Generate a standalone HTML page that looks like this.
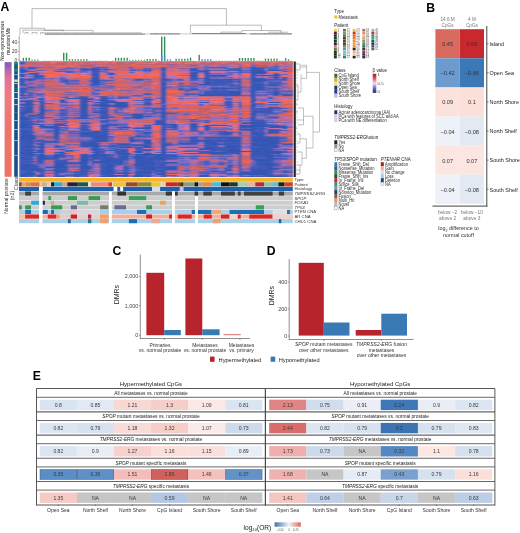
<!DOCTYPE html>
<html><head><meta charset="utf-8"><style>
html,body{margin:0;padding:0;background:#fff;}
svg{display:block;filter:blur(0.3px);}
text{font-family:"Liberation Sans",sans-serif;}
</style></head><body>
<svg width="520" height="533" viewBox="0 0 520 533">
<rect x="0" y="0" width="520" height="533" fill="#ffffff"/>
<text x="0.60" y="11.00" font-size="12.2" text-anchor="start" fill="#000" font-weight="bold" font-style="normal" >A</text>
<text x="426.30" y="11.60" font-size="12.2" text-anchor="start" fill="#000" font-weight="bold" font-style="normal" >B</text>
<text x="112.60" y="254.80" font-size="12.2" text-anchor="start" fill="#000" font-weight="bold" font-style="normal" >C</text>
<text x="266.80" y="254.50" font-size="12.2" text-anchor="start" fill="#000" font-weight="bold" font-style="normal" >D</text>
<text x="32.80" y="379.80" font-size="12.2" text-anchor="start" fill="#000" font-weight="bold" font-style="normal" >E</text>
<path d="M32,8.6 H226.4 M32,8.6 V28.2 M226.4,8.6 V25.2 M20,28.2 H44.6 M20,28.2 V35 M44.6,28.2 V30.4 M190.4,25.2 H261.4 M190.4,25.2 V33.4 M261.4,25.2 V30.5 M242,30.5 H281 M242,30.5 V32.2 M281,30.5 V33 M23,30.1 H63.5 M23,30.1 V33 M63.5,30.1 V31.2 M44.6,30.4 H93 M93,30.4 V32.8 M42,32.8 H141.7 M221,32.1 H242 M221,32.1 V33.5 M268,32.2 H288 M25,32.5 H28 M25,32.5 V34.3 M28,32.5 V34.3 M32,32.6 H37 M32,32.6 V34.3 M37,32.6 V34.3 M40.5,32.7 H43 M40.5,32.7 V34.3" stroke="#666" stroke-width="0.45" fill="none"/>
<path d="M44.6,34.1 H145 M150,33.9 H180 M191.8,33.7 H246 M250,33.9 H292" stroke="#3a3a3a" stroke-width="0.75" fill="none"/>
<path d="M145,33.9 H150 M180,33.9 H191.8 M246,33.9 H250" stroke="#999" stroke-width="0.5" fill="none"/>
<path d="M48,32.9 V34.2" stroke="#777" stroke-width="0.35" fill="none"/>
<path d="M52,32.9 V34.2" stroke="#777" stroke-width="0.35" fill="none"/>
<path d="M58,32.9 V34.2" stroke="#777" stroke-width="0.35" fill="none"/>
<path d="M66,32.9 V34.2" stroke="#777" stroke-width="0.35" fill="none"/>
<path d="M75,32.9 V34.2" stroke="#777" stroke-width="0.35" fill="none"/>
<path d="M90,32.9 V34.2" stroke="#777" stroke-width="0.35" fill="none"/>
<path d="M104,32.9 V34.2" stroke="#777" stroke-width="0.35" fill="none"/>
<path d="M120,32.9 V34.2" stroke="#777" stroke-width="0.35" fill="none"/>
<path d="M136,32.9 V34.2" stroke="#777" stroke-width="0.35" fill="none"/>
<path d="M156,32.9 V34.2" stroke="#777" stroke-width="0.35" fill="none"/>
<path d="M170,32.9 V34.2" stroke="#777" stroke-width="0.35" fill="none"/>
<path d="M200,32.9 V34.2" stroke="#777" stroke-width="0.35" fill="none"/>
<path d="M210,32.9 V34.2" stroke="#777" stroke-width="0.35" fill="none"/>
<path d="M230,32.9 V34.2" stroke="#777" stroke-width="0.35" fill="none"/>
<path d="M255,32.9 V34.2" stroke="#777" stroke-width="0.35" fill="none"/>
<path d="M265,32.9 V34.2" stroke="#777" stroke-width="0.35" fill="none"/>
<path d="M275,32.9 V34.2" stroke="#777" stroke-width="0.35" fill="none"/>
<path d="M283,32.9 V34.2" stroke="#777" stroke-width="0.35" fill="none"/>
<path d="M289,32.9 V34.2" stroke="#777" stroke-width="0.35" fill="none"/>
<line x1="19.20" y1="35.50" x2="19.20" y2="61.00" stroke="#555" stroke-width="0.5"/>
<line x1="18.00" y1="42.40" x2="19.20" y2="42.40" stroke="#555" stroke-width="0.5"/>
<text x="17.50" y="44.20" font-size="5.2" text-anchor="end" fill="#444" font-weight="normal" font-style="normal" >40</text>
<line x1="18.00" y1="51.30" x2="19.20" y2="51.30" stroke="#555" stroke-width="0.5"/>
<text x="17.50" y="53.10" font-size="5.2" text-anchor="end" fill="#444" font-weight="normal" font-style="normal" >20</text>
<line x1="18.00" y1="60.20" x2="19.20" y2="60.20" stroke="#555" stroke-width="0.5"/>
<text x="17.50" y="62.00" font-size="5.2" text-anchor="end" fill="#444" font-weight="normal" font-style="normal" >0</text>
<text transform="translate(4.4,41) rotate(-90)" font-size="5.3" text-anchor="middle" fill="#1a1a1a" textLength="40" lengthAdjust="spacingAndGlyphs">Non-synonymous</text>
<text transform="translate(9.9,41.3) rotate(-90)" font-size="5.3" text-anchor="middle" fill="#1a1a1a" textLength="27" lengthAdjust="spacingAndGlyphs">mutation/Mb</text>
<rect x="19.80" y="60.00" width="1.40" height="0.80" fill="#c9c9c9" />
<rect x="22.68" y="57.80" width="1.40" height="3.00" fill="#2f8f55" />
<rect x="25.57" y="57.80" width="1.40" height="3.00" fill="#2f8f55" />
<rect x="28.45" y="57.80" width="1.40" height="3.00" fill="#2f8f55" />
<rect x="31.33" y="59.60" width="1.40" height="1.20" fill="#3b8f6a" />
<rect x="34.21" y="59.60" width="1.40" height="1.20" fill="#3b8f6a" />
<rect x="37.09" y="59.60" width="1.40" height="1.20" fill="#3b8f6a" />
<rect x="42.86" y="60.00" width="1.40" height="0.80" fill="#d8c8c8" />
<rect x="45.74" y="60.00" width="1.40" height="0.80" fill="#d8c8c8" />
<rect x="48.62" y="60.00" width="1.40" height="0.80" fill="#d8c8c8" />
<rect x="51.50" y="60.00" width="1.40" height="0.80" fill="#d8c8c8" />
<rect x="54.38" y="60.00" width="1.40" height="0.80" fill="#d8c8c8" />
<rect x="57.27" y="60.00" width="1.40" height="0.80" fill="#d8c8c8" />
<rect x="60.15" y="60.00" width="1.40" height="0.80" fill="#d8c8c8" />
<rect x="63.03" y="52.80" width="1.40" height="8.00" fill="#2f8f55" />
<rect x="65.91" y="52.80" width="1.40" height="8.00" fill="#2f8f55" />
<rect x="68.80" y="59.20" width="1.40" height="1.60" fill="#2f8f55" />
<rect x="71.68" y="59.20" width="1.40" height="1.60" fill="#2f8f55" />
<rect x="74.56" y="59.20" width="1.40" height="1.60" fill="#2f8f55" />
<rect x="77.44" y="59.20" width="1.40" height="1.60" fill="#2f8f55" />
<rect x="80.32" y="59.20" width="1.40" height="1.60" fill="#2f8f55" />
<rect x="83.20" y="59.20" width="1.40" height="1.60" fill="#2f8f55" />
<rect x="86.09" y="59.20" width="1.40" height="1.60" fill="#2f8f55" />
<rect x="88.97" y="60.00" width="1.40" height="0.80" fill="#d8c8c8" />
<rect x="91.85" y="60.00" width="1.40" height="0.80" fill="#d8c8c8" />
<rect x="94.73" y="60.00" width="1.40" height="0.80" fill="#d8c8c8" />
<rect x="97.62" y="60.00" width="1.40" height="0.80" fill="#d8c8c8" />
<rect x="100.50" y="60.00" width="1.40" height="0.80" fill="#d8c8c8" />
<rect x="103.38" y="60.00" width="1.40" height="0.80" fill="#d8c8c8" />
<rect x="106.26" y="60.00" width="1.40" height="0.80" fill="#d8c8c8" />
<rect x="112.03" y="60.00" width="1.40" height="0.80" fill="#c9c9c9" />
<rect x="114.91" y="57.80" width="1.40" height="3.00" fill="#2f8f55" />
<rect x="117.79" y="57.80" width="1.40" height="3.00" fill="#2f8f55" />
<rect x="120.67" y="57.80" width="1.40" height="3.00" fill="#2f8f55" />
<rect x="123.55" y="57.80" width="1.40" height="3.00" fill="#2f8f55" />
<rect x="126.44" y="57.80" width="1.40" height="3.00" fill="#2f8f55" />
<rect x="129.32" y="59.80" width="1.40" height="1.00" fill="#3b8f6a" />
<rect x="132.20" y="59.80" width="1.40" height="1.00" fill="#3b8f6a" />
<rect x="135.08" y="59.80" width="1.40" height="1.00" fill="#3b8f6a" />
<rect x="137.96" y="59.80" width="1.40" height="1.00" fill="#3b8f6a" />
<rect x="140.84" y="59.80" width="1.40" height="1.00" fill="#3b8f6a" />
<rect x="143.73" y="59.80" width="1.40" height="1.00" fill="#3b8f6a" />
<rect x="146.61" y="59.00" width="1.40" height="1.80" fill="#2f8f55" />
<rect x="149.49" y="59.00" width="1.40" height="1.80" fill="#2f8f55" />
<rect x="152.37" y="59.00" width="1.40" height="1.80" fill="#2f8f55" />
<rect x="155.26" y="59.00" width="1.40" height="1.80" fill="#2f8f55" />
<rect x="158.14" y="59.90" width="1.40" height="0.90" fill="#e0c0a0" />
<rect x="161.02" y="36.60" width="1.40" height="24.20" fill="#2f8f55" />
<rect x="163.90" y="36.60" width="1.40" height="24.20" fill="#2f8f55" />
<rect x="166.78" y="59.30" width="1.40" height="1.50" fill="#3a8ad0" />
<rect x="169.67" y="59.30" width="1.40" height="1.50" fill="#3a8ad0" />
<rect x="175.43" y="58.80" width="1.40" height="2.00" fill="#2f8f55" />
<rect x="178.31" y="58.80" width="1.40" height="2.00" fill="#2f8f55" />
<rect x="181.19" y="58.80" width="1.40" height="2.00" fill="#2f8f55" />
<rect x="184.08" y="58.80" width="1.40" height="2.00" fill="#2f8f55" />
<rect x="186.96" y="58.80" width="1.40" height="2.00" fill="#2f8f55" />
<rect x="189.84" y="57.60" width="1.40" height="3.20" fill="#2f8f55" />
<rect x="192.72" y="60.00" width="1.40" height="0.80" fill="#c9c9c9" />
<rect x="198.49" y="54.80" width="1.40" height="6.00" fill="#2f8f55" />
<rect x="201.37" y="59.20" width="1.40" height="1.60" fill="#3a7fb0" />
<rect x="204.25" y="59.20" width="1.40" height="1.60" fill="#3a7fb0" />
<rect x="207.13" y="59.20" width="1.40" height="1.60" fill="#3a7fb0" />
<rect x="210.01" y="59.20" width="1.40" height="1.60" fill="#3a7fb0" />
<rect x="212.90" y="60.00" width="1.40" height="0.80" fill="#d0c8d0" />
<rect x="215.78" y="60.00" width="1.40" height="0.80" fill="#d0c8d0" />
<rect x="218.66" y="60.00" width="1.40" height="0.80" fill="#d0c8d0" />
<rect x="221.54" y="60.00" width="1.40" height="0.80" fill="#d0c8d0" />
<rect x="224.42" y="60.00" width="1.40" height="0.80" fill="#d0c8d0" />
<rect x="227.31" y="60.00" width="1.40" height="0.80" fill="#d0c8d0" />
<rect x="230.19" y="60.00" width="1.40" height="0.80" fill="#d0c8d0" />
<rect x="233.07" y="60.00" width="1.40" height="0.80" fill="#d0c8d0" />
<rect x="235.95" y="60.00" width="1.40" height="0.80" fill="#d0c8d0" />
<rect x="238.83" y="58.00" width="1.40" height="2.80" fill="#2f8f55" />
<rect x="241.72" y="58.00" width="1.40" height="2.80" fill="#2f8f55" />
<rect x="244.60" y="58.00" width="1.40" height="2.80" fill="#2f8f55" />
<rect x="247.48" y="58.00" width="1.40" height="2.80" fill="#2f8f55" />
<rect x="250.36" y="58.00" width="1.40" height="2.80" fill="#2f8f55" />
<rect x="253.24" y="58.00" width="1.40" height="2.80" fill="#2f8f55" />
<rect x="256.12" y="60.00" width="1.40" height="0.80" fill="#d0c8d0" />
<rect x="259.01" y="60.00" width="1.40" height="0.80" fill="#d0c8d0" />
<rect x="261.89" y="60.00" width="1.40" height="0.80" fill="#d0c8d0" />
<rect x="264.77" y="58.60" width="1.40" height="2.20" fill="#2f8f55" />
<rect x="267.65" y="58.60" width="1.40" height="2.20" fill="#2f8f55" />
<rect x="270.54" y="58.60" width="1.40" height="2.20" fill="#2f8f55" />
<rect x="273.42" y="58.60" width="1.40" height="2.20" fill="#2f8f55" />
<rect x="276.30" y="58.60" width="1.40" height="2.20" fill="#2f8f55" />
<rect x="279.18" y="60.00" width="1.40" height="0.80" fill="#d0c8d0" />
<rect x="282.06" y="60.00" width="1.40" height="0.80" fill="#d0c8d0" />
<rect x="284.95" y="58.20" width="1.40" height="2.60" fill="#2f8f55" />
<rect x="287.83" y="59.30" width="1.40" height="1.50" fill="#2f8f55" />
<rect x="290.71" y="60.00" width="1.40" height="0.80" fill="#c9c9c9" />
<rect x="161.02" y="55.70" width="1.40" height="5.10" fill="#3f8fd0" />
<rect x="163.90" y="55.70" width="1.40" height="5.10" fill="#3f8fd0" />
<defs><linearGradient id="gl" x1="0" y1="0" x2="0" y2="1"><stop offset="0" stop-color="#7a5cc0"/><stop offset="0.06" stop-color="#ad66b2"/><stop offset="0.13" stop-color="#de7098"/><stop offset="0.3" stop-color="#f07a84"/><stop offset="0.55" stop-color="#f0746e"/><stop offset="1" stop-color="#f07262"/></linearGradient><linearGradient id="gb" x1="0" y1="0" x2="1" y2="0"><stop offset="0" stop-color="#3a66b8"/><stop offset="0.5" stop-color="#ffffff"/><stop offset="1" stop-color="#dd7060"/></linearGradient><linearGradient id="gbeta" x1="0" y1="0" x2="0" y2="1"><stop offset="0" stop-color="#a81818"/><stop offset="0.22" stop-color="#e84444"/><stop offset="0.5" stop-color="#f2dde8"/><stop offset="0.75" stop-color="#6a72c8"/><stop offset="1" stop-color="#1a2470"/></linearGradient><filter id="blur" x="0" y="0" width="1" height="1"><feGaussianBlur stdDeviation="0.8 0.45"/></filter></defs>
<rect x="4.60" y="62.20" width="7.00" height="114.60" fill="url(#gl)" />
<rect x="14.20" y="62.20" width="3.60" height="114.60" fill="#1b4f86" />
<rect x="14.20" y="62.20" width="3.60" height="2.30" fill="#2a8a6a" />
<rect x="14.20" y="66.00" width="3.60" height="1.50" fill="#1a6a60" />
<rect x="14.20" y="69.00" width="3.60" height="2.50" fill="#2a9070" />
<rect x="14.20" y="74.00" width="3.60" height="1.00" fill="#78b8c8" />
<rect x="14.20" y="79.50" width="3.60" height="2.30" fill="#e8e0a0" />
<rect x="14.20" y="83.00" width="3.60" height="1.00" fill="#8ad0d8" />
<rect x="14.20" y="88.00" width="3.60" height="1.50" fill="#2a7a6a" />
<rect x="14.20" y="92.00" width="3.60" height="1.00" fill="#a0d8e8" />
<rect x="14.20" y="98.00" width="3.60" height="1.00" fill="#c0e0f0" />
<rect x="14.20" y="104.00" width="3.60" height="1.00" fill="#a0d0e8" />
<rect x="14.20" y="112.00" width="3.60" height="1.00" fill="#3a8a7a" />
<rect x="14.20" y="120.00" width="3.60" height="1.00" fill="#90c8e0" />
<rect x="14.20" y="129.00" width="3.60" height="1.00" fill="#a0d0e8" />
<rect x="14.20" y="140.00" width="3.60" height="1.00" fill="#80c0d8" />
<rect x="14.20" y="155.00" width="3.60" height="1.00" fill="#70b0d0" />
<g filter="url(#blur)">
<rect x="19.00" y="61.50" width="274.60" height="115.50" fill="#3157b4" />
<path fill="#3b59b8" d="M19.0 62.46h2.94v1.01h-2.94zM258.9 65.35h2.94v1.01h-2.94zM19.0 67.28h2.94v1.01h-2.94zM250.2 67.28h2.94v1.01h-2.94zM33.5 68.24h2.94v1.01h-2.94zM79.7 68.24h2.94v1.01h-2.94zM97.0 68.24h2.94v1.01h-2.94zM149.1 68.24h2.94v1.01h-2.94zM230.0 68.24h8.72v1.01h-8.72zM253.1 68.24h8.72v1.01h-8.72zM19.0 69.20h2.94v1.01h-2.94zM59.5 69.20h2.94v1.01h-2.94zM149.1 69.20h2.94v1.01h-2.94zM195.3 69.20h2.94v1.01h-2.94zM250.2 69.20h11.61v1.01h-11.61zM24.8 70.16h2.94v1.01h-2.94zM209.8 70.16h8.72v1.01h-8.72zM221.3 70.16h2.94v1.01h-2.94zM253.1 70.16h5.83v1.01h-5.83zM261.8 70.16h2.94v1.01h-2.94zM238.7 71.12h2.94v1.01h-2.94zM250.2 71.12h5.83v1.01h-5.83zM19.0 72.09h5.83v1.01h-5.83zM91.3 72.09h2.94v1.01h-2.94zM160.6 72.09h2.94v1.01h-2.94zM204.0 72.09h5.83v1.01h-5.83zM238.7 72.09h2.94v1.01h-2.94zM36.3 73.05h2.94v1.01h-2.94zM91.3 73.05h8.72v1.01h-8.72zM94.2 74.01h5.83v1.01h-5.83zM192.4 74.01h5.83v1.01h-5.83zM204.0 74.01h5.83v1.01h-5.83zM250.2 74.01h5.83v1.01h-5.83zM36.3 74.97h2.94v1.01h-2.94zM163.5 74.97h2.94v1.01h-2.94zM206.9 74.97h2.94v1.01h-2.94zM267.6 74.97h2.94v1.01h-2.94zM19.0 75.94h2.94v1.01h-2.94zM94.2 75.94h5.83v1.01h-5.83zM160.6 75.94h2.94v1.01h-2.94zM212.7 75.94h2.94v1.01h-2.94zM221.3 75.94h2.94v1.01h-2.94zM273.4 75.94h2.94v1.01h-2.94zM33.5 76.90h5.83v1.01h-5.83zM91.3 76.90h8.72v1.01h-8.72zM111.5 76.90h2.94v1.01h-2.94zM189.5 76.90h8.72v1.01h-8.72zM206.9 76.90h2.94v1.01h-2.94zM253.1 76.90h2.94v1.01h-2.94zM36.3 77.86h5.83v1.01h-5.83zM97.0 77.86h2.94v1.01h-2.94zM253.1 77.86h2.94v1.01h-2.94zM273.4 77.86h5.83v1.01h-5.83zM91.3 78.83h8.72v1.01h-8.72zM137.5 78.83h5.83v1.01h-5.83zM166.4 78.83h2.94v1.01h-2.94zM206.9 78.83h5.83v1.01h-5.83zM221.3 78.83h2.94v1.01h-2.94zM256.0 78.83h2.94v1.01h-2.94zM270.5 78.83h2.94v1.01h-2.94zM282.0 78.83h2.94v1.01h-2.94zM19.0 79.79h2.94v1.01h-2.94zM27.7 79.79h2.94v1.01h-2.94zM137.5 79.79h5.83v1.01h-5.83zM160.6 79.79h2.94v1.01h-2.94zM180.9 79.79h2.94v1.01h-2.94zM195.3 79.79h2.94v1.01h-2.94zM204.0 79.79h2.94v1.01h-2.94zM212.7 79.79h8.72v1.01h-8.72zM230.0 79.79h2.94v1.01h-2.94zM261.8 79.79h2.94v1.01h-2.94zM19.0 80.75h5.83v1.01h-5.83zM204.0 80.75h2.94v1.01h-2.94zM218.4 80.75h2.94v1.01h-2.94zM253.1 80.75h8.72v1.01h-8.72zM19.0 81.71h2.94v1.01h-2.94zM91.3 81.71h2.94v1.01h-2.94zM227.1 81.71h5.83v1.01h-5.83zM253.1 81.71h2.94v1.01h-2.94zM270.5 81.71h2.94v1.01h-2.94zM279.1 81.71h2.94v1.01h-2.94zM19.0 82.67h2.94v1.01h-2.94zM65.2 82.67h2.94v1.01h-2.94zM91.3 82.67h2.94v1.01h-2.94zM36.3 83.64h2.94v1.01h-2.94zM42.1 83.64h2.94v1.01h-2.94zM68.1 83.64h2.94v1.01h-2.94zM73.9 83.64h5.83v1.01h-5.83zM99.9 83.64h5.83v1.01h-5.83zM160.6 83.64h2.94v1.01h-2.94zM169.3 83.64h2.94v1.01h-2.94zM209.8 83.64h2.94v1.01h-2.94zM215.6 83.64h5.83v1.01h-5.83zM230.0 83.64h2.94v1.01h-2.94zM238.7 83.64h2.94v1.01h-2.94zM250.2 83.64h2.94v1.01h-2.94zM264.7 83.64h2.94v1.01h-2.94zM276.3 83.64h2.94v1.01h-2.94zM24.8 84.60h2.94v1.01h-2.94zM94.2 84.60h5.83v1.01h-5.83zM212.7 84.60h2.94v1.01h-2.94zM218.4 84.60h5.83v1.01h-5.83zM253.1 84.60h5.83v1.01h-5.83zM163.5 85.56h2.94v1.01h-2.94zM183.8 85.56h2.94v1.01h-2.94zM230.0 85.56h2.94v1.01h-2.94zM253.1 85.56h8.72v1.01h-8.72zM27.7 86.53h5.83v1.01h-5.83zM97.0 86.53h2.94v1.01h-2.94zM160.6 86.53h2.94v1.01h-2.94zM253.1 86.53h2.94v1.01h-2.94zM33.5 87.49h2.94v1.01h-2.94zM42.1 87.49h2.94v1.01h-2.94zM227.1 87.49h2.94v1.01h-2.94zM253.1 87.49h2.94v1.01h-2.94zM258.9 87.49h5.83v1.01h-5.83zM19.0 88.45h2.94v1.01h-2.94zM192.4 88.45h2.94v1.01h-2.94zM250.2 88.45h14.50v1.01h-14.50zM267.6 88.45h2.94v1.01h-2.94zM273.4 88.45h5.83v1.01h-5.83zM27.7 89.41h2.94v1.01h-2.94zM178.0 89.41h5.83v1.01h-5.83zM189.5 89.41h2.94v1.01h-2.94zM195.3 89.41h2.94v1.01h-2.94zM19.0 90.38h5.83v1.01h-5.83zM117.3 90.38h5.83v1.01h-5.83zM125.9 90.38h2.94v1.01h-2.94zM206.9 90.38h8.72v1.01h-8.72zM253.1 90.38h2.94v1.01h-2.94zM276.3 90.38h2.94v1.01h-2.94zM19.0 91.34h2.94v1.01h-2.94zM209.8 91.34h2.94v1.01h-2.94zM215.6 91.34h5.83v1.01h-5.83zM232.9 91.34h2.94v1.01h-2.94zM273.4 91.34h2.94v1.01h-2.94zM282.0 91.34h2.94v1.01h-2.94zM290.7 91.34h2.94v1.01h-2.94zM19.0 92.30h5.83v1.01h-5.83zM206.9 92.30h2.94v1.01h-2.94zM215.6 92.30h8.72v1.01h-8.72zM276.3 92.30h2.94v1.01h-2.94zM30.6 93.26h2.94v1.01h-2.94zM146.2 93.26h5.83v1.01h-5.83zM186.7 93.26h2.94v1.01h-2.94zM204.0 93.26h2.94v1.01h-2.94zM215.6 93.26h2.94v1.01h-2.94zM221.3 93.26h2.94v1.01h-2.94zM227.1 93.26h2.94v1.01h-2.94zM19.0 94.22h2.94v1.01h-2.94zM39.2 94.22h5.83v1.01h-5.83zM163.5 94.22h2.94v1.01h-2.94zM212.7 94.22h2.94v1.01h-2.94zM224.2 94.22h2.94v1.01h-2.94zM258.9 94.22h2.94v1.01h-2.94zM264.7 94.22h2.94v1.01h-2.94zM287.8 94.22h2.94v1.01h-2.94zM27.7 95.19h2.94v1.01h-2.94zM131.7 95.19h2.94v1.01h-2.94zM140.4 95.19h2.94v1.01h-2.94zM209.8 95.19h5.83v1.01h-5.83zM218.4 95.19h5.83v1.01h-5.83zM227.1 95.19h2.94v1.01h-2.94zM238.7 95.19h2.94v1.01h-2.94zM85.5 96.15h2.94v1.01h-2.94zM102.8 96.15h2.94v1.01h-2.94zM160.6 96.15h2.94v1.01h-2.94zM253.1 96.15h2.94v1.01h-2.94zM19.0 97.11h2.94v1.01h-2.94zM30.6 97.11h2.94v1.01h-2.94zM59.5 97.11h2.94v1.01h-2.94zM65.2 97.11h2.94v1.01h-2.94zM99.9 97.11h2.94v1.01h-2.94zM105.7 97.11h2.94v1.01h-2.94zM117.3 97.11h5.83v1.01h-5.83zM253.1 97.11h2.94v1.01h-2.94zM24.8 98.08h2.94v1.01h-2.94zM42.1 98.08h2.94v1.01h-2.94zM253.1 98.08h2.94v1.01h-2.94zM267.6 98.08h5.83v1.01h-5.83zM27.7 100.00h5.83v1.01h-5.83zM79.7 100.00h2.94v1.01h-2.94zM250.2 100.00h2.94v1.01h-2.94zM30.6 100.96h2.94v1.01h-2.94zM39.2 100.96h2.94v1.01h-2.94zM91.3 100.96h2.94v1.01h-2.94zM24.8 101.93h5.83v1.01h-5.83zM79.7 101.93h2.94v1.01h-2.94zM111.5 101.93h2.94v1.01h-2.94zM125.9 101.93h2.94v1.01h-2.94zM160.6 101.93h5.83v1.01h-5.83zM206.9 101.93h2.94v1.01h-2.94zM250.2 101.93h2.94v1.01h-2.94zM24.8 102.89h2.94v1.01h-2.94zM39.2 102.89h2.94v1.01h-2.94zM45.0 102.89h5.83v1.01h-5.83zM82.6 102.89h5.83v1.01h-5.83zM114.4 102.89h2.94v1.01h-2.94zM123.1 102.89h2.94v1.01h-2.94zM143.3 102.89h2.94v1.01h-2.94zM149.1 102.89h2.94v1.01h-2.94zM253.1 102.89h2.94v1.01h-2.94zM42.1 103.85h2.94v1.01h-2.94zM105.7 103.85h2.94v1.01h-2.94zM114.4 103.85h2.94v1.01h-2.94zM21.9 104.81h2.94v1.01h-2.94zM30.6 104.81h2.94v1.01h-2.94zM42.1 104.81h2.94v1.01h-2.94zM160.6 104.81h5.83v1.01h-5.83zM250.2 104.81h2.94v1.01h-2.94zM24.8 105.78h2.94v1.01h-2.94zM39.2 105.78h5.83v1.01h-5.83zM111.5 105.78h2.94v1.01h-2.94zM163.5 105.78h2.94v1.01h-2.94zM253.1 105.78h2.94v1.01h-2.94zM30.6 106.74h2.94v1.01h-2.94zM65.2 106.74h2.94v1.01h-2.94zM82.6 106.74h2.94v1.01h-2.94zM114.4 106.74h8.72v1.01h-8.72zM125.9 106.74h2.94v1.01h-2.94zM250.2 106.74h2.94v1.01h-2.94zM267.6 106.74h11.61v1.01h-11.61zM24.8 107.70h2.94v1.01h-2.94zM82.6 107.70h2.94v1.01h-2.94zM146.2 107.70h2.94v1.01h-2.94zM157.7 107.70h5.83v1.01h-5.83zM273.4 107.70h2.94v1.01h-2.94zM21.9 108.66h2.94v1.01h-2.94zM79.7 108.66h5.83v1.01h-5.83zM105.7 108.66h2.94v1.01h-2.94zM160.6 108.66h2.94v1.01h-2.94zM250.2 108.66h2.94v1.01h-2.94zM267.6 108.66h5.83v1.01h-5.83zM45.0 109.62h8.72v1.01h-8.72zM152.0 109.62h2.94v1.01h-2.94zM39.2 110.59h2.94v1.01h-2.94zM71.0 110.59h8.72v1.01h-8.72zM82.6 110.59h2.94v1.01h-2.94zM99.9 110.59h2.94v1.01h-2.94zM250.2 110.59h2.94v1.01h-2.94zM258.9 110.59h2.94v1.01h-2.94zM264.7 110.59h2.94v1.01h-2.94zM85.5 111.55h2.94v1.01h-2.94zM97.0 111.55h2.94v1.01h-2.94zM105.7 111.55h2.94v1.01h-2.94zM154.9 111.55h2.94v1.01h-2.94zM160.6 111.55h5.83v1.01h-5.83zM270.5 111.55h2.94v1.01h-2.94zM30.6 112.51h2.94v1.01h-2.94zM59.5 112.51h5.83v1.01h-5.83zM79.7 112.51h5.83v1.01h-5.83zM97.0 112.51h2.94v1.01h-2.94zM253.1 112.51h2.94v1.01h-2.94zM19.0 113.47h2.94v1.01h-2.94zM24.8 113.47h2.94v1.01h-2.94zM39.2 113.47h2.94v1.01h-2.94zM62.4 113.47h2.94v1.01h-2.94zM85.5 113.47h2.94v1.01h-2.94zM19.0 114.44h5.83v1.01h-5.83zM33.5 114.44h2.94v1.01h-2.94zM91.3 114.44h2.94v1.01h-2.94zM102.8 114.44h5.83v1.01h-5.83zM131.7 114.44h2.94v1.01h-2.94zM163.5 114.44h2.94v1.01h-2.94zM250.2 114.44h2.94v1.01h-2.94zM256.0 114.44h2.94v1.01h-2.94zM21.9 115.40h2.94v1.01h-2.94zM27.7 115.40h2.94v1.01h-2.94zM62.4 115.40h2.94v1.01h-2.94zM82.6 115.40h2.94v1.01h-2.94zM99.9 115.40h2.94v1.01h-2.94zM105.7 115.40h2.94v1.01h-2.94zM131.7 115.40h2.94v1.01h-2.94zM253.1 115.40h2.94v1.01h-2.94zM42.1 116.36h2.94v1.01h-2.94zM99.9 116.36h2.94v1.01h-2.94zM108.6 116.36h2.94v1.01h-2.94zM131.7 116.36h2.94v1.01h-2.94zM163.5 116.36h2.94v1.01h-2.94zM264.7 116.36h2.94v1.01h-2.94zM36.3 117.33h8.72v1.01h-8.72zM76.8 117.33h2.94v1.01h-2.94zM82.6 117.33h5.83v1.01h-5.83zM94.2 117.33h5.83v1.01h-5.83zM160.6 117.33h5.83v1.01h-5.83zM238.7 117.33h2.94v1.01h-2.94zM253.1 117.33h2.94v1.01h-2.94zM267.6 117.33h5.83v1.01h-5.83zM39.2 118.29h5.83v1.01h-5.83zM140.4 118.29h2.94v1.01h-2.94zM160.6 119.25h2.94v1.01h-2.94zM250.2 119.25h2.94v1.01h-2.94zM19.0 120.21h5.83v1.01h-5.83zM108.6 120.21h2.94v1.01h-2.94zM250.2 120.21h5.83v1.01h-5.83zM19.0 121.18h8.72v1.01h-8.72zM36.3 121.18h2.94v1.01h-2.94zM62.4 121.18h2.94v1.01h-2.94zM105.7 121.18h2.94v1.01h-2.94zM189.5 121.18h2.94v1.01h-2.94zM195.3 121.18h2.94v1.01h-2.94zM256.0 121.18h2.94v1.01h-2.94zM261.8 121.18h2.94v1.01h-2.94zM19.0 122.14h5.83v1.01h-5.83zM79.7 122.14h8.72v1.01h-8.72zM99.9 122.14h5.83v1.01h-5.83zM154.9 122.14h11.61v1.01h-11.61zM241.6 122.14h2.94v1.01h-2.94zM247.4 122.14h2.94v1.01h-2.94zM19.0 123.10h8.72v1.01h-8.72zM154.9 123.10h2.94v1.01h-2.94zM189.5 123.10h8.72v1.01h-8.72zM27.7 124.06h2.94v1.01h-2.94zM53.7 124.06h2.94v1.01h-2.94zM62.4 124.06h2.94v1.01h-2.94zM105.7 124.06h2.94v1.01h-2.94zM250.2 124.06h11.61v1.01h-11.61zM65.2 125.03h2.94v1.01h-2.94zM85.5 125.03h2.94v1.01h-2.94zM102.8 125.03h2.94v1.01h-2.94zM143.3 125.03h5.83v1.01h-5.83zM160.6 125.03h5.83v1.01h-5.83zM204.0 125.03h2.94v1.01h-2.94zM267.6 125.03h2.94v1.01h-2.94zM276.3 125.03h2.94v1.01h-2.94zM27.7 125.99h2.94v1.01h-2.94zM56.6 125.99h2.94v1.01h-2.94zM172.2 125.99h2.94v1.01h-2.94zM24.8 126.95h2.94v1.01h-2.94zM39.2 126.95h5.83v1.01h-5.83zM79.7 126.95h2.94v1.01h-2.94zM85.5 126.95h2.94v1.01h-2.94zM99.9 126.95h8.72v1.01h-8.72zM146.2 126.95h2.94v1.01h-2.94zM160.6 126.95h11.61v1.01h-11.61zM195.3 126.95h2.94v1.01h-2.94zM204.0 126.95h2.94v1.01h-2.94zM238.7 126.95h2.94v1.01h-2.94zM244.5 126.95h2.94v1.01h-2.94zM253.1 126.95h2.94v1.01h-2.94zM258.9 126.95h5.83v1.01h-5.83zM27.7 127.91h2.94v1.01h-2.94zM53.7 127.91h5.83v1.01h-5.83zM79.7 127.91h2.94v1.01h-2.94zM85.5 127.91h2.94v1.01h-2.94zM102.8 127.91h2.94v1.01h-2.94zM160.6 127.91h5.83v1.01h-5.83zM189.5 127.91h2.94v1.01h-2.94zM195.3 127.91h2.94v1.01h-2.94zM206.9 127.91h2.94v1.01h-2.94zM250.2 127.91h2.94v1.01h-2.94zM256.0 127.91h5.83v1.01h-5.83zM53.7 128.88h2.94v1.01h-2.94zM79.7 128.88h5.83v1.01h-5.83zM160.6 128.88h2.94v1.01h-2.94zM218.4 128.88h2.94v1.01h-2.94zM230.0 128.88h2.94v1.01h-2.94zM261.8 128.88h2.94v1.01h-2.94zM19.0 129.84h2.94v1.01h-2.94zM24.8 129.84h2.94v1.01h-2.94zM53.7 129.84h2.94v1.01h-2.94zM65.2 129.84h2.94v1.01h-2.94zM88.4 129.84h2.94v1.01h-2.94zM105.7 129.84h2.94v1.01h-2.94zM204.0 129.84h5.83v1.01h-5.83zM244.5 129.84h2.94v1.01h-2.94zM258.9 129.84h2.94v1.01h-2.94zM267.6 129.84h2.94v1.01h-2.94zM279.1 129.84h2.94v1.01h-2.94zM71.0 130.80h2.94v1.01h-2.94zM76.8 130.80h2.94v1.01h-2.94zM94.2 130.80h2.94v1.01h-2.94zM102.8 130.80h2.94v1.01h-2.94zM134.6 130.80h8.72v1.01h-8.72zM215.6 130.80h2.94v1.01h-2.94zM270.5 130.80h2.94v1.01h-2.94zM24.8 131.76h2.94v1.01h-2.94zM85.5 131.76h8.72v1.01h-8.72zM201.1 131.76h2.94v1.01h-2.94zM253.1 131.76h5.83v1.01h-5.83zM261.8 131.76h2.94v1.01h-2.94zM21.9 132.73h5.83v1.01h-5.83zM68.1 132.73h2.94v1.01h-2.94zM94.2 132.73h5.83v1.01h-5.83zM102.8 132.73h2.94v1.01h-2.94zM258.9 132.73h2.94v1.01h-2.94zM270.5 132.73h2.94v1.01h-2.94zM19.0 133.69h5.83v1.01h-5.83zM30.6 133.69h2.94v1.01h-2.94zM94.2 133.69h2.94v1.01h-2.94zM99.9 133.69h2.94v1.01h-2.94zM160.6 133.69h5.83v1.01h-5.83zM227.1 133.69h2.94v1.01h-2.94zM253.1 133.69h2.94v1.01h-2.94zM21.9 134.65h5.83v1.01h-5.83zM56.6 134.65h2.94v1.01h-2.94zM79.7 134.65h5.83v1.01h-5.83zM88.4 134.65h2.94v1.01h-2.94zM94.2 134.65h2.94v1.01h-2.94zM227.1 134.65h5.83v1.01h-5.83zM258.9 134.65h2.94v1.01h-2.94zM137.5 135.61h2.94v1.01h-2.94zM19.0 136.57h2.94v1.01h-2.94zM24.8 136.57h2.94v1.01h-2.94zM53.7 136.57h5.83v1.01h-5.83zM91.3 136.57h2.94v1.01h-2.94zM108.6 136.57h5.83v1.01h-5.83zM163.5 136.57h2.94v1.01h-2.94zM192.4 136.57h2.94v1.01h-2.94zM204.0 136.57h2.94v1.01h-2.94zM227.1 136.57h2.94v1.01h-2.94zM232.9 136.57h2.94v1.01h-2.94zM238.7 136.57h2.94v1.01h-2.94zM250.2 136.57h2.94v1.01h-2.94zM258.9 136.57h2.94v1.01h-2.94zM273.4 136.57h2.94v1.01h-2.94zM24.8 137.54h2.94v1.01h-2.94zM30.6 137.54h2.94v1.01h-2.94zM128.8 137.54h2.94v1.01h-2.94zM178.0 137.54h2.94v1.01h-2.94zM204.0 137.54h2.94v1.01h-2.94zM209.8 137.54h8.72v1.01h-8.72zM221.3 137.54h2.94v1.01h-2.94zM267.6 137.54h2.94v1.01h-2.94zM21.9 138.50h2.94v1.01h-2.94zM94.2 138.50h14.50v1.01h-14.50zM227.1 138.50h5.83v1.01h-5.83zM235.8 138.50h5.83v1.01h-5.83zM21.9 139.46h5.83v1.01h-5.83zM30.6 139.46h2.94v1.01h-2.94zM94.2 139.46h8.72v1.01h-8.72zM160.6 139.46h2.94v1.01h-2.94zM189.5 139.46h8.72v1.01h-8.72zM209.8 139.46h8.72v1.01h-8.72zM221.3 139.46h8.72v1.01h-8.72zM235.8 139.46h5.83v1.01h-5.83zM250.2 139.46h2.94v1.01h-2.94zM267.6 139.46h11.61v1.01h-11.61zM21.9 140.43h2.94v1.01h-2.94zM27.7 140.43h2.94v1.01h-2.94zM36.3 140.43h5.83v1.01h-5.83zM128.8 140.43h2.94v1.01h-2.94zM134.6 140.43h2.94v1.01h-2.94zM209.8 140.43h5.83v1.01h-5.83zM224.2 140.43h2.94v1.01h-2.94zM253.1 140.43h5.83v1.01h-5.83zM264.7 140.43h2.94v1.01h-2.94zM270.5 140.43h2.94v1.01h-2.94zM19.0 141.39h5.83v1.01h-5.83zM97.0 141.39h2.94v1.01h-2.94zM131.7 141.39h2.94v1.01h-2.94zM146.2 141.39h2.94v1.01h-2.94zM189.5 141.39h2.94v1.01h-2.94zM232.9 141.39h2.94v1.01h-2.94zM253.1 141.39h2.94v1.01h-2.94zM27.7 142.35h5.83v1.01h-5.83zM39.2 142.35h2.94v1.01h-2.94zM94.2 142.35h2.94v1.01h-2.94zM169.3 142.35h2.94v1.01h-2.94zM186.7 142.35h2.94v1.01h-2.94zM195.3 142.35h2.94v1.01h-2.94zM212.7 142.35h5.83v1.01h-5.83zM227.1 142.35h11.61v1.01h-11.61zM253.1 142.35h2.94v1.01h-2.94zM21.9 143.31h8.72v1.01h-8.72zM39.2 143.31h2.94v1.01h-2.94zM97.0 143.31h2.94v1.01h-2.94zM117.3 143.31h11.61v1.01h-11.61zM160.6 143.31h2.94v1.01h-2.94zM195.3 143.31h2.94v1.01h-2.94zM215.6 143.31h5.83v1.01h-5.83zM227.1 143.31h5.83v1.01h-5.83zM235.8 143.31h5.83v1.01h-5.83zM258.9 143.31h5.83v1.01h-5.83zM279.1 143.31h2.94v1.01h-2.94zM290.7 143.31h2.94v1.01h-2.94zM19.0 144.28h2.94v1.01h-2.94zM24.8 144.28h2.94v1.01h-2.94zM82.6 144.28h2.94v1.01h-2.94zM88.4 144.28h2.94v1.01h-2.94zM250.2 144.28h2.94v1.01h-2.94zM267.6 144.28h5.83v1.01h-5.83zM290.7 144.28h2.94v1.01h-2.94zM24.8 145.24h8.72v1.01h-8.72zM82.6 145.24h2.94v1.01h-2.94zM88.4 145.24h2.94v1.01h-2.94zM108.6 145.24h8.72v1.01h-8.72zM146.2 145.24h2.94v1.01h-2.94zM163.5 145.24h2.94v1.01h-2.94zM204.0 145.24h2.94v1.01h-2.94zM215.6 145.24h2.94v1.01h-2.94zM224.2 145.24h2.94v1.01h-2.94zM250.2 145.24h2.94v1.01h-2.94zM267.6 145.24h5.83v1.01h-5.83zM276.3 145.24h2.94v1.01h-2.94zM33.5 146.20h5.83v1.01h-5.83zM79.7 146.20h8.72v1.01h-8.72zM125.9 146.20h2.94v1.01h-2.94zM146.2 146.20h5.83v1.01h-5.83zM209.8 146.20h2.94v1.01h-2.94zM264.7 146.20h5.83v1.01h-5.83zM19.0 147.16h5.83v1.01h-5.83zM160.6 147.16h5.83v1.01h-5.83zM204.0 147.16h2.94v1.01h-2.94zM218.4 147.16h2.94v1.01h-2.94zM235.8 147.16h2.94v1.01h-2.94zM261.8 147.16h14.50v1.01h-14.50zM24.8 148.12h2.94v1.01h-2.94zM30.6 148.12h2.94v1.01h-2.94zM94.2 148.12h2.94v1.01h-2.94zM134.6 148.12h2.94v1.01h-2.94zM140.4 148.12h2.94v1.01h-2.94zM163.5 148.12h2.94v1.01h-2.94zM204.0 148.12h2.94v1.01h-2.94zM212.7 148.12h8.72v1.01h-8.72zM224.2 148.12h2.94v1.01h-2.94zM232.9 148.12h5.83v1.01h-5.83zM253.1 148.12h5.83v1.01h-5.83zM264.7 148.12h5.83v1.01h-5.83zM30.6 149.09h5.83v1.01h-5.83zM39.2 149.09h2.94v1.01h-2.94zM114.4 149.09h2.94v1.01h-2.94zM160.6 149.09h5.83v1.01h-5.83zM209.8 149.09h11.61v1.01h-11.61zM253.1 149.09h2.94v1.01h-2.94zM261.8 149.09h5.83v1.01h-5.83zM270.5 149.09h5.83v1.01h-5.83zM91.3 150.05h8.72v1.01h-8.72zM137.5 150.05h2.94v1.01h-2.94zM209.8 150.05h2.94v1.01h-2.94zM215.6 150.05h2.94v1.01h-2.94zM224.2 150.05h2.94v1.01h-2.94zM258.9 150.05h14.50v1.01h-14.50zM19.0 151.01h2.94v1.01h-2.94zM24.8 151.01h8.72v1.01h-8.72zM36.3 151.01h5.83v1.01h-5.83zM65.2 151.01h2.94v1.01h-2.94zM99.9 151.01h2.94v1.01h-2.94zM160.6 151.01h5.83v1.01h-5.83zM204.0 151.01h2.94v1.01h-2.94zM247.4 151.01h2.94v1.01h-2.94zM284.9 151.01h2.94v1.01h-2.94zM24.8 151.98h2.94v1.01h-2.94zM36.3 151.98h2.94v1.01h-2.94zM53.7 151.98h5.83v1.01h-5.83zM91.3 151.98h2.94v1.01h-2.94zM102.8 151.98h2.94v1.01h-2.94zM114.4 151.98h2.94v1.01h-2.94zM125.9 151.98h2.94v1.01h-2.94zM201.1 151.98h2.94v1.01h-2.94zM206.9 151.98h2.94v1.01h-2.94zM227.1 151.98h2.94v1.01h-2.94zM235.8 151.98h5.83v1.01h-5.83zM250.2 151.98h5.83v1.01h-5.83zM258.9 151.98h5.83v1.01h-5.83zM282.0 151.98h2.94v1.01h-2.94zM21.9 152.94h11.61v1.01h-11.61zM62.4 152.94h2.94v1.01h-2.94zM146.2 152.94h5.83v1.01h-5.83zM160.6 152.94h2.94v1.01h-2.94zM183.8 152.94h2.94v1.01h-2.94zM198.2 152.94h2.94v1.01h-2.94zM212.7 152.94h14.50v1.01h-14.50zM235.8 152.94h5.83v1.01h-5.83zM21.9 153.90h2.94v1.01h-2.94zM62.4 153.90h2.94v1.01h-2.94zM85.5 153.90h2.94v1.01h-2.94zM97.0 153.90h2.94v1.01h-2.94zM105.7 153.90h2.94v1.01h-2.94zM134.6 153.90h2.94v1.01h-2.94zM230.0 153.90h2.94v1.01h-2.94zM253.1 153.90h2.94v1.01h-2.94zM264.7 153.90h5.83v1.01h-5.83zM19.0 154.86h2.94v1.01h-2.94zM24.8 154.86h5.83v1.01h-5.83zM125.9 154.86h2.94v1.01h-2.94zM134.6 154.86h2.94v1.01h-2.94zM140.4 154.86h2.94v1.01h-2.94zM154.9 154.86h2.94v1.01h-2.94zM160.6 154.86h2.94v1.01h-2.94zM175.1 154.86h2.94v1.01h-2.94zM256.0 154.86h2.94v1.01h-2.94zM27.7 155.82h2.94v1.01h-2.94zM79.7 155.82h2.94v1.01h-2.94zM85.5 155.82h2.94v1.01h-2.94zM97.0 155.82h5.83v1.01h-5.83zM134.6 155.82h2.94v1.01h-2.94zM163.5 155.82h2.94v1.01h-2.94zM169.3 155.82h2.94v1.01h-2.94zM175.1 155.82h2.94v1.01h-2.94zM183.8 155.82h2.94v1.01h-2.94zM256.0 155.82h2.94v1.01h-2.94zM264.7 155.82h2.94v1.01h-2.94zM91.3 156.79h2.94v1.01h-2.94zM105.7 156.79h5.83v1.01h-5.83zM123.1 156.79h2.94v1.01h-2.94zM149.1 156.79h2.94v1.01h-2.94zM253.1 156.79h14.50v1.01h-14.50zM19.0 157.75h8.72v1.01h-8.72zM36.3 157.75h2.94v1.01h-2.94zM53.7 157.75h5.83v1.01h-5.83zM79.7 157.75h5.83v1.01h-5.83zM91.3 157.75h2.94v1.01h-2.94zM102.8 157.75h2.94v1.01h-2.94zM111.5 157.75h2.94v1.01h-2.94zM120.2 157.75h2.94v1.01h-2.94zM152.0 157.75h2.94v1.01h-2.94zM169.3 157.75h2.94v1.01h-2.94zM180.9 157.75h2.94v1.01h-2.94zM279.1 157.75h2.94v1.01h-2.94zM47.9 158.71h5.83v1.01h-5.83zM65.2 158.71h5.83v1.01h-5.83zM88.4 158.71h2.94v1.01h-2.94zM97.0 158.71h8.72v1.01h-8.72zM114.4 158.71h8.72v1.01h-8.72zM140.4 158.71h2.94v1.01h-2.94zM238.7 158.71h2.94v1.01h-2.94zM279.1 158.71h2.94v1.01h-2.94zM36.3 159.68h5.83v1.01h-5.83zM59.5 159.68h2.94v1.01h-2.94zM65.2 159.68h2.94v1.01h-2.94zM91.3 159.68h2.94v1.01h-2.94zM99.9 159.68h5.83v1.01h-5.83zM137.5 159.68h2.94v1.01h-2.94zM143.3 159.68h2.94v1.01h-2.94zM149.1 159.68h2.94v1.01h-2.94zM157.7 159.68h2.94v1.01h-2.94zM163.5 159.68h2.94v1.01h-2.94zM267.6 159.68h2.94v1.01h-2.94zM19.0 160.64h2.94v1.01h-2.94zM27.7 160.64h2.94v1.01h-2.94zM36.3 160.64h2.94v1.01h-2.94zM82.6 160.64h2.94v1.01h-2.94zM91.3 160.64h2.94v1.01h-2.94zM97.0 160.64h2.94v1.01h-2.94zM105.7 160.64h8.72v1.01h-8.72zM125.9 160.64h2.94v1.01h-2.94zM238.7 160.64h2.94v1.01h-2.94zM256.0 160.64h2.94v1.01h-2.94zM261.8 160.64h5.83v1.01h-5.83zM273.4 160.64h2.94v1.01h-2.94zM21.9 161.60h5.83v1.01h-5.83zM39.2 161.60h2.94v1.01h-2.94zM53.7 161.60h2.94v1.01h-2.94zM62.4 161.60h2.94v1.01h-2.94zM76.8 161.60h2.94v1.01h-2.94zM82.6 161.60h2.94v1.01h-2.94zM94.2 161.60h2.94v1.01h-2.94zM120.2 161.60h2.94v1.01h-2.94zM137.5 161.60h2.94v1.01h-2.94zM143.3 161.60h5.83v1.01h-5.83zM152.0 161.60h2.94v1.01h-2.94zM256.0 161.60h5.83v1.01h-5.83zM19.0 162.56h2.94v1.01h-2.94zM85.5 162.56h2.94v1.01h-2.94zM108.6 162.56h2.94v1.01h-2.94zM117.3 162.56h2.94v1.01h-2.94zM140.4 162.56h5.83v1.01h-5.83zM152.0 162.56h2.94v1.01h-2.94zM169.3 162.56h5.83v1.01h-5.83zM256.0 162.56h2.94v1.01h-2.94zM264.7 162.56h2.94v1.01h-2.94zM19.0 163.53h2.94v1.01h-2.94zM27.7 163.53h2.94v1.01h-2.94zM53.7 163.53h2.94v1.01h-2.94zM123.1 163.53h5.83v1.01h-5.83zM149.1 163.53h2.94v1.01h-2.94zM160.6 163.53h5.83v1.01h-5.83zM218.4 163.53h5.83v1.01h-5.83zM267.6 163.53h5.83v1.01h-5.83zM82.6 164.49h2.94v1.01h-2.94zM146.2 164.49h2.94v1.01h-2.94zM157.7 164.49h2.94v1.01h-2.94zM163.5 164.49h2.94v1.01h-2.94zM204.0 164.49h5.83v1.01h-5.83zM256.0 164.49h2.94v1.01h-2.94zM21.9 165.45h2.94v1.01h-2.94zM27.7 165.45h8.72v1.01h-8.72zM65.2 165.45h2.94v1.01h-2.94zM82.6 165.45h2.94v1.01h-2.94zM99.9 165.45h2.94v1.01h-2.94zM105.7 165.45h2.94v1.01h-2.94zM111.5 165.45h2.94v1.01h-2.94zM123.1 165.45h5.83v1.01h-5.83zM137.5 165.45h2.94v1.01h-2.94zM143.3 165.45h11.61v1.01h-11.61zM230.0 165.45h2.94v1.01h-2.94zM250.2 165.45h5.83v1.01h-5.83zM264.7 165.45h2.94v1.01h-2.94zM273.4 165.45h5.83v1.01h-5.83zM24.8 166.41h2.94v1.01h-2.94zM30.6 166.41h2.94v1.01h-2.94zM45.0 166.41h2.94v1.01h-2.94zM68.1 166.41h2.94v1.01h-2.94zM88.4 166.41h2.94v1.01h-2.94zM102.8 166.41h2.94v1.01h-2.94zM108.6 166.41h2.94v1.01h-2.94zM149.1 166.41h8.72v1.01h-8.72zM160.6 166.41h2.94v1.01h-2.94zM166.4 166.41h2.94v1.01h-2.94zM172.2 166.41h5.83v1.01h-5.83zM264.7 166.41h2.94v1.01h-2.94zM282.0 166.41h2.94v1.01h-2.94zM287.8 166.41h5.83v1.01h-5.83zM30.6 167.38h2.94v1.01h-2.94zM36.3 167.38h2.94v1.01h-2.94zM123.1 167.38h5.83v1.01h-5.83zM157.7 167.38h2.94v1.01h-2.94zM163.5 167.38h2.94v1.01h-2.94zM250.2 167.38h2.94v1.01h-2.94zM258.9 167.38h5.83v1.01h-5.83zM273.4 167.38h5.83v1.01h-5.83zM53.7 168.34h5.83v1.01h-5.83zM82.6 168.34h2.94v1.01h-2.94zM88.4 168.34h2.94v1.01h-2.94zM99.9 168.34h5.83v1.01h-5.83zM125.9 168.34h2.94v1.01h-2.94zM140.4 168.34h2.94v1.01h-2.94zM154.9 168.34h2.94v1.01h-2.94zM160.6 168.34h5.83v1.01h-5.83zM183.8 168.34h2.94v1.01h-2.94zM238.7 168.34h2.94v1.01h-2.94zM258.9 168.34h2.94v1.01h-2.94zM284.9 168.34h5.83v1.01h-5.83zM19.0 169.30h5.83v1.01h-5.83zM39.2 169.30h2.94v1.01h-2.94zM82.6 169.30h5.83v1.01h-5.83zM99.9 169.30h5.83v1.01h-5.83zM146.2 169.30h5.83v1.01h-5.83zM204.0 169.30h2.94v1.01h-2.94zM227.1 169.30h5.83v1.01h-5.83zM238.7 169.30h2.94v1.01h-2.94zM24.8 170.26h8.72v1.01h-8.72zM39.2 170.26h2.94v1.01h-2.94zM47.9 170.26h2.94v1.01h-2.94zM79.7 170.26h2.94v1.01h-2.94zM85.5 170.26h2.94v1.01h-2.94zM102.8 170.26h2.94v1.01h-2.94zM120.2 170.26h2.94v1.01h-2.94zM140.4 170.26h2.94v1.01h-2.94zM146.2 170.26h8.72v1.01h-8.72zM230.0 170.26h2.94v1.01h-2.94zM250.2 170.26h2.94v1.01h-2.94zM256.0 170.26h5.83v1.01h-5.83zM264.7 170.26h2.94v1.01h-2.94zM27.7 171.23h2.94v1.01h-2.94zM42.1 171.23h2.94v1.01h-2.94zM62.4 171.23h2.94v1.01h-2.94zM73.9 171.23h2.94v1.01h-2.94zM102.8 171.23h5.83v1.01h-5.83zM111.5 171.23h2.94v1.01h-2.94zM134.6 171.23h5.83v1.01h-5.83zM143.3 171.23h8.72v1.01h-8.72zM154.9 171.23h2.94v1.01h-2.94zM163.5 171.23h2.94v1.01h-2.94zM264.7 171.23h8.72v1.01h-8.72zM284.9 171.23h2.94v1.01h-2.94zM19.0 172.19h2.94v1.01h-2.94zM30.6 172.19h2.94v1.01h-2.94zM62.4 172.19h2.94v1.01h-2.94zM76.8 172.19h2.94v1.01h-2.94zM108.6 172.19h2.94v1.01h-2.94zM117.3 172.19h2.94v1.01h-2.94zM160.6 172.19h5.83v1.01h-5.83zM241.6 172.19h5.83v1.01h-5.83zM250.2 172.19h2.94v1.01h-2.94zM282.0 172.19h2.94v1.01h-2.94zM24.8 173.15h2.94v1.01h-2.94zM33.5 173.15h2.94v1.01h-2.94zM134.6 173.15h8.72v1.01h-8.72zM154.9 173.15h2.94v1.01h-2.94zM163.5 173.15h2.94v1.01h-2.94zM201.1 173.15h2.94v1.01h-2.94zM206.9 173.15h2.94v1.01h-2.94zM224.2 173.15h2.94v1.01h-2.94zM39.2 174.11h2.94v1.01h-2.94zM82.6 174.11h5.83v1.01h-5.83zM105.7 174.11h2.94v1.01h-2.94zM111.5 174.11h2.94v1.01h-2.94zM134.6 174.11h2.94v1.01h-2.94zM241.6 174.11h2.94v1.01h-2.94zM270.5 174.11h2.94v1.01h-2.94zM24.8 175.07h2.94v1.01h-2.94zM30.6 175.07h2.94v1.01h-2.94zM53.7 175.07h2.94v1.01h-2.94zM73.9 175.07h5.83v1.01h-5.83zM114.4 175.07h2.94v1.01h-2.94zM143.3 175.07h2.94v1.01h-2.94zM198.2 175.07h2.94v1.01h-2.94zM250.2 175.07h2.94v1.01h-2.94zM267.6 175.07h5.83v1.01h-5.83zM279.1 175.07h2.94v1.01h-2.94zM19.0 176.04h2.94v1.01h-2.94zM24.8 176.04h2.94v1.01h-2.94zM59.5 176.04h5.83v1.01h-5.83zM73.9 176.04h5.83v1.01h-5.83zM99.9 176.04h2.94v1.01h-2.94zM123.1 176.04h5.83v1.01h-5.83zM146.2 176.04h5.83v1.01h-5.83zM163.5 176.04h2.94v1.01h-2.94zM221.3 176.04h2.94v1.01h-2.94zM258.9 176.04h2.94v1.01h-2.94zM282.0 176.04h5.83v1.01h-5.83z"/>
<path fill="#455cbc" d="M21.9 63.42h2.94v1.01h-2.94zM166.4 64.39h2.94v1.01h-2.94zM250.2 64.39h2.94v1.01h-2.94zM88.4 65.35h2.94v1.01h-2.94zM256.0 65.35h2.94v1.01h-2.94zM261.8 65.35h2.94v1.01h-2.94zM36.3 67.28h2.94v1.01h-2.94zM204.0 67.28h5.83v1.01h-5.83zM65.2 68.24h2.94v1.01h-2.94zM94.2 68.24h2.94v1.01h-2.94zM146.2 68.24h2.94v1.01h-2.94zM227.1 68.24h2.94v1.01h-2.94zM261.8 68.24h2.94v1.01h-2.94zM24.8 69.20h2.94v1.01h-2.94zM232.9 69.20h2.94v1.01h-2.94zM261.8 69.20h2.94v1.01h-2.94zM273.4 69.20h2.94v1.01h-2.94zM282.0 69.20h5.83v1.01h-5.83zM85.5 70.16h2.94v1.01h-2.94zM94.2 70.16h5.83v1.01h-5.83zM146.2 70.16h2.94v1.01h-2.94zM160.6 70.16h5.83v1.01h-5.83zM227.1 70.16h2.94v1.01h-2.94zM232.9 70.16h5.83v1.01h-5.83zM241.6 70.16h2.94v1.01h-2.94zM247.4 70.16h2.94v1.01h-2.94zM99.9 71.12h5.83v1.01h-5.83zM264.7 71.12h2.94v1.01h-2.94zM68.1 72.09h2.94v1.01h-2.94zM94.2 72.09h5.83v1.01h-5.83zM128.8 72.09h2.94v1.01h-2.94zM232.9 72.09h2.94v1.01h-2.94zM36.3 74.01h2.94v1.01h-2.94zM189.5 74.01h2.94v1.01h-2.94zM42.1 74.97h2.94v1.01h-2.94zM160.6 74.97h2.94v1.01h-2.94zM270.5 74.97h2.94v1.01h-2.94zM279.1 74.97h2.94v1.01h-2.94zM204.0 75.94h8.72v1.01h-8.72zM215.6 75.94h2.94v1.01h-2.94zM224.2 75.94h2.94v1.01h-2.94zM253.1 75.94h2.94v1.01h-2.94zM276.3 75.94h2.94v1.01h-2.94zM160.6 76.90h2.94v1.01h-2.94zM267.6 76.90h5.83v1.01h-5.83zM279.1 76.90h2.94v1.01h-2.94zM19.0 77.86h2.94v1.01h-2.94zM42.1 77.86h2.94v1.01h-2.94zM163.5 77.86h2.94v1.01h-2.94zM198.2 77.86h2.94v1.01h-2.94zM256.0 77.86h8.72v1.01h-8.72zM33.5 78.83h2.94v1.01h-2.94zM134.6 78.83h2.94v1.01h-2.94zM169.3 78.83h2.94v1.01h-2.94zM189.5 78.83h8.72v1.01h-8.72zM212.7 78.83h2.94v1.01h-2.94zM218.4 78.83h2.94v1.01h-2.94zM264.7 78.83h2.94v1.01h-2.94zM276.3 78.83h5.83v1.01h-5.83zM73.9 79.79h2.94v1.01h-2.94zM105.7 79.79h5.83v1.01h-5.83zM166.4 79.79h5.83v1.01h-5.83zM178.0 79.79h2.94v1.01h-2.94zM189.5 79.79h2.94v1.01h-2.94zM209.8 79.79h2.94v1.01h-2.94zM224.2 79.79h5.83v1.01h-5.83zM238.7 79.79h2.94v1.01h-2.94zM267.6 79.79h8.72v1.01h-8.72zM282.0 79.79h2.94v1.01h-2.94zM59.5 80.75h2.94v1.01h-2.94zM88.4 80.75h2.94v1.01h-2.94zM206.9 80.75h2.94v1.01h-2.94zM212.7 80.75h5.83v1.01h-5.83zM221.3 80.75h5.83v1.01h-5.83zM65.2 81.71h2.94v1.01h-2.94zM102.8 81.71h2.94v1.01h-2.94zM250.2 81.71h2.94v1.01h-2.94zM256.0 81.71h5.83v1.01h-5.83zM178.0 82.67h2.94v1.01h-2.94zM195.3 82.67h2.94v1.01h-2.94zM215.6 82.67h2.94v1.01h-2.94zM221.3 82.67h2.94v1.01h-2.94zM238.7 82.67h2.94v1.01h-2.94zM30.6 83.64h2.94v1.01h-2.94zM166.4 83.64h2.94v1.01h-2.94zM180.9 83.64h2.94v1.01h-2.94zM195.3 83.64h5.83v1.01h-5.83zM209.8 84.60h2.94v1.01h-2.94zM215.6 84.60h2.94v1.01h-2.94zM224.2 84.60h2.94v1.01h-2.94zM238.7 84.60h2.94v1.01h-2.94zM261.8 84.60h2.94v1.01h-2.94zM267.6 84.60h11.61v1.01h-11.61zM235.8 85.56h2.94v1.01h-2.94zM261.8 85.56h2.94v1.01h-2.94zM169.3 86.53h2.94v1.01h-2.94zM36.3 87.49h2.94v1.01h-2.94zM230.0 87.49h2.94v1.01h-2.94zM267.6 87.49h2.94v1.01h-2.94zM273.4 87.49h5.83v1.01h-5.83zM21.9 88.45h5.83v1.01h-5.83zM189.5 88.45h2.94v1.01h-2.94zM195.3 88.45h2.94v1.01h-2.94zM19.0 89.41h2.94v1.01h-2.94zM24.8 89.41h2.94v1.01h-2.94zM97.0 89.41h2.94v1.01h-2.94zM123.1 90.38h2.94v1.01h-2.94zM160.6 90.38h5.83v1.01h-5.83zM183.8 90.38h5.83v1.01h-5.83zM198.2 90.38h2.94v1.01h-2.94zM284.9 90.38h2.94v1.01h-2.94zM290.7 90.38h2.94v1.01h-2.94zM24.8 91.34h2.94v1.01h-2.94zM204.0 91.34h5.83v1.01h-5.83zM221.3 91.34h2.94v1.01h-2.94zM247.4 91.34h2.94v1.01h-2.94zM284.9 91.34h5.83v1.01h-5.83zM24.8 92.30h2.94v1.01h-2.94zM91.3 92.30h2.94v1.01h-2.94zM209.8 92.30h5.83v1.01h-5.83zM94.2 93.26h5.83v1.01h-5.83zM183.8 93.26h2.94v1.01h-2.94zM206.9 93.26h5.83v1.01h-5.83zM36.3 94.22h2.94v1.01h-2.94zM149.1 94.22h2.94v1.01h-2.94zM160.6 94.22h2.94v1.01h-2.94zM189.5 94.22h8.72v1.01h-8.72zM256.0 94.22h2.94v1.01h-2.94zM261.8 94.22h2.94v1.01h-2.94zM276.3 94.22h2.94v1.01h-2.94zM30.6 95.19h2.94v1.01h-2.94zM137.5 95.19h2.94v1.01h-2.94zM224.2 95.19h2.94v1.01h-2.94zM235.8 95.19h2.94v1.01h-2.94zM241.6 95.19h5.83v1.01h-5.83zM253.1 95.19h2.94v1.01h-2.94zM273.4 95.19h2.94v1.01h-2.94zM65.2 96.15h2.94v1.01h-2.94zM105.7 96.15h2.94v1.01h-2.94zM163.5 96.15h2.94v1.01h-2.94zM21.9 97.11h8.72v1.01h-8.72zM62.4 97.11h2.94v1.01h-2.94zM123.1 97.11h5.83v1.01h-5.83zM149.1 97.11h2.94v1.01h-2.94zM270.5 97.11h2.94v1.01h-2.94zM19.0 98.08h5.83v1.01h-5.83zM39.2 98.08h2.94v1.01h-2.94zM71.0 98.08h2.94v1.01h-2.94zM99.9 98.08h2.94v1.01h-2.94zM105.7 98.08h2.94v1.01h-2.94zM111.5 98.08h2.94v1.01h-2.94zM250.2 98.08h2.94v1.01h-2.94zM105.7 99.04h2.94v1.01h-2.94zM250.2 99.04h2.94v1.01h-2.94zM82.6 100.00h2.94v1.01h-2.94zM134.6 100.00h2.94v1.01h-2.94zM146.2 100.00h2.94v1.01h-2.94zM163.5 100.00h2.94v1.01h-2.94zM42.1 100.96h2.94v1.01h-2.94zM88.4 100.96h2.94v1.01h-2.94zM99.9 100.96h5.83v1.01h-5.83zM114.4 100.96h2.94v1.01h-2.94zM224.2 100.96h2.94v1.01h-2.94zM30.6 101.93h2.94v1.01h-2.94zM59.5 101.93h8.72v1.01h-8.72zM108.6 101.93h2.94v1.01h-2.94zM146.2 101.93h2.94v1.01h-2.94zM204.0 101.93h2.94v1.01h-2.94zM224.2 101.93h2.94v1.01h-2.94zM279.1 101.93h2.94v1.01h-2.94zM42.1 102.89h2.94v1.01h-2.94zM50.8 102.89h2.94v1.01h-2.94zM105.7 102.89h2.94v1.01h-2.94zM154.9 102.89h5.83v1.01h-5.83zM227.1 102.89h5.83v1.01h-5.83zM33.5 103.85h2.94v1.01h-2.94zM39.2 103.85h2.94v1.01h-2.94zM270.5 103.85h8.72v1.01h-8.72zM19.0 104.81h2.94v1.01h-2.94zM218.4 104.81h5.83v1.01h-5.83zM227.1 104.81h5.83v1.01h-5.83zM238.7 104.81h2.94v1.01h-2.94zM160.6 105.78h2.94v1.01h-2.94zM160.6 106.74h2.94v1.01h-2.94zM230.0 106.74h2.94v1.01h-2.94zM238.7 106.74h2.94v1.01h-2.94zM253.1 106.74h2.94v1.01h-2.94zM143.3 107.70h2.94v1.01h-2.94zM149.1 107.70h2.94v1.01h-2.94zM175.1 107.70h2.94v1.01h-2.94zM258.9 107.70h5.83v1.01h-5.83zM71.0 108.66h5.83v1.01h-5.83zM91.3 108.66h2.94v1.01h-2.94zM99.9 108.66h2.94v1.01h-2.94zM120.2 108.66h2.94v1.01h-2.94zM154.9 108.66h5.83v1.01h-5.83zM227.1 108.66h2.94v1.01h-2.94zM250.2 109.62h2.94v1.01h-2.94zM258.9 109.62h2.94v1.01h-2.94zM264.7 109.62h2.94v1.01h-2.94zM273.4 109.62h8.72v1.01h-8.72zM59.5 110.59h5.83v1.01h-5.83zM68.1 110.59h2.94v1.01h-2.94zM79.7 110.59h2.94v1.01h-2.94zM85.5 110.59h2.94v1.01h-2.94zM267.6 110.59h5.83v1.01h-5.83zM91.3 111.55h2.94v1.01h-2.94zM114.4 111.55h2.94v1.01h-2.94zM157.7 111.55h2.94v1.01h-2.94zM250.2 111.55h2.94v1.01h-2.94zM267.6 111.55h2.94v1.01h-2.94zM27.7 112.51h2.94v1.01h-2.94zM250.2 112.51h2.94v1.01h-2.94zM256.0 112.51h2.94v1.01h-2.94zM261.8 112.51h5.83v1.01h-5.83zM59.5 113.47h2.94v1.01h-2.94zM73.9 113.47h2.94v1.01h-2.94zM99.9 113.47h8.72v1.01h-8.72zM186.7 113.47h2.94v1.01h-2.94zM238.7 113.47h2.94v1.01h-2.94zM30.6 114.44h2.94v1.01h-2.94zM62.4 114.44h2.94v1.01h-2.94zM258.9 114.44h5.83v1.01h-5.83zM30.6 115.40h5.83v1.01h-5.83zM39.2 115.40h2.94v1.01h-2.94zM102.8 115.40h2.94v1.01h-2.94zM149.1 115.40h2.94v1.01h-2.94zM250.2 115.40h2.94v1.01h-2.94zM24.8 116.36h2.94v1.01h-2.94zM102.8 116.36h2.94v1.01h-2.94zM152.0 116.36h2.94v1.01h-2.94zM172.2 116.36h2.94v1.01h-2.94zM250.2 116.36h2.94v1.01h-2.94zM73.9 117.33h2.94v1.01h-2.94zM79.7 117.33h2.94v1.01h-2.94zM134.6 118.29h5.83v1.01h-5.83zM163.5 118.29h2.94v1.01h-2.94zM238.7 118.29h2.94v1.01h-2.94zM27.7 119.25h2.94v1.01h-2.94zM105.7 119.25h2.94v1.01h-2.94zM253.1 119.25h2.94v1.01h-2.94zM24.8 120.21h2.94v1.01h-2.94zM114.4 120.21h2.94v1.01h-2.94zM53.7 121.18h2.94v1.01h-2.94zM59.5 121.18h2.94v1.01h-2.94zM65.2 121.18h2.94v1.01h-2.94zM99.9 121.18h5.83v1.01h-5.83zM206.9 121.18h2.94v1.01h-2.94zM250.2 121.18h5.83v1.01h-5.83zM258.9 121.18h2.94v1.01h-2.94zM24.8 122.14h5.83v1.01h-5.83zM206.9 122.14h2.94v1.01h-2.94zM276.3 122.14h2.94v1.01h-2.94zM65.2 123.10h2.94v1.01h-2.94zM264.7 123.10h2.94v1.01h-2.94zM39.2 124.06h2.94v1.01h-2.94zM114.4 124.06h8.72v1.01h-8.72zM238.7 124.06h2.94v1.01h-2.94zM270.5 124.06h2.94v1.01h-2.94zM27.7 125.03h2.94v1.01h-2.94zM99.9 125.03h2.94v1.01h-2.94zM195.3 125.03h2.94v1.01h-2.94zM270.5 125.03h5.83v1.01h-5.83zM30.6 125.99h2.94v1.01h-2.94zM53.7 125.99h2.94v1.01h-2.94zM79.7 125.99h2.94v1.01h-2.94zM85.5 125.99h2.94v1.01h-2.94zM163.5 125.99h2.94v1.01h-2.94zM169.3 125.99h2.94v1.01h-2.94zM279.1 125.99h2.94v1.01h-2.94zM59.5 126.95h2.94v1.01h-2.94zM65.2 126.95h2.94v1.01h-2.94zM128.8 126.95h2.94v1.01h-2.94zM247.4 126.95h2.94v1.01h-2.94zM19.0 127.91h5.83v1.01h-5.83zM30.6 127.91h2.94v1.01h-2.94zM82.6 127.91h2.94v1.01h-2.94zM105.7 127.91h2.94v1.01h-2.94zM120.2 127.91h2.94v1.01h-2.94zM172.2 127.91h5.83v1.01h-5.83zM192.4 127.91h2.94v1.01h-2.94zM21.9 128.88h2.94v1.01h-2.94zM30.6 128.88h2.94v1.01h-2.94zM108.6 128.88h2.94v1.01h-2.94zM189.5 128.88h5.83v1.01h-5.83zM212.7 128.88h5.83v1.01h-5.83zM221.3 128.88h5.83v1.01h-5.83zM256.0 128.88h5.83v1.01h-5.83zM267.6 128.88h5.83v1.01h-5.83zM99.9 129.84h5.83v1.01h-5.83zM149.1 129.84h2.94v1.01h-2.94zM238.7 129.84h2.94v1.01h-2.94zM256.0 129.84h2.94v1.01h-2.94zM27.7 130.80h5.83v1.01h-5.83zM68.1 130.80h2.94v1.01h-2.94zM163.5 130.80h2.94v1.01h-2.94zM253.1 130.80h2.94v1.01h-2.94zM258.9 130.80h5.83v1.01h-5.83zM79.7 131.76h5.83v1.01h-5.83zM105.7 131.76h2.94v1.01h-2.94zM258.9 131.76h2.94v1.01h-2.94zM19.0 132.73h2.94v1.01h-2.94zM27.7 132.73h5.83v1.01h-5.83zM99.9 132.73h2.94v1.01h-2.94zM160.6 132.73h2.94v1.01h-2.94zM250.2 132.73h2.94v1.01h-2.94zM273.4 132.73h5.83v1.01h-5.83zM27.7 133.69h2.94v1.01h-2.94zM97.0 133.69h2.94v1.01h-2.94zM102.8 133.69h2.94v1.01h-2.94zM143.3 133.69h2.94v1.01h-2.94zM221.3 133.69h2.94v1.01h-2.94zM19.0 134.65h2.94v1.01h-2.94zM85.5 134.65h2.94v1.01h-2.94zM91.3 134.65h2.94v1.01h-2.94zM160.6 134.65h2.94v1.01h-2.94zM212.7 134.65h5.83v1.01h-5.83zM261.8 134.65h2.94v1.01h-2.94zM140.4 135.61h2.94v1.01h-2.94zM264.7 135.61h2.94v1.01h-2.94zM88.4 136.57h2.94v1.01h-2.94zM160.6 136.57h2.94v1.01h-2.94zM189.5 136.57h2.94v1.01h-2.94zM206.9 136.57h2.94v1.01h-2.94zM235.8 136.57h2.94v1.01h-2.94zM253.1 136.57h5.83v1.01h-5.83zM264.7 136.57h2.94v1.01h-2.94zM284.9 136.57h2.94v1.01h-2.94zM53.7 137.54h5.83v1.01h-5.83zM105.7 137.54h2.94v1.01h-2.94zM186.7 137.54h2.94v1.01h-2.94zM224.2 137.54h2.94v1.01h-2.94zM91.3 138.50h2.94v1.01h-2.94zM131.7 138.50h2.94v1.01h-2.94zM192.4 138.50h2.94v1.01h-2.94zM218.4 138.50h2.94v1.01h-2.94zM232.9 138.50h2.94v1.01h-2.94zM282.0 138.50h2.94v1.01h-2.94zM91.3 139.46h2.94v1.01h-2.94zM134.6 139.46h5.83v1.01h-5.83zM19.0 140.43h2.94v1.01h-2.94zM24.8 140.43h2.94v1.01h-2.94zM42.1 140.43h5.83v1.01h-5.83zM50.8 140.43h8.72v1.01h-8.72zM82.6 140.43h8.72v1.01h-8.72zM105.7 140.43h2.94v1.01h-2.94zM178.0 140.43h11.61v1.01h-11.61zM215.6 140.43h2.94v1.01h-2.94zM221.3 140.43h2.94v1.01h-2.94zM258.9 140.43h2.94v1.01h-2.94zM33.5 141.39h2.94v1.01h-2.94zM42.1 141.39h2.94v1.01h-2.94zM56.6 141.39h2.94v1.01h-2.94zM79.7 141.39h2.94v1.01h-2.94zM85.5 141.39h2.94v1.01h-2.94zM94.2 141.39h2.94v1.01h-2.94zM102.8 141.39h2.94v1.01h-2.94zM160.6 141.39h5.83v1.01h-5.83zM206.9 141.39h2.94v1.01h-2.94zM230.0 141.39h2.94v1.01h-2.94zM235.8 141.39h5.83v1.01h-5.83zM250.2 141.39h2.94v1.01h-2.94zM19.0 142.35h8.72v1.01h-8.72zM42.1 142.35h2.94v1.01h-2.94zM47.9 142.35h2.94v1.01h-2.94zM166.4 142.35h2.94v1.01h-2.94zM178.0 142.35h8.72v1.01h-8.72zM189.5 142.35h5.83v1.01h-5.83zM209.8 142.35h2.94v1.01h-2.94zM224.2 142.35h2.94v1.01h-2.94zM258.9 142.35h2.94v1.01h-2.94zM264.7 142.35h2.94v1.01h-2.94zM33.5 143.31h5.83v1.01h-5.83zM108.6 143.31h8.72v1.01h-8.72zM128.8 143.31h2.94v1.01h-2.94zM163.5 143.31h2.94v1.01h-2.94zM221.3 143.31h2.94v1.01h-2.94zM232.9 143.31h2.94v1.01h-2.94zM256.0 143.31h2.94v1.01h-2.94zM282.0 143.31h2.94v1.01h-2.94zM21.9 144.28h2.94v1.01h-2.94zM27.7 144.28h5.83v1.01h-5.83zM97.0 144.28h2.94v1.01h-2.94zM143.3 144.28h8.72v1.01h-8.72zM172.2 144.28h5.83v1.01h-5.83zM180.9 144.28h2.94v1.01h-2.94zM204.0 144.28h5.83v1.01h-5.83zM227.1 144.28h14.50v1.01h-14.50zM273.4 144.28h5.83v1.01h-5.83zM19.0 145.24h2.94v1.01h-2.94zM42.1 145.24h2.94v1.01h-2.94zM56.6 145.24h2.94v1.01h-2.94zM120.2 145.24h5.83v1.01h-5.83zM149.1 145.24h2.94v1.01h-2.94zM212.7 145.24h2.94v1.01h-2.94zM88.4 146.20h2.94v1.01h-2.94zM105.7 146.20h2.94v1.01h-2.94zM120.2 146.20h5.83v1.01h-5.83zM128.8 146.20h2.94v1.01h-2.94zM206.9 146.20h2.94v1.01h-2.94zM212.7 146.20h5.83v1.01h-5.83zM224.2 146.20h2.94v1.01h-2.94zM256.0 146.20h8.72v1.01h-8.72zM24.8 147.16h2.94v1.01h-2.94zM30.6 147.16h2.94v1.01h-2.94zM53.7 147.16h5.83v1.01h-5.83zM91.3 147.16h8.72v1.01h-8.72zM253.1 147.16h5.83v1.01h-5.83zM27.7 148.12h2.94v1.01h-2.94zM39.2 148.12h2.94v1.01h-2.94zM65.2 148.12h2.94v1.01h-2.94zM221.3 148.12h2.94v1.01h-2.94zM227.1 148.12h2.94v1.01h-2.94zM238.7 148.12h2.94v1.01h-2.94zM270.5 148.12h2.94v1.01h-2.94zM21.9 149.09h5.83v1.01h-5.83zM42.1 149.09h2.94v1.01h-2.94zM102.8 149.09h2.94v1.01h-2.94zM137.5 149.09h2.94v1.01h-2.94zM166.4 149.09h2.94v1.01h-2.94zM175.1 149.09h2.94v1.01h-2.94zM224.2 149.09h2.94v1.01h-2.94zM287.8 149.09h2.94v1.01h-2.94zM105.7 150.05h2.94v1.01h-2.94zM218.4 150.05h2.94v1.01h-2.94zM21.9 151.01h2.94v1.01h-2.94zM114.4 151.01h2.94v1.01h-2.94zM183.8 151.01h5.83v1.01h-5.83zM201.1 151.01h2.94v1.01h-2.94zM206.9 151.01h8.72v1.01h-8.72zM224.2 151.01h2.94v1.01h-2.94zM282.0 151.01h2.94v1.01h-2.94zM99.9 151.98h2.94v1.01h-2.94zM117.3 151.98h2.94v1.01h-2.94zM123.1 151.98h2.94v1.01h-2.94zM172.2 151.98h5.83v1.01h-5.83zM198.2 151.98h2.94v1.01h-2.94zM204.0 151.98h2.94v1.01h-2.94zM284.9 151.98h2.94v1.01h-2.94zM59.5 152.94h2.94v1.01h-2.94zM114.4 152.94h2.94v1.01h-2.94zM128.8 152.94h2.94v1.01h-2.94zM189.5 152.94h8.72v1.01h-8.72zM204.0 152.94h5.83v1.01h-5.83zM227.1 152.94h8.72v1.01h-8.72zM33.5 153.90h2.94v1.01h-2.94zM59.5 153.90h2.94v1.01h-2.94zM79.7 153.90h5.83v1.01h-5.83zM111.5 153.90h2.94v1.01h-2.94zM128.8 153.90h2.94v1.01h-2.94zM169.3 153.90h2.94v1.01h-2.94zM270.5 153.90h2.94v1.01h-2.94zM21.9 154.86h2.94v1.01h-2.94zM33.5 154.86h2.94v1.01h-2.94zM68.1 154.86h5.83v1.01h-5.83zM108.6 154.86h2.94v1.01h-2.94zM123.1 154.86h2.94v1.01h-2.94zM137.5 154.86h2.94v1.01h-2.94zM238.7 154.86h2.94v1.01h-2.94zM19.0 155.82h2.94v1.01h-2.94zM30.6 155.82h2.94v1.01h-2.94zM105.7 155.82h2.94v1.01h-2.94zM143.3 155.82h2.94v1.01h-2.94zM160.6 155.82h2.94v1.01h-2.94zM166.4 155.82h2.94v1.01h-2.94zM186.7 155.82h2.94v1.01h-2.94zM258.9 155.82h2.94v1.01h-2.94zM279.1 155.82h2.94v1.01h-2.94zM27.7 156.79h2.94v1.01h-2.94zM59.5 156.79h5.83v1.01h-5.83zM79.7 156.79h2.94v1.01h-2.94zM88.4 156.79h2.94v1.01h-2.94zM99.9 156.79h2.94v1.01h-2.94zM111.5 156.79h2.94v1.01h-2.94zM120.2 156.79h2.94v1.01h-2.94zM169.3 156.79h2.94v1.01h-2.94zM175.1 156.79h2.94v1.01h-2.94zM27.7 157.75h2.94v1.01h-2.94zM50.8 157.75h2.94v1.01h-2.94zM97.0 157.75h5.83v1.01h-5.83zM108.6 157.75h2.94v1.01h-2.94zM117.3 157.75h2.94v1.01h-2.94zM143.3 157.75h5.83v1.01h-5.83zM163.5 157.75h2.94v1.01h-2.94zM172.2 157.75h5.83v1.01h-5.83zM189.5 157.75h8.72v1.01h-8.72zM221.3 157.75h2.94v1.01h-2.94zM238.7 157.75h2.94v1.01h-2.94zM250.2 157.75h2.94v1.01h-2.94zM276.3 157.75h2.94v1.01h-2.94zM282.0 157.75h2.94v1.01h-2.94zM36.3 158.71h2.94v1.01h-2.94zM53.7 158.71h5.83v1.01h-5.83zM94.2 158.71h2.94v1.01h-2.94zM125.9 158.71h2.94v1.01h-2.94zM166.4 158.71h2.94v1.01h-2.94zM172.2 158.71h2.94v1.01h-2.94zM273.4 158.71h5.83v1.01h-5.83zM284.9 158.71h2.94v1.01h-2.94zM19.0 159.68h8.72v1.01h-8.72zM42.1 159.68h2.94v1.01h-2.94zM53.7 159.68h5.83v1.01h-5.83zM62.4 159.68h2.94v1.01h-2.94zM117.3 159.68h2.94v1.01h-2.94zM146.2 159.68h2.94v1.01h-2.94zM152.0 159.68h5.83v1.01h-5.83zM160.6 159.68h2.94v1.01h-2.94zM227.1 159.68h5.83v1.01h-5.83zM21.9 160.64h5.83v1.01h-5.83zM42.1 160.64h2.94v1.01h-2.94zM65.2 160.64h2.94v1.01h-2.94zM114.4 160.64h2.94v1.01h-2.94zM198.2 160.64h2.94v1.01h-2.94zM19.0 161.60h2.94v1.01h-2.94zM36.3 161.60h2.94v1.01h-2.94zM42.1 161.60h2.94v1.01h-2.94zM68.1 161.60h5.83v1.01h-5.83zM117.3 161.60h2.94v1.01h-2.94zM154.9 161.60h8.72v1.01h-8.72zM227.1 161.60h5.83v1.01h-5.83zM264.7 161.60h8.72v1.01h-8.72zM21.9 162.56h5.83v1.01h-5.83zM39.2 162.56h2.94v1.01h-2.94zM91.3 162.56h2.94v1.01h-2.94zM134.6 162.56h5.83v1.01h-5.83zM154.9 162.56h2.94v1.01h-2.94zM160.6 162.56h5.83v1.01h-5.83zM258.9 162.56h5.83v1.01h-5.83zM21.9 163.53h5.83v1.01h-5.83zM33.5 163.53h2.94v1.01h-2.94zM99.9 163.53h14.50v1.01h-14.50zM154.9 163.53h5.83v1.01h-5.83zM238.7 163.53h2.94v1.01h-2.94zM250.2 163.53h2.94v1.01h-2.94zM273.4 163.53h2.94v1.01h-2.94zM30.6 164.49h5.83v1.01h-5.83zM79.7 164.49h2.94v1.01h-2.94zM85.5 164.49h2.94v1.01h-2.94zM102.8 164.49h2.94v1.01h-2.94zM183.8 164.49h5.83v1.01h-5.83zM258.9 164.49h2.94v1.01h-2.94zM276.3 164.49h2.94v1.01h-2.94zM19.0 165.45h2.94v1.01h-2.94zM88.4 165.45h2.94v1.01h-2.94zM102.8 165.45h2.94v1.01h-2.94zM160.6 165.45h2.94v1.01h-2.94zM175.1 165.45h2.94v1.01h-2.94zM227.1 165.45h2.94v1.01h-2.94zM261.8 165.45h2.94v1.01h-2.94zM36.3 166.41h2.94v1.01h-2.94zM140.4 166.41h2.94v1.01h-2.94zM163.5 166.41h2.94v1.01h-2.94zM250.2 166.41h2.94v1.01h-2.94zM256.0 166.41h5.83v1.01h-5.83zM270.5 166.41h2.94v1.01h-2.94zM284.9 166.41h2.94v1.01h-2.94zM27.7 167.38h2.94v1.01h-2.94zM33.5 167.38h2.94v1.01h-2.94zM99.9 167.38h5.83v1.01h-5.83zM154.9 167.38h2.94v1.01h-2.94zM209.8 167.38h8.72v1.01h-8.72zM227.1 167.38h2.94v1.01h-2.94zM253.1 167.38h5.83v1.01h-5.83zM264.7 167.38h2.94v1.01h-2.94zM59.5 168.34h5.83v1.01h-5.83zM108.6 168.34h2.94v1.01h-2.94zM134.6 168.34h5.83v1.01h-5.83zM157.7 168.34h2.94v1.01h-2.94zM186.7 168.34h2.94v1.01h-2.94zM209.8 168.34h2.94v1.01h-2.94zM215.6 168.34h2.94v1.01h-2.94zM230.0 168.34h2.94v1.01h-2.94zM253.1 168.34h5.83v1.01h-5.83zM261.8 168.34h5.83v1.01h-5.83zM279.1 168.34h2.94v1.01h-2.94zM24.8 169.30h2.94v1.01h-2.94zM42.1 169.30h2.94v1.01h-2.94zM123.1 169.30h2.94v1.01h-2.94zM154.9 169.30h2.94v1.01h-2.94zM163.5 169.30h2.94v1.01h-2.94zM206.9 169.30h2.94v1.01h-2.94zM273.4 169.30h2.94v1.01h-2.94zM19.0 170.26h5.83v1.01h-5.83zM82.6 170.26h2.94v1.01h-2.94zM134.6 170.26h5.83v1.01h-5.83zM143.3 170.26h2.94v1.01h-2.94zM209.8 170.26h2.94v1.01h-2.94zM215.6 170.26h2.94v1.01h-2.94zM267.6 170.26h5.83v1.01h-5.83zM284.9 170.26h2.94v1.01h-2.94zM30.6 171.23h2.94v1.01h-2.94zM36.3 171.23h2.94v1.01h-2.94zM65.2 171.23h5.83v1.01h-5.83zM88.4 171.23h2.94v1.01h-2.94zM140.4 171.23h2.94v1.01h-2.94zM157.7 171.23h2.94v1.01h-2.94zM238.7 171.23h2.94v1.01h-2.94zM273.4 171.23h2.94v1.01h-2.94zM279.1 171.23h5.83v1.01h-5.83zM24.8 172.19h2.94v1.01h-2.94zM39.2 172.19h2.94v1.01h-2.94zM59.5 172.19h2.94v1.01h-2.94zM79.7 172.19h8.72v1.01h-8.72zM152.0 172.19h2.94v1.01h-2.94zM206.9 172.19h2.94v1.01h-2.94zM247.4 172.19h2.94v1.01h-2.94zM267.6 172.19h5.83v1.01h-5.83zM19.0 173.15h5.83v1.01h-5.83zM45.0 173.15h2.94v1.01h-2.94zM53.7 173.15h5.83v1.01h-5.83zM91.3 173.15h2.94v1.01h-2.94zM99.9 173.15h5.83v1.01h-5.83zM143.3 173.15h2.94v1.01h-2.94zM157.7 173.15h2.94v1.01h-2.94zM198.2 173.15h2.94v1.01h-2.94zM218.4 173.15h2.94v1.01h-2.94zM227.1 173.15h5.83v1.01h-5.83zM270.5 173.15h2.94v1.01h-2.94zM53.7 174.11h2.94v1.01h-2.94zM108.6 174.11h2.94v1.01h-2.94zM123.1 174.11h5.83v1.01h-5.83zM140.4 174.11h2.94v1.01h-2.94zM146.2 174.11h2.94v1.01h-2.94zM154.9 174.11h2.94v1.01h-2.94zM244.5 174.11h2.94v1.01h-2.94zM279.1 174.11h5.83v1.01h-5.83zM27.7 175.07h2.94v1.01h-2.94zM56.6 175.07h2.94v1.01h-2.94zM62.4 175.07h5.83v1.01h-5.83zM71.0 175.07h2.94v1.01h-2.94zM79.7 175.07h8.72v1.01h-8.72zM146.2 175.07h5.83v1.01h-5.83zM160.6 175.07h8.72v1.01h-8.72zM264.7 175.07h2.94v1.01h-2.94zM276.3 175.07h2.94v1.01h-2.94zM284.9 175.07h2.94v1.01h-2.94zM21.9 176.04h2.94v1.01h-2.94zM85.5 176.04h2.94v1.01h-2.94zM114.4 176.04h2.94v1.01h-2.94zM143.3 176.04h2.94v1.01h-2.94zM160.6 176.04h2.94v1.01h-2.94zM238.7 176.04h11.61v1.01h-11.61zM253.1 176.04h5.83v1.01h-5.83zM261.8 176.04h5.83v1.01h-5.83z"/>
<path fill="#515fc0" d="M19.0 61.50h5.83v1.01h-5.83zM19.0 63.42h2.94v1.01h-2.94zM169.3 64.39h2.94v1.01h-2.94zM79.7 65.35h8.72v1.01h-8.72zM189.5 65.35h5.83v1.01h-5.83zM250.2 66.31h2.94v1.01h-2.94zM33.5 67.28h2.94v1.01h-2.94zM91.3 67.28h2.94v1.01h-2.94zM105.7 67.28h2.94v1.01h-2.94zM238.7 67.28h2.94v1.01h-2.94zM19.0 68.24h2.94v1.01h-2.94zM68.1 68.24h5.83v1.01h-5.83zM128.8 68.24h2.94v1.01h-2.94zM224.2 68.24h2.94v1.01h-2.94zM270.5 68.24h2.94v1.01h-2.94zM276.3 68.24h2.94v1.01h-2.94zM108.6 69.20h5.83v1.01h-5.83zM143.3 69.20h2.94v1.01h-2.94zM204.0 69.20h2.94v1.01h-2.94zM227.1 69.20h2.94v1.01h-2.94zM235.8 69.20h2.94v1.01h-2.94zM267.6 69.20h5.83v1.01h-5.83zM276.3 69.20h2.94v1.01h-2.94zM39.2 70.16h5.83v1.01h-5.83zM82.6 70.16h2.94v1.01h-2.94zM198.2 70.16h5.83v1.01h-5.83zM230.0 70.16h2.94v1.01h-2.94zM244.5 70.16h2.94v1.01h-2.94zM79.7 71.12h2.94v1.01h-2.94zM143.3 71.12h2.94v1.01h-2.94zM160.6 71.12h5.83v1.01h-5.83zM189.5 71.12h2.94v1.01h-2.94zM195.3 71.12h2.94v1.01h-2.94zM36.3 72.09h2.94v1.01h-2.94zM65.2 72.09h2.94v1.01h-2.94zM71.0 72.09h2.94v1.01h-2.94zM131.7 72.09h2.94v1.01h-2.94zM227.1 72.09h5.83v1.01h-5.83zM235.8 72.09h2.94v1.01h-2.94zM241.6 72.09h8.72v1.01h-8.72zM160.6 73.05h5.83v1.01h-5.83zM230.0 73.05h2.94v1.01h-2.94zM264.7 73.05h2.94v1.01h-2.94zM276.3 73.05h2.94v1.01h-2.94zM30.6 74.01h2.94v1.01h-2.94zM238.7 74.01h2.94v1.01h-2.94zM284.9 74.01h2.94v1.01h-2.94zM39.2 74.97h2.94v1.01h-2.94zM91.3 75.94h2.94v1.01h-2.94zM163.5 75.94h2.94v1.01h-2.94zM218.4 75.94h2.94v1.01h-2.94zM39.2 76.90h2.94v1.01h-2.94zM108.6 76.90h2.94v1.01h-2.94zM227.1 76.90h5.83v1.01h-5.83zM238.7 76.90h2.94v1.01h-2.94zM282.0 76.90h5.83v1.01h-5.83zM59.5 77.86h2.94v1.01h-2.94zM160.6 77.86h2.94v1.01h-2.94zM201.1 77.86h2.94v1.01h-2.94zM59.5 78.83h5.83v1.01h-5.83zM146.2 78.83h2.94v1.01h-2.94zM178.0 78.83h5.83v1.01h-5.83zM267.6 78.83h2.94v1.01h-2.94zM273.4 78.83h2.94v1.01h-2.94zM284.9 78.83h2.94v1.01h-2.94zM62.4 79.79h2.94v1.01h-2.94zM76.8 79.79h2.94v1.01h-2.94zM111.5 79.79h2.94v1.01h-2.94zM192.4 79.79h2.94v1.01h-2.94zM276.3 79.79h5.83v1.01h-5.83zM284.9 79.79h2.94v1.01h-2.94zM39.2 80.75h5.83v1.01h-5.83zM68.1 80.75h5.83v1.01h-5.83zM76.8 80.75h2.94v1.01h-2.94zM105.7 80.75h2.94v1.01h-2.94zM149.1 80.75h2.94v1.01h-2.94zM160.6 80.75h5.83v1.01h-5.83zM209.8 80.75h2.94v1.01h-2.94zM261.8 81.71h2.94v1.01h-2.94zM21.9 82.67h2.94v1.01h-2.94zM27.7 82.67h5.83v1.01h-5.83zM68.1 82.67h2.94v1.01h-2.94zM108.6 82.67h2.94v1.01h-2.94zM180.9 82.67h2.94v1.01h-2.94zM189.5 82.67h5.83v1.01h-5.83zM209.8 82.67h5.83v1.01h-5.83zM218.4 82.67h2.94v1.01h-2.94zM224.2 82.67h8.72v1.01h-8.72zM253.1 82.67h11.61v1.01h-11.61zM267.6 82.67h5.83v1.01h-5.83zM276.3 82.67h5.83v1.01h-5.83zM27.7 83.64h2.94v1.01h-2.94zM71.0 83.64h2.94v1.01h-2.94zM178.0 83.64h2.94v1.01h-2.94zM189.5 83.64h2.94v1.01h-2.94zM282.0 83.64h5.83v1.01h-5.83zM230.0 84.60h5.83v1.01h-5.83zM19.0 85.56h2.94v1.01h-2.94zM24.8 85.56h2.94v1.01h-2.94zM111.5 85.56h2.94v1.01h-2.94zM279.1 85.56h2.94v1.01h-2.94zM99.9 86.53h2.94v1.01h-2.94zM134.6 86.53h8.72v1.01h-8.72zM163.5 86.53h2.94v1.01h-2.94zM244.5 86.53h2.94v1.01h-2.94zM264.7 86.53h2.94v1.01h-2.94zM282.0 86.53h2.94v1.01h-2.94zM39.2 87.49h2.94v1.01h-2.94zM91.3 87.49h2.94v1.01h-2.94zM108.6 87.49h5.83v1.01h-5.83zM195.3 87.49h2.94v1.01h-2.94zM232.9 87.49h5.83v1.01h-5.83zM270.5 87.49h2.94v1.01h-2.94zM91.3 88.45h2.94v1.01h-2.94zM21.9 89.41h2.94v1.01h-2.94zM94.2 89.41h2.94v1.01h-2.94zM186.7 89.41h2.94v1.01h-2.94zM212.7 89.41h5.83v1.01h-5.83zM221.3 89.41h5.83v1.01h-5.83zM238.7 89.41h2.94v1.01h-2.94zM201.1 90.38h2.94v1.01h-2.94zM267.6 90.38h2.94v1.01h-2.94zM279.1 90.38h5.83v1.01h-5.83zM287.8 90.38h2.94v1.01h-2.94zM253.1 91.34h2.94v1.01h-2.94zM267.6 91.34h2.94v1.01h-2.94zM27.7 92.30h5.83v1.01h-5.83zM65.2 92.30h2.94v1.01h-2.94zM198.2 92.30h2.94v1.01h-2.94zM224.2 92.30h2.94v1.01h-2.94zM256.0 92.30h5.83v1.01h-5.83zM264.7 92.30h8.72v1.01h-8.72zM21.9 93.26h2.94v1.01h-2.94zM189.5 93.26h2.94v1.01h-2.94zM253.1 93.26h2.94v1.01h-2.94zM267.6 93.26h2.94v1.01h-2.94zM279.1 93.26h2.94v1.01h-2.94zM290.7 93.26h2.94v1.01h-2.94zM21.9 94.22h2.94v1.01h-2.94zM91.3 94.22h2.94v1.01h-2.94zM143.3 94.22h5.83v1.01h-5.83zM270.5 94.22h2.94v1.01h-2.94zM247.4 95.19h2.94v1.01h-2.94zM264.7 95.19h2.94v1.01h-2.94zM276.3 95.19h2.94v1.01h-2.94zM82.6 96.15h2.94v1.01h-2.94zM97.0 96.15h2.94v1.01h-2.94zM117.3 96.15h11.61v1.01h-11.61zM146.2 97.11h2.94v1.01h-2.94zM267.6 97.11h2.94v1.01h-2.94zM91.3 98.08h2.94v1.01h-2.94zM108.6 98.08h2.94v1.01h-2.94zM117.3 98.08h5.83v1.01h-5.83zM125.9 98.08h2.94v1.01h-2.94zM143.3 98.08h2.94v1.01h-2.94zM154.9 98.08h2.94v1.01h-2.94zM178.0 98.08h5.83v1.01h-5.83zM227.1 98.08h5.83v1.01h-5.83zM36.3 99.04h2.94v1.01h-2.94zM224.2 99.04h8.72v1.01h-8.72zM19.0 100.00h2.94v1.01h-2.94zM24.8 100.00h2.94v1.01h-2.94zM39.2 100.00h2.94v1.01h-2.94zM97.0 100.00h2.94v1.01h-2.94zM108.6 100.00h5.83v1.01h-5.83zM137.5 100.00h8.72v1.01h-8.72zM149.1 100.00h2.94v1.01h-2.94zM33.5 100.96h2.94v1.01h-2.94zM143.3 100.96h8.72v1.01h-8.72zM227.1 100.96h2.94v1.01h-2.94zM143.3 101.93h2.94v1.01h-2.94zM149.1 101.93h2.94v1.01h-2.94zM238.7 102.89h2.94v1.01h-2.94zM250.2 102.89h2.94v1.01h-2.94zM258.9 102.89h2.94v1.01h-2.94zM94.2 103.85h5.83v1.01h-5.83zM134.6 103.85h8.72v1.01h-8.72zM201.1 103.85h2.94v1.01h-2.94zM224.2 103.85h2.94v1.01h-2.94zM250.2 103.85h2.94v1.01h-2.94zM256.0 103.85h8.72v1.01h-8.72zM267.6 103.85h2.94v1.01h-2.94zM68.1 104.81h5.83v1.01h-5.83zM143.3 104.81h8.72v1.01h-8.72zM198.2 104.81h5.83v1.01h-5.83zM209.8 104.81h2.94v1.01h-2.94zM27.7 105.78h2.94v1.01h-2.94zM62.4 105.78h2.94v1.01h-2.94zM97.0 105.78h2.94v1.01h-2.94zM68.1 106.74h5.83v1.01h-5.83zM99.9 106.74h5.83v1.01h-5.83zM163.5 106.74h2.94v1.01h-2.94zM224.2 106.74h5.83v1.01h-5.83zM19.0 107.70h2.94v1.01h-2.94zM105.7 107.70h2.94v1.01h-2.94zM120.2 107.70h2.94v1.01h-2.94zM154.9 107.70h2.94v1.01h-2.94zM172.2 107.70h2.94v1.01h-2.94zM253.1 107.70h5.83v1.01h-5.83zM264.7 107.70h2.94v1.01h-2.94zM19.0 108.66h2.94v1.01h-2.94zM62.4 108.66h2.94v1.01h-2.94zM68.1 108.66h2.94v1.01h-2.94zM76.8 108.66h2.94v1.01h-2.94zM102.8 108.66h2.94v1.01h-2.94zM117.3 108.66h2.94v1.01h-2.94zM152.0 108.66h2.94v1.01h-2.94zM198.2 108.66h2.94v1.01h-2.94zM204.0 108.66h5.83v1.01h-5.83zM230.0 108.66h2.94v1.01h-2.94zM238.7 108.66h2.94v1.01h-2.94zM120.2 109.62h2.94v1.01h-2.94zM154.9 109.62h2.94v1.01h-2.94zM253.1 109.62h5.83v1.01h-5.83zM261.8 109.62h2.94v1.01h-2.94zM21.9 110.59h2.94v1.01h-2.94zM102.8 110.59h2.94v1.01h-2.94zM160.6 110.59h5.83v1.01h-5.83zM152.0 111.55h2.94v1.01h-2.94zM284.9 111.55h2.94v1.01h-2.94zM65.2 112.51h2.94v1.01h-2.94zM114.4 112.51h2.94v1.01h-2.94zM125.9 112.51h2.94v1.01h-2.94zM152.0 112.51h5.83v1.01h-5.83zM258.9 112.51h2.94v1.01h-2.94zM36.3 113.47h2.94v1.01h-2.94zM76.8 113.47h5.83v1.01h-5.83zM166.4 113.47h5.83v1.01h-5.83zM175.1 113.47h2.94v1.01h-2.94zM264.7 113.47h5.83v1.01h-5.83zM117.3 114.44h2.94v1.01h-2.94zM160.6 114.44h2.94v1.01h-2.94zM183.8 114.44h2.94v1.01h-2.94zM19.0 115.40h2.94v1.01h-2.94zM36.3 115.40h2.94v1.01h-2.94zM42.1 115.40h2.94v1.01h-2.94zM56.6 115.40h2.94v1.01h-2.94zM68.1 115.40h5.83v1.01h-5.83zM143.3 115.40h5.83v1.01h-5.83zM157.7 116.36h2.94v1.01h-2.94zM166.4 116.36h5.83v1.01h-5.83zM175.1 116.36h2.94v1.01h-2.94zM224.2 116.36h2.94v1.01h-2.94zM59.5 117.33h2.94v1.01h-2.94zM68.1 117.33h5.83v1.01h-5.83zM108.6 117.33h5.83v1.01h-5.83zM206.9 117.33h2.94v1.01h-2.94zM73.9 118.29h5.83v1.01h-5.83zM105.7 118.29h2.94v1.01h-2.94zM123.1 118.29h2.94v1.01h-2.94zM160.6 118.29h2.94v1.01h-2.94zM264.7 118.29h2.94v1.01h-2.94zM30.6 119.25h2.94v1.01h-2.94zM163.5 119.25h2.94v1.01h-2.94zM258.9 119.25h5.83v1.01h-5.83zM27.7 120.21h5.83v1.01h-5.83zM36.3 120.21h2.94v1.01h-2.94zM111.5 120.21h2.94v1.01h-2.94zM198.2 120.21h5.83v1.01h-5.83zM238.7 120.21h2.94v1.01h-2.94zM264.7 120.21h2.94v1.01h-2.94zM39.2 121.18h5.83v1.01h-5.83zM30.6 122.14h2.94v1.01h-2.94zM36.3 122.14h2.94v1.01h-2.94zM204.0 122.14h2.94v1.01h-2.94zM273.4 122.14h2.94v1.01h-2.94zM108.6 123.10h5.83v1.01h-5.83zM123.1 123.10h2.94v1.01h-2.94zM33.5 124.06h2.94v1.01h-2.94zM42.1 124.06h2.94v1.01h-2.94zM47.9 124.06h2.94v1.01h-2.94zM99.9 124.06h5.83v1.01h-5.83zM108.6 124.06h5.83v1.01h-5.83zM123.1 124.06h5.83v1.01h-5.83zM152.0 124.06h2.94v1.01h-2.94zM264.7 124.06h5.83v1.01h-5.83zM30.6 125.03h2.94v1.01h-2.94zM166.4 125.03h5.83v1.01h-5.83zM279.1 125.03h2.94v1.01h-2.94zM82.6 125.99h2.94v1.01h-2.94zM123.1 125.99h5.83v1.01h-5.83zM146.2 125.99h5.83v1.01h-5.83zM160.6 125.99h2.94v1.01h-2.94zM227.1 125.99h2.94v1.01h-2.94zM267.6 125.99h2.94v1.01h-2.94zM62.4 126.95h2.94v1.01h-2.94zM256.0 126.95h2.94v1.01h-2.94zM24.8 127.91h2.94v1.01h-2.94zM50.8 127.91h2.94v1.01h-2.94zM125.9 127.91h2.94v1.01h-2.94zM131.7 127.91h2.94v1.01h-2.94zM244.5 127.91h2.94v1.01h-2.94zM264.7 127.91h2.94v1.01h-2.94zM282.0 127.91h5.83v1.01h-5.83zM19.0 128.88h2.94v1.01h-2.94zM24.8 128.88h5.83v1.01h-5.83zM59.5 128.88h2.94v1.01h-2.94zM88.4 128.88h2.94v1.01h-2.94zM111.5 128.88h5.83v1.01h-5.83zM195.3 128.88h2.94v1.01h-2.94zM209.8 128.88h2.94v1.01h-2.94zM227.1 128.88h2.94v1.01h-2.94zM273.4 128.88h8.72v1.01h-8.72zM45.0 129.84h8.72v1.01h-8.72zM62.4 129.84h2.94v1.01h-2.94zM143.3 129.84h5.83v1.01h-5.83zM253.1 129.84h2.94v1.01h-2.94zM261.8 129.84h2.94v1.01h-2.94zM47.9 130.80h2.94v1.01h-2.94zM73.9 130.80h2.94v1.01h-2.94zM82.6 130.80h2.94v1.01h-2.94zM88.4 130.80h5.83v1.01h-5.83zM99.9 130.80h2.94v1.01h-2.94zM160.6 130.80h2.94v1.01h-2.94zM178.0 130.80h2.94v1.01h-2.94zM189.5 130.80h8.72v1.01h-8.72zM212.7 130.80h2.94v1.01h-2.94zM256.0 130.80h2.94v1.01h-2.94zM19.0 131.76h2.94v1.01h-2.94zM33.5 131.76h2.94v1.01h-2.94zM206.9 131.76h2.94v1.01h-2.94zM218.4 131.76h5.83v1.01h-5.83zM137.5 132.73h2.94v1.01h-2.94zM163.5 132.73h2.94v1.01h-2.94zM201.1 132.73h2.94v1.01h-2.94zM209.8 132.73h8.72v1.01h-8.72zM264.7 132.73h2.94v1.01h-2.94zM218.4 133.69h2.94v1.01h-2.94zM230.0 133.69h2.94v1.01h-2.94zM33.5 134.65h2.94v1.01h-2.94zM39.2 134.65h5.83v1.01h-5.83zM123.1 134.65h8.72v1.01h-8.72zM137.5 134.65h2.94v1.01h-2.94zM146.2 134.65h2.94v1.01h-2.94zM241.6 134.65h2.94v1.01h-2.94zM253.1 134.65h2.94v1.01h-2.94zM33.5 135.61h2.94v1.01h-2.94zM146.2 135.61h2.94v1.01h-2.94zM250.2 135.61h2.94v1.01h-2.94zM68.1 136.57h2.94v1.01h-2.94zM79.7 136.57h8.72v1.01h-8.72zM261.8 136.57h2.94v1.01h-2.94zM279.1 136.57h2.94v1.01h-2.94zM91.3 137.54h2.94v1.01h-2.94zM131.7 137.54h2.94v1.01h-2.94zM183.8 137.54h2.94v1.01h-2.94zM279.1 137.54h5.83v1.01h-5.83zM137.5 138.50h2.94v1.01h-2.94zM189.5 138.50h2.94v1.01h-2.94zM195.3 138.50h2.94v1.01h-2.94zM206.9 138.50h5.83v1.01h-5.83zM215.6 138.50h2.94v1.01h-2.94zM224.2 138.50h2.94v1.01h-2.94zM284.9 138.50h2.94v1.01h-2.94zM56.6 139.46h2.94v1.01h-2.94zM68.1 139.46h5.83v1.01h-5.83zM76.8 139.46h2.94v1.01h-2.94zM33.5 140.43h2.94v1.01h-2.94zM47.9 140.43h2.94v1.01h-2.94zM79.7 140.43h2.94v1.01h-2.94zM65.2 141.39h2.94v1.01h-2.94zM82.6 141.39h2.94v1.01h-2.94zM88.4 141.39h2.94v1.01h-2.94zM105.7 141.39h2.94v1.01h-2.94zM227.1 141.39h2.94v1.01h-2.94zM45.0 142.35h2.94v1.01h-2.94zM50.8 142.35h2.94v1.01h-2.94zM62.4 142.35h2.94v1.01h-2.94zM97.0 142.35h2.94v1.01h-2.94zM250.2 142.35h2.94v1.01h-2.94zM166.4 143.31h5.83v1.01h-5.83zM284.9 143.31h5.83v1.01h-5.83zM36.3 144.28h2.94v1.01h-2.94zM68.1 144.28h2.94v1.01h-2.94zM73.9 144.28h2.94v1.01h-2.94zM183.8 144.28h11.61v1.01h-11.61zM21.9 145.24h2.94v1.01h-2.94zM39.2 145.24h2.94v1.01h-2.94zM102.8 145.24h2.94v1.01h-2.94zM117.3 145.24h2.94v1.01h-2.94zM125.9 145.24h2.94v1.01h-2.94zM166.4 145.24h2.94v1.01h-2.94zM209.8 145.24h2.94v1.01h-2.94zM253.1 146.20h2.94v1.01h-2.94zM36.3 147.16h2.94v1.01h-2.94zM97.0 148.12h5.83v1.01h-5.83zM19.0 149.09h2.94v1.01h-2.94zM53.7 149.09h5.83v1.01h-5.83zM134.6 149.09h2.94v1.01h-2.94zM140.4 149.09h2.94v1.01h-2.94zM152.0 149.09h2.94v1.01h-2.94zM172.2 149.09h2.94v1.01h-2.94zM276.3 149.09h2.94v1.01h-2.94zM99.9 150.05h2.94v1.01h-2.94zM117.3 150.05h2.94v1.01h-2.94zM134.6 150.05h2.94v1.01h-2.94zM140.4 150.05h2.94v1.01h-2.94zM189.5 150.05h2.94v1.01h-2.94zM71.0 151.01h2.94v1.01h-2.94zM189.5 151.01h8.72v1.01h-8.72zM218.4 151.01h5.83v1.01h-5.83zM154.9 151.98h2.94v1.01h-2.94zM166.4 151.98h5.83v1.01h-5.83zM39.2 152.94h2.94v1.01h-2.94zM65.2 152.94h2.94v1.01h-2.94zM99.9 152.94h5.83v1.01h-5.83zM186.7 152.94h2.94v1.01h-2.94zM201.1 152.94h2.94v1.01h-2.94zM166.4 153.90h2.94v1.01h-2.94zM175.1 153.90h2.94v1.01h-2.94zM235.8 153.90h2.94v1.01h-2.94zM276.3 153.90h2.94v1.01h-2.94zM65.2 154.86h2.94v1.01h-2.94zM117.3 154.86h5.83v1.01h-5.83zM21.9 155.82h5.83v1.01h-5.83zM88.4 155.82h2.94v1.01h-2.94zM108.6 155.82h2.94v1.01h-2.94zM128.8 155.82h5.83v1.01h-5.83zM146.2 155.82h2.94v1.01h-2.94zM152.0 155.82h2.94v1.01h-2.94zM209.8 155.82h5.83v1.01h-5.83zM227.1 155.82h5.83v1.01h-5.83zM253.1 155.82h2.94v1.01h-2.94zM261.8 155.82h2.94v1.01h-2.94zM273.4 155.82h5.83v1.01h-5.83zM287.8 155.82h2.94v1.01h-2.94zM30.6 156.79h2.94v1.01h-2.94zM45.0 156.79h2.94v1.01h-2.94zM50.8 156.79h2.94v1.01h-2.94zM117.3 156.79h2.94v1.01h-2.94zM131.7 156.79h2.94v1.01h-2.94zM166.4 156.79h2.94v1.01h-2.94zM172.2 156.79h2.94v1.01h-2.94zM238.7 156.79h2.94v1.01h-2.94zM114.4 157.75h2.94v1.01h-2.94zM218.4 157.75h2.94v1.01h-2.94zM253.1 157.75h5.83v1.01h-5.83zM261.8 157.75h5.83v1.01h-5.83zM284.9 157.75h2.94v1.01h-2.94zM169.3 158.71h2.94v1.01h-2.94zM175.1 158.71h2.94v1.01h-2.94zM282.0 158.71h2.94v1.01h-2.94zM27.7 159.68h5.83v1.01h-5.83zM88.4 159.68h2.94v1.01h-2.94zM125.9 159.68h2.94v1.01h-2.94zM33.5 160.64h2.94v1.01h-2.94zM154.9 160.64h8.72v1.01h-8.72zM218.4 160.64h2.94v1.01h-2.94zM33.5 161.60h2.94v1.01h-2.94zM59.5 161.60h2.94v1.01h-2.94zM73.9 161.60h2.94v1.01h-2.94zM91.3 161.60h2.94v1.01h-2.94zM204.0 161.60h2.94v1.01h-2.94zM27.7 162.56h2.94v1.01h-2.94zM36.3 162.56h2.94v1.01h-2.94zM68.1 162.56h11.61v1.01h-11.61zM125.9 162.56h2.94v1.01h-2.94zM157.7 162.56h2.94v1.01h-2.94zM212.7 162.56h2.94v1.01h-2.94zM227.1 162.56h5.83v1.01h-5.83zM279.1 162.56h2.94v1.01h-2.94zM36.3 163.53h5.83v1.01h-5.83zM91.3 163.53h2.94v1.01h-2.94zM114.4 163.53h2.94v1.01h-2.94zM117.3 164.49h5.83v1.01h-5.83zM131.7 164.49h2.94v1.01h-2.94zM154.9 164.49h2.94v1.01h-2.94zM178.0 164.49h5.83v1.01h-5.83zM198.2 164.49h5.83v1.01h-5.83zM221.3 164.49h2.94v1.01h-2.94zM235.8 164.49h2.94v1.01h-2.94zM154.9 165.45h5.83v1.01h-5.83zM163.5 165.45h2.94v1.01h-2.94zM169.3 165.45h5.83v1.01h-5.83zM256.0 165.45h2.94v1.01h-2.94zM279.1 165.45h2.94v1.01h-2.94zM125.9 166.41h2.94v1.01h-2.94zM134.6 166.41h5.83v1.01h-5.83zM253.1 166.41h2.94v1.01h-2.94zM261.8 166.41h2.94v1.01h-2.94zM39.2 167.38h2.94v1.01h-2.94zM91.3 167.38h2.94v1.01h-2.94zM128.8 168.34h2.94v1.01h-2.94zM212.7 168.34h2.94v1.01h-2.94zM227.1 168.34h2.94v1.01h-2.94zM247.4 168.34h2.94v1.01h-2.94zM88.4 169.30h2.94v1.01h-2.94zM125.9 169.30h2.94v1.01h-2.94zM137.5 169.30h5.83v1.01h-5.83zM157.7 169.30h5.83v1.01h-5.83zM224.2 169.30h2.94v1.01h-2.94zM276.3 169.30h2.94v1.01h-2.94zM65.2 170.26h2.94v1.01h-2.94zM212.7 170.26h2.94v1.01h-2.94zM282.0 170.26h2.94v1.01h-2.94zM290.7 170.26h2.94v1.01h-2.94zM19.0 171.23h8.72v1.01h-8.72zM71.0 171.23h2.94v1.01h-2.94zM114.4 171.23h2.94v1.01h-2.94zM123.1 171.23h5.83v1.01h-5.83zM201.1 171.23h5.83v1.01h-5.83zM276.3 171.23h2.94v1.01h-2.94zM21.9 172.19h2.94v1.01h-2.94zM33.5 172.19h2.94v1.01h-2.94zM42.1 172.19h2.94v1.01h-2.94zM154.9 172.19h2.94v1.01h-2.94zM201.1 172.19h5.83v1.01h-5.83zM224.2 172.19h2.94v1.01h-2.94zM287.8 172.19h5.83v1.01h-5.83zM39.2 173.15h5.83v1.01h-5.83zM47.9 173.15h5.83v1.01h-5.83zM73.9 173.15h2.94v1.01h-2.94zM88.4 173.15h2.94v1.01h-2.94zM204.0 173.15h2.94v1.01h-2.94zM221.3 173.15h2.94v1.01h-2.94zM267.6 173.15h2.94v1.01h-2.94zM143.3 174.11h2.94v1.01h-2.94zM149.1 174.11h2.94v1.01h-2.94zM206.9 174.11h2.94v1.01h-2.94zM232.9 174.11h5.83v1.01h-5.83zM273.4 174.11h2.94v1.01h-2.94zM284.9 174.11h2.94v1.01h-2.94zM59.5 175.07h2.94v1.01h-2.94zM68.1 175.07h2.94v1.01h-2.94zM99.9 175.07h5.83v1.01h-5.83zM169.3 175.07h8.72v1.01h-8.72zM238.7 175.07h2.94v1.01h-2.94zM256.0 175.07h2.94v1.01h-2.94zM261.8 175.07h2.94v1.01h-2.94zM273.4 175.07h2.94v1.01h-2.94zM282.0 175.07h2.94v1.01h-2.94zM27.7 176.04h2.94v1.01h-2.94zM79.7 176.04h5.83v1.01h-5.83zM120.2 176.04h2.94v1.01h-2.94zM218.4 176.04h2.94v1.01h-2.94z"/>
<path fill="#6867c3" d="M172.2 64.39h2.94v1.01h-2.94zM238.7 64.39h2.94v1.01h-2.94zM276.3 64.39h2.94v1.01h-2.94zM195.3 65.35h2.94v1.01h-2.94zM204.0 65.35h2.94v1.01h-2.94zM221.3 65.35h2.94v1.01h-2.94zM238.7 66.31h2.94v1.01h-2.94zM253.1 66.31h2.94v1.01h-2.94zM267.6 67.28h8.72v1.01h-8.72zM21.9 68.24h2.94v1.01h-2.94zM73.9 68.24h2.94v1.01h-2.94zM88.4 68.24h2.94v1.01h-2.94zM105.7 68.24h2.94v1.01h-2.94zM154.9 68.24h2.94v1.01h-2.94zM180.9 68.24h5.83v1.01h-5.83zM267.6 68.24h2.94v1.01h-2.94zM273.4 68.24h2.94v1.01h-2.94zM56.6 69.20h2.94v1.01h-2.94zM134.6 69.20h2.94v1.01h-2.94zM146.2 69.20h2.94v1.01h-2.94zM206.9 69.20h2.94v1.01h-2.94zM230.0 69.20h2.94v1.01h-2.94zM79.7 70.16h2.94v1.01h-2.94zM105.7 70.16h2.94v1.01h-2.94zM134.6 70.16h8.72v1.01h-8.72zM264.7 70.16h2.94v1.01h-2.94zM73.9 71.12h5.83v1.01h-5.83zM82.6 71.12h5.83v1.01h-5.83zM149.1 71.12h2.94v1.01h-2.94zM192.4 71.12h2.94v1.01h-2.94zM244.5 71.12h2.94v1.01h-2.94zM79.7 72.09h2.94v1.01h-2.94zM85.5 72.09h2.94v1.01h-2.94zM198.2 72.09h2.94v1.01h-2.94zM209.8 73.05h2.94v1.01h-2.94zM215.6 73.05h5.83v1.01h-5.83zM224.2 73.05h5.83v1.01h-5.83zM238.7 73.05h2.94v1.01h-2.94zM273.4 73.05h2.94v1.01h-2.94zM24.8 74.01h5.83v1.01h-5.83zM105.7 74.01h2.94v1.01h-2.94zM212.7 74.01h2.94v1.01h-2.94zM218.4 74.01h2.94v1.01h-2.94zM227.1 74.01h5.83v1.01h-5.83zM282.0 74.01h2.94v1.01h-2.94zM180.9 74.97h2.94v1.01h-2.94zM186.7 74.97h2.94v1.01h-2.94zM27.7 75.94h5.83v1.01h-5.83zM42.1 76.90h2.94v1.01h-2.94zM62.4 76.90h2.94v1.01h-2.94zM209.8 76.90h17.39v1.01h-17.39zM21.9 77.86h2.94v1.01h-2.94zM27.7 77.86h5.83v1.01h-5.83zM50.8 77.86h2.94v1.01h-2.94zM62.4 77.86h2.94v1.01h-2.94zM39.2 78.83h5.83v1.01h-5.83zM65.2 78.83h2.94v1.01h-2.94zM149.1 78.83h2.94v1.01h-2.94zM175.1 78.83h2.94v1.01h-2.94zM24.8 79.79h2.94v1.01h-2.94zM33.5 79.79h2.94v1.01h-2.94zM59.5 79.79h2.94v1.01h-2.94zM68.1 79.79h5.83v1.01h-5.83zM88.4 79.79h2.94v1.01h-2.94zM175.1 79.79h2.94v1.01h-2.94zM235.8 79.79h2.94v1.01h-2.94zM27.7 80.75h2.94v1.01h-2.94zM73.9 80.75h2.94v1.01h-2.94zM146.2 80.75h2.94v1.01h-2.94zM169.3 80.75h2.94v1.01h-2.94zM264.7 80.75h5.83v1.01h-5.83zM279.1 80.75h2.94v1.01h-2.94zM59.5 81.71h5.83v1.01h-5.83zM99.9 81.71h2.94v1.01h-2.94zM232.9 81.71h5.83v1.01h-5.83zM71.0 82.67h8.72v1.01h-8.72zM105.7 82.67h2.94v1.01h-2.94zM111.5 82.67h2.94v1.01h-2.94zM273.4 82.67h2.94v1.01h-2.94zM284.9 82.67h2.94v1.01h-2.94zM192.4 83.64h2.94v1.01h-2.94zM232.9 83.64h5.83v1.01h-5.83zM227.1 84.60h2.94v1.01h-2.94zM235.8 84.60h2.94v1.01h-2.94zM264.7 84.60h2.94v1.01h-2.94zM21.9 85.56h2.94v1.01h-2.94zM105.7 85.56h5.83v1.01h-5.83zM209.8 85.56h8.72v1.01h-8.72zM33.5 86.53h2.94v1.01h-2.94zM102.8 86.53h2.94v1.01h-2.94zM166.4 86.53h2.94v1.01h-2.94zM209.8 86.53h8.72v1.01h-8.72zM221.3 86.53h2.94v1.01h-2.94zM230.0 86.53h2.94v1.01h-2.94zM235.8 86.53h2.94v1.01h-2.94zM241.6 86.53h2.94v1.01h-2.94zM247.4 86.53h2.94v1.01h-2.94zM105.7 87.49h2.94v1.01h-2.94zM178.0 87.49h5.83v1.01h-5.83zM189.5 87.49h5.83v1.01h-5.83zM183.8 88.45h5.83v1.01h-5.83zM264.7 88.45h2.94v1.01h-2.94zM279.1 88.45h2.94v1.01h-2.94zM33.5 89.41h2.94v1.01h-2.94zM183.8 89.41h2.94v1.01h-2.94zM273.4 89.41h5.83v1.01h-5.83zM24.8 90.38h2.94v1.01h-2.94zM149.1 90.38h2.94v1.01h-2.94zM256.0 90.38h2.94v1.01h-2.94zM270.5 90.38h2.94v1.01h-2.94zM183.8 91.34h5.83v1.01h-5.83zM244.5 91.34h2.94v1.01h-2.94zM270.5 91.34h2.94v1.01h-2.94zM279.1 91.34h2.94v1.01h-2.94zM68.1 92.30h5.83v1.01h-5.83zM201.1 92.30h2.94v1.01h-2.94zM261.8 92.30h2.94v1.01h-2.94zM279.1 92.30h2.94v1.01h-2.94zM19.0 93.26h2.94v1.01h-2.94zM33.5 93.26h8.72v1.01h-8.72zM192.4 93.26h5.83v1.01h-5.83zM270.5 93.26h2.94v1.01h-2.94zM282.0 93.26h5.83v1.01h-5.83zM27.7 94.22h5.83v1.01h-5.83zM65.2 94.22h5.83v1.01h-5.83zM94.2 94.22h5.83v1.01h-5.83zM279.1 94.22h2.94v1.01h-2.94zM256.0 95.19h5.83v1.01h-5.83zM21.9 96.15h2.94v1.01h-2.94zM27.7 96.15h2.94v1.01h-2.94zM94.2 96.15h2.94v1.01h-2.94zM111.5 96.15h2.94v1.01h-2.94zM180.9 96.15h2.94v1.01h-2.94zM224.2 96.15h2.94v1.01h-2.94zM33.5 97.11h2.94v1.01h-2.94zM73.9 97.11h5.83v1.01h-5.83zM111.5 97.11h2.94v1.01h-2.94zM143.3 97.11h2.94v1.01h-2.94zM36.3 98.08h2.94v1.01h-2.94zM88.4 98.08h2.94v1.01h-2.94zM123.1 98.08h2.94v1.01h-2.94zM146.2 98.08h5.83v1.01h-5.83zM157.7 98.08h2.94v1.01h-2.94zM62.4 99.04h2.94v1.01h-2.94zM97.0 99.04h2.94v1.01h-2.94zM256.0 99.04h2.94v1.01h-2.94zM261.8 99.04h2.94v1.01h-2.94zM21.9 100.00h2.94v1.01h-2.94zM42.1 100.00h2.94v1.01h-2.94zM206.9 100.00h2.94v1.01h-2.94zM227.1 100.00h5.83v1.01h-5.83zM261.8 100.00h5.83v1.01h-5.83zM36.3 100.96h2.94v1.01h-2.94zM65.2 100.96h2.94v1.01h-2.94zM230.0 100.96h2.94v1.01h-2.94zM71.0 101.93h2.94v1.01h-2.94zM253.1 101.93h2.94v1.01h-2.94zM19.0 102.89h2.94v1.01h-2.94zM94.2 102.89h2.94v1.01h-2.94zM256.0 102.89h2.94v1.01h-2.94zM261.8 102.89h2.94v1.01h-2.94zM160.6 103.85h2.94v1.01h-2.94zM198.2 103.85h2.94v1.01h-2.94zM59.5 104.81h5.83v1.01h-5.83zM212.7 104.81h2.94v1.01h-2.94zM258.9 104.81h2.94v1.01h-2.94zM59.5 105.78h2.94v1.01h-2.94zM91.3 105.78h2.94v1.01h-2.94zM258.9 105.78h5.83v1.01h-5.83zM143.3 106.74h8.72v1.01h-8.72zM21.9 107.70h2.94v1.01h-2.94zM91.3 107.70h2.94v1.01h-2.94zM117.3 107.70h2.94v1.01h-2.94zM59.5 108.66h2.94v1.01h-2.94zM114.4 108.66h2.94v1.01h-2.94zM201.1 108.66h2.94v1.01h-2.94zM276.3 108.66h5.83v1.01h-5.83zM65.2 109.62h2.94v1.01h-2.94zM137.5 109.62h5.83v1.01h-5.83zM146.2 109.62h2.94v1.01h-2.94zM157.7 109.62h2.94v1.01h-2.94zM19.0 110.59h2.94v1.01h-2.94zM45.0 110.59h2.94v1.01h-2.94zM94.2 110.59h2.94v1.01h-2.94zM59.5 111.55h5.83v1.01h-5.83zM282.0 111.55h2.94v1.01h-2.94zM91.3 112.51h2.94v1.01h-2.94zM123.1 112.51h2.94v1.01h-2.94zM157.7 112.51h2.94v1.01h-2.94zM56.6 113.47h2.94v1.01h-2.94zM154.9 113.47h5.83v1.01h-5.83zM172.2 113.47h2.94v1.01h-2.94zM183.8 113.47h2.94v1.01h-2.94zM270.5 113.47h5.83v1.01h-5.83zM59.5 114.44h2.94v1.01h-2.94zM94.2 114.44h2.94v1.01h-2.94zM120.2 114.44h2.94v1.01h-2.94zM186.7 114.44h2.94v1.01h-2.94zM204.0 114.44h5.83v1.01h-5.83zM270.5 114.44h2.94v1.01h-2.94zM53.7 115.40h2.94v1.01h-2.94zM59.5 116.36h2.94v1.01h-2.94zM88.4 116.36h2.94v1.01h-2.94zM114.4 116.36h2.94v1.01h-2.94zM154.9 116.36h2.94v1.01h-2.94zM256.0 116.36h8.72v1.01h-8.72zM27.7 117.33h2.94v1.01h-2.94zM62.4 117.33h2.94v1.01h-2.94zM204.0 117.33h2.94v1.01h-2.94zM59.5 118.29h5.83v1.01h-5.83zM125.9 118.29h5.83v1.01h-5.83zM166.4 118.29h2.94v1.01h-2.94zM175.1 118.29h2.94v1.01h-2.94zM224.2 118.29h2.94v1.01h-2.94zM36.3 119.25h2.94v1.01h-2.94zM183.8 119.25h5.83v1.01h-5.83zM256.0 119.25h2.94v1.01h-2.94zM39.2 120.21h5.83v1.01h-5.83zM85.5 120.21h2.94v1.01h-2.94zM189.5 120.21h2.94v1.01h-2.94zM244.5 120.21h5.83v1.01h-5.83zM114.4 121.18h2.94v1.01h-2.94zM204.0 121.18h2.94v1.01h-2.94zM65.2 122.14h2.94v1.01h-2.94zM88.4 122.14h2.94v1.01h-2.94zM105.7 122.14h2.94v1.01h-2.94zM284.9 122.14h2.94v1.01h-2.94zM114.4 123.10h8.72v1.01h-8.72zM238.7 123.10h2.94v1.01h-2.94zM45.0 124.06h2.94v1.01h-2.94zM50.8 124.06h2.94v1.01h-2.94zM79.7 124.06h8.72v1.01h-8.72zM273.4 124.06h2.94v1.01h-2.94zM117.3 125.03h8.72v1.01h-8.72zM282.0 125.03h2.94v1.01h-2.94zM65.2 125.99h2.94v1.01h-2.94zM88.4 125.99h2.94v1.01h-2.94zM120.2 125.99h2.94v1.01h-2.94zM143.3 125.99h2.94v1.01h-2.94zM166.4 125.99h2.94v1.01h-2.94zM198.2 125.99h5.83v1.01h-5.83zM230.0 125.99h2.94v1.01h-2.94zM88.4 126.95h2.94v1.01h-2.94zM114.4 126.95h2.94v1.01h-2.94zM134.6 126.95h8.72v1.01h-8.72zM209.8 126.95h2.94v1.01h-2.94zM224.2 126.95h2.94v1.01h-2.94zM290.7 126.95h2.94v1.01h-2.94zM39.2 127.91h11.61v1.01h-11.61zM59.5 127.91h2.94v1.01h-2.94zM76.8 127.91h2.94v1.01h-2.94zM117.3 127.91h2.94v1.01h-2.94zM215.6 127.91h2.94v1.01h-2.94zM221.3 127.91h11.61v1.01h-11.61zM241.6 127.91h2.94v1.01h-2.94zM247.4 127.91h2.94v1.01h-2.94zM62.4 128.88h5.83v1.01h-5.83zM146.2 128.88h2.94v1.01h-2.94zM59.5 129.84h2.94v1.01h-2.94zM134.6 129.84h2.94v1.01h-2.94zM178.0 129.84h5.83v1.01h-5.83zM45.0 130.80h2.94v1.01h-2.94zM50.8 130.80h2.94v1.01h-2.94zM79.7 130.80h2.94v1.01h-2.94zM85.5 130.80h2.94v1.01h-2.94zM108.6 130.80h5.83v1.01h-5.83zM180.9 130.80h2.94v1.01h-2.94zM198.2 130.80h2.94v1.01h-2.94zM209.8 130.80h2.94v1.01h-2.94zM68.1 131.76h5.83v1.01h-5.83zM232.9 131.76h5.83v1.01h-5.83zM50.8 132.73h2.94v1.01h-2.94zM59.5 132.73h2.94v1.01h-2.94zM140.4 132.73h2.94v1.01h-2.94zM146.2 133.69h5.83v1.01h-5.83zM198.2 133.69h5.83v1.01h-5.83zM36.3 134.65h2.94v1.01h-2.94zM117.3 134.65h2.94v1.01h-2.94zM134.6 134.65h2.94v1.01h-2.94zM140.4 134.65h5.83v1.01h-5.83zM149.1 134.65h2.94v1.01h-2.94zM209.8 134.65h2.94v1.01h-2.94zM244.5 134.65h5.83v1.01h-5.83zM108.6 135.61h5.83v1.01h-5.83zM143.3 135.61h2.94v1.01h-2.94zM149.1 135.61h2.94v1.01h-2.94zM160.6 135.61h5.83v1.01h-5.83zM224.2 135.61h2.94v1.01h-2.94zM71.0 136.57h8.72v1.01h-8.72zM282.0 136.57h2.94v1.01h-2.94zM45.0 137.54h2.94v1.01h-2.94zM172.2 137.54h2.94v1.01h-2.94zM180.9 137.54h2.94v1.01h-2.94zM198.2 137.54h5.83v1.01h-5.83zM79.7 138.50h2.94v1.01h-2.94zM111.5 138.50h2.94v1.01h-2.94zM204.0 138.50h2.94v1.01h-2.94zM212.7 138.50h2.94v1.01h-2.94zM221.3 138.50h2.94v1.01h-2.94zM53.7 139.46h2.94v1.01h-2.94zM73.9 139.46h2.94v1.01h-2.94zM88.4 139.46h2.94v1.01h-2.94zM108.6 139.46h5.83v1.01h-5.83zM140.4 139.46h2.94v1.01h-2.94zM108.6 140.43h5.83v1.01h-5.83zM279.1 140.43h2.94v1.01h-2.94zM36.3 141.39h5.83v1.01h-5.83zM178.0 141.39h2.94v1.01h-2.94zM198.2 141.39h5.83v1.01h-5.83zM282.0 141.39h5.83v1.01h-5.83zM59.5 142.35h2.94v1.01h-2.94zM157.7 142.35h2.94v1.01h-2.94zM99.9 143.31h2.94v1.01h-2.94zM111.5 144.28h2.94v1.01h-2.94zM178.0 144.28h2.94v1.01h-2.94zM195.3 144.28h2.94v1.01h-2.94zM53.7 145.24h2.94v1.01h-2.94zM99.9 145.24h2.94v1.01h-2.94zM128.8 145.24h2.94v1.01h-2.94zM169.3 145.24h2.94v1.01h-2.94zM99.9 146.20h2.94v1.01h-2.94zM117.3 146.20h2.94v1.01h-2.94zM279.1 146.20h2.94v1.01h-2.94zM33.5 147.16h2.94v1.01h-2.94zM59.5 148.12h2.94v1.01h-2.94zM71.0 148.12h2.94v1.01h-2.94zM102.8 148.12h5.83v1.01h-5.83zM120.2 148.12h2.94v1.01h-2.94zM125.9 148.12h2.94v1.01h-2.94zM282.0 148.12h5.83v1.01h-5.83zM169.3 149.09h2.94v1.01h-2.94zM279.1 149.09h2.94v1.01h-2.94zM33.5 150.05h2.94v1.01h-2.94zM76.8 150.05h2.94v1.01h-2.94zM102.8 150.05h2.94v1.01h-2.94zM183.8 150.05h5.83v1.01h-5.83zM192.4 150.05h5.83v1.01h-5.83zM273.4 150.05h8.72v1.01h-8.72zM68.1 151.01h2.94v1.01h-2.94zM131.7 151.01h2.94v1.01h-2.94zM180.9 151.01h2.94v1.01h-2.94zM215.6 151.01h2.94v1.01h-2.94zM157.7 151.98h2.94v1.01h-2.94zM287.8 151.98h2.94v1.01h-2.94zM42.1 152.94h2.94v1.01h-2.94zM131.7 153.90h2.94v1.01h-2.94zM172.2 153.90h2.94v1.01h-2.94zM279.1 153.90h5.83v1.01h-5.83zM36.3 154.86h2.94v1.01h-2.94zM45.0 154.86h5.83v1.01h-5.83zM114.4 154.86h2.94v1.01h-2.94zM282.0 154.86h2.94v1.01h-2.94zM65.2 155.82h2.94v1.01h-2.94zM71.0 155.82h2.94v1.01h-2.94zM111.5 155.82h2.94v1.01h-2.94zM149.1 155.82h2.94v1.01h-2.94zM198.2 155.82h2.94v1.01h-2.94zM215.6 155.82h2.94v1.01h-2.94zM290.7 155.82h2.94v1.01h-2.94zM47.9 156.79h2.94v1.01h-2.94zM71.0 156.79h2.94v1.01h-2.94zM276.3 156.79h5.83v1.01h-5.83zM178.0 157.75h2.94v1.01h-2.94zM258.9 157.75h2.94v1.01h-2.94zM128.8 158.71h2.94v1.01h-2.94zM218.4 158.71h2.94v1.01h-2.94zM123.1 159.68h2.94v1.01h-2.94zM180.9 159.68h2.94v1.01h-2.94zM163.5 160.64h2.94v1.01h-2.94zM180.9 160.64h2.94v1.01h-2.94zM221.3 160.64h2.94v1.01h-2.94zM250.2 160.64h5.83v1.01h-5.83zM279.1 160.64h2.94v1.01h-2.94zM123.1 161.60h2.94v1.01h-2.94zM206.9 161.60h2.94v1.01h-2.94zM30.6 162.56h2.94v1.01h-2.94zM42.1 162.56h2.94v1.01h-2.94zM209.8 162.56h2.94v1.01h-2.94zM215.6 162.56h2.94v1.01h-2.94zM224.2 162.56h2.94v1.01h-2.94zM253.1 162.56h2.94v1.01h-2.94zM42.1 163.53h2.94v1.01h-2.94zM169.3 163.53h2.94v1.01h-2.94zM180.9 163.53h2.94v1.01h-2.94zM186.7 163.53h2.94v1.01h-2.94zM204.0 163.53h8.72v1.01h-8.72zM276.3 163.53h2.94v1.01h-2.94zM65.2 164.49h2.94v1.01h-2.94zM218.4 164.49h2.94v1.01h-2.94zM232.9 164.49h2.94v1.01h-2.94zM279.1 164.49h2.94v1.01h-2.94zM42.1 165.45h2.94v1.01h-2.94zM91.3 165.45h2.94v1.01h-2.94zM114.4 165.45h2.94v1.01h-2.94zM128.8 165.45h2.94v1.01h-2.94zM166.4 165.45h2.94v1.01h-2.94zM91.3 166.41h2.94v1.01h-2.94zM97.0 166.41h2.94v1.01h-2.94zM186.7 166.41h2.94v1.01h-2.94zM232.9 166.41h2.94v1.01h-2.94zM128.8 167.38h2.94v1.01h-2.94zM198.2 167.38h5.83v1.01h-5.83zM230.0 167.38h2.94v1.01h-2.94zM284.9 167.38h2.94v1.01h-2.94zM91.3 168.34h2.94v1.01h-2.94zM241.6 168.34h5.83v1.01h-5.83zM76.8 169.30h2.94v1.01h-2.94zM134.6 169.30h2.94v1.01h-2.94zM241.6 169.30h8.72v1.01h-8.72zM114.4 170.26h5.83v1.01h-5.83zM287.8 170.26h2.94v1.01h-2.94zM198.2 171.23h2.94v1.01h-2.94zM206.9 171.23h2.94v1.01h-2.94zM287.8 171.23h2.94v1.01h-2.94zM65.2 172.19h8.72v1.01h-8.72zM114.4 172.19h2.94v1.01h-2.94zM128.8 172.19h2.94v1.01h-2.94zM157.7 172.19h2.94v1.01h-2.94zM198.2 172.19h2.94v1.01h-2.94zM218.4 172.19h5.83v1.01h-5.83zM76.8 173.15h2.94v1.01h-2.94zM209.8 173.15h8.72v1.01h-8.72zM235.8 173.15h2.94v1.01h-2.94zM204.0 174.11h2.94v1.01h-2.94zM276.3 174.11h2.94v1.01h-2.94zM33.5 175.07h2.94v1.01h-2.94zM131.7 175.07h2.94v1.01h-2.94zM152.0 175.07h2.94v1.01h-2.94zM241.6 175.07h2.94v1.01h-2.94zM253.1 175.07h2.94v1.01h-2.94zM258.9 175.07h2.94v1.01h-2.94zM290.7 175.07h2.94v1.01h-2.94zM117.3 176.04h2.94v1.01h-2.94zM183.8 176.04h5.83v1.01h-5.83zM224.2 176.04h2.94v1.01h-2.94zM287.8 176.04h5.83v1.01h-5.83z"/>
<path fill="#7f6ec5" d="M175.1 64.39h2.94v1.01h-2.94zM192.4 64.39h5.83v1.01h-5.83zM273.4 64.39h2.94v1.01h-2.94zM186.7 65.35h2.94v1.01h-2.94zM206.9 65.35h2.94v1.01h-2.94zM218.4 65.35h2.94v1.01h-2.94zM224.2 65.35h2.94v1.01h-2.94zM238.7 65.35h2.94v1.01h-2.94zM284.9 65.35h2.94v1.01h-2.94zM33.5 66.31h2.94v1.01h-2.94zM206.9 66.31h2.94v1.01h-2.94zM39.2 67.28h5.83v1.01h-5.83zM65.2 67.28h5.83v1.01h-5.83zM131.7 67.28h2.94v1.01h-2.94zM195.3 67.28h2.94v1.01h-2.94zM201.1 67.28h2.94v1.01h-2.94zM244.5 67.28h5.83v1.01h-5.83zM276.3 67.28h2.94v1.01h-2.94zM102.8 68.24h2.94v1.01h-2.94zM157.7 68.24h2.94v1.01h-2.94zM178.0 68.24h2.94v1.01h-2.94zM204.0 68.24h2.94v1.01h-2.94zM244.5 68.24h5.83v1.01h-5.83zM53.7 69.20h2.94v1.01h-2.94zM137.5 69.20h5.83v1.01h-5.83zM65.2 70.16h2.94v1.01h-2.94zM88.4 70.16h2.94v1.01h-2.94zM105.7 71.12h2.94v1.01h-2.94zM146.2 71.12h2.94v1.01h-2.94zM241.6 71.12h2.94v1.01h-2.94zM247.4 71.12h2.94v1.01h-2.94zM287.8 71.12h5.83v1.01h-5.83zM24.8 72.09h2.94v1.01h-2.94zM73.9 72.09h2.94v1.01h-2.94zM108.6 72.09h2.94v1.01h-2.94zM201.1 72.09h2.94v1.01h-2.94zM19.0 73.05h2.94v1.01h-2.94zM39.2 73.05h5.83v1.01h-5.83zM105.7 73.05h2.94v1.01h-2.94zM212.7 73.05h2.94v1.01h-2.94zM114.4 74.01h2.94v1.01h-2.94zM209.8 74.01h2.94v1.01h-2.94zM215.6 74.01h2.94v1.01h-2.94zM221.3 74.01h5.83v1.01h-5.83zM256.0 74.01h2.94v1.01h-2.94zM261.8 74.01h2.94v1.01h-2.94zM279.1 74.01h2.94v1.01h-2.94zM24.8 74.97h2.94v1.01h-2.94zM178.0 74.97h2.94v1.01h-2.94zM183.8 74.97h2.94v1.01h-2.94zM227.1 74.97h5.83v1.01h-5.83zM261.8 75.94h2.94v1.01h-2.94zM267.6 75.94h5.83v1.01h-5.83zM59.5 76.90h2.94v1.01h-2.94zM261.8 76.90h2.94v1.01h-2.94zM45.0 77.86h5.83v1.01h-5.83zM111.5 77.86h2.94v1.01h-2.94zM123.1 77.86h2.94v1.01h-2.94zM209.8 77.86h2.94v1.01h-2.94zM215.6 77.86h2.94v1.01h-2.94zM230.0 77.86h2.94v1.01h-2.94zM244.5 77.86h5.83v1.01h-5.83zM264.7 77.86h2.94v1.01h-2.94zM36.3 78.83h2.94v1.01h-2.94zM131.7 78.83h2.94v1.01h-2.94zM143.3 78.83h2.94v1.01h-2.94zM172.2 78.83h2.94v1.01h-2.94zM201.1 78.83h2.94v1.01h-2.94zM131.7 79.79h2.94v1.01h-2.94zM172.2 79.79h2.94v1.01h-2.94zM198.2 79.79h5.83v1.01h-5.83zM232.9 79.79h2.94v1.01h-2.94zM30.6 80.75h2.94v1.01h-2.94zM36.3 80.75h2.94v1.01h-2.94zM99.9 80.75h5.83v1.01h-5.83zM108.6 80.75h5.83v1.01h-5.83zM143.3 80.75h2.94v1.01h-2.94zM166.4 80.75h2.94v1.01h-2.94zM270.5 80.75h5.83v1.01h-5.83zM24.8 81.71h2.94v1.01h-2.94zM71.0 81.71h2.94v1.01h-2.94zM76.8 81.71h2.94v1.01h-2.94zM201.1 81.71h2.94v1.01h-2.94zM33.5 82.67h2.94v1.01h-2.94zM99.9 82.67h5.83v1.01h-5.83zM143.3 82.67h8.72v1.01h-8.72zM282.0 82.67h2.94v1.01h-2.94zM134.6 83.64h2.94v1.01h-2.94zM143.3 83.64h2.94v1.01h-2.94zM149.1 83.64h2.94v1.01h-2.94zM175.1 83.64h2.94v1.01h-2.94zM99.9 84.60h5.83v1.01h-5.83zM30.6 85.56h2.94v1.01h-2.94zM97.0 85.56h2.94v1.01h-2.94zM218.4 85.56h5.83v1.01h-5.83zM105.7 86.53h2.94v1.01h-2.94zM175.1 86.53h2.94v1.01h-2.94zM180.9 86.53h2.94v1.01h-2.94zM189.5 86.53h5.83v1.01h-5.83zM201.1 86.53h5.83v1.01h-5.83zM218.4 86.53h2.94v1.01h-2.94zM224.2 86.53h2.94v1.01h-2.94zM232.9 86.53h2.94v1.01h-2.94zM284.9 86.53h2.94v1.01h-2.94zM166.4 87.49h2.94v1.01h-2.94zM264.7 87.49h2.94v1.01h-2.94zM99.9 89.41h2.94v1.01h-2.94zM209.8 89.41h2.94v1.01h-2.94zM218.4 89.41h2.94v1.01h-2.94zM241.6 89.41h8.72v1.01h-8.72zM270.5 89.41h2.94v1.01h-2.94zM143.3 90.38h5.83v1.01h-5.83zM261.8 90.38h5.83v1.01h-5.83zM128.8 91.34h2.94v1.01h-2.94zM198.2 91.34h2.94v1.01h-2.94zM241.6 91.34h2.94v1.01h-2.94zM264.7 91.34h2.94v1.01h-2.94zM73.9 92.30h2.94v1.01h-2.94zM94.2 92.30h2.94v1.01h-2.94zM42.1 93.26h2.94v1.01h-2.94zM91.3 93.26h2.94v1.01h-2.94zM128.8 93.26h2.94v1.01h-2.94zM198.2 93.26h2.94v1.01h-2.94zM287.8 93.26h2.94v1.01h-2.94zM71.0 94.22h5.83v1.01h-5.83zM267.6 94.22h2.94v1.01h-2.94zM36.3 95.19h5.83v1.01h-5.83zM183.8 95.19h5.83v1.01h-5.83zM261.8 95.19h2.94v1.01h-2.94zM30.6 96.15h2.94v1.01h-2.94zM39.2 96.15h5.83v1.01h-5.83zM76.8 96.15h2.94v1.01h-2.94zM128.8 96.15h2.94v1.01h-2.94zM137.5 96.15h2.94v1.01h-2.94zM178.0 96.15h2.94v1.01h-2.94zM91.3 97.11h2.94v1.01h-2.94zM108.6 97.11h2.94v1.01h-2.94zM128.8 97.11h2.94v1.01h-2.94zM154.9 97.11h5.83v1.01h-5.83zM114.4 98.08h2.94v1.01h-2.94zM189.5 98.08h2.94v1.01h-2.94zM195.3 98.08h2.94v1.01h-2.94zM59.5 99.04h2.94v1.01h-2.94zM65.2 99.04h2.94v1.01h-2.94zM94.2 99.04h2.94v1.01h-2.94zM258.9 99.04h2.94v1.01h-2.94zM264.7 99.04h2.94v1.01h-2.94zM33.5 100.00h2.94v1.01h-2.94zM94.2 100.00h2.94v1.01h-2.94zM198.2 100.00h8.72v1.01h-8.72zM258.9 100.00h2.94v1.01h-2.94zM270.5 100.00h2.94v1.01h-2.94zM261.8 100.96h2.94v1.01h-2.94zM19.0 101.93h2.94v1.01h-2.94zM68.1 101.93h2.94v1.01h-2.94zM137.5 101.93h2.94v1.01h-2.94zM232.9 101.93h5.83v1.01h-5.83zM21.9 102.89h2.94v1.01h-2.94zM65.2 102.89h2.94v1.01h-2.94zM97.0 102.89h2.94v1.01h-2.94zM108.6 102.89h5.83v1.01h-5.83zM59.5 103.85h2.94v1.01h-2.94zM91.3 103.85h2.94v1.01h-2.94zM108.6 103.85h2.94v1.01h-2.94zM163.5 103.85h2.94v1.01h-2.94zM215.6 104.81h2.94v1.01h-2.94zM256.0 104.81h2.94v1.01h-2.94zM270.5 104.81h8.72v1.01h-8.72zM94.2 105.78h2.94v1.01h-2.94zM256.0 105.78h2.94v1.01h-2.94zM137.5 107.70h2.94v1.01h-2.94zM224.2 107.70h2.94v1.01h-2.94zM290.7 107.70h2.94v1.01h-2.94zM143.3 108.66h2.94v1.01h-2.94zM149.1 108.66h2.94v1.01h-2.94zM224.2 108.66h2.94v1.01h-2.94zM273.4 108.66h2.94v1.01h-2.94zM53.7 109.62h5.83v1.01h-5.83zM117.3 109.62h2.94v1.01h-2.94zM134.6 109.62h2.94v1.01h-2.94zM143.3 109.62h2.94v1.01h-2.94zM284.9 109.62h2.94v1.01h-2.94zM47.9 110.59h5.83v1.01h-5.83zM97.0 110.59h2.94v1.01h-2.94zM287.8 110.59h2.94v1.01h-2.94zM65.2 111.55h2.94v1.01h-2.94zM227.1 111.55h5.83v1.01h-5.83zM76.8 112.51h2.94v1.01h-2.94zM143.3 112.51h2.94v1.01h-2.94zM209.8 112.51h2.94v1.01h-2.94zM215.6 112.51h8.72v1.01h-8.72zM125.9 113.47h2.94v1.01h-2.94zM261.8 113.47h2.94v1.01h-2.94zM276.3 113.47h2.94v1.01h-2.94zM65.2 114.44h2.94v1.01h-2.94zM97.0 114.44h2.94v1.01h-2.94zM108.6 114.44h2.94v1.01h-2.94zM273.4 114.44h2.94v1.01h-2.94zM24.8 115.40h2.94v1.01h-2.94zM123.1 115.40h2.94v1.01h-2.94zM152.0 115.40h8.72v1.01h-8.72zM264.7 115.40h2.94v1.01h-2.94zM36.3 116.36h2.94v1.01h-2.94zM62.4 116.36h5.83v1.01h-5.83zM30.6 117.33h5.83v1.01h-5.83zM198.2 117.33h2.94v1.01h-2.94zM36.3 118.29h2.94v1.01h-2.94zM71.0 118.29h2.94v1.01h-2.94zM169.3 118.29h5.83v1.01h-5.83zM212.7 118.29h2.94v1.01h-2.94zM247.4 118.29h2.94v1.01h-2.94zM256.0 118.29h2.94v1.01h-2.94zM267.6 118.29h11.61v1.01h-11.61zM154.9 119.25h2.94v1.01h-2.94zM169.3 119.25h2.94v1.01h-2.94zM79.7 120.21h5.83v1.01h-5.83zM192.4 120.21h2.94v1.01h-2.94zM224.2 120.21h2.94v1.01h-2.94zM241.6 120.21h2.94v1.01h-2.94zM267.6 120.21h5.83v1.01h-5.83zM108.6 121.18h2.94v1.01h-2.94zM198.2 121.18h2.94v1.01h-2.94zM264.7 121.18h2.94v1.01h-2.94zM42.1 122.14h2.94v1.01h-2.94zM108.6 122.14h2.94v1.01h-2.94zM282.0 122.14h2.94v1.01h-2.94zM36.3 123.10h2.94v1.01h-2.94zM91.3 123.10h2.94v1.01h-2.94zM99.9 123.10h2.94v1.01h-2.94zM125.9 123.10h2.94v1.01h-2.94zM152.0 123.10h2.94v1.01h-2.94zM172.2 123.10h2.94v1.01h-2.94zM224.2 123.10h2.94v1.01h-2.94zM183.8 124.06h5.83v1.01h-5.83zM244.5 124.06h2.94v1.01h-2.94zM276.3 124.06h2.94v1.01h-2.94zM282.0 124.06h2.94v1.01h-2.94zM50.8 125.03h2.94v1.01h-2.94zM88.4 125.03h2.94v1.01h-2.94zM125.9 125.03h2.94v1.01h-2.94zM227.1 125.03h5.83v1.01h-5.83zM108.6 125.99h2.94v1.01h-2.94zM114.4 125.99h5.83v1.01h-5.83zM287.8 125.99h2.94v1.01h-2.94zM108.6 126.95h5.83v1.01h-5.83zM212.7 126.95h11.61v1.01h-11.61zM287.8 126.95h2.94v1.01h-2.94zM62.4 127.91h2.94v1.01h-2.94zM68.1 127.91h2.94v1.01h-2.94zM73.9 127.91h2.94v1.01h-2.94zM123.1 127.91h2.94v1.01h-2.94zM169.3 127.91h2.94v1.01h-2.94zM209.8 127.91h5.83v1.01h-5.83zM143.3 128.88h2.94v1.01h-2.94zM149.1 128.88h2.94v1.01h-2.94zM264.7 128.88h2.94v1.01h-2.94zM114.4 129.84h2.94v1.01h-2.94zM137.5 129.84h2.94v1.01h-2.94zM123.1 130.80h2.94v1.01h-2.94zM201.1 130.80h2.94v1.01h-2.94zM230.0 130.80h2.94v1.01h-2.94zM279.1 130.80h2.94v1.01h-2.94zM47.9 131.76h2.94v1.01h-2.94zM59.5 131.76h5.83v1.01h-5.83zM76.8 131.76h2.94v1.01h-2.94zM134.6 131.76h8.72v1.01h-8.72zM209.8 131.76h2.94v1.01h-2.94zM279.1 131.76h2.94v1.01h-2.94zM45.0 132.73h2.94v1.01h-2.94zM62.4 132.73h5.83v1.01h-5.83zM108.6 132.73h2.94v1.01h-2.94zM134.6 132.73h2.94v1.01h-2.94zM198.2 132.73h2.94v1.01h-2.94zM134.6 133.69h8.72v1.01h-8.72zM178.0 133.69h5.83v1.01h-5.83zM47.9 134.65h5.83v1.01h-5.83zM65.2 134.65h2.94v1.01h-2.94zM120.2 134.65h2.94v1.01h-2.94zM183.8 136.57h2.94v1.01h-2.94zM198.2 136.57h5.83v1.01h-5.83zM47.9 137.54h5.83v1.01h-5.83zM108.6 137.54h2.94v1.01h-2.94zM166.4 137.54h5.83v1.01h-5.83zM284.9 137.54h2.94v1.01h-2.94zM82.6 138.50h8.72v1.01h-8.72zM108.6 138.50h2.94v1.01h-2.94zM134.6 138.50h2.94v1.01h-2.94zM140.4 138.50h2.94v1.01h-2.94zM79.7 139.46h2.94v1.01h-2.94zM85.5 139.46h2.94v1.01h-2.94zM279.1 139.46h2.94v1.01h-2.94zM284.9 139.46h2.94v1.01h-2.94zM111.5 141.39h2.94v1.01h-2.94zM134.6 141.39h8.72v1.01h-8.72zM180.9 141.39h8.72v1.01h-8.72zM117.3 142.35h2.94v1.01h-2.94zM123.1 142.35h2.94v1.01h-2.94zM175.1 142.35h2.94v1.01h-2.94zM221.3 142.35h2.94v1.01h-2.94zM279.1 142.35h2.94v1.01h-2.94zM102.8 143.31h2.94v1.01h-2.94zM241.6 143.31h2.94v1.01h-2.94zM247.4 143.31h2.94v1.01h-2.94zM53.7 144.28h2.94v1.01h-2.94zM71.0 144.28h2.94v1.01h-2.94zM76.8 144.28h2.94v1.01h-2.94zM108.6 144.28h2.94v1.01h-2.94zM114.4 144.28h2.94v1.01h-2.94zM33.5 145.24h2.94v1.01h-2.94zM105.7 145.24h2.94v1.01h-2.94zM198.2 145.24h5.83v1.01h-5.83zM282.0 145.24h5.83v1.01h-5.83zM290.7 145.24h2.94v1.01h-2.94zM65.2 146.20h2.94v1.01h-2.94zM102.8 146.20h2.94v1.01h-2.94zM134.6 146.20h2.94v1.01h-2.94zM140.4 146.20h2.94v1.01h-2.94zM195.3 146.20h2.94v1.01h-2.94zM241.6 146.20h8.72v1.01h-8.72zM287.8 146.20h2.94v1.01h-2.94zM85.5 147.16h2.94v1.01h-2.94zM111.5 147.16h2.94v1.01h-2.94zM247.4 147.16h2.94v1.01h-2.94zM33.5 148.12h2.94v1.01h-2.94zM62.4 148.12h2.94v1.01h-2.94zM68.1 148.12h2.94v1.01h-2.94zM88.4 148.12h2.94v1.01h-2.94zM117.3 148.12h2.94v1.01h-2.94zM123.1 148.12h2.94v1.01h-2.94zM273.4 148.12h8.72v1.01h-8.72zM88.4 149.09h2.94v1.01h-2.94zM108.6 149.09h5.83v1.01h-5.83zM59.5 150.05h5.83v1.01h-5.83zM73.9 150.05h2.94v1.01h-2.94zM198.2 150.05h5.83v1.01h-5.83zM206.9 150.05h2.94v1.01h-2.94zM284.9 150.05h2.94v1.01h-2.94zM62.4 151.01h2.94v1.01h-2.94zM146.2 151.01h2.94v1.01h-2.94zM169.3 151.01h2.94v1.01h-2.94zM290.7 151.01h2.94v1.01h-2.94zM108.6 151.98h5.83v1.01h-5.83zM146.2 151.98h5.83v1.01h-5.83zM33.5 152.94h2.94v1.01h-2.94zM53.7 152.94h5.83v1.01h-5.83zM68.1 152.94h2.94v1.01h-2.94zM137.5 152.94h2.94v1.01h-2.94zM178.0 152.94h2.94v1.01h-2.94zM114.4 153.90h2.94v1.01h-2.94zM178.0 153.90h5.83v1.01h-5.83zM189.5 153.90h5.83v1.01h-5.83zM273.4 153.90h2.94v1.01h-2.94zM284.9 153.90h2.94v1.01h-2.94zM50.8 154.86h2.94v1.01h-2.94zM284.9 154.86h5.83v1.01h-5.83zM33.5 155.82h2.94v1.01h-2.94zM68.1 155.82h2.94v1.01h-2.94zM201.1 155.82h2.94v1.01h-2.94zM206.9 155.82h2.94v1.01h-2.94zM65.2 156.79h2.94v1.01h-2.94zM114.4 156.79h2.94v1.01h-2.94zM178.0 156.79h2.94v1.01h-2.94zM189.5 156.79h5.83v1.01h-5.83zM273.4 156.79h2.94v1.01h-2.94zM284.9 156.79h2.94v1.01h-2.94zM62.4 157.75h2.94v1.01h-2.94zM88.4 157.75h2.94v1.01h-2.94zM128.8 157.75h2.94v1.01h-2.94zM186.7 157.75h2.94v1.01h-2.94zM209.8 157.75h8.72v1.01h-8.72zM287.8 157.75h2.94v1.01h-2.94zM33.5 158.71h2.94v1.01h-2.94zM62.4 158.71h2.94v1.01h-2.94zM180.9 158.71h2.94v1.01h-2.94zM192.4 158.71h5.83v1.01h-5.83zM221.3 158.71h2.94v1.01h-2.94zM183.8 159.68h5.83v1.01h-5.83zM206.9 159.68h2.94v1.01h-2.94zM273.4 159.68h5.83v1.01h-5.83zM47.9 160.64h2.94v1.01h-2.94zM178.0 160.64h2.94v1.01h-2.94zM186.7 160.64h2.94v1.01h-2.94zM230.0 160.64h2.94v1.01h-2.94zM88.4 161.60h2.94v1.01h-2.94zM235.8 161.60h2.94v1.01h-2.94zM250.2 161.60h5.83v1.01h-5.83zM123.1 162.56h2.94v1.01h-2.94zM178.0 162.56h11.61v1.01h-11.61zM166.4 163.53h2.94v1.01h-2.94zM172.2 163.53h8.72v1.01h-8.72zM183.8 163.53h2.94v1.01h-2.94zM215.6 163.53h2.94v1.01h-2.94zM224.2 163.53h2.94v1.01h-2.94zM36.3 164.49h2.94v1.01h-2.94zM91.3 164.49h2.94v1.01h-2.94zM253.1 164.49h2.94v1.01h-2.94zM39.2 165.45h2.94v1.01h-2.94zM131.7 165.45h2.94v1.01h-2.94zM204.0 165.45h2.94v1.01h-2.94zM94.2 166.41h2.94v1.01h-2.94zM114.4 166.41h2.94v1.01h-2.94zM128.8 166.41h2.94v1.01h-2.94zM183.8 166.41h2.94v1.01h-2.94zM235.8 166.41h2.94v1.01h-2.94zM42.1 167.38h2.94v1.01h-2.94zM218.4 167.38h5.83v1.01h-5.83zM279.1 167.38h5.83v1.01h-5.83zM287.8 167.38h5.83v1.01h-5.83zM221.3 168.34h2.94v1.01h-2.94zM68.1 169.30h2.94v1.01h-2.94zM73.9 169.30h2.94v1.01h-2.94zM114.4 169.30h2.94v1.01h-2.94zM212.7 169.30h2.94v1.01h-2.94zM279.1 169.30h2.94v1.01h-2.94zM88.4 170.26h2.94v1.01h-2.94zM180.9 170.26h2.94v1.01h-2.94zM206.9 170.26h2.94v1.01h-2.94zM218.4 170.26h2.94v1.01h-2.94zM152.0 171.23h2.94v1.01h-2.94zM186.7 171.23h2.94v1.01h-2.94zM290.7 171.23h2.94v1.01h-2.94zM94.2 172.19h5.83v1.01h-5.83zM131.7 172.19h2.94v1.01h-2.94zM212.7 172.19h2.94v1.01h-2.94zM230.0 172.19h2.94v1.01h-2.94zM186.7 173.15h2.94v1.01h-2.94zM232.9 173.15h2.94v1.01h-2.94zM36.3 174.11h2.94v1.01h-2.94zM59.5 174.11h5.83v1.01h-5.83zM186.7 174.11h2.94v1.01h-2.94zM198.2 174.11h5.83v1.01h-5.83zM290.7 174.11h2.94v1.01h-2.94zM47.9 175.07h2.94v1.01h-2.94zM128.8 175.07h2.94v1.01h-2.94zM154.9 175.07h2.94v1.01h-2.94zM227.1 175.07h5.83v1.01h-5.83zM244.5 175.07h5.83v1.01h-5.83zM287.8 175.07h2.94v1.01h-2.94zM65.2 176.04h8.72v1.01h-8.72zM154.9 176.04h5.83v1.01h-5.83zM172.2 176.04h5.83v1.01h-5.83zM209.8 176.04h2.94v1.01h-2.94z"/>
<path fill="#9672c2" d="M189.5 64.39h2.94v1.01h-2.94zM204.0 64.39h2.94v1.01h-2.94zM227.1 64.39h2.94v1.01h-2.94zM253.1 64.39h2.94v1.01h-2.94zM183.8 65.35h2.94v1.01h-2.94zM273.4 65.35h5.83v1.01h-5.83zM282.0 65.35h2.94v1.01h-2.94zM27.7 66.31h2.94v1.01h-2.94zM169.3 66.31h2.94v1.01h-2.94zM204.0 66.31h2.94v1.01h-2.94zM221.3 66.31h5.83v1.01h-5.83zM267.6 66.31h5.83v1.01h-5.83zM282.0 66.31h2.94v1.01h-2.94zM24.8 67.28h2.94v1.01h-2.94zM47.9 67.28h5.83v1.01h-5.83zM71.0 67.28h2.94v1.01h-2.94zM189.5 67.28h5.83v1.01h-5.83zM198.2 67.28h2.94v1.01h-2.94zM241.6 67.28h2.94v1.01h-2.94zM76.8 68.24h2.94v1.01h-2.94zM99.9 68.24h2.94v1.01h-2.94zM186.7 68.24h2.94v1.01h-2.94zM206.9 68.24h2.94v1.01h-2.94zM241.6 68.24h2.94v1.01h-2.94zM27.7 69.20h2.94v1.01h-2.94zM65.2 69.20h2.94v1.01h-2.94zM71.0 69.20h2.94v1.01h-2.94zM114.4 69.20h2.94v1.01h-2.94zM279.1 69.20h2.94v1.01h-2.94zM287.8 69.20h2.94v1.01h-2.94zM68.1 70.16h5.83v1.01h-5.83zM102.8 70.16h2.94v1.01h-2.94zM282.0 70.16h2.94v1.01h-2.94zM128.8 71.12h5.83v1.01h-5.83zM224.2 71.12h5.83v1.01h-5.83zM42.1 72.09h2.94v1.01h-2.94zM76.8 72.09h2.94v1.01h-2.94zM82.6 72.09h2.94v1.01h-2.94zM99.9 72.09h5.83v1.01h-5.83zM111.5 72.09h2.94v1.01h-2.94zM143.3 72.09h2.94v1.01h-2.94zM224.2 72.09h2.94v1.01h-2.94zM21.9 73.05h2.94v1.01h-2.94zM146.2 73.05h2.94v1.01h-2.94zM183.8 73.05h2.94v1.01h-2.94zM201.1 73.05h2.94v1.01h-2.94zM221.3 73.05h2.94v1.01h-2.94zM88.4 74.01h2.94v1.01h-2.94zM258.9 74.01h2.94v1.01h-2.94zM267.6 74.01h5.83v1.01h-5.83zM59.5 74.97h8.72v1.01h-8.72zM238.7 74.97h2.94v1.01h-2.94zM111.5 75.94h2.94v1.01h-2.94zM256.0 75.94h5.83v1.01h-5.83zM279.1 75.94h2.94v1.01h-2.94zM232.9 76.90h5.83v1.01h-5.83zM256.0 76.90h5.83v1.01h-5.83zM53.7 77.86h2.94v1.01h-2.94zM108.6 77.86h2.94v1.01h-2.94zM125.9 77.86h2.94v1.01h-2.94zM212.7 77.86h2.94v1.01h-2.94zM218.4 77.86h11.61v1.01h-11.61zM238.7 77.86h5.83v1.01h-5.83zM50.8 78.83h2.94v1.01h-2.94zM247.4 78.83h2.94v1.01h-2.94zM149.1 79.79h2.94v1.01h-2.94zM24.8 80.75h2.94v1.01h-2.94zM47.9 80.75h2.94v1.01h-2.94zM189.5 80.75h5.83v1.01h-5.83zM276.3 80.75h2.94v1.01h-2.94zM68.1 81.71h2.94v1.01h-2.94zM73.9 81.71h2.94v1.01h-2.94zM128.8 81.71h2.94v1.01h-2.94zM134.6 81.71h5.83v1.01h-5.83zM169.3 81.71h2.94v1.01h-2.94zM264.7 81.71h2.94v1.01h-2.94zM42.1 82.67h2.94v1.01h-2.94zM33.5 83.64h2.94v1.01h-2.94zM79.7 83.64h8.72v1.01h-8.72zM140.4 83.64h2.94v1.01h-2.94zM146.2 83.64h2.94v1.01h-2.94zM172.2 83.64h2.94v1.01h-2.94zM65.2 84.60h2.94v1.01h-2.94zM105.7 84.60h5.83v1.01h-5.83zM279.1 84.60h5.83v1.01h-5.83zM27.7 85.56h2.94v1.01h-2.94zM47.9 85.56h2.94v1.01h-2.94zM65.2 85.56h5.83v1.01h-5.83zM88.4 85.56h2.94v1.01h-2.94zM94.2 85.56h2.94v1.01h-2.94zM198.2 85.56h11.61v1.01h-11.61zM224.2 85.56h2.94v1.01h-2.94zM264.7 85.56h2.94v1.01h-2.94zM36.3 86.53h8.72v1.01h-8.72zM91.3 86.53h2.94v1.01h-2.94zM111.5 86.53h2.94v1.01h-2.94zM131.7 86.53h2.94v1.01h-2.94zM172.2 86.53h2.94v1.01h-2.94zM178.0 86.53h2.94v1.01h-2.94zM198.2 86.53h2.94v1.01h-2.94zM206.9 86.53h2.94v1.01h-2.94zM227.1 86.53h2.94v1.01h-2.94zM169.3 87.49h2.94v1.01h-2.94zM183.8 87.49h2.94v1.01h-2.94zM201.1 87.49h8.72v1.01h-8.72zM279.1 87.49h8.72v1.01h-8.72zM65.2 88.45h2.94v1.01h-2.94zM94.2 88.45h5.83v1.01h-5.83zM143.3 88.45h5.83v1.01h-5.83zM45.0 89.41h11.61v1.01h-11.61zM91.3 89.41h2.94v1.01h-2.94zM102.8 89.41h2.94v1.01h-2.94zM198.2 89.41h5.83v1.01h-5.83zM206.9 89.41h2.94v1.01h-2.94zM230.0 89.41h2.94v1.01h-2.94zM235.8 89.41h2.94v1.01h-2.94zM267.6 89.41h2.94v1.01h-2.94zM36.3 90.38h2.94v1.01h-2.94zM99.9 90.38h2.94v1.01h-2.94zM189.5 90.38h5.83v1.01h-5.83zM247.4 90.38h2.94v1.01h-2.94zM258.9 90.38h2.94v1.01h-2.94zM27.7 91.34h5.83v1.01h-5.83zM157.7 91.34h2.94v1.01h-2.94zM201.1 91.34h2.94v1.01h-2.94zM256.0 91.34h2.94v1.01h-2.94zM261.8 91.34h2.94v1.01h-2.94zM33.5 92.30h2.94v1.01h-2.94zM76.8 92.30h2.94v1.01h-2.94zM97.0 92.30h2.94v1.01h-2.94zM284.9 92.30h2.94v1.01h-2.94zM62.4 93.26h2.94v1.01h-2.94zM152.0 93.26h2.94v1.01h-2.94zM201.1 93.26h2.94v1.01h-2.94zM76.8 94.22h2.94v1.01h-2.94zM33.5 95.19h2.94v1.01h-2.94zM42.1 95.19h2.94v1.01h-2.94zM108.6 95.19h2.94v1.01h-2.94zM73.9 96.15h2.94v1.01h-2.94zM108.6 96.15h2.94v1.01h-2.94zM140.4 96.15h2.94v1.01h-2.94zM227.1 96.15h5.83v1.01h-5.83zM258.9 96.15h2.94v1.01h-2.94zM267.6 96.15h2.94v1.01h-2.94zM39.2 97.11h5.83v1.01h-5.83zM88.4 97.11h2.94v1.01h-2.94zM224.2 97.11h2.94v1.01h-2.94zM128.8 98.08h2.94v1.01h-2.94zM183.8 98.08h5.83v1.01h-5.83zM192.4 98.08h2.94v1.01h-2.94zM258.9 98.08h2.94v1.01h-2.94zM264.7 98.08h2.94v1.01h-2.94zM273.4 98.08h2.94v1.01h-2.94zM287.8 98.08h2.94v1.01h-2.94zM27.7 99.04h5.83v1.01h-5.83zM108.6 99.04h2.94v1.01h-2.94zM238.7 99.04h2.94v1.01h-2.94zM45.0 100.00h2.94v1.01h-2.94zM50.8 100.00h5.83v1.01h-5.83zM131.7 100.00h2.94v1.01h-2.94zM238.7 100.00h2.94v1.01h-2.94zM256.0 100.00h2.94v1.01h-2.94zM267.6 100.00h2.94v1.01h-2.94zM154.9 100.96h5.83v1.01h-5.83zM238.7 100.96h2.94v1.01h-2.94zM258.9 100.96h2.94v1.01h-2.94zM134.6 101.93h2.94v1.01h-2.94zM140.4 101.93h2.94v1.01h-2.94zM59.5 102.89h2.94v1.01h-2.94zM91.3 102.89h2.94v1.01h-2.94zM218.4 102.89h5.83v1.01h-5.83zM62.4 103.85h5.83v1.01h-5.83zM131.7 103.85h2.94v1.01h-2.94zM152.0 103.85h2.94v1.01h-2.94zM264.7 103.85h2.94v1.01h-2.94zM73.9 104.81h5.83v1.01h-5.83zM88.4 104.81h2.94v1.01h-2.94zM261.8 104.81h2.94v1.01h-2.94zM267.6 104.81h2.94v1.01h-2.94zM19.0 105.78h5.83v1.01h-5.83zM198.2 106.74h2.94v1.01h-2.94zM279.1 106.74h2.94v1.01h-2.94zM65.2 107.70h2.94v1.01h-2.94zM123.1 107.70h5.83v1.01h-5.83zM140.4 107.70h2.94v1.01h-2.94zM166.4 107.70h5.83v1.01h-5.83zM227.1 107.70h5.83v1.01h-5.83zM287.8 107.70h2.94v1.01h-2.94zM125.9 108.66h2.94v1.01h-2.94zM134.6 108.66h8.72v1.01h-8.72zM146.2 108.66h2.94v1.01h-2.94zM36.3 109.62h2.94v1.01h-2.94zM108.6 109.62h5.83v1.01h-5.83zM149.1 109.62h2.94v1.01h-2.94zM227.1 109.62h2.94v1.01h-2.94zM238.7 109.62h2.94v1.01h-2.94zM282.0 109.62h2.94v1.01h-2.94zM273.4 110.59h5.83v1.01h-5.83zM290.7 110.59h2.94v1.01h-2.94zM33.5 111.55h2.94v1.01h-2.94zM45.0 111.55h2.94v1.01h-2.94zM117.3 111.55h5.83v1.01h-5.83zM143.3 111.55h5.83v1.01h-5.83zM238.7 111.55h2.94v1.01h-2.94zM273.4 111.55h2.94v1.01h-2.94zM279.1 111.55h2.94v1.01h-2.94zM68.1 112.51h2.94v1.01h-2.94zM73.9 112.51h2.94v1.01h-2.94zM146.2 112.51h2.94v1.01h-2.94zM212.7 112.51h2.94v1.01h-2.94zM238.7 112.51h2.94v1.01h-2.94zM53.7 113.47h2.94v1.01h-2.94zM68.1 113.47h5.83v1.01h-5.83zM123.1 113.47h2.94v1.01h-2.94zM178.0 113.47h5.83v1.01h-5.83zM256.0 113.47h5.83v1.01h-5.83zM56.6 114.44h2.94v1.01h-2.94zM111.5 114.44h2.94v1.01h-2.94zM149.1 114.44h2.94v1.01h-2.94zM178.0 114.44h2.94v1.01h-2.94zM198.2 114.44h5.83v1.01h-5.83zM238.7 114.44h2.94v1.01h-2.94zM267.6 114.44h2.94v1.01h-2.94zM276.3 114.44h2.94v1.01h-2.94zM108.6 115.40h5.83v1.01h-5.83zM128.8 115.40h2.94v1.01h-2.94zM91.3 116.36h2.94v1.01h-2.94zM97.0 116.36h2.94v1.01h-2.94zM125.9 116.36h5.83v1.01h-5.83zM209.8 116.36h5.83v1.01h-5.83zM218.4 116.36h2.94v1.01h-2.94zM238.7 116.36h2.94v1.01h-2.94zM279.1 116.36h2.94v1.01h-2.94zM114.4 117.33h2.94v1.01h-2.94zM120.2 117.33h2.94v1.01h-2.94zM146.2 117.33h2.94v1.01h-2.94zM183.8 117.33h2.94v1.01h-2.94zM201.1 117.33h2.94v1.01h-2.94zM224.2 117.33h5.83v1.01h-5.83zM264.7 117.33h2.94v1.01h-2.94zM53.7 118.29h2.94v1.01h-2.94zM68.1 118.29h2.94v1.01h-2.94zM97.0 118.29h2.94v1.01h-2.94zM131.7 118.29h2.94v1.01h-2.94zM209.8 118.29h2.94v1.01h-2.94zM215.6 118.29h5.83v1.01h-5.83zM241.6 118.29h2.94v1.01h-2.94zM258.9 118.29h5.83v1.01h-5.83zM65.2 119.25h2.94v1.01h-2.94zM108.6 119.25h8.72v1.01h-8.72zM125.9 119.25h2.94v1.01h-2.94zM172.2 119.25h5.83v1.01h-5.83zM180.9 119.25h2.94v1.01h-2.94zM238.7 119.25h5.83v1.01h-5.83zM267.6 119.25h2.94v1.01h-2.94zM53.7 120.21h2.94v1.01h-2.94zM62.4 120.21h2.94v1.01h-2.94zM97.0 120.21h2.94v1.01h-2.94zM125.9 120.21h2.94v1.01h-2.94zM111.5 121.18h2.94v1.01h-2.94zM227.1 121.18h5.83v1.01h-5.83zM39.2 122.14h2.94v1.01h-2.94zM172.2 122.14h2.94v1.01h-2.94zM198.2 122.14h5.83v1.01h-5.83zM73.9 123.10h2.94v1.01h-2.94zM102.8 123.10h2.94v1.01h-2.94zM166.4 123.10h5.83v1.01h-5.83zM186.7 123.10h2.94v1.01h-2.94zM206.9 123.10h2.94v1.01h-2.94zM215.6 123.10h5.83v1.01h-5.83zM65.2 124.06h2.94v1.01h-2.94zM143.3 124.06h8.72v1.01h-8.72zM180.9 124.06h2.94v1.01h-2.94zM212.7 124.06h2.94v1.01h-2.94zM224.2 124.06h2.94v1.01h-2.94zM284.9 124.06h2.94v1.01h-2.94zM47.9 125.03h2.94v1.01h-2.94zM284.9 125.03h2.94v1.01h-2.94zM36.3 125.99h2.94v1.01h-2.94zM111.5 125.99h2.94v1.01h-2.94zM180.9 125.99h2.94v1.01h-2.94zM71.0 127.91h2.94v1.01h-2.94zM88.4 127.91h2.94v1.01h-2.94zM111.5 127.91h2.94v1.01h-2.94zM166.4 127.91h2.94v1.01h-2.94zM178.0 127.91h2.94v1.01h-2.94zM218.4 127.91h2.94v1.01h-2.94zM47.9 128.88h5.83v1.01h-5.83zM140.4 129.84h2.94v1.01h-2.94zM183.8 129.84h2.94v1.01h-2.94zM59.5 130.80h5.83v1.01h-5.83zM117.3 130.80h2.94v1.01h-2.94zM125.9 130.80h5.83v1.01h-5.83zM146.2 130.80h2.94v1.01h-2.94zM238.7 130.80h2.94v1.01h-2.94zM45.0 131.76h2.94v1.01h-2.94zM50.8 131.76h2.94v1.01h-2.94zM73.9 131.76h2.94v1.01h-2.94zM204.0 131.76h2.94v1.01h-2.94zM212.7 131.76h2.94v1.01h-2.94zM47.9 132.73h2.94v1.01h-2.94zM111.5 132.73h2.94v1.01h-2.94zM178.0 132.73h5.83v1.01h-5.83zM204.0 132.73h5.83v1.01h-5.83zM62.4 133.69h2.94v1.01h-2.94zM71.0 133.69h2.94v1.01h-2.94zM76.8 133.69h2.94v1.01h-2.94zM108.6 133.69h5.83v1.01h-5.83zM192.4 133.69h2.94v1.01h-2.94zM215.6 133.69h2.94v1.01h-2.94zM264.7 133.69h2.94v1.01h-2.94zM45.0 134.65h2.94v1.01h-2.94zM180.9 134.65h2.94v1.01h-2.94zM201.1 134.65h2.94v1.01h-2.94zM276.3 134.65h2.94v1.01h-2.94zM178.0 135.61h5.83v1.01h-5.83zM195.3 135.61h5.83v1.01h-5.83zM218.4 135.61h5.83v1.01h-5.83zM227.1 135.61h5.83v1.01h-5.83zM238.7 135.61h2.94v1.01h-2.94zM267.6 135.61h2.94v1.01h-2.94zM273.4 135.61h5.83v1.01h-5.83zM178.0 136.57h5.83v1.01h-5.83zM186.7 136.57h2.94v1.01h-2.94zM111.5 137.54h2.94v1.01h-2.94zM175.1 137.54h2.94v1.01h-2.94zM241.6 137.54h2.94v1.01h-2.94zM68.1 138.50h5.83v1.01h-5.83zM76.8 138.50h2.94v1.01h-2.94zM143.3 138.50h2.94v1.01h-2.94zM33.5 139.46h2.94v1.01h-2.94zM82.6 139.46h2.94v1.01h-2.94zM178.0 139.46h5.83v1.01h-5.83zM33.5 142.35h5.83v1.01h-5.83zM120.2 142.35h2.94v1.01h-2.94zM125.9 142.35h5.83v1.01h-5.83zM154.9 142.35h2.94v1.01h-2.94zM172.2 142.35h2.94v1.01h-2.94zM198.2 142.35h5.83v1.01h-5.83zM218.4 142.35h2.94v1.01h-2.94zM45.0 143.31h2.94v1.01h-2.94zM65.2 143.31h2.94v1.01h-2.94zM105.7 143.31h2.94v1.01h-2.94zM152.0 143.31h2.94v1.01h-2.94zM175.1 143.31h2.94v1.01h-2.94zM198.2 143.31h2.94v1.01h-2.94zM244.5 143.31h2.94v1.01h-2.94zM47.9 144.28h2.94v1.01h-2.94zM47.9 145.24h2.94v1.01h-2.94zM62.4 145.24h2.94v1.01h-2.94zM175.1 145.24h2.94v1.01h-2.94zM279.1 145.24h2.94v1.01h-2.94zM287.8 145.24h2.94v1.01h-2.94zM45.0 146.20h2.94v1.01h-2.94zM137.5 146.20h2.94v1.01h-2.94zM178.0 146.20h2.94v1.01h-2.94zM186.7 146.20h8.72v1.01h-8.72zM218.4 146.20h5.83v1.01h-5.83zM282.0 146.20h5.83v1.01h-5.83zM290.7 146.20h2.94v1.01h-2.94zM59.5 147.16h5.83v1.01h-5.83zM82.6 147.16h2.94v1.01h-2.94zM108.6 147.16h2.94v1.01h-2.94zM114.4 147.16h2.94v1.01h-2.94zM152.0 147.16h2.94v1.01h-2.94zM241.6 147.16h5.83v1.01h-5.83zM36.3 148.12h2.94v1.01h-2.94zM169.3 148.12h2.94v1.01h-2.94zM175.1 148.12h2.94v1.01h-2.94zM36.3 149.09h2.94v1.01h-2.94zM152.0 150.05h8.72v1.01h-8.72zM178.0 150.05h2.94v1.01h-2.94zM204.0 150.05h2.94v1.01h-2.94zM282.0 150.05h2.94v1.01h-2.94zM33.5 151.01h2.94v1.01h-2.94zM59.5 151.01h2.94v1.01h-2.94zM91.3 151.01h2.94v1.01h-2.94zM108.6 151.01h5.83v1.01h-5.83zM149.1 151.01h2.94v1.01h-2.94zM175.1 151.01h5.83v1.01h-5.83zM287.8 151.01h2.94v1.01h-2.94zM290.7 151.98h2.94v1.01h-2.94zM134.6 152.94h2.94v1.01h-2.94zM180.9 152.94h2.94v1.01h-2.94zM47.9 153.90h2.94v1.01h-2.94zM88.4 153.90h2.94v1.01h-2.94zM195.3 153.90h2.94v1.01h-2.94zM232.9 153.90h2.94v1.01h-2.94zM128.8 154.86h2.94v1.01h-2.94zM195.3 154.86h2.94v1.01h-2.94zM227.1 154.86h2.94v1.01h-2.94zM204.0 155.82h2.94v1.01h-2.94zM232.9 155.82h5.83v1.01h-5.83zM128.8 156.79h2.94v1.01h-2.94zM180.9 156.79h2.94v1.01h-2.94zM195.3 156.79h2.94v1.01h-2.94zM282.0 156.79h2.94v1.01h-2.94zM33.5 157.75h2.94v1.01h-2.94zM59.5 157.75h2.94v1.01h-2.94zM71.0 157.75h2.94v1.01h-2.94zM183.8 157.75h2.94v1.01h-2.94zM290.7 157.75h2.94v1.01h-2.94zM59.5 158.71h2.94v1.01h-2.94zM76.8 158.71h2.94v1.01h-2.94zM178.0 158.71h2.94v1.01h-2.94zM189.5 158.71h2.94v1.01h-2.94zM209.8 158.71h2.94v1.01h-2.94zM227.1 158.71h5.83v1.01h-5.83zM290.7 158.71h2.94v1.01h-2.94zM97.0 159.68h2.94v1.01h-2.94zM178.0 159.68h2.94v1.01h-2.94zM204.0 159.68h2.94v1.01h-2.94zM232.9 159.68h5.83v1.01h-5.83zM279.1 159.68h2.94v1.01h-2.94zM45.0 160.64h2.94v1.01h-2.94zM50.8 160.64h2.94v1.01h-2.94zM88.4 160.64h2.94v1.01h-2.94zM128.8 160.64h2.94v1.01h-2.94zM183.8 160.64h2.94v1.01h-2.94zM224.2 160.64h5.83v1.01h-5.83zM125.9 161.60h2.94v1.01h-2.94zM180.9 161.60h8.72v1.01h-8.72zM218.4 161.60h5.83v1.01h-5.83zM88.4 162.56h2.94v1.01h-2.94zM88.4 163.53h2.94v1.01h-2.94zM131.7 163.53h2.94v1.01h-2.94zM189.5 163.53h5.83v1.01h-5.83zM198.2 163.53h2.94v1.01h-2.94zM212.7 163.53h2.94v1.01h-2.94zM279.1 163.53h2.94v1.01h-2.94zM189.5 164.49h8.72v1.01h-8.72zM212.7 164.49h2.94v1.01h-2.94zM250.2 164.49h2.94v1.01h-2.94zM71.0 165.45h8.72v1.01h-8.72zM290.7 165.45h2.94v1.01h-2.94zM273.4 166.41h5.83v1.01h-5.83zM120.2 167.38h2.94v1.01h-2.94zM45.0 168.34h2.94v1.01h-2.94zM68.1 168.34h11.61v1.01h-11.61zM114.4 168.34h2.94v1.01h-2.94zM120.2 168.34h2.94v1.01h-2.94zM131.7 168.34h2.94v1.01h-2.94zM218.4 168.34h2.94v1.01h-2.94zM45.0 169.30h8.72v1.01h-8.72zM71.0 169.30h2.94v1.01h-2.94zM128.8 169.30h2.94v1.01h-2.94zM186.7 169.30h2.94v1.01h-2.94zM91.3 170.26h8.72v1.01h-8.72zM166.4 170.26h2.94v1.01h-2.94zM172.2 170.26h2.94v1.01h-2.94zM178.0 170.26h2.94v1.01h-2.94zM189.5 170.26h8.72v1.01h-8.72zM204.0 170.26h2.94v1.01h-2.94zM221.3 170.26h2.94v1.01h-2.94zM94.2 171.23h5.83v1.01h-5.83zM166.4 171.23h11.61v1.01h-11.61zM183.8 171.23h2.94v1.01h-2.94zM227.1 171.23h5.83v1.01h-5.83zM209.8 172.19h2.94v1.01h-2.94zM215.6 172.19h2.94v1.01h-2.94zM227.1 172.19h2.94v1.01h-2.94zM276.3 172.19h5.83v1.01h-5.83zM59.5 173.15h5.83v1.01h-5.83zM152.0 173.15h2.94v1.01h-2.94zM183.8 173.15h2.94v1.01h-2.94zM97.0 174.11h2.94v1.01h-2.94zM152.0 174.11h2.94v1.01h-2.94zM183.8 174.11h2.94v1.01h-2.94zM218.4 174.11h2.94v1.01h-2.94zM224.2 174.11h2.94v1.01h-2.94zM287.8 174.11h2.94v1.01h-2.94zM157.7 175.07h2.94v1.01h-2.94zM221.3 175.07h5.83v1.01h-5.83zM33.5 176.04h2.94v1.01h-2.94zM45.0 176.04h2.94v1.01h-2.94zM97.0 176.04h2.94v1.01h-2.94zM128.8 176.04h2.94v1.01h-2.94zM152.0 176.04h2.94v1.01h-2.94zM212.7 176.04h5.83v1.01h-5.83zM230.0 176.04h2.94v1.01h-2.94z"/>
<path fill="#ac72ba" d="M24.8 62.46h2.94v1.01h-2.94zM186.7 64.39h2.94v1.01h-2.94zM224.2 64.39h2.94v1.01h-2.94zM230.0 64.39h2.94v1.01h-2.94zM36.3 65.35h8.72v1.01h-8.72zM94.2 65.35h2.94v1.01h-2.94zM178.0 65.35h5.83v1.01h-5.83zM198.2 65.35h2.94v1.01h-2.94zM209.8 65.35h5.83v1.01h-5.83zM290.7 65.35h2.94v1.01h-2.94zM30.6 66.31h2.94v1.01h-2.94zM218.4 66.31h2.94v1.01h-2.94zM227.1 66.31h2.94v1.01h-2.94zM279.1 66.31h2.94v1.01h-2.94zM284.9 66.31h2.94v1.01h-2.94zM290.7 66.31h2.94v1.01h-2.94zM45.0 67.28h2.94v1.01h-2.94zM62.4 67.28h2.94v1.01h-2.94zM82.6 67.28h2.94v1.01h-2.94zM279.1 67.28h5.83v1.01h-5.83zM24.8 68.24h2.94v1.01h-2.94zM59.5 68.24h2.94v1.01h-2.94zM209.8 68.24h2.94v1.01h-2.94zM215.6 68.24h2.94v1.01h-2.94zM221.3 68.24h2.94v1.01h-2.94zM264.7 68.24h2.94v1.01h-2.94zM279.1 68.24h2.94v1.01h-2.94zM30.6 69.20h2.94v1.01h-2.94zM68.1 69.20h2.94v1.01h-2.94zM198.2 69.20h5.83v1.01h-5.83zM244.5 69.20h2.94v1.01h-2.94zM264.7 69.20h2.94v1.01h-2.94zM290.7 69.20h2.94v1.01h-2.94zM27.7 70.16h5.83v1.01h-5.83zM59.5 70.16h2.94v1.01h-2.94zM99.9 70.16h2.94v1.01h-2.94zM180.9 70.16h2.94v1.01h-2.94zM186.7 70.16h2.94v1.01h-2.94zM284.9 70.16h2.94v1.01h-2.94zM235.8 71.12h2.94v1.01h-2.94zM39.2 72.09h2.94v1.01h-2.94zM146.2 72.09h5.83v1.01h-5.83zM114.4 73.05h2.94v1.01h-2.94zM143.3 73.05h2.94v1.01h-2.94zM149.1 73.05h2.94v1.01h-2.94zM180.9 73.05h2.94v1.01h-2.94zM186.7 73.05h2.94v1.01h-2.94zM198.2 73.05h2.94v1.01h-2.94zM232.9 73.05h5.83v1.01h-5.83zM85.5 74.01h2.94v1.01h-2.94zM232.9 74.01h5.83v1.01h-5.83zM102.8 74.97h2.94v1.01h-2.94zM108.6 74.97h2.94v1.01h-2.94zM175.1 74.97h2.94v1.01h-2.94zM59.5 75.94h2.94v1.01h-2.94zM65.2 75.94h2.94v1.01h-2.94zM108.6 75.94h2.94v1.01h-2.94zM172.2 75.94h2.94v1.01h-2.94zM227.1 75.94h5.83v1.01h-5.83zM238.7 75.94h2.94v1.01h-2.94zM53.7 76.90h2.94v1.01h-2.94zM56.6 77.86h2.94v1.01h-2.94zM65.2 77.86h2.94v1.01h-2.94zM128.8 77.86h2.94v1.01h-2.94zM169.3 77.86h2.94v1.01h-2.94zM287.8 77.86h5.83v1.01h-5.83zM45.0 78.83h5.83v1.01h-5.83zM68.1 78.83h2.94v1.01h-2.94zM73.9 78.83h2.94v1.01h-2.94zM157.7 78.83h2.94v1.01h-2.94zM198.2 78.83h2.94v1.01h-2.94zM244.5 78.83h2.94v1.01h-2.94zM53.7 79.79h2.94v1.01h-2.94zM143.3 79.79h2.94v1.01h-2.94zM45.0 80.75h2.94v1.01h-2.94zM53.7 80.75h2.94v1.01h-2.94zM79.7 80.75h8.72v1.01h-8.72zM134.6 80.75h5.83v1.01h-5.83zM180.9 80.75h2.94v1.01h-2.94zM195.3 80.75h2.94v1.01h-2.94zM201.1 80.75h2.94v1.01h-2.94zM42.1 81.71h2.94v1.01h-2.94zM88.4 81.71h2.94v1.01h-2.94zM166.4 81.71h2.94v1.01h-2.94zM180.9 81.71h2.94v1.01h-2.94zM189.5 81.71h11.61v1.01h-11.61zM59.5 82.67h5.83v1.01h-5.83zM183.8 82.67h2.94v1.01h-2.94zM232.9 82.67h5.83v1.01h-5.83zM59.5 83.64h5.83v1.01h-5.83zM128.8 83.64h2.94v1.01h-2.94zM56.6 84.60h8.72v1.01h-8.72zM88.4 84.60h2.94v1.01h-2.94zM111.5 84.60h2.94v1.01h-2.94zM71.0 85.56h2.94v1.01h-2.94zM146.2 85.56h2.94v1.01h-2.94zM108.6 86.53h2.94v1.01h-2.94zM195.3 86.53h2.94v1.01h-2.94zM273.4 86.53h2.94v1.01h-2.94zM287.8 86.53h5.83v1.01h-5.83zM172.2 87.49h5.83v1.01h-5.83zM186.7 87.49h2.94v1.01h-2.94zM198.2 87.49h2.94v1.01h-2.94zM241.6 87.49h8.72v1.01h-8.72zM30.6 88.45h2.94v1.01h-2.94zM149.1 88.45h2.94v1.01h-2.94zM154.9 88.45h2.94v1.01h-2.94zM198.2 88.45h5.83v1.01h-5.83zM206.9 88.45h2.94v1.01h-2.94zM36.3 89.41h2.94v1.01h-2.94zM59.5 89.41h5.83v1.01h-5.83zM105.7 89.41h8.72v1.01h-8.72zM204.0 89.41h2.94v1.01h-2.94zM227.1 89.41h2.94v1.01h-2.94zM232.9 89.41h2.94v1.01h-2.94zM39.2 90.38h2.94v1.01h-2.94zM102.8 90.38h2.94v1.01h-2.94zM108.6 90.38h2.94v1.01h-2.94zM195.3 90.38h2.94v1.01h-2.94zM241.6 90.38h2.94v1.01h-2.94zM143.3 91.34h8.72v1.01h-8.72zM154.9 91.34h2.94v1.01h-2.94zM189.5 91.34h8.72v1.01h-8.72zM258.9 91.34h2.94v1.01h-2.94zM42.1 92.30h2.94v1.01h-2.94zM131.7 92.30h2.94v1.01h-2.94zM282.0 92.30h2.94v1.01h-2.94zM287.8 92.30h5.83v1.01h-5.83zM59.5 93.26h2.94v1.01h-2.94zM120.2 93.26h8.72v1.01h-8.72zM24.8 94.22h2.94v1.01h-2.94zM131.7 94.22h2.94v1.01h-2.94zM244.5 94.22h2.94v1.01h-2.94zM91.3 95.19h2.94v1.01h-2.94zM111.5 95.19h2.94v1.01h-2.94zM270.5 95.19h2.94v1.01h-2.94zM279.1 95.19h2.94v1.01h-2.94zM19.0 96.15h2.94v1.01h-2.94zM24.8 96.15h2.94v1.01h-2.94zM33.5 96.15h2.94v1.01h-2.94zM59.5 96.15h2.94v1.01h-2.94zM134.6 96.15h2.94v1.01h-2.94zM186.7 96.15h2.94v1.01h-2.94zM192.4 96.15h5.83v1.01h-5.83zM68.1 97.11h2.94v1.01h-2.94zM97.0 97.11h2.94v1.01h-2.94zM137.5 97.11h2.94v1.01h-2.94zM227.1 97.11h5.83v1.01h-5.83zM258.9 97.11h2.94v1.01h-2.94zM27.7 98.08h5.83v1.01h-5.83zM256.0 98.08h2.94v1.01h-2.94zM261.8 98.08h2.94v1.01h-2.94zM276.3 98.08h2.94v1.01h-2.94zM282.0 98.08h2.94v1.01h-2.94zM290.7 98.08h2.94v1.01h-2.94zM19.0 99.04h2.94v1.01h-2.94zM24.8 99.04h2.94v1.01h-2.94zM33.5 99.04h2.94v1.01h-2.94zM111.5 99.04h5.83v1.01h-5.83zM36.3 100.00h2.94v1.01h-2.94zM47.9 100.00h2.94v1.01h-2.94zM65.2 100.00h2.94v1.01h-2.94zM88.4 100.00h5.83v1.01h-5.83zM114.4 100.00h2.94v1.01h-2.94zM178.0 100.00h5.83v1.01h-5.83zM224.2 100.00h2.94v1.01h-2.94zM45.0 100.96h8.72v1.01h-8.72zM76.8 100.96h2.94v1.01h-2.94zM117.3 100.96h11.61v1.01h-11.61zM198.2 100.96h11.61v1.01h-11.61zM256.0 100.96h2.94v1.01h-2.94zM267.6 100.96h2.94v1.01h-2.94zM21.9 101.93h2.94v1.01h-2.94zM91.3 101.93h2.94v1.01h-2.94zM62.4 102.89h2.94v1.01h-2.94zM68.1 102.89h2.94v1.01h-2.94zM152.0 102.89h2.94v1.01h-2.94zM198.2 102.89h2.94v1.01h-2.94zM212.7 102.89h2.94v1.01h-2.94zM264.7 102.89h2.94v1.01h-2.94zM111.5 103.85h2.94v1.01h-2.94zM183.8 103.85h2.94v1.01h-2.94zM183.8 104.81h5.83v1.01h-5.83zM264.7 104.81h2.94v1.01h-2.94zM224.2 105.78h2.94v1.01h-2.94zM232.9 105.78h5.83v1.01h-5.83zM45.0 106.74h8.72v1.01h-8.72zM91.3 106.74h2.94v1.01h-2.94zM108.6 106.74h2.94v1.01h-2.94zM134.6 106.74h8.72v1.01h-8.72zM201.1 106.74h2.94v1.01h-2.94zM261.8 106.74h2.94v1.01h-2.94zM73.9 107.70h2.94v1.01h-2.94zM134.6 107.70h2.94v1.01h-2.94zM45.0 108.66h8.72v1.01h-8.72zM123.1 108.66h2.94v1.01h-2.94zM68.1 109.62h8.72v1.01h-8.72zM88.4 109.62h2.94v1.01h-2.94zM230.0 109.62h2.94v1.01h-2.94zM91.3 110.59h2.94v1.01h-2.94zM108.6 110.59h5.83v1.01h-5.83zM198.2 110.59h5.83v1.01h-5.83zM227.1 110.59h5.83v1.01h-5.83zM47.9 111.55h2.94v1.01h-2.94zM68.1 111.55h2.94v1.01h-2.94zM73.9 111.55h2.94v1.01h-2.94zM149.1 111.55h2.94v1.01h-2.94zM178.0 111.55h11.61v1.01h-11.61zM276.3 111.55h2.94v1.01h-2.94zM71.0 112.51h2.94v1.01h-2.94zM149.1 112.51h2.94v1.01h-2.94zM227.1 112.51h5.83v1.01h-5.83zM282.0 112.51h2.94v1.01h-2.94zM47.9 113.47h2.94v1.01h-2.94zM128.8 113.47h2.94v1.01h-2.94zM230.0 113.47h2.94v1.01h-2.94zM24.8 114.44h2.94v1.01h-2.94zM53.7 114.44h2.94v1.01h-2.94zM143.3 114.44h5.83v1.01h-5.83zM180.9 114.44h2.94v1.01h-2.94zM88.4 115.40h2.94v1.01h-2.94zM94.2 115.40h2.94v1.01h-2.94zM125.9 115.40h2.94v1.01h-2.94zM256.0 115.40h5.83v1.01h-5.83zM94.2 116.36h2.94v1.01h-2.94zM123.1 116.36h2.94v1.01h-2.94zM221.3 116.36h2.94v1.01h-2.94zM56.6 117.33h2.94v1.01h-2.94zM117.3 117.33h2.94v1.01h-2.94zM143.3 117.33h2.94v1.01h-2.94zM149.1 117.33h2.94v1.01h-2.94zM172.2 117.33h2.94v1.01h-2.94zM186.7 117.33h2.94v1.01h-2.94zM247.4 117.33h2.94v1.01h-2.94zM258.9 117.33h2.94v1.01h-2.94zM56.6 118.29h2.94v1.01h-2.94zM94.2 118.29h2.94v1.01h-2.94zM149.1 118.29h2.94v1.01h-2.94zM221.3 118.29h2.94v1.01h-2.94zM227.1 118.29h5.83v1.01h-5.83zM244.5 118.29h2.94v1.01h-2.94zM282.0 118.29h2.94v1.01h-2.94zM39.2 119.25h2.94v1.01h-2.94zM117.3 119.25h8.72v1.01h-8.72zM152.0 119.25h2.94v1.01h-2.94zM166.4 119.25h2.94v1.01h-2.94zM178.0 119.25h2.94v1.01h-2.94zM247.4 119.25h2.94v1.01h-2.94zM270.5 119.25h2.94v1.01h-2.94zM56.6 120.21h5.83v1.01h-5.83zM65.2 120.21h2.94v1.01h-2.94zM120.2 120.21h2.94v1.01h-2.94zM195.3 120.21h2.94v1.01h-2.94zM209.8 120.21h2.94v1.01h-2.94zM137.5 121.18h2.94v1.01h-2.94zM152.0 121.18h2.94v1.01h-2.94zM183.8 121.18h2.94v1.01h-2.94zM201.1 121.18h2.94v1.01h-2.94zM270.5 121.18h2.94v1.01h-2.94zM111.5 122.14h8.72v1.01h-8.72zM125.9 122.14h2.94v1.01h-2.94zM166.4 122.14h5.83v1.01h-5.83zM279.1 122.14h2.94v1.01h-2.94zM287.8 122.14h5.83v1.01h-5.83zM42.1 123.10h2.94v1.01h-2.94zM146.2 123.10h2.94v1.01h-2.94zM175.1 123.10h2.94v1.01h-2.94zM183.8 123.10h2.94v1.01h-2.94zM204.0 123.10h2.94v1.01h-2.94zM221.3 123.10h2.94v1.01h-2.94zM178.0 124.06h2.94v1.01h-2.94zM209.8 124.06h2.94v1.01h-2.94zM215.6 124.06h2.94v1.01h-2.94zM221.3 124.06h2.94v1.01h-2.94zM241.6 124.06h2.94v1.01h-2.94zM247.4 124.06h2.94v1.01h-2.94zM45.0 125.03h2.94v1.01h-2.94zM68.1 125.03h2.94v1.01h-2.94zM73.9 125.03h2.94v1.01h-2.94zM137.5 125.03h5.83v1.01h-5.83zM178.0 125.03h5.83v1.01h-5.83zM134.6 125.99h5.83v1.01h-5.83zM178.0 125.99h2.94v1.01h-2.94zM183.8 125.99h2.94v1.01h-2.94zM290.7 125.99h2.94v1.01h-2.94zM68.1 126.95h5.83v1.01h-5.83zM131.7 126.95h2.94v1.01h-2.94zM178.0 126.95h5.83v1.01h-5.83zM201.1 126.95h2.94v1.01h-2.94zM264.7 126.95h2.94v1.01h-2.94zM108.6 127.91h2.94v1.01h-2.94zM114.4 127.91h2.94v1.01h-2.94zM45.0 128.88h2.94v1.01h-2.94zM128.8 128.88h2.94v1.01h-2.94zM235.8 128.88h2.94v1.01h-2.94zM39.2 129.84h2.94v1.01h-2.94zM73.9 129.84h2.94v1.01h-2.94zM111.5 129.84h2.94v1.01h-2.94zM131.7 129.84h2.94v1.01h-2.94zM172.2 129.84h5.83v1.01h-5.83zM186.7 129.84h2.94v1.01h-2.94zM264.7 129.84h2.94v1.01h-2.94zM65.2 130.80h2.94v1.01h-2.94zM120.2 130.80h2.94v1.01h-2.94zM143.3 130.80h2.94v1.01h-2.94zM149.1 130.80h2.94v1.01h-2.94zM186.7 130.80h2.94v1.01h-2.94zM204.0 130.80h2.94v1.01h-2.94zM227.1 130.80h2.94v1.01h-2.94zM244.5 130.80h5.83v1.01h-5.83zM284.9 130.80h2.94v1.01h-2.94zM290.7 130.80h2.94v1.01h-2.94zM152.0 131.76h2.94v1.01h-2.94zM215.6 131.76h2.94v1.01h-2.94zM264.7 131.76h2.94v1.01h-2.94zM189.5 132.73h8.72v1.01h-8.72zM235.8 132.73h2.94v1.01h-2.94zM279.1 132.73h2.94v1.01h-2.94zM59.5 133.69h2.94v1.01h-2.94zM68.1 133.69h2.94v1.01h-2.94zM73.9 133.69h2.94v1.01h-2.94zM189.5 133.69h2.94v1.01h-2.94zM195.3 133.69h2.94v1.01h-2.94zM206.9 133.69h5.83v1.01h-5.83zM189.5 134.65h11.61v1.01h-11.61zM264.7 134.65h2.94v1.01h-2.94zM270.5 134.65h5.83v1.01h-5.83zM68.1 135.61h5.83v1.01h-5.83zM76.8 135.61h2.94v1.01h-2.94zM192.4 135.61h2.94v1.01h-2.94zM201.1 135.61h2.94v1.01h-2.94zM270.5 135.61h2.94v1.01h-2.94zM88.4 137.54h2.94v1.01h-2.94zM143.3 137.54h8.72v1.01h-8.72zM247.4 137.54h2.94v1.01h-2.94zM36.3 138.50h2.94v1.01h-2.94zM42.1 138.50h2.94v1.01h-2.94zM47.9 138.50h2.94v1.01h-2.94zM62.4 138.50h2.94v1.01h-2.94zM73.9 138.50h2.94v1.01h-2.94zM146.2 138.50h5.83v1.01h-5.83zM247.4 138.50h2.94v1.01h-2.94zM282.0 139.46h2.94v1.01h-2.94zM287.8 140.43h5.83v1.01h-5.83zM108.6 141.39h2.94v1.01h-2.94zM131.7 142.35h11.61v1.01h-11.61zM241.6 142.35h8.72v1.01h-8.72zM47.9 143.31h2.94v1.01h-2.94zM56.6 143.31h2.94v1.01h-2.94zM131.7 143.31h8.72v1.01h-8.72zM172.2 143.31h2.94v1.01h-2.94zM201.1 143.31h2.94v1.01h-2.94zM33.5 144.28h2.94v1.01h-2.94zM45.0 144.28h2.94v1.01h-2.94zM50.8 144.28h2.94v1.01h-2.94zM56.6 144.28h2.94v1.01h-2.94zM244.5 144.28h2.94v1.01h-2.94zM45.0 145.24h2.94v1.01h-2.94zM50.8 145.24h2.94v1.01h-2.94zM59.5 145.24h2.94v1.01h-2.94zM172.2 145.24h2.94v1.01h-2.94zM221.3 145.24h2.94v1.01h-2.94zM47.9 146.20h5.83v1.01h-5.83zM131.7 146.20h2.94v1.01h-2.94zM152.0 146.20h5.83v1.01h-5.83zM180.9 146.20h5.83v1.01h-5.83zM79.7 147.16h2.94v1.01h-2.94zM88.4 147.16h2.94v1.01h-2.94zM198.2 147.16h5.83v1.01h-5.83zM56.6 148.12h2.94v1.01h-2.94zM166.4 148.12h2.94v1.01h-2.94zM172.2 148.12h2.94v1.01h-2.94zM186.7 148.12h2.94v1.01h-2.94zM241.6 148.12h8.72v1.01h-8.72zM287.8 148.12h2.94v1.01h-2.94zM65.2 149.09h2.94v1.01h-2.94zM105.7 149.09h2.94v1.01h-2.94zM154.9 149.09h2.94v1.01h-2.94zM192.4 149.09h5.83v1.01h-5.83zM88.4 150.05h2.94v1.01h-2.94zM180.9 150.05h2.94v1.01h-2.94zM105.7 151.01h2.94v1.01h-2.94zM143.3 151.01h2.94v1.01h-2.94zM166.4 151.01h2.94v1.01h-2.94zM172.2 151.01h2.94v1.01h-2.94zM88.4 151.98h2.94v1.01h-2.94zM143.3 151.98h2.94v1.01h-2.94zM71.0 152.94h2.94v1.01h-2.94zM91.3 152.94h2.94v1.01h-2.94zM108.6 152.94h5.83v1.01h-5.83zM140.4 152.94h2.94v1.01h-2.94zM152.0 152.94h2.94v1.01h-2.94zM45.0 153.90h2.94v1.01h-2.94zM50.8 153.90h2.94v1.01h-2.94zM290.7 153.90h2.94v1.01h-2.94zM131.7 154.86h2.94v1.01h-2.94zM180.9 154.86h2.94v1.01h-2.94zM230.0 154.86h2.94v1.01h-2.94zM290.7 154.86h2.94v1.01h-2.94zM68.1 156.79h2.94v1.01h-2.94zM183.8 156.79h2.94v1.01h-2.94zM224.2 156.79h8.72v1.01h-8.72zM65.2 157.75h2.94v1.01h-2.94zM73.9 158.71h2.94v1.01h-2.94zM212.7 158.71h2.94v1.01h-2.94zM287.8 158.71h2.94v1.01h-2.94zM94.2 159.68h2.94v1.01h-2.94zM131.7 159.68h2.94v1.01h-2.94zM166.4 159.68h11.61v1.01h-11.61zM209.8 160.64h5.83v1.01h-5.83zM178.0 161.60h2.94v1.01h-2.94zM198.2 161.60h2.94v1.01h-2.94zM232.9 161.60h2.94v1.01h-2.94zM273.4 161.60h2.94v1.01h-2.94zM45.0 162.56h8.72v1.01h-8.72zM232.9 162.56h5.83v1.01h-5.83zM50.8 163.53h2.94v1.01h-2.94zM195.3 163.53h2.94v1.01h-2.94zM201.1 163.53h2.94v1.01h-2.94zM227.1 163.53h2.94v1.01h-2.94zM39.2 164.49h11.61v1.01h-11.61zM94.2 164.49h5.83v1.01h-5.83zM123.1 164.49h2.94v1.01h-2.94zM166.4 164.49h2.94v1.01h-2.94zM215.6 164.49h2.94v1.01h-2.94zM224.2 164.49h2.94v1.01h-2.94zM183.8 165.45h2.94v1.01h-2.94zM206.9 165.45h2.94v1.01h-2.94zM224.2 165.45h2.94v1.01h-2.94zM284.9 165.45h5.83v1.01h-5.83zM39.2 166.41h2.94v1.01h-2.94zM117.3 166.41h2.94v1.01h-2.94zM206.9 166.41h2.94v1.01h-2.94zM114.4 167.38h5.83v1.01h-5.83zM244.5 167.38h2.94v1.01h-2.94zM47.9 168.34h5.83v1.01h-5.83zM97.0 168.34h2.94v1.01h-2.94zM117.3 168.34h2.94v1.01h-2.94zM206.9 168.34h2.94v1.01h-2.94zM91.3 169.30h5.83v1.01h-5.83zM183.8 169.30h2.94v1.01h-2.94zM209.8 169.30h2.94v1.01h-2.94zM215.6 169.30h2.94v1.01h-2.94zM131.7 170.26h2.94v1.01h-2.94zM169.3 170.26h2.94v1.01h-2.94zM175.1 170.26h2.94v1.01h-2.94zM273.4 170.26h5.83v1.01h-5.83zM33.5 171.23h2.94v1.01h-2.94zM47.9 171.23h2.94v1.01h-2.94zM117.3 171.23h2.94v1.01h-2.94zM189.5 171.23h2.94v1.01h-2.94zM273.4 172.19h2.94v1.01h-2.94zM88.4 174.11h8.72v1.01h-8.72zM117.3 174.11h5.83v1.01h-5.83zM180.9 174.11h2.94v1.01h-2.94zM221.3 174.11h2.94v1.01h-2.94zM45.0 175.07h2.94v1.01h-2.94zM218.4 175.07h2.94v1.01h-2.94zM47.9 176.04h5.83v1.01h-5.83zM94.2 176.04h2.94v1.01h-2.94zM166.4 176.04h5.83v1.01h-5.83zM178.0 176.04h2.94v1.01h-2.94zM195.3 176.04h2.94v1.01h-2.94zM227.1 176.04h2.94v1.01h-2.94z"/>
<path fill="#c371ad" d="M24.8 61.50h2.94v1.01h-2.94zM19.0 64.39h2.94v1.01h-2.94zM33.5 64.39h2.94v1.01h-2.94zM91.3 64.39h5.83v1.01h-5.83zM183.8 64.39h2.94v1.01h-2.94zM206.9 64.39h2.94v1.01h-2.94zM218.4 64.39h5.83v1.01h-5.83zM97.0 65.35h2.94v1.01h-2.94zM117.3 65.35h5.83v1.01h-5.83zM215.6 65.35h2.94v1.01h-2.94zM227.1 65.35h2.94v1.01h-2.94zM250.2 65.35h2.94v1.01h-2.94zM19.0 66.31h2.94v1.01h-2.94zM201.1 66.31h2.94v1.01h-2.94zM209.8 66.31h2.94v1.01h-2.94zM230.0 66.31h2.94v1.01h-2.94zM287.8 66.31h2.94v1.01h-2.94zM59.5 67.28h2.94v1.01h-2.94zM73.9 67.28h8.72v1.01h-8.72zM117.3 67.28h2.94v1.01h-2.94zM143.3 67.28h2.94v1.01h-2.94zM230.0 67.28h5.83v1.01h-5.83zM284.9 67.28h2.94v1.01h-2.94zM62.4 68.24h2.94v1.01h-2.94zM131.7 68.24h2.94v1.01h-2.94zM198.2 68.24h5.83v1.01h-5.83zM212.7 68.24h2.94v1.01h-2.94zM218.4 68.24h2.94v1.01h-2.94zM128.8 69.20h2.94v1.01h-2.94zM241.6 69.20h2.94v1.01h-2.94zM247.4 69.20h2.94v1.01h-2.94zM45.0 70.16h2.94v1.01h-2.94zM62.4 70.16h2.94v1.01h-2.94zM125.9 70.16h2.94v1.01h-2.94zM178.0 70.16h2.94v1.01h-2.94zM183.8 70.16h2.94v1.01h-2.94zM88.4 71.12h2.94v1.01h-2.94zM230.0 71.12h5.83v1.01h-5.83zM88.4 72.09h2.94v1.01h-2.94zM180.9 72.09h8.72v1.01h-8.72zM215.6 72.09h5.83v1.01h-5.83zM65.2 73.05h2.94v1.01h-2.94zM88.4 73.05h2.94v1.01h-2.94zM178.0 73.05h2.94v1.01h-2.94zM39.2 74.01h2.94v1.01h-2.94zM123.1 74.01h2.94v1.01h-2.94zM140.4 74.01h2.94v1.01h-2.94zM99.9 74.97h2.94v1.01h-2.94zM111.5 74.97h2.94v1.01h-2.94zM143.3 74.97h2.94v1.01h-2.94zM149.1 74.97h2.94v1.01h-2.94zM166.4 74.97h8.72v1.01h-8.72zM232.9 74.97h2.94v1.01h-2.94zM241.6 74.97h2.94v1.01h-2.94zM24.8 75.94h2.94v1.01h-2.94zM62.4 75.94h2.94v1.01h-2.94zM166.4 75.94h5.83v1.01h-5.83zM175.1 75.94h2.94v1.01h-2.94zM19.0 76.90h5.83v1.01h-5.83zM30.6 76.90h2.94v1.01h-2.94zM65.2 76.90h2.94v1.01h-2.94zM105.7 76.90h2.94v1.01h-2.94zM117.3 77.86h2.94v1.01h-2.94zM166.4 77.86h2.94v1.01h-2.94zM172.2 77.86h2.94v1.01h-2.94zM267.6 77.86h2.94v1.01h-2.94zM71.0 78.83h2.94v1.01h-2.94zM76.8 78.83h2.94v1.01h-2.94zM88.4 78.83h2.94v1.01h-2.94zM99.9 78.83h2.94v1.01h-2.94zM154.9 78.83h2.94v1.01h-2.94zM186.7 78.83h2.94v1.01h-2.94zM241.6 78.83h2.94v1.01h-2.94zM42.1 79.79h2.94v1.01h-2.94zM56.6 79.79h2.94v1.01h-2.94zM128.8 79.79h2.94v1.01h-2.94zM186.7 79.79h2.94v1.01h-2.94zM33.5 80.75h2.94v1.01h-2.94zM50.8 80.75h2.94v1.01h-2.94zM56.6 80.75h2.94v1.01h-2.94zM140.4 80.75h2.94v1.01h-2.94zM172.2 80.75h8.72v1.01h-8.72zM198.2 80.75h2.94v1.01h-2.94zM244.5 80.75h2.94v1.01h-2.94zM27.7 81.71h5.83v1.01h-5.83zM39.2 81.71h2.94v1.01h-2.94zM140.4 81.71h2.94v1.01h-2.94zM36.3 82.67h2.94v1.01h-2.94zM198.2 82.67h5.83v1.01h-5.83zM244.5 82.67h2.94v1.01h-2.94zM137.5 83.64h2.94v1.01h-2.94zM39.2 84.60h2.94v1.01h-2.94zM284.9 84.60h2.94v1.01h-2.94zM50.8 85.56h2.94v1.01h-2.94zM99.9 85.56h5.83v1.01h-5.83zM143.3 85.56h2.94v1.01h-2.94zM149.1 85.56h2.94v1.01h-2.94zM282.0 85.56h5.83v1.01h-5.83zM186.7 86.53h2.94v1.01h-2.94zM267.6 86.53h5.83v1.01h-5.83zM276.3 86.53h2.94v1.01h-2.94zM143.3 87.49h5.83v1.01h-5.83zM157.7 87.49h2.94v1.01h-2.94zM290.7 87.49h2.94v1.01h-2.94zM27.7 88.45h2.94v1.01h-2.94zM33.5 88.45h2.94v1.01h-2.94zM99.9 88.45h5.83v1.01h-5.83zM134.6 88.45h2.94v1.01h-2.94zM157.7 88.45h2.94v1.01h-2.94zM204.0 88.45h2.94v1.01h-2.94zM241.6 88.45h8.72v1.01h-8.72zM282.0 88.45h2.94v1.01h-2.94zM39.2 89.41h5.83v1.01h-5.83zM56.6 89.41h2.94v1.01h-2.94zM42.1 90.38h2.94v1.01h-2.94zM111.5 90.38h2.94v1.01h-2.94zM244.5 90.38h2.94v1.01h-2.94zM36.3 91.34h8.72v1.01h-8.72zM79.7 91.34h2.94v1.01h-2.94zM88.4 91.34h2.94v1.01h-2.94zM97.0 91.34h2.94v1.01h-2.94zM36.3 92.30h5.83v1.01h-5.83zM128.8 92.30h2.94v1.01h-2.94zM186.7 92.30h2.94v1.01h-2.94zM53.7 93.26h5.83v1.01h-5.83zM117.3 93.26h2.94v1.01h-2.94zM169.3 93.26h2.94v1.01h-2.94zM261.8 93.26h2.94v1.01h-2.94zM33.5 94.22h2.94v1.01h-2.94zM137.5 94.22h5.83v1.01h-5.83zM178.0 94.22h5.83v1.01h-5.83zM247.4 94.22h2.94v1.01h-2.94zM105.7 95.19h2.94v1.01h-2.94zM128.8 95.19h2.94v1.01h-2.94zM189.5 95.19h8.72v1.01h-8.72zM267.6 95.19h2.94v1.01h-2.94zM36.3 96.15h2.94v1.01h-2.94zM62.4 96.15h2.94v1.01h-2.94zM68.1 96.15h5.83v1.01h-5.83zM114.4 96.15h2.94v1.01h-2.94zM131.7 96.15h2.94v1.01h-2.94zM149.1 96.15h2.94v1.01h-2.94zM189.5 96.15h2.94v1.01h-2.94zM256.0 96.15h2.94v1.01h-2.94zM264.7 96.15h2.94v1.01h-2.94zM270.5 96.15h2.94v1.01h-2.94zM47.9 97.11h2.94v1.01h-2.94zM71.0 97.11h2.94v1.01h-2.94zM114.4 97.11h2.94v1.01h-2.94zM134.6 97.11h2.94v1.01h-2.94zM140.4 97.11h2.94v1.01h-2.94zM178.0 97.11h5.83v1.01h-5.83zM241.6 97.11h2.94v1.01h-2.94zM256.0 97.11h2.94v1.01h-2.94zM261.8 97.11h5.83v1.01h-5.83zM273.4 97.11h5.83v1.01h-5.83zM94.2 98.08h5.83v1.01h-5.83zM209.8 98.08h5.83v1.01h-5.83zM238.7 98.08h2.94v1.01h-2.94zM279.1 98.08h2.94v1.01h-2.94zM284.9 98.08h2.94v1.01h-2.94zM21.9 99.04h2.94v1.01h-2.94zM73.9 99.04h5.83v1.01h-5.83zM117.3 99.04h8.72v1.01h-8.72zM56.6 100.00h2.94v1.01h-2.94zM152.0 100.00h2.94v1.01h-2.94zM53.7 100.96h2.94v1.01h-2.94zM221.3 100.96h2.94v1.01h-2.94zM264.7 100.96h2.94v1.01h-2.94zM270.5 100.96h2.94v1.01h-2.94zM36.3 101.93h2.94v1.01h-2.94zM45.0 101.93h2.94v1.01h-2.94zM73.9 101.93h5.83v1.01h-5.83zM166.4 101.93h5.83v1.01h-5.83zM218.4 101.93h5.83v1.01h-5.83zM71.0 102.89h2.94v1.01h-2.94zM209.8 102.89h2.94v1.01h-2.94zM215.6 102.89h2.94v1.01h-2.94zM71.0 103.85h2.94v1.01h-2.94zM178.0 103.85h2.94v1.01h-2.94zM186.7 103.85h8.72v1.01h-8.72zM206.9 103.85h2.94v1.01h-2.94zM279.1 103.85h2.94v1.01h-2.94zM47.9 104.81h5.83v1.01h-5.83zM189.5 104.81h2.94v1.01h-2.94zM65.2 105.78h2.94v1.01h-2.94zM143.3 105.78h8.72v1.01h-8.72zM264.7 105.78h2.94v1.01h-2.94zM33.5 106.74h5.83v1.01h-5.83zM59.5 106.74h5.83v1.01h-5.83zM73.9 106.74h5.83v1.01h-5.83zM111.5 106.74h2.94v1.01h-2.94zM256.0 106.74h5.83v1.01h-5.83zM68.1 107.70h5.83v1.01h-5.83zM76.8 107.70h2.94v1.01h-2.94zM183.8 107.70h2.94v1.01h-2.94zM238.7 107.70h2.94v1.01h-2.94zM244.5 107.70h2.94v1.01h-2.94zM33.5 108.66h5.83v1.01h-5.83zM94.2 108.66h5.83v1.01h-5.83zM175.1 108.66h5.83v1.01h-5.83zM232.9 108.66h5.83v1.01h-5.83zM33.5 109.62h2.94v1.01h-2.94zM76.8 109.62h2.94v1.01h-2.94zM123.1 109.62h5.83v1.01h-5.83zM131.7 109.62h2.94v1.01h-2.94zM224.2 109.62h2.94v1.01h-2.94zM117.3 110.59h5.83v1.01h-5.83zM204.0 110.59h5.83v1.01h-5.83zM224.2 110.59h2.94v1.01h-2.94zM238.7 110.59h2.94v1.01h-2.94zM279.1 110.59h2.94v1.01h-2.94zM50.8 111.55h2.94v1.01h-2.94zM71.0 111.55h2.94v1.01h-2.94zM76.8 111.55h2.94v1.01h-2.94zM134.6 111.55h8.72v1.01h-8.72zM36.3 112.51h2.94v1.01h-2.94zM45.0 113.47h2.94v1.01h-2.94zM50.8 113.47h2.94v1.01h-2.94zM189.5 113.47h8.72v1.01h-8.72zM227.1 113.47h2.94v1.01h-2.94zM73.9 114.44h2.94v1.01h-2.94zM114.4 114.44h2.94v1.01h-2.94zM192.4 114.44h2.94v1.01h-2.94zM47.9 115.40h2.94v1.01h-2.94zM91.3 115.40h2.94v1.01h-2.94zM97.0 115.40h2.94v1.01h-2.94zM114.4 115.40h2.94v1.01h-2.94zM172.2 115.40h5.83v1.01h-5.83zM206.9 115.40h2.94v1.01h-2.94zM238.7 115.40h2.94v1.01h-2.94zM261.8 115.40h2.94v1.01h-2.94zM267.6 115.40h2.94v1.01h-2.94zM53.7 116.36h5.83v1.01h-5.83zM73.9 116.36h5.83v1.01h-5.83zM215.6 116.36h2.94v1.01h-2.94zM282.0 116.36h2.94v1.01h-2.94zM53.7 117.33h2.94v1.01h-2.94zM209.8 117.33h2.94v1.01h-2.94zM218.4 117.33h2.94v1.01h-2.94zM230.0 117.33h2.94v1.01h-2.94zM241.6 117.33h5.83v1.01h-5.83zM256.0 117.33h2.94v1.01h-2.94zM261.8 117.33h2.94v1.01h-2.94zM143.3 118.29h5.83v1.01h-5.83zM287.8 118.29h2.94v1.01h-2.94zM33.5 119.25h2.94v1.01h-2.94zM42.1 119.25h2.94v1.01h-2.94zM137.5 119.25h5.83v1.01h-5.83zM157.7 119.25h2.94v1.01h-2.94zM224.2 119.25h2.94v1.01h-2.94zM244.5 119.25h2.94v1.01h-2.94zM33.5 120.21h2.94v1.01h-2.94zM88.4 120.21h2.94v1.01h-2.94zM94.2 120.21h2.94v1.01h-2.94zM117.3 120.21h2.94v1.01h-2.94zM123.1 120.21h2.94v1.01h-2.94zM215.6 120.21h5.83v1.01h-5.83zM273.4 120.21h5.83v1.01h-5.83zM282.0 120.21h5.83v1.01h-5.83zM85.5 121.18h2.94v1.01h-2.94zM120.2 121.18h2.94v1.01h-2.94zM125.9 121.18h2.94v1.01h-2.94zM140.4 121.18h2.94v1.01h-2.94zM169.3 121.18h5.83v1.01h-5.83zM186.7 121.18h2.94v1.01h-2.94zM282.0 121.18h5.83v1.01h-5.83zM33.5 122.14h2.94v1.01h-2.94zM50.8 122.14h2.94v1.01h-2.94zM97.0 122.14h2.94v1.01h-2.94zM120.2 122.14h5.83v1.01h-5.83zM189.5 122.14h8.72v1.01h-8.72zM39.2 123.10h2.94v1.01h-2.94zM76.8 123.10h2.94v1.01h-2.94zM140.4 123.10h5.83v1.01h-5.83zM198.2 123.10h2.94v1.01h-2.94zM209.8 123.10h5.83v1.01h-5.83zM88.4 124.06h2.94v1.01h-2.94zM218.4 124.06h2.94v1.01h-2.94zM230.0 124.06h2.94v1.01h-2.94zM287.8 124.06h5.83v1.01h-5.83zM71.0 125.03h2.94v1.01h-2.94zM134.6 125.03h2.94v1.01h-2.94zM59.5 125.99h5.83v1.01h-5.83zM94.2 125.99h5.83v1.01h-5.83zM73.9 126.95h5.83v1.01h-5.83zM198.2 126.95h2.94v1.01h-2.94zM128.8 127.91h2.94v1.01h-2.94zM180.9 127.91h2.94v1.01h-2.94zM267.6 127.91h2.94v1.01h-2.94zM273.4 127.91h8.72v1.01h-8.72zM42.1 128.88h2.94v1.01h-2.94zM71.0 128.88h5.83v1.01h-5.83zM178.0 128.88h2.94v1.01h-2.94zM198.2 128.88h5.83v1.01h-5.83zM232.9 128.88h2.94v1.01h-2.94zM42.1 129.84h2.94v1.01h-2.94zM68.1 129.84h2.94v1.01h-2.94zM76.8 129.84h2.94v1.01h-2.94zM91.3 129.84h2.94v1.01h-2.94zM108.6 129.84h2.94v1.01h-2.94zM120.2 129.84h5.83v1.01h-5.83zM290.7 129.84h2.94v1.01h-2.94zM183.8 130.80h2.94v1.01h-2.94zM206.9 130.80h2.94v1.01h-2.94zM241.6 130.80h2.94v1.01h-2.94zM282.0 130.80h2.94v1.01h-2.94zM287.8 130.80h2.94v1.01h-2.94zM36.3 131.76h2.94v1.01h-2.94zM282.0 131.76h2.94v1.01h-2.94zM36.3 132.73h2.94v1.01h-2.94zM42.1 132.73h2.94v1.01h-2.94zM152.0 132.73h2.94v1.01h-2.94zM39.2 133.69h5.83v1.01h-5.83zM204.0 133.69h2.94v1.01h-2.94zM212.7 133.69h2.94v1.01h-2.94zM178.0 134.65h2.94v1.01h-2.94zM235.8 134.65h2.94v1.01h-2.94zM267.6 134.65h2.94v1.01h-2.94zM62.4 135.61h2.94v1.01h-2.94zM73.9 135.61h2.94v1.01h-2.94zM123.1 135.61h2.94v1.01h-2.94zM128.8 135.61h2.94v1.01h-2.94zM172.2 135.61h2.94v1.01h-2.94zM189.5 135.61h2.94v1.01h-2.94zM206.9 135.61h2.94v1.01h-2.94zM247.4 136.57h2.94v1.01h-2.94zM79.7 137.54h8.72v1.01h-8.72zM244.5 137.54h2.94v1.01h-2.94zM39.2 138.50h2.94v1.01h-2.94zM45.0 138.50h2.94v1.01h-2.94zM50.8 138.50h2.94v1.01h-2.94zM241.6 138.50h5.83v1.01h-5.83zM166.4 139.46h2.94v1.01h-2.94zM183.8 139.46h5.83v1.01h-5.83zM68.1 140.43h8.72v1.01h-8.72zM114.4 142.35h2.94v1.01h-2.94zM152.0 142.35h2.94v1.01h-2.94zM50.8 143.31h2.94v1.01h-2.94zM140.4 143.31h2.94v1.01h-2.94zM178.0 145.24h2.94v1.01h-2.94zM186.7 145.24h2.94v1.01h-2.94zM195.3 145.24h2.94v1.01h-2.94zM218.4 145.24h2.94v1.01h-2.94zM247.4 145.24h2.94v1.01h-2.94zM68.1 146.20h2.94v1.01h-2.94zM157.7 146.20h2.94v1.01h-2.94zM166.4 146.20h5.83v1.01h-5.83zM201.1 146.20h2.94v1.01h-2.94zM99.9 147.16h2.94v1.01h-2.94zM166.4 147.16h5.83v1.01h-5.83zM279.1 147.16h2.94v1.01h-2.94zM53.7 148.12h2.94v1.01h-2.94zM76.8 148.12h5.83v1.01h-5.83zM149.1 148.12h2.94v1.01h-2.94zM183.8 148.12h2.94v1.01h-2.94zM192.4 148.12h2.94v1.01h-2.94zM82.6 149.09h5.83v1.01h-5.83zM128.8 149.09h2.94v1.01h-2.94zM183.8 149.09h8.72v1.01h-8.72zM53.7 150.05h5.83v1.01h-5.83zM166.4 150.05h2.94v1.01h-2.94zM290.7 150.05h2.94v1.01h-2.94zM56.6 151.01h2.94v1.01h-2.94zM131.7 151.98h2.94v1.01h-2.94zM172.2 152.94h5.83v1.01h-5.83zM65.2 153.90h5.83v1.01h-5.83zM186.7 153.90h2.94v1.01h-2.94zM287.8 153.90h2.94v1.01h-2.94zM73.9 154.86h5.83v1.01h-5.83zM178.0 154.86h2.94v1.01h-2.94zM189.5 154.86h5.83v1.01h-5.83zM186.7 156.79h2.94v1.01h-2.94zM287.8 156.79h2.94v1.01h-2.94zM68.1 157.75h2.94v1.01h-2.94zM131.7 158.71h2.94v1.01h-2.94zM183.8 158.71h2.94v1.01h-2.94zM215.6 158.71h2.94v1.01h-2.94zM68.1 159.68h5.83v1.01h-5.83zM76.8 159.68h2.94v1.01h-2.94zM192.4 159.68h5.83v1.01h-5.83zM282.0 159.68h5.83v1.01h-5.83zM76.8 160.64h2.94v1.01h-2.94zM131.7 160.64h2.94v1.01h-2.94zM169.3 160.64h8.72v1.01h-8.72zM189.5 160.64h2.94v1.01h-2.94zM215.6 160.64h2.94v1.01h-2.94zM282.0 160.64h2.94v1.01h-2.94zM47.9 161.60h5.83v1.01h-5.83zM189.5 161.60h2.94v1.01h-2.94zM201.1 161.60h2.94v1.01h-2.94zM195.3 162.56h2.94v1.01h-2.94zM250.2 162.56h2.94v1.01h-2.94zM282.0 162.56h5.83v1.01h-5.83zM45.0 163.53h5.83v1.01h-5.83zM94.2 163.53h5.83v1.01h-5.83zM128.8 163.53h2.94v1.01h-2.94zM230.0 163.53h2.94v1.01h-2.94zM125.9 164.49h2.94v1.01h-2.94zM169.3 164.49h8.72v1.01h-8.72zM209.8 164.49h2.94v1.01h-2.94zM282.0 164.49h5.83v1.01h-5.83zM45.0 165.45h8.72v1.01h-8.72zM68.1 165.45h2.94v1.01h-2.94zM117.3 165.45h2.94v1.01h-2.94zM241.6 165.45h2.94v1.01h-2.94zM247.4 165.45h2.94v1.01h-2.94zM282.0 165.45h2.94v1.01h-2.94zM42.1 166.41h2.94v1.01h-2.94zM204.0 166.41h2.94v1.01h-2.94zM224.2 166.41h2.94v1.01h-2.94zM279.1 166.41h2.94v1.01h-2.94zM247.4 167.38h2.94v1.01h-2.94zM94.2 168.34h2.94v1.01h-2.94zM189.5 168.34h5.83v1.01h-5.83zM97.0 169.30h2.94v1.01h-2.94zM198.2 169.30h5.83v1.01h-5.83zM241.6 170.26h8.72v1.01h-8.72zM45.0 171.23h2.94v1.01h-2.94zM50.8 171.23h2.94v1.01h-2.94zM120.2 171.23h2.94v1.01h-2.94zM131.7 171.23h2.94v1.01h-2.94zM195.3 171.23h2.94v1.01h-2.94zM235.8 171.23h2.94v1.01h-2.94zM175.1 172.19h2.94v1.01h-2.94zM65.2 173.15h8.72v1.01h-8.72zM131.7 173.15h2.94v1.01h-2.94zM180.9 173.15h2.94v1.01h-2.94zM282.0 173.15h5.83v1.01h-5.83zM114.4 174.11h2.94v1.01h-2.94zM131.7 174.11h2.94v1.01h-2.94zM178.0 174.11h2.94v1.01h-2.94zM189.5 174.11h2.94v1.01h-2.94zM195.3 174.11h2.94v1.01h-2.94zM50.8 175.07h2.94v1.01h-2.94zM232.9 175.07h5.83v1.01h-5.83zM180.9 176.04h2.94v1.01h-2.94zM192.4 176.04h2.94v1.01h-2.94z"/>
<path fill="#da6f9a" d="M24.8 63.42h2.94v1.01h-2.94zM21.9 64.39h2.94v1.01h-2.94zM97.0 64.39h2.94v1.01h-2.94zM178.0 64.39h5.83v1.01h-5.83zM284.9 64.39h2.94v1.01h-2.94zM99.9 65.35h5.83v1.01h-5.83zM123.1 65.35h8.72v1.01h-8.72zM201.1 65.35h2.94v1.01h-2.94zM230.0 65.35h2.94v1.01h-2.94zM287.8 65.35h2.94v1.01h-2.94zM21.9 66.31h2.94v1.01h-2.94zM39.2 66.31h2.94v1.01h-2.94zM94.2 66.31h5.83v1.01h-5.83zM166.4 66.31h2.94v1.01h-2.94zM172.2 66.31h5.83v1.01h-5.83zM198.2 66.31h2.94v1.01h-2.94zM215.6 66.31h2.94v1.01h-2.94zM56.6 67.28h2.94v1.01h-2.94zM85.5 67.28h2.94v1.01h-2.94zM108.6 67.28h2.94v1.01h-2.94zM120.2 67.28h8.72v1.01h-8.72zM146.2 67.28h5.83v1.01h-5.83zM227.1 67.28h2.94v1.01h-2.94zM235.8 67.28h2.94v1.01h-2.94zM111.5 68.24h2.94v1.01h-2.94zM33.5 69.20h2.94v1.01h-2.94zM76.8 69.20h2.94v1.01h-2.94zM178.0 69.20h2.94v1.01h-2.94zM186.7 69.20h2.94v1.01h-2.94zM224.2 69.20h2.94v1.01h-2.94zM47.9 70.16h2.94v1.01h-2.94zM53.7 70.16h5.83v1.01h-5.83zM76.8 70.16h2.94v1.01h-2.94zM117.3 70.16h2.94v1.01h-2.94zM123.1 70.16h2.94v1.01h-2.94zM36.3 71.12h2.94v1.01h-2.94zM47.9 71.12h2.94v1.01h-2.94zM209.8 71.12h5.83v1.01h-5.83zM221.3 71.12h2.94v1.01h-2.94zM267.6 71.12h11.61v1.01h-11.61zM59.5 72.09h5.83v1.01h-5.83zM114.4 72.09h2.94v1.01h-2.94zM178.0 72.09h2.94v1.01h-2.94zM209.8 72.09h5.83v1.01h-5.83zM221.3 72.09h2.94v1.01h-2.94zM282.0 72.09h2.94v1.01h-2.94zM282.0 73.05h2.94v1.01h-2.94zM42.1 74.01h2.94v1.01h-2.94zM65.2 74.01h2.94v1.01h-2.94zM79.7 74.01h5.83v1.01h-5.83zM125.9 74.01h5.83v1.01h-5.83zM134.6 74.01h2.94v1.01h-2.94zM198.2 74.01h2.94v1.01h-2.94zM264.7 74.01h2.94v1.01h-2.94zM287.8 74.01h5.83v1.01h-5.83zM27.7 74.97h2.94v1.01h-2.94zM53.7 74.97h2.94v1.01h-2.94zM235.8 74.97h2.94v1.01h-2.94zM244.5 74.97h2.94v1.01h-2.94zM71.0 75.94h2.94v1.01h-2.94zM264.7 75.94h2.94v1.01h-2.94zM27.7 76.90h2.94v1.01h-2.94zM56.6 76.90h2.94v1.01h-2.94zM114.4 76.90h2.94v1.01h-2.94zM264.7 76.90h2.94v1.01h-2.94zM24.8 77.86h2.94v1.01h-2.94zM120.2 77.86h2.94v1.01h-2.94zM180.9 77.86h2.94v1.01h-2.94zM232.9 77.86h2.94v1.01h-2.94zM270.5 77.86h2.94v1.01h-2.94zM279.1 77.86h2.94v1.01h-2.94zM53.7 78.83h5.83v1.01h-5.83zM102.8 78.83h2.94v1.01h-2.94zM183.8 78.83h2.94v1.01h-2.94zM36.3 79.79h5.83v1.01h-5.83zM146.2 79.79h2.94v1.01h-2.94zM183.8 79.79h2.94v1.01h-2.94zM241.6 80.75h2.94v1.01h-2.94zM247.4 80.75h2.94v1.01h-2.94zM36.3 81.71h2.94v1.01h-2.94zM117.3 81.71h5.83v1.01h-5.83zM125.9 81.71h2.94v1.01h-2.94zM175.1 81.71h5.83v1.01h-5.83zM282.0 81.71h5.83v1.01h-5.83zM24.8 82.67h2.94v1.01h-2.94zM39.2 82.67h2.94v1.01h-2.94zM88.4 82.67h2.94v1.01h-2.94zM157.7 82.67h2.94v1.01h-2.94zM166.4 82.67h5.83v1.01h-5.83zM186.7 82.67h2.94v1.01h-2.94zM241.6 82.67h2.94v1.01h-2.94zM247.4 82.67h2.94v1.01h-2.94zM27.7 84.60h5.83v1.01h-5.83zM36.3 84.60h2.94v1.01h-2.94zM53.7 84.60h2.94v1.01h-2.94zM68.1 84.60h5.83v1.01h-5.83zM82.6 84.60h5.83v1.01h-5.83zM166.4 84.60h5.83v1.01h-5.83zM244.5 84.60h5.83v1.01h-5.83zM33.5 85.56h2.94v1.01h-2.94zM45.0 85.56h2.94v1.01h-2.94zM56.6 85.56h5.83v1.01h-5.83zM73.9 85.56h11.61v1.01h-11.61zM166.4 85.56h5.83v1.01h-5.83zM241.6 85.56h2.94v1.01h-2.94zM247.4 85.56h2.94v1.01h-2.94zM19.0 86.53h8.72v1.01h-8.72zM128.8 87.49h2.94v1.01h-2.94zM149.1 87.49h2.94v1.01h-2.94zM287.8 87.49h2.94v1.01h-2.94zM50.8 88.45h2.94v1.01h-2.94zM68.1 88.45h5.83v1.01h-5.83zM137.5 88.45h2.94v1.01h-2.94zM166.4 88.45h5.83v1.01h-5.83zM284.9 88.45h2.94v1.01h-2.94zM123.1 89.41h2.94v1.01h-2.94zM128.8 89.41h2.94v1.01h-2.94zM137.5 89.41h2.94v1.01h-2.94zM279.1 89.41h8.72v1.01h-8.72zM91.3 90.38h2.94v1.01h-2.94zM33.5 91.34h2.94v1.01h-2.94zM82.6 91.34h5.83v1.01h-5.83zM94.2 91.34h2.94v1.01h-2.94zM117.3 91.34h2.94v1.01h-2.94zM123.1 91.34h5.83v1.01h-5.83zM134.6 92.30h5.83v1.01h-5.83zM183.8 92.30h2.94v1.01h-2.94zM241.6 92.30h8.72v1.01h-8.72zM166.4 93.26h2.94v1.01h-2.94zM256.0 93.26h5.83v1.01h-5.83zM264.7 93.26h2.94v1.01h-2.94zM134.6 94.22h2.94v1.01h-2.94zM152.0 94.22h2.94v1.01h-2.94zM241.6 94.22h2.94v1.01h-2.94zM94.2 95.19h5.83v1.01h-5.83zM91.3 96.15h2.94v1.01h-2.94zM146.2 96.15h2.94v1.01h-2.94zM154.9 96.15h2.94v1.01h-2.94zM175.1 96.15h2.94v1.01h-2.94zM183.8 96.15h2.94v1.01h-2.94zM198.2 96.15h2.94v1.01h-2.94zM238.7 96.15h2.94v1.01h-2.94zM261.8 96.15h2.94v1.01h-2.94zM94.2 97.11h2.94v1.01h-2.94zM152.0 97.11h2.94v1.01h-2.94zM244.5 97.11h2.94v1.01h-2.94zM152.0 98.08h2.94v1.01h-2.94zM218.4 98.08h2.94v1.01h-2.94zM125.9 99.04h2.94v1.01h-2.94zM137.5 99.04h5.83v1.01h-5.83zM157.7 99.04h2.94v1.01h-2.94zM206.9 99.04h2.94v1.01h-2.94zM267.6 99.04h2.94v1.01h-2.94zM287.8 99.04h2.94v1.01h-2.94zM73.9 100.00h2.94v1.01h-2.94zM117.3 100.00h11.61v1.01h-11.61zM186.7 100.00h2.94v1.01h-2.94zM56.6 100.96h2.94v1.01h-2.94zM73.9 100.96h2.94v1.01h-2.94zM94.2 100.96h5.83v1.01h-5.83zM172.2 100.96h2.94v1.01h-2.94zM178.0 100.96h2.94v1.01h-2.94zM209.8 100.96h2.94v1.01h-2.94zM241.6 100.96h2.94v1.01h-2.94zM50.8 101.93h2.94v1.01h-2.94zM33.5 102.89h2.94v1.01h-2.94zM137.5 102.89h2.94v1.01h-2.94zM169.3 102.89h2.94v1.01h-2.94zM201.1 102.89h2.94v1.01h-2.94zM276.3 102.89h2.94v1.01h-2.94zM68.1 103.85h2.94v1.01h-2.94zM88.4 103.85h2.94v1.01h-2.94zM128.8 103.85h2.94v1.01h-2.94zM180.9 103.85h2.94v1.01h-2.94zM195.3 103.85h2.94v1.01h-2.94zM204.0 103.85h2.94v1.01h-2.94zM218.4 103.85h5.83v1.01h-5.83zM232.9 103.85h2.94v1.01h-2.94zM45.0 104.81h2.94v1.01h-2.94zM134.6 104.81h8.72v1.01h-8.72zM152.0 104.81h2.94v1.01h-2.94zM166.4 104.81h5.83v1.01h-5.83zM178.0 104.81h5.83v1.01h-5.83zM192.4 104.81h5.83v1.01h-5.83zM204.0 104.81h5.83v1.01h-5.83zM33.5 105.78h2.94v1.01h-2.94zM88.4 105.78h2.94v1.01h-2.94zM154.9 105.78h5.83v1.01h-5.83zM198.2 105.78h5.83v1.01h-5.83zM33.5 107.70h5.83v1.01h-5.83zM59.5 107.70h5.83v1.01h-5.83zM88.4 107.70h2.94v1.01h-2.94zM114.4 107.70h2.94v1.01h-2.94zM178.0 107.70h5.83v1.01h-5.83zM241.6 107.70h2.94v1.01h-2.94zM247.4 107.70h2.94v1.01h-2.94zM88.4 108.66h2.94v1.01h-2.94zM128.8 108.66h2.94v1.01h-2.94zM172.2 108.66h2.94v1.01h-2.94zM180.9 108.66h8.72v1.01h-8.72zM36.3 110.59h2.94v1.01h-2.94zM56.6 110.59h2.94v1.01h-2.94zM134.6 110.59h8.72v1.01h-8.72zM154.9 110.59h5.83v1.01h-5.83zM172.2 110.59h5.83v1.01h-5.83zM36.3 111.55h2.94v1.01h-2.94zM123.1 111.55h2.94v1.01h-2.94zM189.5 111.55h5.83v1.01h-5.83zM53.7 112.51h5.83v1.01h-5.83zM88.4 112.51h2.94v1.01h-2.94zM128.8 112.51h2.94v1.01h-2.94zM134.6 112.51h8.72v1.01h-8.72zM284.9 112.51h2.94v1.01h-2.94zM97.0 113.47h2.94v1.01h-2.94zM152.0 114.44h5.83v1.01h-5.83zM189.5 114.44h2.94v1.01h-2.94zM45.0 115.40h2.94v1.01h-2.94zM50.8 115.40h2.94v1.01h-2.94zM166.4 115.40h5.83v1.01h-5.83zM270.5 115.40h2.94v1.01h-2.94zM276.3 115.40h2.94v1.01h-2.94zM282.0 115.40h2.94v1.01h-2.94zM183.8 116.36h2.94v1.01h-2.94zM284.9 116.36h2.94v1.01h-2.94zM88.4 117.33h2.94v1.01h-2.94zM157.7 117.33h2.94v1.01h-2.94zM166.4 117.33h5.83v1.01h-5.83zM175.1 117.33h2.94v1.01h-2.94zM180.9 117.33h2.94v1.01h-2.94zM212.7 117.33h5.83v1.01h-5.83zM279.1 117.33h8.72v1.01h-8.72zM290.7 117.33h2.94v1.01h-2.94zM117.3 118.29h2.94v1.01h-2.94zM183.8 118.29h2.94v1.01h-2.94zM284.9 118.29h2.94v1.01h-2.94zM290.7 118.29h2.94v1.01h-2.94zM134.6 119.25h2.94v1.01h-2.94zM143.3 119.25h2.94v1.01h-2.94zM149.1 119.25h2.94v1.01h-2.94zM204.0 119.25h5.83v1.01h-5.83zM212.7 119.25h2.94v1.01h-2.94zM166.4 120.21h2.94v1.01h-2.94zM172.2 120.21h5.83v1.01h-5.83zM221.3 120.21h2.94v1.01h-2.94zM73.9 121.18h2.94v1.01h-2.94zM79.7 121.18h5.83v1.01h-5.83zM117.3 121.18h2.94v1.01h-2.94zM123.1 121.18h2.94v1.01h-2.94zM134.6 121.18h2.94v1.01h-2.94zM149.1 121.18h2.94v1.01h-2.94zM166.4 121.18h2.94v1.01h-2.94zM175.1 121.18h2.94v1.01h-2.94zM232.9 121.18h5.83v1.01h-5.83zM267.6 121.18h2.94v1.01h-2.94zM287.8 121.18h5.83v1.01h-5.83zM45.0 122.14h2.94v1.01h-2.94zM94.2 122.14h2.94v1.01h-2.94zM134.6 122.14h2.94v1.01h-2.94zM140.4 122.14h2.94v1.01h-2.94zM152.0 122.14h2.94v1.01h-2.94zM175.1 122.14h2.94v1.01h-2.94zM134.6 123.10h5.83v1.01h-5.83zM149.1 123.10h2.94v1.01h-2.94zM201.1 123.10h2.94v1.01h-2.94zM227.1 123.10h5.83v1.01h-5.83zM267.6 123.10h5.83v1.01h-5.83zM128.8 124.06h2.94v1.01h-2.94zM36.3 125.03h2.94v1.01h-2.94zM76.8 125.03h2.94v1.01h-2.94zM183.8 125.03h5.83v1.01h-5.83zM68.1 125.99h2.94v1.01h-2.94zM140.4 125.99h2.94v1.01h-2.94zM186.7 125.99h2.94v1.01h-2.94zM215.6 125.99h2.94v1.01h-2.94zM224.2 125.99h2.94v1.01h-2.94zM235.8 125.99h2.94v1.01h-2.94zM33.5 126.95h5.83v1.01h-5.83zM152.0 126.95h2.94v1.01h-2.94zM183.8 126.95h5.83v1.01h-5.83zM94.2 127.91h2.94v1.01h-2.94zM152.0 127.91h2.94v1.01h-2.94zM232.9 127.91h5.83v1.01h-5.83zM270.5 127.91h2.94v1.01h-2.94zM68.1 128.88h2.94v1.01h-2.94zM94.2 128.88h5.83v1.01h-5.83zM180.9 128.88h2.94v1.01h-2.94zM71.0 129.84h2.94v1.01h-2.94zM117.3 129.84h2.94v1.01h-2.94zM169.3 129.84h2.94v1.01h-2.94zM215.6 129.84h2.94v1.01h-2.94zM221.3 129.84h5.83v1.01h-5.83zM287.8 129.84h2.94v1.01h-2.94zM33.5 130.80h2.94v1.01h-2.94zM131.7 130.80h2.94v1.01h-2.94zM175.1 130.80h2.94v1.01h-2.94zM264.7 130.80h2.94v1.01h-2.94zM39.2 131.76h5.83v1.01h-5.83zM157.7 131.76h2.94v1.01h-2.94zM178.0 131.76h5.83v1.01h-5.83zM189.5 131.76h2.94v1.01h-2.94zM195.3 131.76h2.94v1.01h-2.94zM284.9 131.76h2.94v1.01h-2.94zM39.2 132.73h2.94v1.01h-2.94zM183.8 132.73h5.83v1.01h-5.83zM232.9 132.73h2.94v1.01h-2.94zM33.5 133.69h5.83v1.01h-5.83zM183.8 133.69h5.83v1.01h-5.83zM244.5 133.69h2.94v1.01h-2.94zM204.0 134.65h2.94v1.01h-2.94zM232.9 134.65h2.94v1.01h-2.94zM59.5 135.61h2.94v1.01h-2.94zM117.3 135.61h2.94v1.01h-2.94zM125.9 135.61h2.94v1.01h-2.94zM166.4 135.61h5.83v1.01h-5.83zM175.1 135.61h2.94v1.01h-2.94zM183.8 135.61h5.83v1.01h-5.83zM209.8 135.61h8.72v1.01h-8.72zM120.2 136.57h2.94v1.01h-2.94zM241.6 136.57h5.83v1.01h-5.83zM140.4 137.54h2.94v1.01h-2.94zM154.9 138.50h2.94v1.01h-2.94zM198.2 138.50h5.83v1.01h-5.83zM172.2 139.46h2.94v1.01h-2.94zM76.8 140.43h2.94v1.01h-2.94zM241.6 140.43h8.72v1.01h-8.72zM108.6 142.35h2.94v1.01h-2.94zM53.7 143.31h2.94v1.01h-2.94zM62.4 144.28h2.94v1.01h-2.94zM99.9 144.28h8.72v1.01h-8.72zM201.1 144.28h2.94v1.01h-2.94zM241.6 144.28h2.94v1.01h-2.94zM247.4 144.28h2.94v1.01h-2.94zM279.1 144.28h2.94v1.01h-2.94zM65.2 145.24h2.94v1.01h-2.94zM180.9 145.24h5.83v1.01h-5.83zM189.5 145.24h5.83v1.01h-5.83zM241.6 145.24h5.83v1.01h-5.83zM198.2 146.20h2.94v1.01h-2.94zM65.2 147.16h2.94v1.01h-2.94zM102.8 147.16h5.83v1.01h-5.83zM282.0 147.16h2.94v1.01h-2.94zM82.6 148.12h5.83v1.01h-5.83zM143.3 148.12h5.83v1.01h-5.83zM154.9 148.12h2.94v1.01h-2.94zM189.5 148.12h2.94v1.01h-2.94zM195.3 148.12h2.94v1.01h-2.94zM290.7 148.12h2.94v1.01h-2.94zM79.7 149.09h2.94v1.01h-2.94zM45.0 150.05h5.83v1.01h-5.83zM79.7 150.05h2.94v1.01h-2.94zM169.3 150.05h8.72v1.01h-8.72zM241.6 150.05h8.72v1.01h-8.72zM287.8 150.05h2.94v1.01h-2.94zM50.8 151.01h5.83v1.01h-5.83zM73.9 151.01h2.94v1.01h-2.94zM65.2 151.98h2.94v1.01h-2.94zM105.7 151.98h2.94v1.01h-2.94zM192.4 151.98h2.94v1.01h-2.94zM36.3 152.94h2.94v1.01h-2.94zM50.8 152.94h2.94v1.01h-2.94zM166.4 152.94h5.83v1.01h-5.83zM241.6 152.94h2.94v1.01h-2.94zM247.4 152.94h2.94v1.01h-2.94zM71.0 153.90h2.94v1.01h-2.94zM183.8 153.90h2.94v1.01h-2.94zM241.6 153.90h2.94v1.01h-2.94zM224.2 154.86h2.94v1.01h-2.94zM73.9 155.82h2.94v1.01h-2.94zM201.1 156.79h2.94v1.01h-2.94zM290.7 156.79h2.94v1.01h-2.94zM227.1 157.75h5.83v1.01h-5.83zM232.9 158.71h2.94v1.01h-2.94zM241.6 158.71h2.94v1.01h-2.94zM33.5 159.68h2.94v1.01h-2.94zM73.9 159.68h2.94v1.01h-2.94zM128.8 159.68h2.94v1.01h-2.94zM189.5 159.68h2.94v1.01h-2.94zM218.4 159.68h5.83v1.01h-5.83zM250.2 159.68h2.94v1.01h-2.94zM68.1 160.64h8.72v1.01h-8.72zM166.4 160.64h2.94v1.01h-2.94zM192.4 160.64h5.83v1.01h-5.83zM232.9 160.64h2.94v1.01h-2.94zM284.9 160.64h2.94v1.01h-2.94zM45.0 161.60h2.94v1.01h-2.94zM209.8 161.60h8.72v1.01h-8.72zM224.2 161.60h2.94v1.01h-2.94zM276.3 161.60h2.94v1.01h-2.94zM189.5 162.56h5.83v1.01h-5.83zM282.0 163.53h5.83v1.01h-5.83zM50.8 164.49h2.94v1.01h-2.94zM88.4 164.49h2.94v1.01h-2.94zM97.0 165.45h2.94v1.01h-2.94zM120.2 165.45h2.94v1.01h-2.94zM186.7 165.45h2.94v1.01h-2.94zM244.5 165.45h2.94v1.01h-2.94zM120.2 166.41h2.94v1.01h-2.94zM131.7 166.41h2.94v1.01h-2.94zM241.6 166.41h2.94v1.01h-2.94zM71.0 167.38h8.72v1.01h-8.72zM241.6 167.38h2.94v1.01h-2.94zM178.0 168.34h5.83v1.01h-5.83zM195.3 168.34h2.94v1.01h-2.94zM204.0 168.34h2.94v1.01h-2.94zM117.3 169.30h2.94v1.01h-2.94zM218.4 169.30h2.94v1.01h-2.94zM284.9 169.30h2.94v1.01h-2.94zM235.8 170.26h2.94v1.01h-2.94zM279.1 170.26h2.94v1.01h-2.94zM178.0 171.23h5.83v1.01h-5.83zM192.4 171.23h2.94v1.01h-2.94zM232.9 171.23h2.94v1.01h-2.94zM36.3 172.19h2.94v1.01h-2.94zM45.0 172.19h2.94v1.01h-2.94zM169.3 172.19h2.94v1.01h-2.94zM183.8 172.19h2.94v1.01h-2.94zM36.3 173.15h2.94v1.01h-2.94zM178.0 173.15h2.94v1.01h-2.94zM189.5 173.15h2.94v1.01h-2.94zM195.3 173.15h2.94v1.01h-2.94zM273.4 173.15h8.72v1.01h-8.72zM45.0 174.11h8.72v1.01h-8.72zM192.4 174.11h2.94v1.01h-2.94zM212.7 174.11h5.83v1.01h-5.83zM88.4 175.07h5.83v1.01h-5.83zM183.8 175.07h5.83v1.01h-5.83zM209.8 175.07h2.94v1.01h-2.94zM215.6 175.07h2.94v1.01h-2.94zM189.5 176.04h2.94v1.01h-2.94zM232.9 176.04h2.94v1.01h-2.94z"/>
<path fill="#e67085" d="M27.7 61.50h2.94v1.01h-2.94zM39.2 61.50h2.94v1.01h-2.94zM128.8 61.50h2.94v1.01h-2.94zM134.6 61.50h2.94v1.01h-2.94zM209.8 61.50h2.94v1.01h-2.94zM247.4 61.50h2.94v1.01h-2.94zM39.2 62.46h2.94v1.01h-2.94zM65.2 62.46h2.94v1.01h-2.94zM88.4 62.46h2.94v1.01h-2.94zM157.7 62.46h2.94v1.01h-2.94zM258.9 62.46h2.94v1.01h-2.94zM253.1 63.42h2.94v1.01h-2.94zM284.9 63.42h2.94v1.01h-2.94zM99.9 64.39h5.83v1.01h-5.83zM111.5 64.39h2.94v1.01h-2.94zM212.7 64.39h2.94v1.01h-2.94zM232.9 64.39h5.83v1.01h-5.83zM282.0 64.39h2.94v1.01h-2.94zM287.8 64.39h2.94v1.01h-2.94zM33.5 65.35h2.94v1.01h-2.94zM73.9 65.35h5.83v1.01h-5.83zM36.3 66.31h2.94v1.01h-2.94zM42.1 66.31h2.94v1.01h-2.94zM143.3 66.31h2.94v1.01h-2.94zM149.1 66.31h2.94v1.01h-2.94zM212.7 66.31h2.94v1.01h-2.94zM53.7 67.28h2.94v1.01h-2.94zM111.5 67.28h2.94v1.01h-2.94zM154.9 67.28h2.94v1.01h-2.94zM36.3 68.24h2.94v1.01h-2.94zM56.6 68.24h2.94v1.01h-2.94zM108.6 68.24h2.94v1.01h-2.94zM166.4 68.24h5.83v1.01h-5.83zM284.9 68.24h2.94v1.01h-2.94zM73.9 69.20h2.94v1.01h-2.94zM180.9 69.20h2.94v1.01h-2.94zM33.5 70.16h2.94v1.01h-2.94zM50.8 70.16h2.94v1.01h-2.94zM108.6 70.16h5.83v1.01h-5.83zM120.2 70.16h2.94v1.01h-2.94zM166.4 70.16h8.72v1.01h-8.72zM42.1 71.12h5.83v1.01h-5.83zM140.4 71.12h2.94v1.01h-2.94zM218.4 71.12h2.94v1.01h-2.94zM134.6 72.09h5.83v1.01h-5.83zM169.3 72.09h2.94v1.01h-2.94zM68.1 73.05h2.94v1.01h-2.94zM134.6 73.05h5.83v1.01h-5.83zM152.0 73.05h2.94v1.01h-2.94zM284.9 73.05h2.94v1.01h-2.94zM137.5 74.01h2.94v1.01h-2.94zM154.9 74.01h5.83v1.01h-5.83zM169.3 74.01h5.83v1.01h-5.83zM30.6 74.97h2.94v1.01h-2.94zM56.6 74.97h2.94v1.01h-2.94zM68.1 74.97h5.83v1.01h-5.83zM88.4 74.97h2.94v1.01h-2.94zM137.5 74.97h5.83v1.01h-5.83zM146.2 74.97h2.94v1.01h-2.94zM198.2 74.97h5.83v1.01h-5.83zM247.4 74.97h2.94v1.01h-2.94zM56.6 75.94h2.94v1.01h-2.94zM68.1 75.94h2.94v1.01h-2.94zM232.9 75.94h5.83v1.01h-5.83zM123.1 76.90h2.94v1.01h-2.94zM134.6 76.90h8.72v1.01h-8.72zM287.8 76.90h5.83v1.01h-5.83zM102.8 77.86h2.94v1.01h-2.94zM149.1 77.86h2.94v1.01h-2.94zM175.1 77.86h5.83v1.01h-5.83zM186.7 77.86h2.94v1.01h-2.94zM235.8 77.86h2.94v1.01h-2.94zM111.5 78.83h2.94v1.01h-2.94zM152.0 78.83h2.94v1.01h-2.94zM85.5 79.79h2.94v1.01h-2.94zM114.4 79.79h2.94v1.01h-2.94zM244.5 79.79h2.94v1.01h-2.94zM287.8 79.79h2.94v1.01h-2.94zM152.0 80.75h2.94v1.01h-2.94zM33.5 81.71h2.94v1.01h-2.94zM123.1 81.71h2.94v1.01h-2.94zM131.7 81.71h2.94v1.01h-2.94zM154.9 81.71h2.94v1.01h-2.94zM47.9 82.67h5.83v1.01h-5.83zM114.4 82.67h2.94v1.01h-2.94zM140.4 82.67h2.94v1.01h-2.94zM154.9 82.67h2.94v1.01h-2.94zM105.7 83.64h8.72v1.01h-8.72zM117.3 83.64h2.94v1.01h-2.94zM131.7 83.64h2.94v1.01h-2.94zM154.9 83.64h2.94v1.01h-2.94zM183.8 83.64h5.83v1.01h-5.83zM42.1 84.60h2.94v1.01h-2.94zM47.9 84.60h2.94v1.01h-2.94zM73.9 84.60h8.72v1.01h-8.72zM137.5 84.60h2.94v1.01h-2.94zM157.7 84.60h2.94v1.01h-2.94zM241.6 84.60h2.94v1.01h-2.94zM53.7 85.56h2.94v1.01h-2.94zM62.4 85.56h2.94v1.01h-2.94zM85.5 85.56h2.94v1.01h-2.94zM244.5 85.56h2.94v1.01h-2.94zM45.0 86.53h2.94v1.01h-2.94zM50.8 86.53h2.94v1.01h-2.94zM183.8 86.53h2.94v1.01h-2.94zM97.0 87.49h2.94v1.01h-2.94zM120.2 87.49h2.94v1.01h-2.94zM154.9 87.49h2.94v1.01h-2.94zM39.2 88.45h2.94v1.01h-2.94zM76.8 88.45h2.94v1.01h-2.94zM128.8 88.45h2.94v1.01h-2.94zM140.4 88.45h2.94v1.01h-2.94zM65.2 89.41h2.94v1.01h-2.94zM120.2 89.41h2.94v1.01h-2.94zM125.9 89.41h2.94v1.01h-2.94zM134.6 89.41h2.94v1.01h-2.94zM140.4 89.41h2.94v1.01h-2.94zM157.7 89.41h2.94v1.01h-2.94zM105.7 90.38h2.94v1.01h-2.94zM68.1 91.34h5.83v1.01h-5.83zM120.2 91.34h2.94v1.01h-2.94zM62.4 92.30h2.94v1.01h-2.94zM79.7 92.30h2.94v1.01h-2.94zM123.1 92.30h2.94v1.01h-2.94zM140.4 92.30h2.94v1.01h-2.94zM99.9 93.26h2.94v1.01h-2.94zM154.9 93.26h2.94v1.01h-2.94zM172.2 93.26h8.72v1.01h-8.72zM247.4 93.26h2.94v1.01h-2.94zM45.0 95.19h8.72v1.01h-8.72zM154.9 95.19h2.94v1.01h-2.94zM175.1 95.19h2.94v1.01h-2.94zM45.0 96.15h2.94v1.01h-2.94zM88.4 96.15h2.94v1.01h-2.94zM143.3 96.15h2.94v1.01h-2.94zM172.2 96.15h2.94v1.01h-2.94zM201.1 96.15h5.83v1.01h-5.83zM36.3 97.11h2.94v1.01h-2.94zM45.0 97.11h2.94v1.01h-2.94zM50.8 97.11h2.94v1.01h-2.94zM131.7 97.11h2.94v1.01h-2.94zM183.8 97.11h5.83v1.01h-5.83zM192.4 97.11h2.94v1.01h-2.94zM247.4 97.11h2.94v1.01h-2.94zM279.1 97.11h2.94v1.01h-2.94zM59.5 98.08h5.83v1.01h-5.83zM215.6 98.08h2.94v1.01h-2.94zM134.6 99.04h2.94v1.01h-2.94zM154.9 99.04h2.94v1.01h-2.94zM201.1 99.04h5.83v1.01h-5.83zM215.6 99.04h8.72v1.01h-8.72zM235.8 99.04h2.94v1.01h-2.94zM270.5 99.04h2.94v1.01h-2.94zM290.7 99.04h2.94v1.01h-2.94zM76.8 100.00h2.94v1.01h-2.94zM154.9 100.00h2.94v1.01h-2.94zM183.8 100.00h2.94v1.01h-2.94zM189.5 100.00h5.83v1.01h-5.83zM247.4 100.00h2.94v1.01h-2.94zM128.8 100.96h2.94v1.01h-2.94zM134.6 100.96h8.72v1.01h-8.72zM152.0 100.96h2.94v1.01h-2.94zM175.1 100.96h2.94v1.01h-2.94zM180.9 100.96h2.94v1.01h-2.94zM212.7 100.96h8.72v1.01h-8.72zM244.5 100.96h5.83v1.01h-5.83zM47.9 101.93h2.94v1.01h-2.94zM56.6 101.93h2.94v1.01h-2.94zM131.7 101.93h2.94v1.01h-2.94zM152.0 101.93h5.83v1.01h-5.83zM209.8 101.93h2.94v1.01h-2.94zM36.3 102.89h2.94v1.01h-2.94zM73.9 102.89h5.83v1.01h-5.83zM134.6 102.89h2.94v1.01h-2.94zM140.4 102.89h2.94v1.01h-2.94zM166.4 102.89h2.94v1.01h-2.94zM183.8 102.89h5.83v1.01h-5.83zM235.8 103.85h2.94v1.01h-2.94zM33.5 104.81h5.83v1.01h-5.83zM128.8 104.81h2.94v1.01h-2.94zM154.9 104.81h5.83v1.01h-5.83zM290.7 104.81h2.94v1.01h-2.94zM68.1 105.78h2.94v1.01h-2.94zM166.4 105.78h2.94v1.01h-2.94zM244.5 105.78h2.94v1.01h-2.94zM270.5 105.78h5.83v1.01h-5.83zM221.3 106.74h2.94v1.01h-2.94zM264.7 106.74h2.94v1.01h-2.94zM186.7 107.70h2.94v1.01h-2.94zM218.4 107.70h2.94v1.01h-2.94zM209.8 108.66h2.94v1.01h-2.94zM282.0 108.66h2.94v1.01h-2.94zM232.9 109.62h2.94v1.01h-2.94zM53.7 110.59h2.94v1.01h-2.94zM125.9 110.59h2.94v1.01h-2.94zM88.4 111.55h2.94v1.01h-2.94zM108.6 111.55h2.94v1.01h-2.94zM125.9 111.55h2.94v1.01h-2.94zM195.3 111.55h2.94v1.01h-2.94zM224.2 111.55h2.94v1.01h-2.94zM232.9 111.55h2.94v1.01h-2.94zM94.2 113.47h2.94v1.01h-2.94zM204.0 113.47h2.94v1.01h-2.94zM224.2 113.47h2.94v1.01h-2.94zM232.9 113.47h5.83v1.01h-5.83zM45.0 114.44h2.94v1.01h-2.94zM157.7 114.44h2.94v1.01h-2.94zM195.3 114.44h2.94v1.01h-2.94zM224.2 114.44h2.94v1.01h-2.94zM204.0 115.40h2.94v1.01h-2.94zM273.4 115.40h2.94v1.01h-2.94zM45.0 116.36h2.94v1.01h-2.94zM71.0 116.36h2.94v1.01h-2.94zM186.7 116.36h2.94v1.01h-2.94zM287.8 116.36h5.83v1.01h-5.83zM91.3 117.33h2.94v1.01h-2.94zM154.9 117.33h2.94v1.01h-2.94zM178.0 117.33h2.94v1.01h-2.94zM221.3 117.33h2.94v1.01h-2.94zM232.9 117.33h5.83v1.01h-5.83zM287.8 117.33h2.94v1.01h-2.94zM45.0 118.29h5.83v1.01h-5.83zM108.6 118.29h5.83v1.01h-5.83zM120.2 118.29h2.94v1.01h-2.94zM152.0 118.29h2.94v1.01h-2.94zM157.7 118.29h2.94v1.01h-2.94zM232.9 118.29h2.94v1.01h-2.94zM82.6 119.25h5.83v1.01h-5.83zM99.9 119.25h2.94v1.01h-2.94zM146.2 119.25h2.94v1.01h-2.94zM209.8 119.25h2.94v1.01h-2.94zM215.6 119.25h8.72v1.01h-8.72zM264.7 119.25h2.94v1.01h-2.94zM273.4 119.25h5.83v1.01h-5.83zM282.0 119.25h5.83v1.01h-5.83zM290.7 119.25h2.94v1.01h-2.94zM134.6 120.21h5.83v1.01h-5.83zM169.3 120.21h2.94v1.01h-2.94zM212.7 120.21h2.94v1.01h-2.94zM287.8 120.21h2.94v1.01h-2.94zM45.0 121.18h5.83v1.01h-5.83zM76.8 121.18h2.94v1.01h-2.94zM143.3 121.18h5.83v1.01h-5.83zM178.0 121.18h5.83v1.01h-5.83zM47.9 122.14h2.94v1.01h-2.94zM73.9 122.14h2.94v1.01h-2.94zM91.3 122.14h2.94v1.01h-2.94zM137.5 122.14h2.94v1.01h-2.94zM238.7 122.14h2.94v1.01h-2.94zM68.1 123.10h2.94v1.01h-2.94zM128.8 123.10h2.94v1.01h-2.94zM180.9 123.10h2.94v1.01h-2.94zM227.1 124.06h2.94v1.01h-2.94zM279.1 124.06h2.94v1.01h-2.94zM152.0 125.03h2.94v1.01h-2.94zM198.2 125.03h5.83v1.01h-5.83zM128.8 125.99h5.83v1.01h-5.83zM209.8 125.99h5.83v1.01h-5.83zM232.9 125.99h2.94v1.01h-2.94zM227.1 126.95h5.83v1.01h-5.83zM97.0 127.91h2.94v1.01h-2.94zM183.8 127.91h5.83v1.01h-5.83zM198.2 127.91h5.83v1.01h-5.83zM39.2 128.88h2.94v1.01h-2.94zM76.8 128.88h2.94v1.01h-2.94zM137.5 128.88h2.94v1.01h-2.94zM125.9 129.84h2.94v1.01h-2.94zM154.9 129.84h5.83v1.01h-5.83zM166.4 129.84h2.94v1.01h-2.94zM209.8 129.84h5.83v1.01h-5.83zM218.4 129.84h2.94v1.01h-2.94zM169.3 130.80h5.83v1.01h-5.83zM166.4 131.76h5.83v1.01h-5.83zM175.1 131.76h2.94v1.01h-2.94zM192.4 131.76h2.94v1.01h-2.94zM241.6 131.76h2.94v1.01h-2.94zM232.9 133.69h5.83v1.01h-5.83zM241.6 133.69h2.94v1.01h-2.94zM247.4 133.69h2.94v1.01h-2.94zM59.5 134.65h5.83v1.01h-5.83zM108.6 134.65h5.83v1.01h-5.83zM183.8 134.65h5.83v1.01h-5.83zM206.9 134.65h2.94v1.01h-2.94zM120.2 135.61h2.94v1.01h-2.94zM131.7 135.61h2.94v1.01h-2.94zM204.0 135.61h2.94v1.01h-2.94zM282.0 135.61h5.83v1.01h-5.83zM290.7 135.61h2.94v1.01h-2.94zM65.2 136.57h2.94v1.01h-2.94zM117.3 136.57h2.94v1.01h-2.94zM123.1 136.57h5.83v1.01h-5.83zM175.1 136.57h2.94v1.01h-2.94zM73.9 137.54h2.94v1.01h-2.94zM134.6 137.54h2.94v1.01h-2.94zM59.5 138.50h2.94v1.01h-2.94zM117.3 138.50h11.61v1.01h-11.61zM157.7 138.50h2.94v1.01h-2.94zM45.0 139.46h2.94v1.01h-2.94zM65.2 139.46h2.94v1.01h-2.94zM152.0 139.46h2.94v1.01h-2.94zM169.3 139.46h2.94v1.01h-2.94zM175.1 139.46h2.94v1.01h-2.94zM241.6 139.46h5.83v1.01h-5.83zM59.5 140.43h2.94v1.01h-2.94zM152.0 140.43h2.94v1.01h-2.94zM125.9 141.39h2.94v1.01h-2.94zM152.0 141.39h2.94v1.01h-2.94zM99.9 142.35h5.83v1.01h-5.83zM111.5 142.35h2.94v1.01h-2.94zM59.5 143.31h5.83v1.01h-5.83zM59.5 144.28h2.94v1.01h-2.94zM154.9 144.28h5.83v1.01h-5.83zM198.2 144.28h2.94v1.01h-2.94zM71.0 146.20h8.72v1.01h-8.72zM284.9 147.16h2.94v1.01h-2.94zM290.7 147.16h2.94v1.01h-2.94zM50.8 148.12h2.94v1.01h-2.94zM73.9 148.12h2.94v1.01h-2.94zM131.7 148.12h2.94v1.01h-2.94zM157.7 148.12h2.94v1.01h-2.94zM157.7 149.09h2.94v1.01h-2.94zM178.0 149.09h2.94v1.01h-2.94zM50.8 150.05h2.94v1.01h-2.94zM82.6 150.05h5.83v1.01h-5.83zM47.9 151.01h2.94v1.01h-2.94zM76.8 151.01h2.94v1.01h-2.94zM157.7 151.01h2.94v1.01h-2.94zM85.5 151.98h2.94v1.01h-2.94zM183.8 151.98h5.83v1.01h-5.83zM195.3 151.98h2.94v1.01h-2.94zM45.0 152.94h2.94v1.01h-2.94zM73.9 152.94h2.94v1.01h-2.94zM105.7 152.94h2.94v1.01h-2.94zM244.5 152.94h2.94v1.01h-2.94zM244.5 153.90h5.83v1.01h-5.83zM183.8 154.86h2.94v1.01h-2.94zM241.6 154.86h8.72v1.01h-8.72zM114.4 155.82h2.94v1.01h-2.94zM33.5 156.79h2.94v1.01h-2.94zM198.2 156.79h2.94v1.01h-2.94zM241.6 156.79h2.94v1.01h-2.94zM247.4 156.79h2.94v1.01h-2.94zM186.7 158.71h2.94v1.01h-2.94zM235.8 158.71h2.94v1.01h-2.94zM244.5 158.71h5.83v1.01h-5.83zM198.2 159.68h5.83v1.01h-5.83zM215.6 159.68h2.94v1.01h-2.94zM287.8 159.68h2.94v1.01h-2.94zM235.8 160.64h2.94v1.01h-2.94zM131.7 161.60h2.94v1.01h-2.94zM192.4 161.60h5.83v1.01h-5.83zM282.0 161.60h5.83v1.01h-5.83zM128.8 162.56h2.94v1.01h-2.94zM290.7 162.56h2.94v1.01h-2.94zM235.8 163.53h2.94v1.01h-2.94zM244.5 163.53h5.83v1.01h-5.83zM94.2 165.45h2.94v1.01h-2.94zM209.8 165.45h2.94v1.01h-2.94zM215.6 165.45h2.94v1.01h-2.94zM180.9 166.41h2.94v1.01h-2.94zM212.7 166.41h2.94v1.01h-2.94zM244.5 166.41h5.83v1.01h-5.83zM68.1 167.38h2.94v1.01h-2.94zM183.8 167.38h5.83v1.01h-5.83zM235.8 167.38h2.94v1.01h-2.94zM120.2 169.30h2.94v1.01h-2.94zM221.3 169.30h2.94v1.01h-2.94zM235.8 169.30h2.94v1.01h-2.94zM282.0 169.30h2.94v1.01h-2.94zM290.7 169.30h2.94v1.01h-2.94zM232.9 170.26h2.94v1.01h-2.94zM128.8 171.23h2.94v1.01h-2.94zM50.8 172.19h2.94v1.01h-2.94zM166.4 172.19h2.94v1.01h-2.94zM172.2 172.19h2.94v1.01h-2.94zM186.7 172.19h2.94v1.01h-2.94zM232.9 172.19h5.83v1.01h-5.83zM192.4 173.15h2.94v1.01h-2.94zM128.8 174.11h2.94v1.01h-2.94zM209.8 174.11h2.94v1.01h-2.94zM212.7 175.07h2.94v1.01h-2.94zM235.8 176.04h2.94v1.01h-2.94z"/>
<path fill="#f07171" d="M30.6 61.50h5.83v1.01h-5.83zM42.1 61.50h2.94v1.01h-2.94zM47.9 61.50h8.72v1.01h-8.72zM76.8 61.50h2.94v1.01h-2.94zM85.5 61.50h8.72v1.01h-8.72zM97.0 61.50h2.94v1.01h-2.94zM108.6 61.50h2.94v1.01h-2.94zM117.3 61.50h2.94v1.01h-2.94zM123.1 61.50h5.83v1.01h-5.83zM143.3 61.50h5.83v1.01h-5.83zM152.0 61.50h5.83v1.01h-5.83zM166.4 61.50h2.94v1.01h-2.94zM172.2 61.50h2.94v1.01h-2.94zM178.0 61.50h2.94v1.01h-2.94zM186.7 61.50h23.17v1.01h-23.17zM215.6 61.50h2.94v1.01h-2.94zM224.2 61.50h2.94v1.01h-2.94zM230.0 61.50h2.94v1.01h-2.94zM241.6 61.50h2.94v1.01h-2.94zM253.1 61.50h2.94v1.01h-2.94zM258.9 61.50h5.83v1.01h-5.83zM282.0 61.50h2.94v1.01h-2.94zM36.3 62.46h2.94v1.01h-2.94zM50.8 62.46h5.83v1.01h-5.83zM62.4 62.46h2.94v1.01h-2.94zM82.6 62.46h2.94v1.01h-2.94zM128.8 62.46h2.94v1.01h-2.94zM134.6 62.46h2.94v1.01h-2.94zM152.0 62.46h5.83v1.01h-5.83zM160.6 62.46h2.94v1.01h-2.94zM178.0 62.46h2.94v1.01h-2.94zM189.5 62.46h2.94v1.01h-2.94zM195.3 62.46h5.83v1.01h-5.83zM206.9 62.46h5.83v1.01h-5.83zM215.6 62.46h5.83v1.01h-5.83zM224.2 62.46h5.83v1.01h-5.83zM244.5 62.46h2.94v1.01h-2.94zM250.2 62.46h2.94v1.01h-2.94zM267.6 62.46h2.94v1.01h-2.94zM276.3 62.46h2.94v1.01h-2.94zM284.9 62.46h2.94v1.01h-2.94zM290.7 62.46h2.94v1.01h-2.94zM42.1 63.42h2.94v1.01h-2.94zM47.9 63.42h5.83v1.01h-5.83zM56.6 63.42h2.94v1.01h-2.94zM65.2 63.42h2.94v1.01h-2.94zM71.0 63.42h2.94v1.01h-2.94zM88.4 63.42h2.94v1.01h-2.94zM94.2 63.42h2.94v1.01h-2.94zM102.8 63.42h2.94v1.01h-2.94zM114.4 63.42h2.94v1.01h-2.94zM120.2 63.42h5.83v1.01h-5.83zM134.6 63.42h2.94v1.01h-2.94zM140.4 63.42h2.94v1.01h-2.94zM152.0 63.42h2.94v1.01h-2.94zM166.4 63.42h2.94v1.01h-2.94zM175.1 63.42h5.83v1.01h-5.83zM189.5 63.42h8.72v1.01h-8.72zM204.0 63.42h2.94v1.01h-2.94zM212.7 63.42h2.94v1.01h-2.94zM230.0 63.42h11.61v1.01h-11.61zM244.5 63.42h5.83v1.01h-5.83zM261.8 63.42h2.94v1.01h-2.94zM273.4 63.42h2.94v1.01h-2.94zM279.1 63.42h5.83v1.01h-5.83zM39.2 64.39h2.94v1.01h-2.94zM76.8 64.39h11.61v1.01h-11.61zM105.7 64.39h5.83v1.01h-5.83zM198.2 64.39h5.83v1.01h-5.83zM209.8 64.39h2.94v1.01h-2.94zM215.6 64.39h2.94v1.01h-2.94zM244.5 64.39h5.83v1.01h-5.83zM267.6 64.39h2.94v1.01h-2.94zM279.1 64.39h2.94v1.01h-2.94zM290.7 64.39h2.94v1.01h-2.94zM50.8 65.35h5.83v1.01h-5.83zM68.1 65.35h5.83v1.01h-5.83zM232.9 65.35h2.94v1.01h-2.94zM71.0 66.31h2.94v1.01h-2.94zM91.3 66.31h2.94v1.01h-2.94zM108.6 66.31h5.83v1.01h-5.83zM146.2 66.31h2.94v1.01h-2.94zM192.4 66.31h2.94v1.01h-2.94zM235.8 66.31h2.94v1.01h-2.94zM157.7 67.28h2.94v1.01h-2.94zM53.7 68.24h2.94v1.01h-2.94zM282.0 68.24h2.94v1.01h-2.94zM157.7 69.20h2.94v1.01h-2.94zM166.4 69.20h5.83v1.01h-5.83zM183.8 69.20h2.94v1.01h-2.94zM209.8 69.20h2.94v1.01h-2.94zM73.9 70.16h2.94v1.01h-2.94zM152.0 70.16h2.94v1.01h-2.94zM39.2 71.12h2.94v1.01h-2.94zM50.8 71.12h2.94v1.01h-2.94zM111.5 71.12h2.94v1.01h-2.94zM215.6 71.12h2.94v1.01h-2.94zM140.4 72.09h2.94v1.01h-2.94zM166.4 72.09h2.94v1.01h-2.94zM284.9 72.09h2.94v1.01h-2.94zM24.8 73.05h2.94v1.01h-2.94zM71.0 73.05h2.94v1.01h-2.94zM79.7 73.05h8.72v1.01h-8.72zM140.4 73.05h2.94v1.01h-2.94zM117.3 74.01h5.83v1.01h-5.83zM131.7 74.01h2.94v1.01h-2.94zM143.3 74.01h2.94v1.01h-2.94zM149.1 74.01h2.94v1.01h-2.94zM166.4 74.01h2.94v1.01h-2.94zM175.1 74.01h2.94v1.01h-2.94zM201.1 74.01h2.94v1.01h-2.94zM47.9 74.97h5.83v1.01h-5.83zM79.7 74.97h8.72v1.01h-8.72zM134.6 74.97h2.94v1.01h-2.94zM152.0 74.97h2.94v1.01h-2.94zM105.7 75.94h2.94v1.01h-2.94zM178.0 75.94h2.94v1.01h-2.94zM186.7 75.94h2.94v1.01h-2.94zM102.8 76.90h2.94v1.01h-2.94zM128.8 76.90h2.94v1.01h-2.94zM169.3 76.90h2.94v1.01h-2.94zM175.1 76.90h2.94v1.01h-2.94zM201.1 76.90h2.94v1.01h-2.94zM241.6 76.90h2.94v1.01h-2.94zM68.1 77.86h5.83v1.01h-5.83zM99.9 77.86h2.94v1.01h-2.94zM105.7 77.86h2.94v1.01h-2.94zM143.3 77.86h2.94v1.01h-2.94zM183.8 77.86h2.94v1.01h-2.94zM105.7 78.83h5.83v1.01h-5.83zM287.8 78.83h5.83v1.01h-5.83zM79.7 79.79h5.83v1.01h-5.83zM125.9 79.79h2.94v1.01h-2.94zM154.9 79.79h2.94v1.01h-2.94zM241.6 79.79h2.94v1.01h-2.94zM114.4 80.75h2.94v1.01h-2.94zM128.8 80.75h2.94v1.01h-2.94zM284.9 80.75h2.94v1.01h-2.94zM53.7 81.71h2.94v1.01h-2.94zM105.7 81.71h8.72v1.01h-8.72zM157.7 81.71h2.94v1.01h-2.94zM172.2 81.71h2.94v1.01h-2.94zM45.0 82.67h2.94v1.01h-2.94zM134.6 82.67h5.83v1.01h-5.83zM152.0 82.67h2.94v1.01h-2.94zM264.7 82.67h2.94v1.01h-2.94zM120.2 83.64h5.83v1.01h-5.83zM152.0 83.64h2.94v1.01h-2.94zM33.5 84.60h2.94v1.01h-2.94zM45.0 84.60h2.94v1.01h-2.94zM50.8 84.60h2.94v1.01h-2.94zM134.6 84.60h2.94v1.01h-2.94zM154.9 84.60h2.94v1.01h-2.94zM172.2 84.60h5.83v1.01h-5.83zM114.4 85.56h2.94v1.01h-2.94zM134.6 85.56h2.94v1.01h-2.94zM140.4 85.56h2.94v1.01h-2.94zM172.2 85.56h2.94v1.01h-2.94zM287.8 85.56h5.83v1.01h-5.83zM47.9 86.53h2.94v1.01h-2.94zM65.2 86.53h2.94v1.01h-2.94zM128.8 86.53h2.94v1.01h-2.94zM143.3 86.53h8.72v1.01h-8.72zM65.2 87.49h2.94v1.01h-2.94zM94.2 87.49h2.94v1.01h-2.94zM114.4 87.49h5.83v1.01h-5.83zM123.1 87.49h5.83v1.01h-5.83zM134.6 87.49h2.94v1.01h-2.94zM140.4 87.49h2.94v1.01h-2.94zM42.1 88.45h8.72v1.01h-8.72zM56.6 88.45h2.94v1.01h-2.94zM73.9 88.45h2.94v1.01h-2.94zM108.6 88.45h5.83v1.01h-5.83zM117.3 88.45h2.94v1.01h-2.94zM123.1 88.45h2.94v1.01h-2.94zM131.7 88.45h2.94v1.01h-2.94zM175.1 88.45h2.94v1.01h-2.94zM117.3 89.41h2.94v1.01h-2.94zM143.3 89.41h5.83v1.01h-5.83zM154.9 89.41h2.94v1.01h-2.94zM290.7 89.41h2.94v1.01h-2.94zM114.4 90.38h2.94v1.01h-2.94zM131.7 90.38h2.94v1.01h-2.94zM50.8 91.34h2.94v1.01h-2.94zM108.6 91.34h5.83v1.01h-5.83zM47.9 92.30h2.94v1.01h-2.94zM53.7 92.30h8.72v1.01h-8.72zM82.6 92.30h8.72v1.01h-8.72zM143.3 92.30h2.94v1.01h-2.94zM154.9 92.30h2.94v1.01h-2.94zM24.8 93.26h2.94v1.01h-2.94zM102.8 93.26h2.94v1.01h-2.94zM108.6 93.26h5.83v1.01h-5.83zM131.7 93.26h5.83v1.01h-5.83zM157.7 93.26h2.94v1.01h-2.94zM180.9 93.26h2.94v1.01h-2.94zM241.6 93.26h2.94v1.01h-2.94zM79.7 94.22h2.94v1.01h-2.94zM88.4 94.22h2.94v1.01h-2.94zM128.8 94.22h2.94v1.01h-2.94zM53.7 95.19h8.72v1.01h-8.72zM114.4 95.19h2.94v1.01h-2.94zM123.1 95.19h2.94v1.01h-2.94zM166.4 95.19h5.83v1.01h-5.83zM47.9 96.15h5.83v1.01h-5.83zM157.7 96.15h2.94v1.01h-2.94zM166.4 96.15h5.83v1.01h-5.83zM206.9 96.15h2.94v1.01h-2.94zM212.7 96.15h5.83v1.01h-5.83zM53.7 97.11h5.83v1.01h-5.83zM172.2 97.11h5.83v1.01h-5.83zM189.5 97.11h2.94v1.01h-2.94zM195.3 97.11h5.83v1.01h-5.83zM204.0 97.11h2.94v1.01h-2.94zM33.5 98.08h2.94v1.01h-2.94zM47.9 98.08h2.94v1.01h-2.94zM172.2 98.08h2.94v1.01h-2.94zM221.3 98.08h2.94v1.01h-2.94zM172.2 99.04h5.83v1.01h-5.83zM198.2 99.04h2.94v1.01h-2.94zM209.8 99.04h5.83v1.01h-5.83zM232.9 99.04h2.94v1.01h-2.94zM282.0 99.04h5.83v1.01h-5.83zM157.7 100.00h2.94v1.01h-2.94zM172.2 100.00h5.83v1.01h-5.83zM195.3 100.00h2.94v1.01h-2.94zM241.6 100.00h2.94v1.01h-2.94zM282.0 100.00h11.61v1.01h-11.61zM68.1 100.96h5.83v1.01h-5.83zM169.3 100.96h2.94v1.01h-2.94zM183.8 100.96h5.83v1.01h-5.83zM53.7 101.93h2.94v1.01h-2.94zM88.4 101.93h2.94v1.01h-2.94zM157.7 101.93h2.94v1.01h-2.94zM172.2 101.93h2.94v1.01h-2.94zM212.7 101.93h5.83v1.01h-5.83zM290.7 101.93h2.94v1.01h-2.94zM128.8 102.89h2.94v1.01h-2.94zM172.2 102.89h5.83v1.01h-5.83zM189.5 102.89h5.83v1.01h-5.83zM232.9 102.89h2.94v1.01h-2.94zM267.6 102.89h8.72v1.01h-8.72zM212.7 103.85h2.94v1.01h-2.94zM232.9 104.81h5.83v1.01h-5.83zM279.1 104.81h2.94v1.01h-2.94zM284.9 104.81h2.94v1.01h-2.94zM36.3 105.78h2.94v1.01h-2.94zM47.9 105.78h5.83v1.01h-5.83zM56.6 105.78h2.94v1.01h-2.94zM71.0 105.78h2.94v1.01h-2.94zM128.8 105.78h2.94v1.01h-2.94zM169.3 105.78h2.94v1.01h-2.94zM241.6 105.78h2.94v1.01h-2.94zM247.4 105.78h2.94v1.01h-2.94zM276.3 105.78h2.94v1.01h-2.94zM282.0 105.78h2.94v1.01h-2.94zM88.4 106.74h2.94v1.01h-2.94zM131.7 106.74h2.94v1.01h-2.94zM152.0 106.74h2.94v1.01h-2.94zM166.4 106.74h2.94v1.01h-2.94zM206.9 106.74h2.94v1.01h-2.94zM218.4 106.74h2.94v1.01h-2.94zM232.9 106.74h5.83v1.01h-5.83zM128.8 107.70h5.83v1.01h-5.83zM221.3 107.70h2.94v1.01h-2.94zM131.7 108.66h2.94v1.01h-2.94zM166.4 108.66h2.94v1.01h-2.94zM189.5 108.66h5.83v1.01h-5.83zM212.7 108.66h11.61v1.01h-11.61zM284.9 108.66h2.94v1.01h-2.94zM172.2 109.62h5.83v1.01h-5.83zM212.7 109.62h5.83v1.01h-5.83zM123.1 110.59h2.94v1.01h-2.94zM166.4 110.59h2.94v1.01h-2.94zM56.6 111.55h2.94v1.01h-2.94zM111.5 111.55h2.94v1.01h-2.94zM172.2 111.55h5.83v1.01h-5.83zM235.8 111.55h2.94v1.01h-2.94zM198.2 112.51h5.83v1.01h-5.83zM232.9 112.51h2.94v1.01h-2.94zM33.5 113.47h2.94v1.01h-2.94zM88.4 113.47h5.83v1.01h-5.83zM108.6 113.47h5.83v1.01h-5.83zM206.9 113.47h2.94v1.01h-2.94zM241.6 113.47h2.94v1.01h-2.94zM247.4 113.47h2.94v1.01h-2.94zM47.9 114.44h5.83v1.01h-5.83zM76.8 114.44h2.94v1.01h-2.94zM172.2 114.44h5.83v1.01h-5.83zM183.8 115.40h5.83v1.01h-5.83zM198.2 115.40h5.83v1.01h-5.83zM284.9 115.40h2.94v1.01h-2.94zM47.9 116.36h5.83v1.01h-5.83zM68.1 116.36h2.94v1.01h-2.94zM152.0 117.33h2.94v1.01h-2.94zM50.8 118.29h2.94v1.01h-2.94zM154.9 118.29h2.94v1.01h-2.94zM186.7 118.29h2.94v1.01h-2.94zM235.8 118.29h2.94v1.01h-2.94zM79.7 119.25h2.94v1.01h-2.94zM102.8 119.25h2.94v1.01h-2.94zM128.8 119.25h2.94v1.01h-2.94zM198.2 119.25h5.83v1.01h-5.83zM287.8 119.25h2.94v1.01h-2.94zM45.0 120.21h8.72v1.01h-8.72zM140.4 120.21h2.94v1.01h-2.94zM227.1 120.21h5.83v1.01h-5.83zM88.4 121.18h2.94v1.01h-2.94zM97.0 121.18h2.94v1.01h-2.94zM131.7 121.18h2.94v1.01h-2.94zM276.3 121.18h2.94v1.01h-2.94zM53.7 122.14h2.94v1.01h-2.94zM68.1 122.14h2.94v1.01h-2.94zM76.8 122.14h2.94v1.01h-2.94zM71.0 123.10h2.94v1.01h-2.94zM178.0 123.10h2.94v1.01h-2.94zM276.3 123.10h2.94v1.01h-2.94zM76.8 124.06h2.94v1.01h-2.94zM94.2 124.06h5.83v1.01h-5.83zM91.3 125.03h2.94v1.01h-2.94zM128.8 125.03h5.83v1.01h-5.83zM232.9 125.03h5.83v1.01h-5.83zM71.0 125.99h8.72v1.01h-8.72zM218.4 125.99h5.83v1.01h-5.83zM97.0 126.95h2.94v1.01h-2.94zM287.8 127.91h5.83v1.01h-5.83zM91.3 128.88h2.94v1.01h-2.94zM154.9 128.88h2.94v1.01h-2.94zM282.0 128.88h2.94v1.01h-2.94zM33.5 129.84h2.94v1.01h-2.94zM198.2 129.84h5.83v1.01h-5.83zM227.1 129.84h5.83v1.01h-5.83zM114.4 130.80h2.94v1.01h-2.94zM166.4 130.80h2.94v1.01h-2.94zM111.5 131.76h2.94v1.01h-2.94zM154.9 131.76h2.94v1.01h-2.94zM172.2 131.76h2.94v1.01h-2.94zM183.8 131.76h2.94v1.01h-2.94zM247.4 131.76h2.94v1.01h-2.94zM287.8 131.76h5.83v1.01h-5.83zM45.0 133.69h5.83v1.01h-5.83zM128.8 133.69h2.94v1.01h-2.94zM131.7 134.65h2.94v1.01h-2.94zM282.0 134.65h5.83v1.01h-5.83zM36.3 135.61h5.83v1.01h-5.83zM114.4 135.61h2.94v1.01h-2.94zM59.5 136.57h5.83v1.01h-5.83zM152.0 136.57h2.94v1.01h-2.94zM166.4 136.57h5.83v1.01h-5.83zM290.7 136.57h2.94v1.01h-2.94zM36.3 137.54h8.72v1.01h-8.72zM62.4 137.54h2.94v1.01h-2.94zM68.1 137.54h5.83v1.01h-5.83zM76.8 137.54h2.94v1.01h-2.94zM137.5 137.54h2.94v1.01h-2.94zM287.8 138.50h2.94v1.01h-2.94zM50.8 139.46h2.94v1.01h-2.94zM157.7 140.43h2.94v1.01h-2.94zM166.4 140.43h2.94v1.01h-2.94zM117.3 141.39h8.72v1.01h-8.72zM65.2 142.35h2.94v1.01h-2.94zM68.1 143.31h2.94v1.01h-2.94zM154.9 143.31h5.83v1.01h-5.83zM36.3 145.24h2.94v1.01h-2.94zM152.0 145.24h8.72v1.01h-8.72zM172.2 146.20h5.83v1.01h-5.83zM154.9 147.16h5.83v1.01h-5.83zM175.1 147.16h2.94v1.01h-2.94zM45.0 148.12h2.94v1.01h-2.94zM71.0 149.09h2.94v1.01h-2.94zM131.7 149.09h2.94v1.01h-2.94zM180.9 149.09h2.94v1.01h-2.94zM241.6 149.09h2.94v1.01h-2.94zM131.7 150.05h2.94v1.01h-2.94zM45.0 151.01h2.94v1.01h-2.94zM128.8 151.01h2.94v1.01h-2.94zM154.9 151.01h2.94v1.01h-2.94zM79.7 151.98h5.83v1.01h-5.83zM152.0 151.98h2.94v1.01h-2.94zM189.5 151.98h2.94v1.01h-2.94zM47.9 152.94h2.94v1.01h-2.94zM76.8 152.94h2.94v1.01h-2.94zM154.9 152.94h2.94v1.01h-2.94zM284.9 152.94h2.94v1.01h-2.94zM186.7 154.86h2.94v1.01h-2.94zM232.9 154.86h5.83v1.01h-5.83zM76.8 155.82h2.94v1.01h-2.94zM73.9 156.79h5.83v1.01h-5.83zM232.9 156.79h5.83v1.01h-5.83zM209.8 159.68h2.94v1.01h-2.94zM290.7 159.68h2.94v1.01h-2.94zM244.5 160.64h2.94v1.01h-2.94zM279.1 161.60h2.94v1.01h-2.94zM33.5 162.56h2.94v1.01h-2.94zM287.8 162.56h2.94v1.01h-2.94zM232.9 163.53h2.94v1.01h-2.94zM241.6 163.53h2.94v1.01h-2.94zM287.8 164.49h5.83v1.01h-5.83zM201.1 165.45h2.94v1.01h-2.94zM235.8 165.45h2.94v1.01h-2.94zM189.5 166.41h2.94v1.01h-2.94zM209.8 166.41h2.94v1.01h-2.94zM215.6 166.41h2.94v1.01h-2.94zM94.2 167.38h5.83v1.01h-5.83zM232.9 167.38h2.94v1.01h-2.94zM232.9 168.34h2.94v1.01h-2.94zM131.7 169.30h2.94v1.01h-2.94zM232.9 169.30h2.94v1.01h-2.94zM287.8 169.30h2.94v1.01h-2.94zM71.0 170.26h2.94v1.01h-2.94zM47.9 172.19h2.94v1.01h-2.94zM88.4 172.19h5.83v1.01h-5.83zM94.2 173.15h2.94v1.01h-2.94zM290.7 173.15h2.94v1.01h-2.94zM169.3 174.11h2.94v1.01h-2.94zM180.9 175.07h2.94v1.01h-2.94zM88.4 176.04h2.94v1.01h-2.94z"/>
<path fill="#f26b5f" d="M36.3 61.50h2.94v1.01h-2.94zM56.6 61.50h2.94v1.01h-2.94zM62.4 61.50h14.50v1.01h-14.50zM79.7 61.50h5.83v1.01h-5.83zM94.2 61.50h2.94v1.01h-2.94zM102.8 61.50h5.83v1.01h-5.83zM111.5 61.50h5.83v1.01h-5.83zM120.2 61.50h2.94v1.01h-2.94zM131.7 61.50h2.94v1.01h-2.94zM137.5 61.50h5.83v1.01h-5.83zM157.7 61.50h8.72v1.01h-8.72zM169.3 61.50h2.94v1.01h-2.94zM175.1 61.50h2.94v1.01h-2.94zM180.9 61.50h5.83v1.01h-5.83zM212.7 61.50h2.94v1.01h-2.94zM218.4 61.50h5.83v1.01h-5.83zM227.1 61.50h2.94v1.01h-2.94zM232.9 61.50h8.72v1.01h-8.72zM244.5 61.50h2.94v1.01h-2.94zM250.2 61.50h2.94v1.01h-2.94zM256.0 61.50h2.94v1.01h-2.94zM267.6 61.50h14.50v1.01h-14.50zM284.9 61.50h8.72v1.01h-8.72zM42.1 62.46h5.83v1.01h-5.83zM68.1 62.46h2.94v1.01h-2.94zM73.9 62.46h2.94v1.01h-2.94zM79.7 62.46h2.94v1.01h-2.94zM91.3 62.46h2.94v1.01h-2.94zM97.0 62.46h11.61v1.01h-11.61zM111.5 62.46h5.83v1.01h-5.83zM123.1 62.46h5.83v1.01h-5.83zM137.5 62.46h14.50v1.01h-14.50zM163.5 62.46h2.94v1.01h-2.94zM169.3 62.46h8.72v1.01h-8.72zM183.8 62.46h5.83v1.01h-5.83zM192.4 62.46h2.94v1.01h-2.94zM204.0 62.46h2.94v1.01h-2.94zM221.3 62.46h2.94v1.01h-2.94zM235.8 62.46h8.72v1.01h-8.72zM247.4 62.46h2.94v1.01h-2.94zM256.0 62.46h2.94v1.01h-2.94zM261.8 62.46h2.94v1.01h-2.94zM270.5 62.46h5.83v1.01h-5.83zM279.1 62.46h2.94v1.01h-2.94zM287.8 62.46h2.94v1.01h-2.94zM30.6 63.42h5.83v1.01h-5.83zM39.2 63.42h2.94v1.01h-2.94zM45.0 63.42h2.94v1.01h-2.94zM53.7 63.42h2.94v1.01h-2.94zM59.5 63.42h5.83v1.01h-5.83zM68.1 63.42h2.94v1.01h-2.94zM73.9 63.42h14.50v1.01h-14.50zM91.3 63.42h2.94v1.01h-2.94zM97.0 63.42h5.83v1.01h-5.83zM105.7 63.42h8.72v1.01h-8.72zM117.3 63.42h2.94v1.01h-2.94zM125.9 63.42h8.72v1.01h-8.72zM137.5 63.42h2.94v1.01h-2.94zM143.3 63.42h8.72v1.01h-8.72zM154.9 63.42h11.61v1.01h-11.61zM169.3 63.42h5.83v1.01h-5.83zM180.9 63.42h8.72v1.01h-8.72zM198.2 63.42h5.83v1.01h-5.83zM215.6 63.42h14.50v1.01h-14.50zM241.6 63.42h2.94v1.01h-2.94zM250.2 63.42h2.94v1.01h-2.94zM256.0 63.42h2.94v1.01h-2.94zM264.7 63.42h8.72v1.01h-8.72zM276.3 63.42h2.94v1.01h-2.94zM287.8 63.42h5.83v1.01h-5.83zM36.3 64.39h2.94v1.01h-2.94zM42.1 64.39h2.94v1.01h-2.94zM68.1 64.39h2.94v1.01h-2.94zM73.9 64.39h2.94v1.01h-2.94zM88.4 64.39h2.94v1.01h-2.94zM114.4 64.39h2.94v1.01h-2.94zM131.7 64.39h5.83v1.01h-5.83zM140.4 64.39h2.94v1.01h-2.94zM241.6 64.39h2.94v1.01h-2.94zM270.5 64.39h2.94v1.01h-2.94zM45.0 65.35h5.83v1.01h-5.83zM56.6 65.35h8.72v1.01h-8.72zM131.7 65.35h2.94v1.01h-2.94zM140.4 65.35h2.94v1.01h-2.94zM160.6 65.35h2.94v1.01h-2.94zM235.8 65.35h2.94v1.01h-2.94zM53.7 66.31h11.61v1.01h-11.61zM68.1 66.31h2.94v1.01h-2.94zM76.8 66.31h2.94v1.01h-2.94zM102.8 66.31h5.83v1.01h-5.83zM152.0 66.31h2.94v1.01h-2.94zM189.5 66.31h2.94v1.01h-2.94zM232.9 66.31h2.94v1.01h-2.94zM88.4 67.28h2.94v1.01h-2.94zM134.6 67.28h8.72v1.01h-8.72zM290.7 67.28h2.94v1.01h-2.94zM114.4 68.24h2.94v1.01h-2.94zM123.1 68.24h5.83v1.01h-5.83zM152.0 68.24h2.94v1.01h-2.94zM172.2 68.24h5.83v1.01h-5.83zM36.3 69.20h2.94v1.01h-2.94zM172.2 69.20h5.83v1.01h-5.83zM212.7 69.20h8.72v1.01h-8.72zM175.1 70.16h2.94v1.01h-2.94zM287.8 70.16h2.94v1.01h-2.94zM134.6 71.12h2.94v1.01h-2.94zM183.8 71.12h2.94v1.01h-2.94zM279.1 71.12h2.94v1.01h-2.94zM27.7 72.09h5.83v1.01h-5.83zM53.7 72.09h5.83v1.01h-5.83zM125.9 72.09h2.94v1.01h-2.94zM172.2 72.09h5.83v1.01h-5.83zM270.5 72.09h2.94v1.01h-2.94zM276.3 72.09h2.94v1.01h-2.94zM59.5 73.05h5.83v1.01h-5.83zM99.9 73.05h2.94v1.01h-2.94zM241.6 73.05h8.72v1.01h-8.72zM59.5 74.01h5.83v1.01h-5.83zM68.1 74.01h2.94v1.01h-2.94zM99.9 74.01h5.83v1.01h-5.83zM146.2 74.01h2.94v1.01h-2.94zM241.6 74.01h8.72v1.01h-8.72zM73.9 74.97h2.94v1.01h-2.94zM282.0 74.97h5.83v1.01h-5.83zM53.7 75.94h2.94v1.01h-2.94zM73.9 75.94h5.83v1.01h-5.83zM114.4 75.94h2.94v1.01h-2.94zM149.1 75.94h2.94v1.01h-2.94zM180.9 75.94h5.83v1.01h-5.83zM198.2 75.94h5.83v1.01h-5.83zM71.0 76.90h2.94v1.01h-2.94zM125.9 76.90h2.94v1.01h-2.94zM149.1 76.90h2.94v1.01h-2.94zM166.4 76.90h2.94v1.01h-2.94zM172.2 76.90h2.94v1.01h-2.94zM198.2 76.90h2.94v1.01h-2.94zM244.5 76.90h5.83v1.01h-5.83zM146.2 77.86h2.94v1.01h-2.94zM79.7 78.83h2.94v1.01h-2.94zM85.5 78.83h2.94v1.01h-2.94zM45.0 79.79h2.94v1.01h-2.94zM50.8 79.79h2.94v1.01h-2.94zM123.1 79.79h2.94v1.01h-2.94zM152.0 79.79h2.94v1.01h-2.94zM157.7 79.79h2.94v1.01h-2.94zM247.4 79.79h2.94v1.01h-2.94zM290.7 79.79h2.94v1.01h-2.94zM125.9 80.75h2.94v1.01h-2.94zM282.0 80.75h2.94v1.01h-2.94zM56.6 81.71h2.94v1.01h-2.94zM82.6 81.71h2.94v1.01h-2.94zM146.2 81.71h2.94v1.01h-2.94zM244.5 81.71h2.94v1.01h-2.94zM128.8 82.67h2.94v1.01h-2.94zM175.1 82.67h2.94v1.01h-2.94zM125.9 83.64h2.94v1.01h-2.94zM157.7 83.64h2.94v1.01h-2.94zM244.5 83.64h2.94v1.01h-2.94zM290.7 83.64h2.94v1.01h-2.94zM128.8 84.60h2.94v1.01h-2.94zM189.5 84.60h5.83v1.01h-5.83zM287.8 84.60h5.83v1.01h-5.83zM137.5 85.56h2.94v1.01h-2.94zM175.1 85.56h2.94v1.01h-2.94zM71.0 86.53h2.94v1.01h-2.94zM114.4 86.53h2.94v1.01h-2.94zM120.2 86.53h5.83v1.01h-5.83zM279.1 86.53h2.94v1.01h-2.94zM88.4 87.49h2.94v1.01h-2.94zM137.5 87.49h2.94v1.01h-2.94zM36.3 88.45h2.94v1.01h-2.94zM53.7 88.45h2.94v1.01h-2.94zM59.5 88.45h5.83v1.01h-5.83zM82.6 88.45h8.72v1.01h-8.72zM105.7 88.45h2.94v1.01h-2.94zM120.2 88.45h2.94v1.01h-2.94zM125.9 88.45h2.94v1.01h-2.94zM172.2 88.45h2.94v1.01h-2.94zM290.7 88.45h2.94v1.01h-2.94zM68.1 89.41h5.83v1.01h-5.83zM149.1 89.41h2.94v1.01h-2.94zM287.8 89.41h2.94v1.01h-2.94zM27.7 90.38h5.83v1.01h-5.83zM65.2 90.38h2.94v1.01h-2.94zM71.0 90.38h2.94v1.01h-2.94zM137.5 90.38h5.83v1.01h-5.83zM152.0 90.38h2.94v1.01h-2.94zM178.0 90.38h5.83v1.01h-5.83zM45.0 91.34h5.83v1.01h-5.83zM76.8 91.34h2.94v1.01h-2.94zM105.7 91.34h2.94v1.01h-2.94zM131.7 91.34h5.83v1.01h-5.83zM178.0 91.34h5.83v1.01h-5.83zM45.0 92.30h2.94v1.01h-2.94zM50.8 92.30h2.94v1.01h-2.94zM117.3 92.30h5.83v1.01h-5.83zM125.9 92.30h2.94v1.01h-2.94zM146.2 92.30h5.83v1.01h-5.83zM157.7 92.30h2.94v1.01h-2.94zM189.5 92.30h2.94v1.01h-2.94zM195.3 92.30h2.94v1.01h-2.94zM65.2 93.26h2.94v1.01h-2.94zM88.4 93.26h2.94v1.01h-2.94zM137.5 93.26h5.83v1.01h-5.83zM244.5 93.26h2.94v1.01h-2.94zM85.5 94.22h2.94v1.01h-2.94zM111.5 94.22h2.94v1.01h-2.94zM62.4 95.19h2.94v1.01h-2.94zM117.3 95.19h5.83v1.01h-5.83zM125.9 95.19h2.94v1.01h-2.94zM143.3 95.19h2.94v1.01h-2.94zM149.1 95.19h2.94v1.01h-2.94zM157.7 95.19h2.94v1.01h-2.94zM172.2 95.19h2.94v1.01h-2.94zM209.8 96.15h2.94v1.01h-2.94zM218.4 96.15h5.83v1.01h-5.83zM273.4 96.15h5.83v1.01h-5.83zM201.1 97.11h2.94v1.01h-2.94zM206.9 97.11h2.94v1.01h-2.94zM238.7 97.11h2.94v1.01h-2.94zM45.0 98.08h2.94v1.01h-2.94zM232.9 98.08h2.94v1.01h-2.94zM45.0 99.04h8.72v1.01h-8.72zM68.1 99.04h5.83v1.01h-5.83zM71.0 100.00h2.94v1.01h-2.94zM244.5 100.00h2.94v1.01h-2.94zM273.4 100.00h2.94v1.01h-2.94zM166.4 100.96h2.94v1.01h-2.94zM189.5 100.96h5.83v1.01h-5.83zM33.5 101.93h2.94v1.01h-2.94zM175.1 101.93h2.94v1.01h-2.94zM256.0 101.93h2.94v1.01h-2.94zM282.0 101.93h8.72v1.01h-8.72zM88.4 102.89h2.94v1.01h-2.94zM180.9 102.89h2.94v1.01h-2.94zM195.3 102.89h2.94v1.01h-2.94zM36.3 103.85h2.94v1.01h-2.94zM73.9 103.85h5.83v1.01h-5.83zM215.6 103.85h2.94v1.01h-2.94zM53.7 104.81h5.83v1.01h-5.83zM131.7 104.81h2.94v1.01h-2.94zM172.2 104.81h5.83v1.01h-5.83zM282.0 104.81h2.94v1.01h-2.94zM287.8 104.81h2.94v1.01h-2.94zM45.0 105.78h2.94v1.01h-2.94zM53.7 105.78h2.94v1.01h-2.94zM267.6 105.78h2.94v1.01h-2.94zM284.9 105.78h5.83v1.01h-5.83zM169.3 106.74h2.94v1.01h-2.94zM204.0 106.74h2.94v1.01h-2.94zM282.0 106.74h11.61v1.01h-11.61zM45.0 107.70h8.72v1.01h-8.72zM189.5 107.70h11.61v1.01h-11.61zM209.8 107.70h8.72v1.01h-8.72zM232.9 107.70h5.83v1.01h-5.83zM169.3 108.66h2.94v1.01h-2.94zM209.8 109.62h2.94v1.01h-2.94zM218.4 109.62h2.94v1.01h-2.94zM235.8 109.62h2.94v1.01h-2.94zM33.5 110.59h2.94v1.01h-2.94zM169.3 110.59h2.94v1.01h-2.94zM218.4 110.59h5.83v1.01h-5.83zM241.6 110.59h8.72v1.01h-8.72zM287.8 111.55h2.94v1.01h-2.94zM108.6 112.51h5.83v1.01h-5.83zM206.9 112.51h2.94v1.01h-2.94zM235.8 112.51h2.94v1.01h-2.94zM27.7 113.47h5.83v1.01h-5.83zM212.7 113.47h11.61v1.01h-11.61zM244.5 113.47h2.94v1.01h-2.94zM279.1 113.47h2.94v1.01h-2.94zM166.4 114.44h5.83v1.01h-5.83zM218.4 114.44h5.83v1.01h-5.83zM227.1 114.44h2.94v1.01h-2.94zM241.6 114.44h5.83v1.01h-5.83zM287.8 115.40h5.83v1.01h-5.83zM120.2 116.36h2.94v1.01h-2.94zM180.9 116.36h2.94v1.01h-2.94zM195.3 117.33h2.94v1.01h-2.94zM204.0 118.29h5.83v1.01h-5.83zM45.0 119.25h2.94v1.01h-2.94zM73.9 119.25h2.94v1.01h-2.94zM88.4 119.25h2.94v1.01h-2.94zM131.7 119.25h2.94v1.01h-2.94zM227.1 119.25h5.83v1.01h-5.83zM91.3 120.21h2.94v1.01h-2.94zM131.7 120.21h2.94v1.01h-2.94zM152.0 120.21h2.94v1.01h-2.94zM183.8 120.21h5.83v1.01h-5.83zM279.1 120.21h2.94v1.01h-2.94zM290.7 120.21h2.94v1.01h-2.94zM50.8 121.18h2.94v1.01h-2.94zM68.1 121.18h5.83v1.01h-5.83zM94.2 121.18h2.94v1.01h-2.94zM241.6 121.18h8.72v1.01h-8.72zM273.4 121.18h2.94v1.01h-2.94zM56.6 122.14h8.72v1.01h-8.72zM71.0 122.14h2.94v1.01h-2.94zM149.1 122.14h2.94v1.01h-2.94zM131.7 123.10h2.94v1.01h-2.94zM273.4 123.10h2.94v1.01h-2.94zM284.9 123.10h2.94v1.01h-2.94zM73.9 124.06h2.94v1.01h-2.94zM235.8 124.06h2.94v1.01h-2.94zM91.3 126.95h5.83v1.01h-5.83zM140.4 128.88h2.94v1.01h-2.94zM157.7 128.88h2.94v1.01h-2.94zM183.8 128.88h5.83v1.01h-5.83zM152.0 129.84h2.94v1.01h-2.94zM36.3 130.80h8.72v1.01h-8.72zM65.2 131.76h2.94v1.01h-2.94zM108.6 131.76h2.94v1.01h-2.94zM244.5 131.76h2.94v1.01h-2.94zM33.5 132.73h2.94v1.01h-2.94zM131.7 132.73h2.94v1.01h-2.94zM282.0 132.73h5.83v1.01h-5.83zM50.8 133.69h2.94v1.01h-2.94zM123.1 133.69h5.83v1.01h-5.83zM290.7 134.65h2.94v1.01h-2.94zM45.0 135.61h5.83v1.01h-5.83zM152.0 135.61h2.94v1.01h-2.94zM279.1 135.61h2.94v1.01h-2.94zM114.4 136.57h2.94v1.01h-2.94zM172.2 136.57h2.94v1.01h-2.94zM287.8 136.57h2.94v1.01h-2.94zM59.5 137.54h2.94v1.01h-2.94zM287.8 137.54h5.83v1.01h-5.83zM65.2 138.50h2.94v1.01h-2.94zM290.7 138.50h2.94v1.01h-2.94zM47.9 139.46h2.94v1.01h-2.94zM117.3 139.46h11.61v1.01h-11.61zM247.4 139.46h2.94v1.01h-2.94zM62.4 140.43h2.94v1.01h-2.94zM169.3 140.43h2.94v1.01h-2.94zM175.1 140.43h2.94v1.01h-2.94zM105.7 142.35h2.94v1.01h-2.94zM284.9 142.35h2.94v1.01h-2.94zM290.7 142.35h2.94v1.01h-2.94zM71.0 143.31h2.94v1.01h-2.94zM172.2 147.16h2.94v1.01h-2.94zM287.8 147.16h2.94v1.01h-2.94zM47.9 148.12h2.94v1.01h-2.94zM178.0 148.12h5.83v1.01h-5.83zM68.1 149.09h2.94v1.01h-2.94zM128.8 150.05h2.94v1.01h-2.94zM157.7 152.94h2.94v1.01h-2.94zM282.0 152.94h2.94v1.01h-2.94zM201.1 154.86h2.94v1.01h-2.94zM247.4 155.82h2.94v1.01h-2.94zM206.9 156.79h2.94v1.01h-2.94zM244.5 156.79h2.94v1.01h-2.94zM232.9 157.75h5.83v1.01h-5.83zM212.7 159.68h2.94v1.01h-2.94zM224.2 159.68h2.94v1.01h-2.94zM287.8 160.64h5.83v1.01h-5.83zM128.8 161.60h2.94v1.01h-2.94zM131.7 162.56h2.94v1.01h-2.94zM287.8 163.53h5.83v1.01h-5.83zM76.8 164.49h2.94v1.01h-2.94zM198.2 165.45h2.94v1.01h-2.94zM212.7 165.45h2.94v1.01h-2.94zM232.9 165.45h2.94v1.01h-2.94zM178.0 166.41h2.94v1.01h-2.94zM195.3 166.41h2.94v1.01h-2.94zM235.8 168.34h2.94v1.01h-2.94zM68.1 170.26h2.94v1.01h-2.94zM73.9 170.26h2.94v1.01h-2.94zM198.2 170.26h5.83v1.01h-5.83zM97.0 173.15h2.94v1.01h-2.94zM287.8 173.15h2.94v1.01h-2.94zM166.4 174.11h2.94v1.01h-2.94zM172.2 174.11h5.83v1.01h-5.83zM94.2 175.07h5.83v1.01h-5.83zM178.0 175.07h2.94v1.01h-2.94zM192.4 175.07h5.83v1.01h-5.83zM91.3 176.04h2.94v1.01h-2.94z"/>
<path fill="#f4644e" d="M45.0 61.50h2.94v1.01h-2.94zM59.5 61.50h2.94v1.01h-2.94zM99.9 61.50h2.94v1.01h-2.94zM149.1 61.50h2.94v1.01h-2.94zM264.7 61.50h2.94v1.01h-2.94zM27.7 62.46h8.72v1.01h-8.72zM47.9 62.46h2.94v1.01h-2.94zM56.6 62.46h5.83v1.01h-5.83zM71.0 62.46h2.94v1.01h-2.94zM76.8 62.46h2.94v1.01h-2.94zM85.5 62.46h2.94v1.01h-2.94zM94.2 62.46h2.94v1.01h-2.94zM108.6 62.46h2.94v1.01h-2.94zM117.3 62.46h5.83v1.01h-5.83zM131.7 62.46h2.94v1.01h-2.94zM166.4 62.46h2.94v1.01h-2.94zM180.9 62.46h2.94v1.01h-2.94zM201.1 62.46h2.94v1.01h-2.94zM212.7 62.46h2.94v1.01h-2.94zM230.0 62.46h5.83v1.01h-5.83zM253.1 62.46h2.94v1.01h-2.94zM264.7 62.46h2.94v1.01h-2.94zM282.0 62.46h2.94v1.01h-2.94zM27.7 63.42h2.94v1.01h-2.94zM36.3 63.42h2.94v1.01h-2.94zM206.9 63.42h5.83v1.01h-5.83zM258.9 63.42h2.94v1.01h-2.94zM24.8 64.39h8.72v1.01h-8.72zM45.0 64.39h23.17v1.01h-23.17zM71.0 64.39h2.94v1.01h-2.94zM117.3 64.39h14.50v1.01h-14.50zM137.5 64.39h2.94v1.01h-2.94zM143.3 64.39h23.17v1.01h-23.17zM256.0 64.39h11.61v1.01h-11.61zM19.0 65.35h14.50v1.01h-14.50zM65.2 65.35h2.94v1.01h-2.94zM105.7 65.35h11.61v1.01h-11.61zM134.6 65.35h5.83v1.01h-5.83zM143.3 65.35h17.39v1.01h-17.39zM163.5 65.35h14.50v1.01h-14.50zM241.6 65.35h8.72v1.01h-8.72zM267.6 65.35h5.83v1.01h-5.83zM279.1 65.35h2.94v1.01h-2.94zM24.8 66.31h2.94v1.01h-2.94zM45.0 66.31h8.72v1.01h-8.72zM65.2 66.31h2.94v1.01h-2.94zM73.9 66.31h2.94v1.01h-2.94zM79.7 66.31h11.61v1.01h-11.61zM99.9 66.31h2.94v1.01h-2.94zM114.4 66.31h28.96v1.01h-28.96zM154.9 66.31h11.61v1.01h-11.61zM178.0 66.31h11.61v1.01h-11.61zM195.3 66.31h2.94v1.01h-2.94zM241.6 66.31h8.72v1.01h-8.72zM256.0 66.31h11.61v1.01h-11.61zM114.4 67.28h2.94v1.01h-2.94zM152.0 67.28h2.94v1.01h-2.94zM166.4 67.28h23.17v1.01h-23.17zM287.8 67.28h2.94v1.01h-2.94zM39.2 68.24h14.50v1.01h-14.50zM117.3 68.24h5.83v1.01h-5.83zM134.6 68.24h8.72v1.01h-8.72zM287.8 68.24h5.83v1.01h-5.83zM39.2 69.20h14.50v1.01h-14.50zM117.3 69.20h11.61v1.01h-11.61zM152.0 69.20h5.83v1.01h-5.83zM221.3 69.20h2.94v1.01h-2.94zM114.4 70.16h2.94v1.01h-2.94zM154.9 70.16h5.83v1.01h-5.83zM290.7 70.16h2.94v1.01h-2.94zM108.6 71.12h2.94v1.01h-2.94zM114.4 71.12h14.50v1.01h-14.50zM137.5 71.12h2.94v1.01h-2.94zM152.0 71.12h8.72v1.01h-8.72zM166.4 71.12h17.39v1.01h-17.39zM186.7 71.12h2.94v1.01h-2.94zM33.5 72.09h2.94v1.01h-2.94zM45.0 72.09h8.72v1.01h-8.72zM117.3 72.09h8.72v1.01h-8.72zM152.0 72.09h8.72v1.01h-8.72zM267.6 72.09h2.94v1.01h-2.94zM273.4 72.09h2.94v1.01h-2.94zM279.1 72.09h2.94v1.01h-2.94zM287.8 72.09h5.83v1.01h-5.83zM45.0 73.05h14.50v1.01h-14.50zM73.9 73.05h5.83v1.01h-5.83zM102.8 73.05h2.94v1.01h-2.94zM117.3 73.05h17.39v1.01h-17.39zM154.9 73.05h5.83v1.01h-5.83zM166.4 73.05h11.61v1.01h-11.61zM267.6 73.05h5.83v1.01h-5.83zM279.1 73.05h2.94v1.01h-2.94zM287.8 73.05h5.83v1.01h-5.83zM45.0 74.01h14.50v1.01h-14.50zM71.0 74.01h8.72v1.01h-8.72zM152.0 74.01h2.94v1.01h-2.94zM178.0 74.01h11.61v1.01h-11.61zM45.0 74.97h2.94v1.01h-2.94zM76.8 74.97h2.94v1.01h-2.94zM105.7 74.97h2.94v1.01h-2.94zM114.4 74.97h20.28v1.01h-20.28zM154.9 74.97h5.83v1.01h-5.83zM287.8 74.97h5.83v1.01h-5.83zM45.0 75.94h8.72v1.01h-8.72zM79.7 75.94h11.61v1.01h-11.61zM99.9 75.94h5.83v1.01h-5.83zM117.3 75.94h31.85v1.01h-31.85zM152.0 75.94h8.72v1.01h-8.72zM241.6 75.94h8.72v1.01h-8.72zM282.0 75.94h11.61v1.01h-11.61zM24.8 76.90h2.94v1.01h-2.94zM45.0 76.90h8.72v1.01h-8.72zM68.1 76.90h2.94v1.01h-2.94zM73.9 76.90h17.39v1.01h-17.39zM99.9 76.90h2.94v1.01h-2.94zM117.3 76.90h5.83v1.01h-5.83zM131.7 76.90h2.94v1.01h-2.94zM143.3 76.90h5.83v1.01h-5.83zM152.0 76.90h8.72v1.01h-8.72zM178.0 76.90h11.61v1.01h-11.61zM73.9 77.86h17.39v1.01h-17.39zM114.4 77.86h2.94v1.01h-2.94zM131.7 77.86h11.61v1.01h-11.61zM152.0 77.86h8.72v1.01h-8.72zM82.6 78.83h2.94v1.01h-2.94zM114.4 78.83h17.39v1.01h-17.39zM47.9 79.79h2.94v1.01h-2.94zM117.3 79.79h5.83v1.01h-5.83zM117.3 80.75h8.72v1.01h-8.72zM131.7 80.75h2.94v1.01h-2.94zM154.9 80.75h5.83v1.01h-5.83zM183.8 80.75h5.83v1.01h-5.83zM287.8 80.75h5.83v1.01h-5.83zM45.0 81.71h8.72v1.01h-8.72zM79.7 81.71h2.94v1.01h-2.94zM85.5 81.71h2.94v1.01h-2.94zM114.4 81.71h2.94v1.01h-2.94zM143.3 81.71h2.94v1.01h-2.94zM149.1 81.71h5.83v1.01h-5.83zM183.8 81.71h5.83v1.01h-5.83zM241.6 81.71h2.94v1.01h-2.94zM247.4 81.71h2.94v1.01h-2.94zM287.8 81.71h5.83v1.01h-5.83zM53.7 82.67h5.83v1.01h-5.83zM79.7 82.67h8.72v1.01h-8.72zM117.3 82.67h11.61v1.01h-11.61zM131.7 82.67h2.94v1.01h-2.94zM172.2 82.67h2.94v1.01h-2.94zM287.8 82.67h5.83v1.01h-5.83zM45.0 83.64h14.50v1.01h-14.50zM114.4 83.64h2.94v1.01h-2.94zM241.6 83.64h2.94v1.01h-2.94zM247.4 83.64h2.94v1.01h-2.94zM287.8 83.64h2.94v1.01h-2.94zM114.4 84.60h14.50v1.01h-14.50zM131.7 84.60h2.94v1.01h-2.94zM140.4 84.60h14.50v1.01h-14.50zM178.0 84.60h11.61v1.01h-11.61zM195.3 84.60h2.94v1.01h-2.94zM117.3 85.56h17.39v1.01h-17.39zM152.0 85.56h8.72v1.01h-8.72zM53.7 86.53h11.61v1.01h-11.61zM68.1 86.53h2.94v1.01h-2.94zM73.9 86.53h17.39v1.01h-17.39zM117.3 86.53h2.94v1.01h-2.94zM125.9 86.53h2.94v1.01h-2.94zM152.0 86.53h8.72v1.01h-8.72zM45.0 87.49h20.28v1.01h-20.28zM68.1 87.49h20.28v1.01h-20.28zM99.9 87.49h5.83v1.01h-5.83zM131.7 87.49h2.94v1.01h-2.94zM152.0 87.49h2.94v1.01h-2.94zM79.7 88.45h2.94v1.01h-2.94zM114.4 88.45h2.94v1.01h-2.94zM152.0 88.45h2.94v1.01h-2.94zM287.8 88.45h2.94v1.01h-2.94zM73.9 89.41h17.39v1.01h-17.39zM114.4 89.41h2.94v1.01h-2.94zM131.7 89.41h2.94v1.01h-2.94zM152.0 89.41h2.94v1.01h-2.94zM166.4 89.41h11.61v1.01h-11.61zM33.5 90.38h2.94v1.01h-2.94zM45.0 90.38h20.28v1.01h-20.28zM68.1 90.38h2.94v1.01h-2.94zM73.9 90.38h17.39v1.01h-17.39zM134.6 90.38h2.94v1.01h-2.94zM154.9 90.38h5.83v1.01h-5.83zM166.4 90.38h11.61v1.01h-11.61zM53.7 91.34h14.50v1.01h-14.50zM73.9 91.34h2.94v1.01h-2.94zM99.9 91.34h5.83v1.01h-5.83zM114.4 91.34h2.94v1.01h-2.94zM137.5 91.34h5.83v1.01h-5.83zM152.0 91.34h2.94v1.01h-2.94zM166.4 91.34h11.61v1.01h-11.61zM99.9 92.30h17.39v1.01h-17.39zM152.0 92.30h2.94v1.01h-2.94zM166.4 92.30h17.39v1.01h-17.39zM192.4 92.30h2.94v1.01h-2.94zM45.0 93.26h8.72v1.01h-8.72zM68.1 93.26h20.28v1.01h-20.28zM105.7 93.26h2.94v1.01h-2.94zM114.4 93.26h2.94v1.01h-2.94zM45.0 94.22h20.28v1.01h-20.28zM82.6 94.22h2.94v1.01h-2.94zM99.9 94.22h11.61v1.01h-11.61zM114.4 94.22h14.50v1.01h-14.50zM154.9 94.22h5.83v1.01h-5.83zM166.4 94.22h11.61v1.01h-11.61zM65.2 95.19h26.06v1.01h-26.06zM99.9 95.19h5.83v1.01h-5.83zM146.2 95.19h2.94v1.01h-2.94zM152.0 95.19h2.94v1.01h-2.94zM178.0 95.19h5.83v1.01h-5.83zM53.7 96.15h5.83v1.01h-5.83zM152.0 96.15h2.94v1.01h-2.94zM232.9 96.15h5.83v1.01h-5.83zM241.6 96.15h8.72v1.01h-8.72zM279.1 96.15h14.50v1.01h-14.50zM166.4 97.11h5.83v1.01h-5.83zM209.8 97.11h14.50v1.01h-14.50zM232.9 97.11h5.83v1.01h-5.83zM282.0 97.11h11.61v1.01h-11.61zM50.8 98.08h8.72v1.01h-8.72zM131.7 98.08h11.61v1.01h-11.61zM166.4 98.08h5.83v1.01h-5.83zM175.1 98.08h2.94v1.01h-2.94zM198.2 98.08h11.61v1.01h-11.61zM235.8 98.08h2.94v1.01h-2.94zM241.6 98.08h8.72v1.01h-8.72zM53.7 99.04h5.83v1.01h-5.83zM128.8 99.04h5.83v1.01h-5.83zM166.4 99.04h5.83v1.01h-5.83zM178.0 99.04h20.28v1.01h-20.28zM241.6 99.04h8.72v1.01h-8.72zM273.4 99.04h8.72v1.01h-8.72zM68.1 100.00h2.94v1.01h-2.94zM128.8 100.00h2.94v1.01h-2.94zM166.4 100.00h5.83v1.01h-5.83zM209.8 100.00h14.50v1.01h-14.50zM232.9 100.00h5.83v1.01h-5.83zM276.3 100.00h5.83v1.01h-5.83zM131.7 100.96h2.94v1.01h-2.94zM195.3 100.96h2.94v1.01h-2.94zM232.9 100.96h5.83v1.01h-5.83zM273.4 100.96h20.28v1.01h-20.28zM128.8 101.93h2.94v1.01h-2.94zM178.0 101.93h20.28v1.01h-20.28zM241.6 101.93h8.72v1.01h-8.72zM258.9 101.93h8.72v1.01h-8.72zM53.7 102.89h5.83v1.01h-5.83zM131.7 102.89h2.94v1.01h-2.94zM178.0 102.89h2.94v1.01h-2.94zM204.0 102.89h5.83v1.01h-5.83zM235.8 102.89h2.94v1.01h-2.94zM241.6 102.89h8.72v1.01h-8.72zM279.1 102.89h14.50v1.01h-14.50zM45.0 103.85h14.50v1.01h-14.50zM154.9 103.85h5.83v1.01h-5.83zM166.4 103.85h11.61v1.01h-11.61zM209.8 103.85h2.94v1.01h-2.94zM241.6 103.85h8.72v1.01h-8.72zM282.0 103.85h11.61v1.01h-11.61zM241.6 104.81h8.72v1.01h-8.72zM73.9 105.78h5.83v1.01h-5.83zM131.7 105.78h11.61v1.01h-11.61zM152.0 105.78h2.94v1.01h-2.94zM172.2 105.78h26.06v1.01h-26.06zM204.0 105.78h20.28v1.01h-20.28zM279.1 105.78h2.94v1.01h-2.94zM290.7 105.78h2.94v1.01h-2.94zM53.7 106.74h5.83v1.01h-5.83zM94.2 106.74h5.83v1.01h-5.83zM128.8 106.74h2.94v1.01h-2.94zM154.9 106.74h5.83v1.01h-5.83zM172.2 106.74h26.06v1.01h-26.06zM209.8 106.74h8.72v1.01h-8.72zM241.6 106.74h8.72v1.01h-8.72zM53.7 107.70h5.83v1.01h-5.83zM108.6 107.70h5.83v1.01h-5.83zM201.1 107.70h8.72v1.01h-8.72zM53.7 108.66h5.83v1.01h-5.83zM108.6 108.66h5.83v1.01h-5.83zM195.3 108.66h2.94v1.01h-2.94zM241.6 108.66h8.72v1.01h-8.72zM287.8 108.66h5.83v1.01h-5.83zM128.8 109.62h2.94v1.01h-2.94zM166.4 109.62h5.83v1.01h-5.83zM178.0 109.62h31.85v1.01h-31.85zM221.3 109.62h2.94v1.01h-2.94zM241.6 109.62h8.72v1.01h-8.72zM287.8 109.62h5.83v1.01h-5.83zM88.4 110.59h2.94v1.01h-2.94zM128.8 110.59h5.83v1.01h-5.83zM178.0 110.59h20.28v1.01h-20.28zM209.8 110.59h8.72v1.01h-8.72zM232.9 110.59h5.83v1.01h-5.83zM53.7 111.55h2.94v1.01h-2.94zM128.8 111.55h5.83v1.01h-5.83zM166.4 111.55h5.83v1.01h-5.83zM198.2 111.55h26.06v1.01h-26.06zM241.6 111.55h8.72v1.01h-8.72zM290.7 111.55h2.94v1.01h-2.94zM33.5 112.51h2.94v1.01h-2.94zM45.0 112.51h8.72v1.01h-8.72zM131.7 112.51h2.94v1.01h-2.94zM178.0 112.51h20.28v1.01h-20.28zM204.0 112.51h2.94v1.01h-2.94zM241.6 112.51h8.72v1.01h-8.72zM287.8 112.51h5.83v1.01h-5.83zM114.4 113.47h8.72v1.01h-8.72zM198.2 113.47h5.83v1.01h-5.83zM209.8 113.47h2.94v1.01h-2.94zM282.0 113.47h11.61v1.01h-11.61zM68.1 114.44h5.83v1.01h-5.83zM209.8 114.44h8.72v1.01h-8.72zM230.0 114.44h8.72v1.01h-8.72zM247.4 114.44h2.94v1.01h-2.94zM279.1 114.44h14.50v1.01h-14.50zM117.3 115.40h5.83v1.01h-5.83zM178.0 115.40h5.83v1.01h-5.83zM189.5 115.40h8.72v1.01h-8.72zM209.8 115.40h28.96v1.01h-28.96zM241.6 115.40h8.72v1.01h-8.72zM279.1 115.40h2.94v1.01h-2.94zM117.3 116.36h2.94v1.01h-2.94zM178.0 116.36h2.94v1.01h-2.94zM189.5 116.36h20.28v1.01h-20.28zM227.1 116.36h11.61v1.01h-11.61zM241.6 116.36h8.72v1.01h-8.72zM189.5 117.33h5.83v1.01h-5.83zM114.4 118.29h2.94v1.01h-2.94zM178.0 118.29h5.83v1.01h-5.83zM189.5 118.29h14.50v1.01h-14.50zM279.1 118.29h2.94v1.01h-2.94zM47.9 119.25h5.83v1.01h-5.83zM68.1 119.25h5.83v1.01h-5.83zM76.8 119.25h2.94v1.01h-2.94zM91.3 119.25h8.72v1.01h-8.72zM232.9 119.25h5.83v1.01h-5.83zM279.1 119.25h2.94v1.01h-2.94zM68.1 120.21h11.61v1.01h-11.61zM128.8 120.21h2.94v1.01h-2.94zM143.3 120.21h8.72v1.01h-8.72zM178.0 120.21h5.83v1.01h-5.83zM232.9 120.21h5.83v1.01h-5.83zM91.3 121.18h2.94v1.01h-2.94zM128.8 121.18h2.94v1.01h-2.94zM209.8 121.18h17.39v1.01h-17.39zM279.1 121.18h2.94v1.01h-2.94zM128.8 122.14h5.83v1.01h-5.83zM143.3 122.14h5.83v1.01h-5.83zM178.0 122.14h11.61v1.01h-11.61zM209.8 122.14h28.96v1.01h-28.96zM45.0 123.10h8.72v1.01h-8.72zM94.2 123.10h5.83v1.01h-5.83zM232.9 123.10h5.83v1.01h-5.83zM279.1 123.10h5.83v1.01h-5.83zM287.8 123.10h5.83v1.01h-5.83zM68.1 124.06h5.83v1.01h-5.83zM91.3 124.06h2.94v1.01h-2.94zM131.7 124.06h11.61v1.01h-11.61zM198.2 124.06h11.61v1.01h-11.61zM232.9 124.06h2.94v1.01h-2.94zM33.5 125.03h2.94v1.01h-2.94zM94.2 125.03h5.83v1.01h-5.83zM154.9 125.03h5.83v1.01h-5.83zM287.8 125.03h5.83v1.01h-5.83zM33.5 125.99h2.94v1.01h-2.94zM91.3 125.99h2.94v1.01h-2.94zM152.0 125.99h8.72v1.01h-8.72zM154.9 126.95h5.83v1.01h-5.83zM232.9 126.95h5.83v1.01h-5.83zM33.5 127.91h5.83v1.01h-5.83zM91.3 127.91h2.94v1.01h-2.94zM154.9 127.91h5.83v1.01h-5.83zM33.5 128.88h5.83v1.01h-5.83zM131.7 128.88h5.83v1.01h-5.83zM152.0 128.88h2.94v1.01h-2.94zM284.9 128.88h8.72v1.01h-8.72zM36.3 129.84h2.94v1.01h-2.94zM94.2 129.84h5.83v1.01h-5.83zM128.8 129.84h2.94v1.01h-2.94zM232.9 129.84h5.83v1.01h-5.83zM152.0 130.80h8.72v1.01h-8.72zM232.9 130.80h5.83v1.01h-5.83zM114.4 131.76h20.28v1.01h-20.28zM186.7 131.76h2.94v1.01h-2.94zM114.4 132.73h17.39v1.01h-17.39zM154.9 132.73h5.83v1.01h-5.83zM166.4 132.73h11.61v1.01h-11.61zM241.6 132.73h8.72v1.01h-8.72zM287.8 132.73h5.83v1.01h-5.83zM65.2 133.69h2.94v1.01h-2.94zM114.4 133.69h8.72v1.01h-8.72zM131.7 133.69h2.94v1.01h-2.94zM152.0 133.69h8.72v1.01h-8.72zM166.4 133.69h11.61v1.01h-11.61zM267.6 133.69h26.06v1.01h-26.06zM114.4 134.65h2.94v1.01h-2.94zM152.0 134.65h8.72v1.01h-8.72zM166.4 134.65h11.61v1.01h-11.61zM279.1 134.65h2.94v1.01h-2.94zM287.8 134.65h2.94v1.01h-2.94zM42.1 135.61h2.94v1.01h-2.94zM50.8 135.61h2.94v1.01h-2.94zM65.2 135.61h2.94v1.01h-2.94zM154.9 135.61h5.83v1.01h-5.83zM232.9 135.61h5.83v1.01h-5.83zM241.6 135.61h8.72v1.01h-8.72zM287.8 135.61h2.94v1.01h-2.94zM154.9 136.57h5.83v1.01h-5.83zM65.2 137.54h2.94v1.01h-2.94zM114.4 137.54h14.50v1.01h-14.50zM152.0 137.54h8.72v1.01h-8.72zM114.4 138.50h2.94v1.01h-2.94zM152.0 138.50h2.94v1.01h-2.94zM166.4 138.50h23.17v1.01h-23.17zM59.5 139.46h5.83v1.01h-5.83zM114.4 139.46h2.94v1.01h-2.94zM154.9 139.46h5.83v1.01h-5.83zM287.8 139.46h5.83v1.01h-5.83zM65.2 140.43h2.94v1.01h-2.94zM114.4 140.43h14.50v1.01h-14.50zM154.9 140.43h2.94v1.01h-2.94zM172.2 140.43h2.94v1.01h-2.94zM59.5 141.39h5.83v1.01h-5.83zM114.4 141.39h2.94v1.01h-2.94zM154.9 141.39h5.83v1.01h-5.83zM166.4 141.39h11.61v1.01h-11.61zM241.6 141.39h8.72v1.01h-8.72zM287.8 141.39h5.83v1.01h-5.83zM68.1 142.35h11.61v1.01h-11.61zM282.0 142.35h2.94v1.01h-2.94zM287.8 142.35h2.94v1.01h-2.94zM73.9 143.31h5.83v1.01h-5.83zM152.0 144.28h2.94v1.01h-2.94zM68.1 145.24h11.61v1.01h-11.61zM45.0 147.16h8.72v1.01h-8.72zM68.1 147.16h11.61v1.01h-11.61zM128.8 148.12h2.94v1.01h-2.94zM152.0 148.12h2.94v1.01h-2.94zM45.0 149.09h8.72v1.01h-8.72zM73.9 149.09h5.83v1.01h-5.83zM244.5 149.09h5.83v1.01h-5.83zM79.7 151.01h11.61v1.01h-11.61zM152.0 151.01h2.94v1.01h-2.94zM45.0 151.98h8.72v1.01h-8.72zM68.1 151.98h11.61v1.01h-11.61zM128.8 151.98h2.94v1.01h-2.94zM178.0 151.98h5.83v1.01h-5.83zM241.6 151.98h8.72v1.01h-8.72zM79.7 152.94h11.61v1.01h-11.61zM131.7 152.94h2.94v1.01h-2.94zM287.8 152.94h5.83v1.01h-5.83zM73.9 153.90h5.83v1.01h-5.83zM198.2 153.90h11.61v1.01h-11.61zM198.2 154.86h2.94v1.01h-2.94zM204.0 154.86h20.28v1.01h-20.28zM241.6 155.82h5.83v1.01h-5.83zM204.0 156.79h2.94v1.01h-2.94zM209.8 156.79h14.50v1.01h-14.50zM73.9 157.75h5.83v1.01h-5.83zM198.2 157.75h11.61v1.01h-11.61zM241.6 157.75h8.72v1.01h-8.72zM198.2 158.71h11.61v1.01h-11.61zM45.0 159.68h8.72v1.01h-8.72zM241.6 159.68h8.72v1.01h-8.72zM241.6 160.64h2.94v1.01h-2.94zM247.4 160.64h2.94v1.01h-2.94zM241.6 161.60h8.72v1.01h-8.72zM287.8 161.60h5.83v1.01h-5.83zM241.6 162.56h8.72v1.01h-8.72zM68.1 164.49h8.72v1.01h-8.72zM128.8 164.49h2.94v1.01h-2.94zM241.6 164.49h8.72v1.01h-8.72zM178.0 165.45h5.83v1.01h-5.83zM189.5 165.45h8.72v1.01h-8.72zM218.4 165.45h5.83v1.01h-5.83zM192.4 166.41h2.94v1.01h-2.94zM198.2 166.41h5.83v1.01h-5.83zM218.4 166.41h5.83v1.01h-5.83zM178.0 167.38h5.83v1.01h-5.83zM189.5 167.38h8.72v1.01h-8.72zM198.2 168.34h5.83v1.01h-5.83zM178.0 169.30h5.83v1.01h-5.83zM189.5 169.30h8.72v1.01h-8.72zM76.8 170.26h2.94v1.01h-2.94zM178.0 172.19h5.83v1.01h-5.83zM189.5 172.19h8.72v1.01h-8.72zM189.5 175.07h2.94v1.01h-2.94z"/>
</g>
<rect x="294.00" y="61.50" width="1.80" height="115.50" fill="#222" />
<path d="M296,64 H300 M300,64 V70 M296,70 H300 M300,67 H306.6 M306.6,65.3 V78.3 M306.6,65.3 H301 M306.6,78.3 H301 M301,74 V82 M306.6,72.4 H319.5 M319.5,72.4 V132 M313,132 H319.5 M313,116.2 V148 M303.5,116.2 H313 M303.5,108 V124.8 M298,108 H303.5 M298,124.8 H303.5 M306.3,148 H313 M306.3,138.8 V158.3 M300,138.8 H306.3 M302,158.3 H306.3 M300,134 V143 M297,134 H300 M297,143 H300 M302,152 V165 M297,152 H302 M297,165 H302 M298,85 V100 M296,85 H298 M296,100 H298 M301,82 V92 M298,92 H301 M296,104 H298 M296,112 H298 M297,120 H303.5 M296,128 H298 M296,170 H300 M300,165 V174 M296,174 H300" stroke="#777" stroke-width="0.45" fill="none"/>
<path d="M295.8,63 h1.2" stroke="#888" stroke-width="0.35" fill="none"/>
<path d="M295.8,66 h1.2" stroke="#888" stroke-width="0.35" fill="none"/>
<path d="M295.8,69 h1.8" stroke="#888" stroke-width="0.35" fill="none"/>
<path d="M295.8,72 h2.5" stroke="#888" stroke-width="0.35" fill="none"/>
<path d="M295.8,75 h2.5" stroke="#888" stroke-width="0.35" fill="none"/>
<path d="M295.8,78 h2.5" stroke="#888" stroke-width="0.35" fill="none"/>
<path d="M295.8,81 h1.8" stroke="#888" stroke-width="0.35" fill="none"/>
<path d="M295.8,84 h1.8" stroke="#888" stroke-width="0.35" fill="none"/>
<path d="M295.8,87 h2.5" stroke="#888" stroke-width="0.35" fill="none"/>
<path d="M295.8,90 h1.2" stroke="#888" stroke-width="0.35" fill="none"/>
<path d="M295.8,93 h1.8" stroke="#888" stroke-width="0.35" fill="none"/>
<path d="M295.8,96 h2.5" stroke="#888" stroke-width="0.35" fill="none"/>
<path d="M295.8,99 h1.2" stroke="#888" stroke-width="0.35" fill="none"/>
<path d="M295.8,102 h1.2" stroke="#888" stroke-width="0.35" fill="none"/>
<path d="M295.8,105 h1.8" stroke="#888" stroke-width="0.35" fill="none"/>
<path d="M295.8,108 h1.2" stroke="#888" stroke-width="0.35" fill="none"/>
<path d="M295.8,111 h1.8" stroke="#888" stroke-width="0.35" fill="none"/>
<path d="M295.8,114 h1.8" stroke="#888" stroke-width="0.35" fill="none"/>
<path d="M295.8,117 h2.5" stroke="#888" stroke-width="0.35" fill="none"/>
<path d="M295.8,120 h1.2" stroke="#888" stroke-width="0.35" fill="none"/>
<path d="M295.8,123 h1.8" stroke="#888" stroke-width="0.35" fill="none"/>
<path d="M295.8,126 h1.2" stroke="#888" stroke-width="0.35" fill="none"/>
<path d="M295.8,129 h1.2" stroke="#888" stroke-width="0.35" fill="none"/>
<path d="M295.8,132 h2.5" stroke="#888" stroke-width="0.35" fill="none"/>
<path d="M295.8,135 h1.2" stroke="#888" stroke-width="0.35" fill="none"/>
<path d="M295.8,138 h1.2" stroke="#888" stroke-width="0.35" fill="none"/>
<path d="M295.8,141 h2.5" stroke="#888" stroke-width="0.35" fill="none"/>
<path d="M295.8,144 h1.8" stroke="#888" stroke-width="0.35" fill="none"/>
<path d="M295.8,147 h2.5" stroke="#888" stroke-width="0.35" fill="none"/>
<path d="M295.8,150 h1.8" stroke="#888" stroke-width="0.35" fill="none"/>
<path d="M295.8,153 h1.2" stroke="#888" stroke-width="0.35" fill="none"/>
<path d="M295.8,156 h1.8" stroke="#888" stroke-width="0.35" fill="none"/>
<path d="M295.8,159 h1.2" stroke="#888" stroke-width="0.35" fill="none"/>
<path d="M295.8,162 h2.5" stroke="#888" stroke-width="0.35" fill="none"/>
<path d="M295.8,165 h2.5" stroke="#888" stroke-width="0.35" fill="none"/>
<path d="M295.8,168 h1.2" stroke="#888" stroke-width="0.35" fill="none"/>
<path d="M295.8,171 h1.2" stroke="#888" stroke-width="0.35" fill="none"/>
<path d="M295.8,174 h2.5" stroke="#888" stroke-width="0.35" fill="none"/>
<rect x="19.00" y="177.70" width="273.80" height="4.10" fill="#f4b62a" />
<rect x="19.00" y="182.30" width="273.80" height="4.10" fill="#e0d0b0" />
<rect x="19.10" y="182.30" width="2.70" height="4.10" fill="#a63a2a" />
<rect x="21.80" y="182.30" width="3.90" height="4.10" fill="#d8a878" />
<rect x="25.70" y="182.30" width="4.80" height="4.10" fill="#e8883a" />
<rect x="30.50" y="182.30" width="9.10" height="4.10" fill="#e87040" />
<rect x="39.60" y="182.30" width="2.40" height="4.10" fill="#e8c8a8" />
<rect x="42.00" y="182.30" width="4.80" height="4.10" fill="#c8b090" />
<rect x="46.80" y="182.30" width="4.30" height="4.10" fill="#e0d0b0" />
<rect x="51.10" y="182.30" width="2.90" height="4.10" fill="#1a1a1a" />
<rect x="54.00" y="182.30" width="8.20" height="4.10" fill="#30a8e0" />
<rect x="62.20" y="182.30" width="5.20" height="4.10" fill="#d0a080" />
<rect x="67.40" y="182.30" width="9.60" height="4.10" fill="#222040" />
<rect x="77.00" y="182.30" width="11.00" height="4.10" fill="#1a5a48" />
<rect x="88.00" y="182.30" width="3.00" height="4.10" fill="#f0e0d0" />
<rect x="91.00" y="182.30" width="17.30" height="4.10" fill="#f08878" />
<rect x="108.30" y="182.30" width="3.80" height="4.10" fill="#e03a20" />
<rect x="112.10" y="182.30" width="0.90" height="4.10" fill="#f0e0c0" />
<rect x="113.00" y="182.30" width="13.00" height="4.10" fill="#f2c232" />
<rect x="126.00" y="182.30" width="11.00" height="4.10" fill="#9a4a2a" />
<rect x="137.00" y="182.30" width="14.50" height="4.10" fill="#8a8a30" />
<rect x="151.50" y="182.30" width="8.50" height="4.10" fill="#f0c828" />
<rect x="160.00" y="182.30" width="5.80" height="4.10" fill="#e8d0b0" />
<rect x="165.80" y="182.30" width="12.00" height="4.10" fill="#c82828" />
<rect x="177.80" y="182.30" width="2.40" height="4.10" fill="#8a4020" />
<rect x="180.20" y="182.30" width="3.40" height="4.10" fill="#5a2a10" />
<rect x="183.60" y="182.30" width="11.00" height="4.10" fill="#8a9a80" />
<rect x="194.60" y="182.30" width="3.40" height="4.10" fill="#111111" />
<rect x="198.00" y="182.30" width="4.30" height="4.10" fill="#a0a0a0" />
<rect x="202.30" y="182.30" width="9.50" height="4.10" fill="#e88838" />
<rect x="211.80" y="182.30" width="9.20" height="4.10" fill="#50b8e0" />
<rect x="221.00" y="182.30" width="8.60" height="4.10" fill="#101010" />
<rect x="229.60" y="182.30" width="8.20" height="4.10" fill="#1a3a30" />
<rect x="237.80" y="182.30" width="10.50" height="4.10" fill="#a0d0b0" />
<rect x="248.30" y="182.30" width="7.00" height="4.10" fill="#f0b098" />
<rect x="255.30" y="182.30" width="8.70" height="4.10" fill="#b82838" />
<rect x="264.00" y="182.30" width="8.10" height="4.10" fill="#90c0a8" />
<rect x="272.10" y="182.30" width="6.30" height="4.10" fill="#70b8d8" />
<rect x="278.40" y="182.30" width="5.70" height="4.10" fill="#0a2a1a" />
<rect x="284.10" y="182.30" width="8.70" height="4.10" fill="#d04028" />
<rect x="19.00" y="186.90" width="273.80" height="4.10" fill="#1f5fb0" />
<rect x="39.10" y="186.90" width="3.50" height="4.10" fill="#ffffff" />
<rect x="113.60" y="186.90" width="3.70" height="4.10" fill="#ffffff" />
<rect x="120.20" y="186.90" width="2.90" height="4.10" fill="#ffffff" />
<rect x="152.00" y="186.90" width="8.10" height="4.10" fill="#dcdce4" />
<rect x="179.70" y="186.90" width="3.90" height="4.10" fill="#c8c0e0" />
<rect x="19.00" y="191.50" width="273.80" height="4.10" fill="#a8a8a8" />
<rect x="25.20" y="191.50" width="5.80" height="4.10" fill="#404040" />
<rect x="117.30" y="191.50" width="8.70" height="4.10" fill="#333333" />
<rect x="165.80" y="191.50" width="6.20" height="4.10" fill="#3a3a3a" />
<rect x="174.90" y="191.50" width="2.90" height="4.10" fill="#3a3a3a" />
<rect x="194.60" y="191.50" width="3.40" height="4.10" fill="#3a3a3a" />
<rect x="203.30" y="191.50" width="8.50" height="4.10" fill="#404040" />
<rect x="221.00" y="191.50" width="13.90" height="4.10" fill="#404040" />
<rect x="237.80" y="191.50" width="2.90" height="4.10" fill="#404040" />
<rect x="244.00" y="191.50" width="28.60" height="4.10" fill="#404040" />
<rect x="278.80" y="191.50" width="5.30" height="4.10" fill="#404040" />
<rect x="19.00" y="196.10" width="273.80" height="4.10" fill="#cdcdcd" />
<rect x="48.30" y="196.10" width="2.80" height="4.10" fill="#3aa05a" />
<rect x="67.90" y="196.10" width="9.10" height="4.10" fill="#3a9a50" />
<rect x="88.60" y="196.10" width="11.50" height="4.10" fill="#3a9a50" />
<rect x="128.90" y="196.10" width="17.30" height="4.10" fill="#3aa05a" />
<rect x="19.00" y="200.70" width="273.80" height="4.10" fill="#cdcdcd" />
<rect x="31.20" y="200.70" width="7.90" height="4.10" fill="#30a8d8" />
<rect x="42.50" y="200.70" width="2.40" height="4.10" fill="#202840" />
<rect x="51.10" y="200.70" width="2.90" height="4.10" fill="#d8a880" />
<rect x="77.00" y="200.70" width="11.00" height="4.10" fill="#80b8a8" />
<rect x="160.00" y="200.70" width="5.80" height="4.10" fill="#e0a868" />
<rect x="19.00" y="205.30" width="273.80" height="4.10" fill="#cdcdcd" />
<rect x="19.10" y="205.30" width="2.70" height="4.10" fill="#3a9a50" />
<rect x="25.20" y="205.30" width="5.80" height="4.10" fill="#3a9a50" />
<rect x="51.10" y="205.30" width="11.10" height="4.10" fill="#3a9a50" />
<rect x="70.80" y="205.30" width="6.20" height="4.10" fill="#6a6a98" />
<rect x="100.10" y="205.30" width="8.20" height="4.10" fill="#7a7a6a" />
<rect x="114.40" y="205.30" width="11.60" height="4.10" fill="#6a6a98" />
<rect x="146.20" y="205.30" width="5.80" height="4.10" fill="#3a9a50" />
<rect x="255.80" y="205.30" width="8.20" height="4.10" fill="#3aa050" />
<rect x="19.00" y="209.90" width="273.80" height="4.10" fill="#a8d0ec" />
<rect x="25.20" y="209.90" width="5.80" height="4.10" fill="#1a68b8" />
<rect x="42.50" y="209.90" width="5.30" height="4.10" fill="#1a68b8" />
<rect x="51.10" y="209.90" width="2.90" height="4.10" fill="#1a68b8" />
<rect x="60.00" y="209.90" width="10.00" height="4.10" fill="#d0d0d8" />
<rect x="70.80" y="209.90" width="6.20" height="4.10" fill="#f8c0c0" />
<rect x="77.00" y="209.90" width="23.00" height="4.10" fill="#d4d8e0" />
<rect x="100.10" y="209.90" width="8.20" height="4.10" fill="#a0d0ee" />
<rect x="137.00" y="209.90" width="9.20" height="4.10" fill="#1a70b8" />
<rect x="191.70" y="209.90" width="19.60" height="4.10" fill="#1a70b8" />
<rect x="212.30" y="209.90" width="8.70" height="4.10" fill="#f0a878" />
<rect x="229.60" y="209.90" width="34.40" height="4.10" fill="#1a70b8" />
<rect x="272.60" y="209.90" width="14.40" height="4.10" fill="#d8e0e8" />
<rect x="287.00" y="209.90" width="3.00" height="4.10" fill="#2a78a8" />
<rect x="19.00" y="214.50" width="273.80" height="4.10" fill="#f0b0a0" />
<rect x="19.00" y="214.50" width="6.20" height="4.10" fill="#f0c0a8" />
<rect x="25.20" y="214.50" width="13.90" height="4.10" fill="#d82828" />
<rect x="47.80" y="214.50" width="8.60" height="4.10" fill="#d82828" />
<rect x="56.40" y="214.50" width="3.10" height="4.10" fill="#f0a070" />
<rect x="60.00" y="214.50" width="10.80" height="4.10" fill="#d8d0d0" />
<rect x="70.80" y="214.50" width="6.20" height="4.10" fill="#d02030" />
<rect x="77.00" y="214.50" width="11.00" height="4.10" fill="#d8d4d4" />
<rect x="88.00" y="214.50" width="3.40" height="4.10" fill="#c02040" />
<rect x="91.40" y="214.50" width="8.60" height="4.10" fill="#d8d4d4" />
<rect x="100.10" y="214.50" width="8.20" height="4.10" fill="#f0a060" />
<rect x="146.20" y="214.50" width="5.80" height="4.10" fill="#d82020" />
<rect x="169.10" y="214.50" width="2.90" height="4.10" fill="#d82828" />
<rect x="177.80" y="214.50" width="13.90" height="4.10" fill="#d82828" />
<rect x="203.75" y="214.50" width="8.05" height="4.10" fill="#d82828" />
<rect x="221.00" y="214.50" width="8.60" height="4.10" fill="#d02828" />
<rect x="229.60" y="214.50" width="8.20" height="4.10" fill="#e8d8d0" />
<rect x="237.80" y="214.50" width="2.90" height="4.10" fill="#d02828" />
<rect x="249.30" y="214.50" width="23.30" height="4.10" fill="#d82828" />
<rect x="272.60" y="214.50" width="20.20" height="4.10" fill="#e8d4d0" />
<rect x="19.00" y="219.10" width="273.80" height="4.10" fill="#a8d0e8" />
<rect x="67.90" y="219.10" width="2.90" height="4.10" fill="#2a6a90" />
<rect x="88.00" y="219.10" width="3.40" height="4.10" fill="#2a7a8a" />
<rect x="100.10" y="219.10" width="8.20" height="4.10" fill="#f0a070" />
<rect x="128.90" y="219.10" width="8.10" height="4.10" fill="#1a70b8" />
<rect x="151.50" y="219.10" width="8.50" height="4.10" fill="#f0a890" />
<rect x="212.80" y="219.10" width="7.70" height="4.10" fill="#f0a070" />
<rect x="278.80" y="219.10" width="2.50" height="4.10" fill="#1a68b0" />
<rect x="109.00" y="191.50" width="2.80" height="32.20" fill="#ffffff" />
<rect x="172.00" y="191.50" width="2.90" height="32.20" fill="#ffffff" />
<rect x="195.00" y="196.10" width="3.00" height="27.60" fill="#ffffff" />
<rect x="39.10" y="186.90" width="3.40" height="36.80" fill="#ffffff" />
<text x="294.40" y="181.20" font-size="4.3" text-anchor="start" fill="#333" font-weight="normal" font-style="normal" >Type</text>
<text x="294.40" y="185.80" font-size="4.3" text-anchor="start" fill="#333" font-weight="normal" font-style="normal" >Patient</text>
<text x="294.40" y="190.40" font-size="4.3" text-anchor="start" fill="#333" font-weight="normal" font-style="normal" >Histology</text>
<text x="294.40" y="195.00" font-size="4.3" text-anchor="start" fill="#333" font-weight="normal" font-style="normal" ><tspan font-style="italic">TMPRSS2-ERG</tspan></text>
<text x="294.40" y="199.60" font-size="4.3" text-anchor="start" fill="#333" font-weight="normal" font-style="normal" ><tspan font-style="italic">SPOP</tspan></text>
<text x="294.40" y="204.20" font-size="4.3" text-anchor="start" fill="#333" font-weight="normal" font-style="normal" ><tspan font-style="italic">FOXA1</tspan></text>
<text x="294.40" y="208.80" font-size="4.3" text-anchor="start" fill="#333" font-weight="normal" font-style="normal" ><tspan font-style="italic">TP53</tspan></text>
<text x="294.40" y="213.40" font-size="4.3" text-anchor="start" fill="#333" font-weight="normal" font-style="normal" >PTEN CNA</text>
<text x="294.40" y="218.00" font-size="4.3" text-anchor="start" fill="#333" font-weight="normal" font-style="normal" >AR CNA</text>
<text x="294.40" y="222.60" font-size="4.3" text-anchor="start" fill="#333" font-weight="normal" font-style="normal" >CHD1 CNA</text>
<text transform="translate(7.6,196) rotate(-90)" font-size="5.3" text-anchor="middle" fill="#333" textLength="35.5" lengthAdjust="spacingAndGlyphs">Normal prostate</text>
<text transform="translate(13.6,195.5) rotate(-90)" font-size="5.3" text-anchor="middle" fill="#333">(n2)</text>
<text transform="translate(17.6,183.5) rotate(-90)" font-size="5.3" text-anchor="middle" fill="#333">Class</text>
<text x="334.30" y="12.90" font-size="4.45" text-anchor="start" fill="#222" font-weight="normal" font-style="normal" >Type</text>
<rect x="334.30" y="15.50" width="3.00" height="3.00" fill="#f0c030" />
<text transform="translate(338.60,18.55) scale(0.86,1)" font-size="4.7" fill="#2a2a2a">Metastasis</text>
<text x="334.30" y="26.60" font-size="4.45" text-anchor="start" fill="#222" font-weight="normal" font-style="normal" >Patient</text>
<rect x="333.90" y="28.90" width="2.90" height="2.50" fill="#f0d040" />
<text x="337.40" y="31.20" font-size="3.1" text-anchor="start" fill="#666" font-weight="normal" font-style="normal" >1</text>
<rect x="333.90" y="31.60" width="2.90" height="2.50" fill="#6a1a1a" />
<text x="337.40" y="33.90" font-size="3.1" text-anchor="start" fill="#666" font-weight="normal" font-style="normal" >2</text>
<rect x="333.90" y="34.30" width="2.90" height="2.50" fill="#1a2a20" />
<text x="337.40" y="36.60" font-size="3.1" text-anchor="start" fill="#666" font-weight="normal" font-style="normal" >3</text>
<rect x="333.90" y="37.00" width="2.90" height="2.50" fill="#1a4030" />
<text x="337.40" y="39.30" font-size="3.1" text-anchor="start" fill="#666" font-weight="normal" font-style="normal" >4</text>
<rect x="333.90" y="39.70" width="2.90" height="2.50" fill="#0a3a2a" />
<text x="337.40" y="42.00" font-size="3.1" text-anchor="start" fill="#666" font-weight="normal" font-style="normal" >5</text>
<rect x="333.90" y="42.40" width="2.90" height="2.50" fill="#2a1a1a" />
<text x="337.40" y="44.70" font-size="3.1" text-anchor="start" fill="#666" font-weight="normal" font-style="normal" >6</text>
<rect x="333.90" y="45.10" width="2.90" height="2.50" fill="#c87080" />
<text x="337.40" y="47.40" font-size="3.1" text-anchor="start" fill="#666" font-weight="normal" font-style="normal" >7</text>
<rect x="333.90" y="47.80" width="2.90" height="2.50" fill="#7a7040" />
<text x="337.40" y="50.10" font-size="3.1" text-anchor="start" fill="#666" font-weight="normal" font-style="normal" >8</text>
<rect x="333.90" y="50.50" width="2.90" height="2.50" fill="#1a3a20" />
<text x="337.40" y="52.80" font-size="3.1" text-anchor="start" fill="#666" font-weight="normal" font-style="normal" >9</text>
<rect x="333.90" y="53.20" width="2.90" height="2.50" fill="#102010" />
<text x="337.40" y="55.50" font-size="3.1" text-anchor="start" fill="#666" font-weight="normal" font-style="normal" >10</text>
<rect x="333.90" y="55.90" width="2.90" height="2.50" fill="#1a3a2a" />
<text x="337.40" y="58.20" font-size="3.1" text-anchor="start" fill="#666" font-weight="normal" font-style="normal" >11</text>
<rect x="343.00" y="28.90" width="2.90" height="2.50" fill="#607040" />
<text x="346.50" y="31.20" font-size="3.1" text-anchor="start" fill="#666" font-weight="normal" font-style="normal" >12</text>
<rect x="343.00" y="31.60" width="2.90" height="2.50" fill="#7a9a50" />
<text x="346.50" y="33.90" font-size="3.1" text-anchor="start" fill="#666" font-weight="normal" font-style="normal" >13</text>
<rect x="343.00" y="34.30" width="2.90" height="2.50" fill="#5a7040" />
<text x="346.50" y="36.60" font-size="3.1" text-anchor="start" fill="#666" font-weight="normal" font-style="normal" >14</text>
<rect x="343.00" y="37.00" width="2.90" height="2.50" fill="#3a4a30" />
<text x="346.50" y="39.30" font-size="3.1" text-anchor="start" fill="#666" font-weight="normal" font-style="normal" >15</text>
<rect x="343.00" y="39.70" width="2.90" height="2.50" fill="#5a4a30" />
<text x="346.50" y="42.00" font-size="3.1" text-anchor="start" fill="#666" font-weight="normal" font-style="normal" >16</text>
<rect x="343.00" y="42.40" width="2.90" height="2.50" fill="#4a3a20" />
<text x="346.50" y="44.70" font-size="3.1" text-anchor="start" fill="#666" font-weight="normal" font-style="normal" >17</text>
<rect x="343.00" y="45.10" width="2.90" height="2.50" fill="#7a7a50" />
<text x="346.50" y="47.40" font-size="3.1" text-anchor="start" fill="#666" font-weight="normal" font-style="normal" >18</text>
<rect x="343.00" y="47.80" width="2.90" height="2.50" fill="#4aa0a0" />
<text x="346.50" y="50.10" font-size="3.1" text-anchor="start" fill="#666" font-weight="normal" font-style="normal" >19</text>
<rect x="343.00" y="50.50" width="2.90" height="2.50" fill="#80c0c0" />
<text x="346.50" y="52.80" font-size="3.1" text-anchor="start" fill="#666" font-weight="normal" font-style="normal" >20</text>
<rect x="343.00" y="53.20" width="2.90" height="2.50" fill="#80b0a0" />
<text x="346.50" y="55.50" font-size="3.1" text-anchor="start" fill="#666" font-weight="normal" font-style="normal" >21</text>
<rect x="343.00" y="55.90" width="2.90" height="2.50" fill="#2a8080" />
<text x="346.50" y="58.20" font-size="3.1" text-anchor="start" fill="#666" font-weight="normal" font-style="normal" >22</text>
<rect x="352.70" y="28.90" width="2.90" height="2.50" fill="#f0c040" />
<text x="356.20" y="31.20" font-size="3.1" text-anchor="start" fill="#666" font-weight="normal" font-style="normal" >23</text>
<rect x="352.70" y="31.60" width="2.90" height="2.50" fill="#d83020" />
<text x="356.20" y="33.90" font-size="3.1" text-anchor="start" fill="#666" font-weight="normal" font-style="normal" >24</text>
<rect x="352.70" y="34.30" width="2.90" height="2.50" fill="#e06020" />
<text x="356.20" y="36.60" font-size="3.1" text-anchor="start" fill="#666" font-weight="normal" font-style="normal" >25</text>
<rect x="352.70" y="37.00" width="2.90" height="2.50" fill="#e08020" />
<text x="356.20" y="39.30" font-size="3.1" text-anchor="start" fill="#666" font-weight="normal" font-style="normal" >26</text>
<rect x="352.70" y="39.70" width="2.90" height="2.50" fill="#f09030" />
<text x="356.20" y="42.00" font-size="3.1" text-anchor="start" fill="#666" font-weight="normal" font-style="normal" >27</text>
<rect x="352.70" y="42.40" width="2.90" height="2.50" fill="#f0a030" />
<text x="356.20" y="44.70" font-size="3.1" text-anchor="start" fill="#666" font-weight="normal" font-style="normal" >28</text>
<rect x="352.70" y="45.10" width="2.90" height="2.50" fill="#f09040" />
<text x="356.20" y="47.40" font-size="3.1" text-anchor="start" fill="#666" font-weight="normal" font-style="normal" >29</text>
<rect x="352.70" y="47.80" width="2.90" height="2.50" fill="#3a1a1a" />
<text x="356.20" y="50.10" font-size="3.1" text-anchor="start" fill="#666" font-weight="normal" font-style="normal" >30</text>
<rect x="352.70" y="50.50" width="2.90" height="2.50" fill="#f0b080" />
<text x="356.20" y="52.80" font-size="3.1" text-anchor="start" fill="#666" font-weight="normal" font-style="normal" >31</text>
<rect x="352.70" y="53.20" width="2.90" height="2.50" fill="#f0c0a0" />
<text x="356.20" y="55.50" font-size="3.1" text-anchor="start" fill="#666" font-weight="normal" font-style="normal" >32</text>
<rect x="352.70" y="55.90" width="2.90" height="2.50" fill="#3a1a20" />
<text x="356.20" y="58.20" font-size="3.1" text-anchor="start" fill="#666" font-weight="normal" font-style="normal" >33</text>
<rect x="362.30" y="28.90" width="2.90" height="2.50" fill="#b07050" />
<text x="365.80" y="31.20" font-size="3.1" text-anchor="start" fill="#666" font-weight="normal" font-style="normal" >34</text>
<rect x="362.30" y="31.60" width="2.90" height="2.50" fill="#e09060" />
<text x="365.80" y="33.90" font-size="3.1" text-anchor="start" fill="#666" font-weight="normal" font-style="normal" >35</text>
<rect x="362.30" y="34.30" width="2.90" height="2.50" fill="#f0b080" />
<text x="365.80" y="36.60" font-size="3.1" text-anchor="start" fill="#666" font-weight="normal" font-style="normal" >36</text>
<rect x="362.30" y="37.00" width="2.90" height="2.50" fill="#e0a070" />
<text x="365.80" y="39.30" font-size="3.1" text-anchor="start" fill="#666" font-weight="normal" font-style="normal" >37</text>
<rect x="362.30" y="39.70" width="2.90" height="2.50" fill="#70a070" />
<text x="365.80" y="42.00" font-size="3.1" text-anchor="start" fill="#666" font-weight="normal" font-style="normal" >38</text>
<rect x="362.30" y="42.40" width="2.90" height="2.50" fill="#5a8070" />
<text x="365.80" y="44.70" font-size="3.1" text-anchor="start" fill="#666" font-weight="normal" font-style="normal" >39</text>
<rect x="362.30" y="45.10" width="2.90" height="2.50" fill="#3a6a5a" />
<text x="365.80" y="47.40" font-size="3.1" text-anchor="start" fill="#666" font-weight="normal" font-style="normal" >40</text>
<rect x="362.30" y="47.80" width="2.90" height="2.50" fill="#2a3a3a" />
<text x="365.80" y="50.10" font-size="3.1" text-anchor="start" fill="#666" font-weight="normal" font-style="normal" >41</text>
<rect x="362.30" y="50.50" width="2.90" height="2.50" fill="#8a3a5a" />
<text x="365.80" y="52.80" font-size="3.1" text-anchor="start" fill="#666" font-weight="normal" font-style="normal" >42</text>
<rect x="362.30" y="53.20" width="2.90" height="2.50" fill="#5a1a3a" />
<text x="365.80" y="55.50" font-size="3.1" text-anchor="start" fill="#666" font-weight="normal" font-style="normal" >43</text>
<rect x="362.30" y="55.90" width="2.90" height="2.50" fill="#3a2a3a" />
<text x="365.80" y="58.20" font-size="3.1" text-anchor="start" fill="#666" font-weight="normal" font-style="normal" >44</text>
<rect x="371.40" y="28.90" width="2.90" height="2.50" fill="#b0b0b0" />
<text x="374.90" y="31.20" font-size="3.1" text-anchor="start" fill="#666" font-weight="normal" font-style="normal" >45</text>
<rect x="371.40" y="31.60" width="2.90" height="2.50" fill="#c83030" />
<text x="374.90" y="33.90" font-size="3.1" text-anchor="start" fill="#666" font-weight="normal" font-style="normal" >46</text>
<rect x="371.40" y="34.30" width="2.90" height="2.50" fill="#3a8a6a" />
<text x="374.90" y="36.60" font-size="3.1" text-anchor="start" fill="#666" font-weight="normal" font-style="normal" >47</text>
<rect x="371.40" y="37.00" width="2.90" height="2.50" fill="#3aa090" />
<text x="374.90" y="39.30" font-size="3.1" text-anchor="start" fill="#666" font-weight="normal" font-style="normal" >48</text>
<rect x="371.40" y="39.70" width="2.90" height="2.50" fill="#1a5a6a" />
<text x="374.90" y="42.00" font-size="3.1" text-anchor="start" fill="#666" font-weight="normal" font-style="normal" >49</text>
<rect x="371.40" y="42.40" width="2.90" height="2.50" fill="#1a3a5a" />
<text x="374.90" y="44.70" font-size="3.1" text-anchor="start" fill="#666" font-weight="normal" font-style="normal" >50</text>
<rect x="371.40" y="45.10" width="2.90" height="2.50" fill="#5a4a7a" />
<text x="374.90" y="47.40" font-size="3.1" text-anchor="start" fill="#666" font-weight="normal" font-style="normal" >51</text>
<rect x="371.40" y="47.80" width="2.90" height="2.50" fill="#6a5a7a" />
<text x="374.90" y="50.10" font-size="3.1" text-anchor="start" fill="#666" font-weight="normal" font-style="normal" >52</text>
<text x="334.30" y="72.10" font-size="4.45" text-anchor="start" fill="#222" font-weight="normal" font-style="normal" >Class</text>
<rect x="334.30" y="73.81" width="3.00" height="3.98" fill="#2e6b35" />
<text transform="translate(338.60,77.35) scale(0.86,1)" font-size="4.7" fill="#2a2a2a">CpG Island</text>
<rect x="334.30" y="77.79" width="3.00" height="3.98" fill="#c8b040" />
<text transform="translate(338.60,81.33) scale(0.86,1)" font-size="4.7" fill="#2a2a2a">North Shelf</text>
<rect x="334.30" y="81.77" width="3.00" height="3.98" fill="#f0e070" />
<text transform="translate(338.60,85.31) scale(0.86,1)" font-size="4.7" fill="#2a2a2a">North Shore</text>
<rect x="334.30" y="85.75" width="3.00" height="3.98" fill="#1b3a6b" />
<text transform="translate(338.60,89.29) scale(0.86,1)" font-size="4.7" fill="#2a2a2a">Open Sea</text>
<rect x="334.30" y="89.73" width="3.00" height="3.98" fill="#253a90" />
<text transform="translate(338.60,93.27) scale(0.86,1)" font-size="4.7" fill="#2a2a2a">South Shelf</text>
<rect x="334.30" y="93.71" width="3.00" height="3.98" fill="#c4b4e0" />
<text transform="translate(338.60,97.25) scale(0.86,1)" font-size="4.7" fill="#2a2a2a">South Shore</text>
<text x="372.60" y="72.30" font-size="4.45" text-anchor="start" fill="#222" font-weight="normal" font-style="normal" >&#946; value</text>
<rect x="372.70" y="73.80" width="3.60" height="19.00" fill="url(#gbeta)" />
<text x="377.60" y="76.30" font-size="4.25" text-anchor="start" fill="#444" font-weight="normal" font-style="normal" >1</text>
<text x="377.60" y="84.80" font-size="4.25" text-anchor="start" fill="#444" font-weight="normal" font-style="normal" >0.5</text>
<text x="377.60" y="93.30" font-size="4.25" text-anchor="start" fill="#444" font-weight="normal" font-style="normal" >0</text>
<text x="334.30" y="107.60" font-size="4.45" text-anchor="start" fill="#222" font-weight="normal" font-style="normal" >Histology</text>
<rect x="334.30" y="110.31" width="3.00" height="3.98" fill="#1a3a6a" />
<text transform="translate(338.60,113.85) scale(0.86,1)" font-size="4.7" fill="#2a2a2a">Acinar adenocarcinoma (AA)</text>
<rect x="334.30" y="114.26" width="3.00" height="3.98" fill="#c8cce4" />
<text transform="translate(338.60,117.80) scale(0.86,1)" font-size="4.7" fill="#2a2a2a">PCa with features of SCC and AA</text>
<rect x="334.30" y="118.21" width="3.00" height="3.98" fill="#e4c4d8" />
<text transform="translate(338.60,121.75) scale(0.86,1)" font-size="4.7" fill="#2a2a2a">PCa with NE differentiation</text>
<text x="334.3" y="138.6" font-size="4.45" fill="#222"><tspan font-style="italic">TMPRSS2-ERG</tspan>fusion</text>
<rect x="334.30" y="140.31" width="3.00" height="3.98" fill="#222222" />
<text transform="translate(338.60,143.85) scale(0.86,1)" font-size="4.7" fill="#2a2a2a">Yes</text>
<rect x="334.30" y="144.21" width="3.00" height="3.98" fill="#909090" />
<text transform="translate(338.60,147.75) scale(0.86,1)" font-size="4.7" fill="#2a2a2a">No</text>
<rect x="334.50" y="148.90" width="2.60" height="2.80" fill="#ffffff" stroke="#777" stroke-width="0.4"/>
<text transform="translate(338.60,151.85) scale(0.86,1)" font-size="4.7" fill="#2a2a2a">NA</text>
<text x="334.3" y="160.9" font-size="4.45" fill="#222"><tspan font-style="italic">TP53</tspan>/<tspan font-style="italic">SPOP</tspan> mutation</text>
<rect x="334.30" y="162.21" width="3.00" height="3.98" fill="#3a7ab8" />
<text transform="translate(338.60,165.75) scale(0.86,1)" font-size="4.7" fill="#2a2a2a">Frame_Shift_Del</text>
<rect x="334.30" y="166.19" width="3.00" height="3.98" fill="#2f5f8f" />
<text transform="translate(338.60,169.73) scale(0.86,1)" font-size="4.7" fill="#2a2a2a">Nonsense_Mutation</text>
<rect x="334.30" y="170.17" width="3.00" height="3.98" fill="#3a8a5a" />
<text transform="translate(338.60,173.71) scale(0.86,1)" font-size="4.7" fill="#2a2a2a">Missense_Mutation</text>
<rect x="334.30" y="174.15" width="3.00" height="3.98" fill="#1a5a3a" />
<text transform="translate(338.60,177.69) scale(0.86,1)" font-size="4.7" fill="#2a2a2a">Frame_Shift_Ins</text>
<rect x="334.30" y="178.13" width="3.00" height="3.98" fill="#d0203a" />
<text transform="translate(338.60,181.67) scale(0.86,1)" font-size="4.7" fill="#2a2a2a">In_Frame_Ins</text>
<rect x="334.30" y="182.11" width="3.00" height="3.98" fill="#3a9a5a" />
<text transform="translate(338.60,185.65) scale(0.86,1)" font-size="4.7" fill="#2a2a2a">Splice_Site</text>
<rect x="334.30" y="186.09" width="3.00" height="3.98" fill="#6a9a9a" />
<text transform="translate(338.60,189.63) scale(0.86,1)" font-size="4.7" fill="#2a2a2a">In_Frame_Del</text>
<rect x="334.30" y="190.07" width="3.00" height="3.98" fill="#1a4a6a" />
<text transform="translate(338.60,193.61) scale(0.86,1)" font-size="4.7" fill="#2a2a2a">Nonstop_Mutation</text>
<rect x="334.30" y="194.05" width="3.00" height="3.98" fill="#8a5a50" />
<text transform="translate(338.60,197.59) scale(0.86,1)" font-size="4.7" fill="#2a2a2a">Fusion</text>
<rect x="334.30" y="198.03" width="3.00" height="3.98" fill="#e8906a" />
<text transform="translate(338.60,201.57) scale(0.86,1)" font-size="4.7" fill="#2a2a2a">Multi_Hit</text>
<rect x="334.30" y="202.01" width="3.00" height="3.98" fill="#b8b8b8" />
<text transform="translate(338.60,205.55) scale(0.86,1)" font-size="4.7" fill="#2a2a2a">Novel</text>
<rect x="334.50" y="206.58" width="2.60" height="2.80" fill="#ffffff" stroke="#777" stroke-width="0.4"/>
<text transform="translate(338.60,209.53) scale(0.86,1)" font-size="4.7" fill="#2a2a2a">NA</text>
<text x="380.8" y="160.9" font-size="4.45" fill="#222"><tspan font-style="italic">PTEN</tspan>/<tspan font-style="italic">AR</tspan> CNA</text>
<rect x="380.80" y="162.21" width="3.00" height="3.98" fill="#a82020" />
<text transform="translate(385.10,165.75) scale(0.86,1)" font-size="4.7" fill="#2a2a2a">Amplification</text>
<rect x="380.80" y="166.19" width="3.00" height="3.98" fill="#eca898" />
<text transform="translate(385.10,169.73) scale(0.86,1)" font-size="4.7" fill="#2a2a2a">Gain</text>
<rect x="380.80" y="170.17" width="3.00" height="3.98" fill="#dcdcdc" />
<text transform="translate(385.10,173.71) scale(0.86,1)" font-size="4.7" fill="#2a2a2a">No change</text>
<rect x="380.80" y="174.15" width="3.00" height="3.98" fill="#a8cce8" />
<text transform="translate(385.10,177.69) scale(0.86,1)" font-size="4.7" fill="#2a2a2a">Loss</text>
<rect x="380.80" y="178.13" width="3.00" height="3.98" fill="#1a4a8a" />
<text transform="translate(385.10,181.67) scale(0.86,1)" font-size="4.7" fill="#2a2a2a">Deletion</text>
<rect x="381.00" y="182.70" width="2.60" height="2.80" fill="#ffffff" stroke="#777" stroke-width="0.4"/>
<text transform="translate(385.10,185.65) scale(0.86,1)" font-size="4.7" fill="#2a2a2a">NA</text>
<rect x="435.40" y="29.20" width="24.40" height="29.15" fill="#d96a60" />
<rect x="459.80" y="29.20" width="24.20" height="29.15" fill="#c8282e" />
<text x="447.60" y="46.25" font-size="5.6" text-anchor="middle" fill="#333" font-weight="normal" font-style="normal" >0.45</text>
<text x="471.90" y="46.25" font-size="5.6" text-anchor="middle" fill="#333" font-weight="normal" font-style="normal" >0.66</text>
<line x1="486.80" y1="43.75" x2="488.60" y2="43.75" stroke="#333" stroke-width="0.6"/>
<text x="489.60" y="46.05" font-size="5.45" text-anchor="start" fill="#222" font-weight="normal" font-style="normal" >Island</text>
<rect x="435.40" y="58.30" width="24.40" height="29.15" fill="#6c9bd0" />
<rect x="459.80" y="58.30" width="24.20" height="29.15" fill="#3b78b8" />
<text x="447.60" y="75.35" font-size="5.6" text-anchor="middle" fill="#333" font-weight="normal" font-style="normal" >&#8722;0.42</text>
<text x="471.90" y="75.35" font-size="5.6" text-anchor="middle" fill="#333" font-weight="normal" font-style="normal" >&#8722;0.66</text>
<line x1="486.80" y1="72.85" x2="488.60" y2="72.85" stroke="#333" stroke-width="0.6"/>
<text x="489.60" y="75.15" font-size="5.45" text-anchor="start" fill="#222" font-weight="normal" font-style="normal" >Open Sea</text>
<rect x="435.40" y="87.40" width="24.40" height="29.15" fill="#fbe2dd" />
<rect x="459.80" y="87.40" width="24.20" height="29.15" fill="#fbe0da" />
<text x="447.60" y="104.45" font-size="5.6" text-anchor="middle" fill="#333" font-weight="normal" font-style="normal" >0.09</text>
<text x="471.90" y="104.45" font-size="5.6" text-anchor="middle" fill="#333" font-weight="normal" font-style="normal" >0.1</text>
<line x1="486.80" y1="101.95" x2="488.60" y2="101.95" stroke="#333" stroke-width="0.6"/>
<text x="489.60" y="104.25" font-size="5.45" text-anchor="start" fill="#222" font-weight="normal" font-style="normal" >North Shore</text>
<rect x="435.40" y="116.50" width="24.40" height="29.15" fill="#eef2f8" />
<rect x="459.80" y="116.50" width="24.20" height="29.15" fill="#e2e9f3" />
<text x="447.60" y="133.55" font-size="5.6" text-anchor="middle" fill="#333" font-weight="normal" font-style="normal" >&#8722;0.04</text>
<text x="471.90" y="133.55" font-size="5.6" text-anchor="middle" fill="#333" font-weight="normal" font-style="normal" >&#8722;0.08</text>
<line x1="486.80" y1="131.05" x2="488.60" y2="131.05" stroke="#333" stroke-width="0.6"/>
<text x="489.60" y="133.35" font-size="5.45" text-anchor="start" fill="#222" font-weight="normal" font-style="normal" >North Shelf</text>
<rect x="435.40" y="145.60" width="24.40" height="29.15" fill="#fbe6e2" />
<rect x="459.80" y="145.60" width="24.20" height="29.15" fill="#fbe6e2" />
<text x="447.60" y="162.65" font-size="5.6" text-anchor="middle" fill="#333" font-weight="normal" font-style="normal" >0.07</text>
<text x="471.90" y="162.65" font-size="5.6" text-anchor="middle" fill="#333" font-weight="normal" font-style="normal" >0.07</text>
<line x1="486.80" y1="160.15" x2="488.60" y2="160.15" stroke="#333" stroke-width="0.6"/>
<text x="489.60" y="162.45" font-size="5.45" text-anchor="start" fill="#222" font-weight="normal" font-style="normal" >South Shore</text>
<rect x="435.40" y="174.70" width="24.40" height="29.15" fill="#eef2f8" />
<rect x="459.80" y="174.70" width="24.20" height="29.15" fill="#e2e9f3" />
<text x="447.60" y="191.75" font-size="5.6" text-anchor="middle" fill="#333" font-weight="normal" font-style="normal" >&#8722;0.04</text>
<text x="471.90" y="191.75" font-size="5.6" text-anchor="middle" fill="#333" font-weight="normal" font-style="normal" >&#8722;0.08</text>
<line x1="486.80" y1="189.25" x2="488.60" y2="189.25" stroke="#333" stroke-width="0.6"/>
<text x="489.60" y="191.55" font-size="5.45" text-anchor="start" fill="#222" font-weight="normal" font-style="normal" >South Shelf</text>
<line x1="486.80" y1="26.00" x2="486.80" y2="206.60" stroke="#444" stroke-width="1.0"/>
<line x1="432.50" y1="206.10" x2="487.30" y2="206.10" stroke="#444" stroke-width="1.0"/>
<text x="447.60" y="21.30" font-size="4.7" text-anchor="middle" fill="#777" font-weight="normal" font-style="normal" >14.6 M</text>
<text x="447.60" y="27.30" font-size="4.7" text-anchor="middle" fill="#777" font-weight="normal" font-style="normal" >CpGs</text>
<text x="471.90" y="21.30" font-size="4.7" text-anchor="middle" fill="#777" font-weight="normal" font-style="normal" >4 M</text>
<text x="471.90" y="27.30" font-size="4.7" text-anchor="middle" fill="#777" font-weight="normal" font-style="normal" >CpGs</text>
<text x="447.60" y="213.80" font-size="4.8" text-anchor="middle" fill="#777" font-weight="normal" font-style="normal" >below &#8722;2</text>
<text x="447.60" y="219.50" font-size="4.8" text-anchor="middle" fill="#777" font-weight="normal" font-style="normal" >above 2</text>
<text x="471.90" y="213.80" font-size="4.8" text-anchor="middle" fill="#777" font-weight="normal" font-style="normal" >below &#8722;10</text>
<text x="471.90" y="219.50" font-size="4.8" text-anchor="middle" fill="#777" font-weight="normal" font-style="normal" >above 3</text>
<text x="458.50" y="230.30" font-size="5.4" text-anchor="middle" fill="#333" font-weight="normal" font-style="normal" >log<tspan font-size="3.6" dy="1.2">2</tspan><tspan dy="-1.2"> difference to</tspan></text>
<text x="458.50" y="237.00" font-size="5.35" text-anchor="middle" fill="#333" font-weight="normal" font-style="normal" >normal cutoff</text>
<line x1="140.30" y1="254.60" x2="140.30" y2="338.80" stroke="#444" stroke-width="0.6"/>
<line x1="140.00" y1="338.50" x2="250.00" y2="338.50" stroke="#444" stroke-width="0.6"/>
<line x1="138.80" y1="276.50" x2="140.30" y2="276.50" stroke="#444" stroke-width="0.5"/>
<text x="138.20" y="278.40" font-size="5.4" text-anchor="end" fill="#444" font-weight="normal" font-style="normal" >2,000</text>
<line x1="138.80" y1="305.80" x2="140.30" y2="305.80" stroke="#444" stroke-width="0.5"/>
<text x="138.20" y="307.70" font-size="5.4" text-anchor="end" fill="#444" font-weight="normal" font-style="normal" >1,000</text>
<line x1="138.80" y1="335.20" x2="140.30" y2="335.20" stroke="#444" stroke-width="0.5"/>
<text x="138.20" y="337.10" font-size="5.4" text-anchor="end" fill="#444" font-weight="normal" font-style="normal" >0</text>
<line x1="164.20" y1="338.50" x2="164.20" y2="340.00" stroke="#444" stroke-width="0.5"/>
<line x1="202.30" y1="338.50" x2="202.30" y2="340.00" stroke="#444" stroke-width="0.5"/>
<line x1="240.00" y1="338.50" x2="240.00" y2="340.00" stroke="#444" stroke-width="0.5"/>
<rect x="146.40" y="272.80" width="17.80" height="62.40" fill="#b8242c" />
<rect x="164.20" y="330.00" width="16.60" height="5.20" fill="#3a7ab4" />
<rect x="185.40" y="258.50" width="16.90" height="76.70" fill="#b8242c" />
<rect x="202.30" y="329.30" width="17.30" height="5.90" fill="#3a7ab4" />
<rect x="223.50" y="334.20" width="17.30" height="1.00" fill="#d87070" />
<text transform="translate(119.4,294.6) rotate(-90)" font-size="7" text-anchor="middle" fill="#222">DMRs</text>
<text x="160.00" y="346.80" font-size="5.0" text-anchor="middle" fill="#333" font-weight="normal" font-style="normal" >Primaries</text>
<text x="160.00" y="352.40" font-size="5.0" text-anchor="middle" fill="#333" font-weight="normal" font-style="normal" >vs. normal prostate</text>
<text x="205.00" y="346.80" font-size="5.0" text-anchor="middle" fill="#333" font-weight="normal" font-style="normal" >Metastases</text>
<text x="205.00" y="352.40" font-size="5.0" text-anchor="middle" fill="#333" font-weight="normal" font-style="normal" >vs. normal prostate</text>
<text x="241.50" y="346.80" font-size="5.0" text-anchor="middle" fill="#333" font-weight="normal" font-style="normal" >Metastases</text>
<text x="241.50" y="352.40" font-size="5.0" text-anchor="middle" fill="#333" font-weight="normal" font-style="normal" >vs. primary</text>
<rect x="210.00" y="356.60" width="4.60" height="5.20" fill="#b8242c" />
<text x="218.60" y="362.10" font-size="5.65" text-anchor="start" fill="#222" font-weight="normal" font-style="normal" >Hypermethylated</text>
<rect x="270.60" y="356.60" width="4.60" height="5.20" fill="#3a7ab4" />
<text x="278.80" y="362.10" font-size="5.65" text-anchor="start" fill="#222" font-weight="normal" font-style="normal" >Hypomethylated</text>
<line x1="289.20" y1="259.20" x2="289.20" y2="339.80" stroke="#444" stroke-width="0.6"/>
<line x1="289.00" y1="339.50" x2="413.50" y2="339.50" stroke="#444" stroke-width="0.6"/>
<line x1="287.70" y1="282.00" x2="289.20" y2="282.00" stroke="#444" stroke-width="0.5"/>
<text x="287.20" y="283.90" font-size="5.4" text-anchor="end" fill="#444" font-weight="normal" font-style="normal" >400</text>
<line x1="287.70" y1="309.00" x2="289.20" y2="309.00" stroke="#444" stroke-width="0.5"/>
<text x="287.20" y="310.90" font-size="5.4" text-anchor="end" fill="#444" font-weight="normal" font-style="normal" >200</text>
<line x1="287.70" y1="336.00" x2="289.20" y2="336.00" stroke="#444" stroke-width="0.5"/>
<text x="287.20" y="337.90" font-size="5.4" text-anchor="end" fill="#444" font-weight="normal" font-style="normal" >0</text>
<line x1="323.80" y1="339.50" x2="323.80" y2="341.00" stroke="#444" stroke-width="0.5"/>
<line x1="381.30" y1="339.50" x2="381.30" y2="341.00" stroke="#444" stroke-width="0.5"/>
<rect x="298.70" y="262.80" width="25.10" height="72.80" fill="#b8242c" />
<rect x="323.80" y="322.50" width="25.70" height="13.10" fill="#3a7ab4" />
<rect x="355.70" y="330.00" width="25.60" height="5.60" fill="#b8242c" />
<rect x="381.30" y="313.70" width="25.70" height="21.90" fill="#3a7ab4" />
<text transform="translate(273.6,295.6) rotate(-90)" font-size="7" text-anchor="middle" fill="#222">DMRs</text>
<text x="323.8" y="346.0" font-size="5.0" text-anchor="middle" fill="#333"><tspan font-style="italic">SPOP</tspan> mutant metastases</text>
<text x="323.80" y="351.60" font-size="5.0" text-anchor="middle" fill="#333" font-weight="normal" font-style="normal" >over other metastases</text>
<text x="381.5" y="346.0" font-size="5.0" text-anchor="middle" fill="#333"><tspan font-style="italic">TMPRSS2-ERG</tspan> fusion</text>
<text x="381.50" y="351.60" font-size="5.0" text-anchor="middle" fill="#333" font-weight="normal" font-style="normal" >metastases</text>
<text x="381.50" y="357.40" font-size="5.0" text-anchor="middle" fill="#333" font-weight="normal" font-style="normal" >over other metastases</text>
<text x="150.95" y="385.60" font-size="6.0" text-anchor="middle" fill="#222" font-weight="normal" font-style="normal" >Hypermethylated CpGs</text>
<rect x="39.80" y="399.70" width="37.13" height="10.40" fill="#d9e4f0" />
<rect x="76.88" y="399.70" width="37.13" height="10.40" fill="#e1e9f4" />
<rect x="113.96" y="399.70" width="37.13" height="10.40" fill="#f8d8d3" />
<rect x="151.04" y="399.70" width="37.13" height="10.40" fill="#f6cec9" />
<rect x="188.12" y="399.70" width="37.13" height="10.40" fill="#fce9e5" />
<rect x="225.20" y="399.70" width="37.13" height="10.40" fill="#dbe5f1" />
<text x="58.34" y="406.70" font-size="5.1" text-anchor="middle" fill="#3a3a3a" font-weight="normal" font-style="normal" >0.8</text>
<text x="95.42" y="406.70" font-size="5.1" text-anchor="middle" fill="#3a3a3a" font-weight="normal" font-style="normal" >0.85</text>
<text x="132.50" y="406.70" font-size="5.1" text-anchor="middle" fill="#3a3a3a" font-weight="normal" font-style="normal" >1.21</text>
<text x="169.58" y="406.70" font-size="5.1" text-anchor="middle" fill="#3a3a3a" font-weight="normal" font-style="normal" >1.3</text>
<text x="206.66" y="406.70" font-size="5.1" text-anchor="middle" fill="#3a3a3a" font-weight="normal" font-style="normal" >1.09</text>
<text x="243.74" y="406.70" font-size="5.1" text-anchor="middle" fill="#3a3a3a" font-weight="normal" font-style="normal" >0.81</text>
<text x="150.95" y="395.00" font-size="4.8" text-anchor="middle" fill="#222" font-weight="normal" font-style="normal" >All metastases vs. normal prostate</text>
<line x1="36.50" y1="397.30" x2="265.40" y2="397.30" stroke="#444" stroke-width="0.8"/>
<rect x="39.80" y="422.90" width="37.13" height="10.40" fill="#dce6f2" />
<rect x="76.88" y="422.90" width="37.13" height="10.40" fill="#d7e2f0" />
<rect x="113.96" y="422.90" width="37.13" height="10.40" fill="#f9dcd7" />
<rect x="151.04" y="422.90" width="37.13" height="10.40" fill="#f6cdc7" />
<rect x="188.12" y="422.90" width="37.13" height="10.40" fill="#faebe8" />
<rect x="225.20" y="422.90" width="37.13" height="10.40" fill="#cddaec" />
<text x="58.34" y="429.90" font-size="5.1" text-anchor="middle" fill="#3a3a3a" font-weight="normal" font-style="normal" >0.82</text>
<text x="95.42" y="429.90" font-size="5.1" text-anchor="middle" fill="#3a3a3a" font-weight="normal" font-style="normal" >0.79</text>
<text x="132.50" y="429.90" font-size="5.1" text-anchor="middle" fill="#3a3a3a" font-weight="normal" font-style="normal" >1.18</text>
<text x="169.58" y="429.90" font-size="5.1" text-anchor="middle" fill="#3a3a3a" font-weight="normal" font-style="normal" >1.32</text>
<text x="206.66" y="429.90" font-size="5.1" text-anchor="middle" fill="#3a3a3a" font-weight="normal" font-style="normal" >1.07</text>
<text x="243.74" y="429.90" font-size="5.1" text-anchor="middle" fill="#3a3a3a" font-weight="normal" font-style="normal" >0.73</text>
<text x="150.95" y="418.20" font-size="4.8" text-anchor="middle" fill="#222" font-weight="normal" font-style="normal" ><tspan font-style="italic">SPOP</tspan> mutant metastases vs. normal prostate</text>
<line x1="36.50" y1="420.50" x2="265.40" y2="420.50" stroke="#444" stroke-width="0.8"/>
<line x1="36.50" y1="411.90" x2="265.40" y2="411.90" stroke="#666" stroke-width="1.1"/>
<rect x="39.80" y="446.10" width="37.13" height="10.40" fill="#dce6f2" />
<rect x="76.88" y="446.10" width="37.13" height="10.40" fill="#e9eef6" />
<rect x="113.96" y="446.10" width="37.13" height="10.40" fill="#f7d1cb" />
<rect x="151.04" y="446.10" width="37.13" height="10.40" fill="#fadfda" />
<rect x="188.12" y="446.10" width="37.13" height="10.40" fill="#fae0dc" />
<rect x="225.20" y="446.10" width="37.13" height="10.40" fill="#e8eef6" />
<text x="58.34" y="453.10" font-size="5.1" text-anchor="middle" fill="#3a3a3a" font-weight="normal" font-style="normal" >0.82</text>
<text x="95.42" y="453.10" font-size="5.1" text-anchor="middle" fill="#3a3a3a" font-weight="normal" font-style="normal" >0.9</text>
<text x="132.50" y="453.10" font-size="5.1" text-anchor="middle" fill="#3a3a3a" font-weight="normal" font-style="normal" >1.27</text>
<text x="169.58" y="453.10" font-size="5.1" text-anchor="middle" fill="#3a3a3a" font-weight="normal" font-style="normal" >1.16</text>
<text x="206.66" y="453.10" font-size="5.1" text-anchor="middle" fill="#3a3a3a" font-weight="normal" font-style="normal" >1.15</text>
<text x="243.74" y="453.10" font-size="5.1" text-anchor="middle" fill="#3a3a3a" font-weight="normal" font-style="normal" >0.89</text>
<text x="150.95" y="441.40" font-size="4.8" text-anchor="middle" fill="#222" font-weight="normal" font-style="normal" ><tspan font-style="italic">TMPRSS2-ERG</tspan> metastases vs. normal prostate</text>
<line x1="36.50" y1="443.70" x2="265.40" y2="443.70" stroke="#444" stroke-width="0.8"/>
<line x1="36.50" y1="435.10" x2="265.40" y2="435.10" stroke="#666" stroke-width="1.1"/>
<rect x="39.80" y="469.30" width="37.13" height="10.40" fill="#5b8dc6" />
<rect x="76.88" y="469.30" width="37.13" height="10.40" fill="#5f90c8" />
<rect x="113.96" y="469.30" width="37.13" height="10.40" fill="#f3bdb9" />
<rect x="151.04" y="469.30" width="37.13" height="10.40" fill="#d1615d" />
<rect x="188.12" y="469.30" width="37.13" height="10.40" fill="#f4c1bc" />
<rect x="225.20" y="469.30" width="37.13" height="10.40" fill="#6392c9" />
<rect x="40.05" y="469.55" width="36.58" height="9.90" fill="none" stroke="#333" stroke-opacity="0.45" stroke-width="0.5"/>
<text x="58.34" y="476.30" font-size="5.1" text-anchor="middle" fill="#3a3a3a" font-weight="normal" font-style="normal" >0.35</text>
<rect x="77.13" y="469.55" width="36.58" height="9.90" fill="none" stroke="#333" stroke-opacity="0.45" stroke-width="0.5"/>
<text x="95.42" y="476.30" font-size="5.1" text-anchor="middle" fill="#3a3a3a" font-weight="normal" font-style="normal" >0.36</text>
<text x="132.50" y="476.30" font-size="5.1" text-anchor="middle" fill="#3a3a3a" font-weight="normal" font-style="normal" >1.51</text>
<rect x="151.29" y="469.55" width="36.58" height="9.90" fill="none" stroke="#333" stroke-opacity="0.45" stroke-width="0.5"/>
<text x="169.58" y="476.30" font-size="5.1" text-anchor="middle" fill="#3a3a3a" font-weight="normal" font-style="normal" >2.86</text>
<text x="206.66" y="476.30" font-size="5.1" text-anchor="middle" fill="#3a3a3a" font-weight="normal" font-style="normal" >1.46</text>
<rect x="225.45" y="469.55" width="36.58" height="9.90" fill="none" stroke="#333" stroke-opacity="0.45" stroke-width="0.5"/>
<text x="243.74" y="476.30" font-size="5.1" text-anchor="middle" fill="#3a3a3a" font-weight="normal" font-style="normal" >0.37</text>
<text x="150.95" y="464.60" font-size="4.8" text-anchor="middle" fill="#222" font-weight="normal" font-style="normal" ><tspan font-style="italic">SPOP</tspan> mutant specific metastasis</text>
<line x1="36.50" y1="466.90" x2="265.40" y2="466.90" stroke="#444" stroke-width="0.8"/>
<line x1="36.50" y1="458.30" x2="265.40" y2="458.30" stroke="#666" stroke-width="1.1"/>
<rect x="39.80" y="492.50" width="37.13" height="10.40" fill="#f5cac4" />
<rect x="76.88" y="492.50" width="37.13" height="10.40" fill="#c6c6c6" />
<rect x="113.96" y="492.50" width="37.13" height="10.40" fill="#c6c6c6" />
<rect x="151.04" y="492.50" width="37.13" height="10.40" fill="#b4c8e4" />
<rect x="188.12" y="492.50" width="37.13" height="10.40" fill="#c6c6c6" />
<rect x="225.20" y="492.50" width="37.13" height="10.40" fill="#c6c6c6" />
<text x="58.34" y="499.50" font-size="5.1" text-anchor="middle" fill="#3a3a3a" font-weight="normal" font-style="normal" >1.35</text>
<text x="95.42" y="499.50" font-size="5.1" text-anchor="middle" fill="#3a3a3a" font-weight="normal" font-style="normal" >NA</text>
<text x="132.50" y="499.50" font-size="5.1" text-anchor="middle" fill="#3a3a3a" font-weight="normal" font-style="normal" >NA</text>
<text x="169.58" y="499.50" font-size="5.1" text-anchor="middle" fill="#3a3a3a" font-weight="normal" font-style="normal" >0.59</text>
<text x="206.66" y="499.50" font-size="5.1" text-anchor="middle" fill="#3a3a3a" font-weight="normal" font-style="normal" >NA</text>
<text x="243.74" y="499.50" font-size="5.1" text-anchor="middle" fill="#3a3a3a" font-weight="normal" font-style="normal" >NA</text>
<text x="150.95" y="487.80" font-size="4.8" text-anchor="middle" fill="#222" font-weight="normal" font-style="normal" ><tspan font-style="italic">TMPRSS2-ERG</tspan> specific metastasis</text>
<line x1="36.50" y1="490.10" x2="265.40" y2="490.10" stroke="#444" stroke-width="0.8"/>
<line x1="36.50" y1="481.50" x2="265.40" y2="481.50" stroke="#666" stroke-width="1.1"/>
<line x1="36.50" y1="388.50" x2="265.40" y2="388.50" stroke="#444" stroke-width="0.9"/>
<line x1="36.50" y1="505.00" x2="265.40" y2="505.00" stroke="#555" stroke-width="1.0"/>
<line x1="36.50" y1="388.50" x2="36.50" y2="505.50" stroke="#444" stroke-width="0.9"/>
<line x1="265.40" y1="388.50" x2="265.40" y2="505.50" stroke="#444" stroke-width="0.9"/>
<line x1="58.34" y1="504.50" x2="58.34" y2="506.00" stroke="#444" stroke-width="0.5"/>
<text x="58.34" y="512.40" font-size="5.0" text-anchor="middle" fill="#333" font-weight="normal" font-style="normal" >Open Sea</text>
<line x1="95.42" y1="504.50" x2="95.42" y2="506.00" stroke="#444" stroke-width="0.5"/>
<text x="95.42" y="512.40" font-size="5.0" text-anchor="middle" fill="#333" font-weight="normal" font-style="normal" >North Shelf</text>
<line x1="132.50" y1="504.50" x2="132.50" y2="506.00" stroke="#444" stroke-width="0.5"/>
<text x="132.50" y="512.40" font-size="5.0" text-anchor="middle" fill="#333" font-weight="normal" font-style="normal" >North Shore</text>
<line x1="169.58" y1="504.50" x2="169.58" y2="506.00" stroke="#444" stroke-width="0.5"/>
<text x="169.58" y="512.40" font-size="5.0" text-anchor="middle" fill="#333" font-weight="normal" font-style="normal" >CpG Island</text>
<line x1="206.66" y1="504.50" x2="206.66" y2="506.00" stroke="#444" stroke-width="0.5"/>
<text x="206.66" y="512.40" font-size="5.0" text-anchor="middle" fill="#333" font-weight="normal" font-style="normal" >South Shore</text>
<line x1="243.74" y1="504.50" x2="243.74" y2="506.00" stroke="#444" stroke-width="0.5"/>
<text x="243.74" y="512.40" font-size="5.0" text-anchor="middle" fill="#333" font-weight="normal" font-style="normal" >South Shelf</text>
<text x="380.15" y="385.60" font-size="6.0" text-anchor="middle" fill="#222" font-weight="normal" font-style="normal" >Hypomethylated CpGs</text>
<rect x="269.20" y="399.70" width="37.23" height="10.40" fill="#e08583" />
<rect x="306.38" y="399.70" width="37.23" height="10.40" fill="#d1dded" />
<rect x="343.56" y="399.70" width="37.23" height="10.40" fill="#ebeff5" />
<rect x="380.74" y="399.70" width="37.23" height="10.40" fill="#3f78b8" />
<rect x="417.92" y="399.70" width="37.23" height="10.40" fill="#e9eef6" />
<rect x="455.10" y="399.70" width="37.23" height="10.40" fill="#dce6f2" />
<text x="287.79" y="406.70" font-size="5.1" text-anchor="middle" fill="#3a3a3a" font-weight="normal" font-style="normal" >2.13</text>
<text x="324.97" y="406.70" font-size="5.1" text-anchor="middle" fill="#3a3a3a" font-weight="normal" font-style="normal" >0.75</text>
<text x="362.15" y="406.70" font-size="5.1" text-anchor="middle" fill="#3a3a3a" font-weight="normal" font-style="normal" >0.91</text>
<text x="399.33" y="406.70" font-size="5.1" text-anchor="middle" fill="#3a3a3a" font-weight="normal" font-style="normal" >0.24</text>
<text x="436.51" y="406.70" font-size="5.1" text-anchor="middle" fill="#3a3a3a" font-weight="normal" font-style="normal" >0.9</text>
<text x="473.69" y="406.70" font-size="5.1" text-anchor="middle" fill="#3a3a3a" font-weight="normal" font-style="normal" >0.82</text>
<text x="380.15" y="395.00" font-size="4.8" text-anchor="middle" fill="#222" font-weight="normal" font-style="normal" >All metastases vs. normal prostate</text>
<line x1="265.40" y1="397.30" x2="494.90" y2="397.30" stroke="#444" stroke-width="0.8"/>
<rect x="269.20" y="422.90" width="37.23" height="10.40" fill="#d86d6b" />
<rect x="306.38" y="422.90" width="37.23" height="10.40" fill="#dce6f2" />
<rect x="343.56" y="422.90" width="37.23" height="10.40" fill="#d7e2f0" />
<rect x="380.74" y="422.90" width="37.23" height="10.40" fill="#3c73b3" />
<rect x="417.92" y="422.90" width="37.23" height="10.40" fill="#d7e2f0" />
<rect x="455.10" y="422.90" width="37.23" height="10.40" fill="#dee7f2" />
<text x="287.79" y="429.90" font-size="5.1" text-anchor="middle" fill="#3a3a3a" font-weight="normal" font-style="normal" >2.44</text>
<text x="324.97" y="429.90" font-size="5.1" text-anchor="middle" fill="#3a3a3a" font-weight="normal" font-style="normal" >0.82</text>
<text x="362.15" y="429.90" font-size="5.1" text-anchor="middle" fill="#3a3a3a" font-weight="normal" font-style="normal" >0.79</text>
<text x="399.33" y="429.90" font-size="5.1" text-anchor="middle" fill="#3a3a3a" font-weight="normal" font-style="normal" >0.2</text>
<text x="436.51" y="429.90" font-size="5.1" text-anchor="middle" fill="#3a3a3a" font-weight="normal" font-style="normal" >0.79</text>
<text x="473.69" y="429.90" font-size="5.1" text-anchor="middle" fill="#3a3a3a" font-weight="normal" font-style="normal" >0.83</text>
<text x="380.15" y="418.20" font-size="4.8" text-anchor="middle" fill="#222" font-weight="normal" font-style="normal" ><tspan font-style="italic">SPOP</tspan> mutant metastases vs. normal prostate</text>
<line x1="265.40" y1="420.50" x2="494.90" y2="420.50" stroke="#444" stroke-width="0.8"/>
<line x1="265.40" y1="411.90" x2="494.90" y2="411.90" stroke="#666" stroke-width="1.1"/>
<rect x="269.20" y="446.10" width="37.23" height="10.40" fill="#efafac" />
<rect x="306.38" y="446.10" width="37.23" height="10.40" fill="#cddaec" />
<rect x="343.56" y="446.10" width="37.23" height="10.40" fill="#c6c6c6" />
<rect x="380.74" y="446.10" width="37.23" height="10.40" fill="#5488c3" />
<rect x="417.92" y="446.10" width="37.23" height="10.40" fill="#fce7e3" />
<rect x="455.10" y="446.10" width="37.23" height="10.40" fill="#d6e1ef" />
<text x="287.79" y="453.10" font-size="5.1" text-anchor="middle" fill="#3a3a3a" font-weight="normal" font-style="normal" >1.73</text>
<text x="324.97" y="453.10" font-size="5.1" text-anchor="middle" fill="#3a3a3a" font-weight="normal" font-style="normal" >0.73</text>
<text x="362.15" y="453.10" font-size="5.1" text-anchor="middle" fill="#3a3a3a" font-weight="normal" font-style="normal" >NA</text>
<text x="399.33" y="453.10" font-size="5.1" text-anchor="middle" fill="#3a3a3a" font-weight="normal" font-style="normal" >0.32</text>
<text x="436.51" y="453.10" font-size="5.1" text-anchor="middle" fill="#3a3a3a" font-weight="normal" font-style="normal" >1.1</text>
<text x="473.69" y="453.10" font-size="5.1" text-anchor="middle" fill="#3a3a3a" font-weight="normal" font-style="normal" >0.78</text>
<text x="380.15" y="441.40" font-size="4.8" text-anchor="middle" fill="#222" font-weight="normal" font-style="normal" ><tspan font-style="italic">TMPRSS2-ERG</tspan> metastases vs. normal prostate</text>
<line x1="265.40" y1="443.70" x2="494.90" y2="443.70" stroke="#444" stroke-width="0.8"/>
<line x1="265.40" y1="435.10" x2="494.90" y2="435.10" stroke="#666" stroke-width="1.1"/>
<rect x="269.20" y="469.30" width="37.23" height="10.40" fill="#f0b2af" />
<rect x="306.38" y="469.30" width="37.23" height="10.40" fill="#c6c6c6" />
<rect x="343.56" y="469.30" width="37.23" height="10.40" fill="#e5ecf5" />
<rect x="380.74" y="469.30" width="37.23" height="10.40" fill="#79a1d0" />
<rect x="417.92" y="469.30" width="37.23" height="10.40" fill="#d7e2f0" />
<rect x="455.10" y="469.30" width="37.23" height="10.40" fill="#fadfda" />
<text x="287.79" y="476.30" font-size="5.1" text-anchor="middle" fill="#3a3a3a" font-weight="normal" font-style="normal" >1.68</text>
<text x="324.97" y="476.30" font-size="5.1" text-anchor="middle" fill="#3a3a3a" font-weight="normal" font-style="normal" >NA</text>
<text x="362.15" y="476.30" font-size="5.1" text-anchor="middle" fill="#3a3a3a" font-weight="normal" font-style="normal" >0.87</text>
<text x="399.33" y="476.30" font-size="5.1" text-anchor="middle" fill="#3a3a3a" font-weight="normal" font-style="normal" >0.43</text>
<text x="436.51" y="476.30" font-size="5.1" text-anchor="middle" fill="#3a3a3a" font-weight="normal" font-style="normal" >0.79</text>
<text x="473.69" y="476.30" font-size="5.1" text-anchor="middle" fill="#3a3a3a" font-weight="normal" font-style="normal" >1.16</text>
<text x="380.15" y="464.60" font-size="4.8" text-anchor="middle" fill="#222" font-weight="normal" font-style="normal" ><tspan font-style="italic">SPOP</tspan> mutant specific metastasis</text>
<line x1="265.40" y1="466.90" x2="494.90" y2="466.90" stroke="#444" stroke-width="0.8"/>
<line x1="265.40" y1="458.30" x2="494.90" y2="458.30" stroke="#666" stroke-width="1.1"/>
<rect x="269.20" y="492.50" width="37.23" height="10.40" fill="#f5c5c0" />
<rect x="306.38" y="492.50" width="37.23" height="10.40" fill="#becfe7" />
<rect x="343.56" y="492.50" width="37.23" height="10.40" fill="#c6c6c6" />
<rect x="380.74" y="492.50" width="37.23" height="10.40" fill="#c8d6ea" />
<rect x="417.92" y="492.50" width="37.23" height="10.40" fill="#c6c6c6" />
<rect x="455.10" y="492.50" width="37.23" height="10.40" fill="#bccde6" />
<text x="287.79" y="499.50" font-size="5.1" text-anchor="middle" fill="#3a3a3a" font-weight="normal" font-style="normal" >1.41</text>
<text x="324.97" y="499.50" font-size="5.1" text-anchor="middle" fill="#3a3a3a" font-weight="normal" font-style="normal" >0.64</text>
<text x="362.15" y="499.50" font-size="5.1" text-anchor="middle" fill="#3a3a3a" font-weight="normal" font-style="normal" >NA</text>
<text x="399.33" y="499.50" font-size="5.1" text-anchor="middle" fill="#3a3a3a" font-weight="normal" font-style="normal" >0.7</text>
<text x="436.51" y="499.50" font-size="5.1" text-anchor="middle" fill="#3a3a3a" font-weight="normal" font-style="normal" >NA</text>
<text x="473.69" y="499.50" font-size="5.1" text-anchor="middle" fill="#3a3a3a" font-weight="normal" font-style="normal" >0.63</text>
<text x="380.15" y="487.80" font-size="4.8" text-anchor="middle" fill="#222" font-weight="normal" font-style="normal" ><tspan font-style="italic">TMPRSS2-ERG</tspan> specific metastasis</text>
<line x1="265.40" y1="490.10" x2="494.90" y2="490.10" stroke="#444" stroke-width="0.8"/>
<line x1="265.40" y1="481.50" x2="494.90" y2="481.50" stroke="#666" stroke-width="1.1"/>
<line x1="265.40" y1="388.50" x2="494.90" y2="388.50" stroke="#444" stroke-width="0.9"/>
<line x1="265.40" y1="505.00" x2="494.90" y2="505.00" stroke="#555" stroke-width="1.0"/>
<line x1="265.40" y1="388.50" x2="265.40" y2="505.50" stroke="#444" stroke-width="0.9"/>
<line x1="494.90" y1="388.50" x2="494.90" y2="505.50" stroke="#444" stroke-width="0.9"/>
<line x1="287.79" y1="504.50" x2="287.79" y2="506.00" stroke="#444" stroke-width="0.5"/>
<text x="287.79" y="512.40" font-size="5.0" text-anchor="middle" fill="#333" font-weight="normal" font-style="normal" >Open Sea</text>
<line x1="324.97" y1="504.50" x2="324.97" y2="506.00" stroke="#444" stroke-width="0.5"/>
<text x="324.97" y="512.40" font-size="5.0" text-anchor="middle" fill="#333" font-weight="normal" font-style="normal" >North Shelf</text>
<line x1="362.15" y1="504.50" x2="362.15" y2="506.00" stroke="#444" stroke-width="0.5"/>
<text x="362.15" y="512.40" font-size="5.0" text-anchor="middle" fill="#333" font-weight="normal" font-style="normal" >North Shore</text>
<line x1="399.33" y1="504.50" x2="399.33" y2="506.00" stroke="#444" stroke-width="0.5"/>
<text x="399.33" y="512.40" font-size="5.0" text-anchor="middle" fill="#333" font-weight="normal" font-style="normal" >CpG Island</text>
<line x1="436.51" y1="504.50" x2="436.51" y2="506.00" stroke="#444" stroke-width="0.5"/>
<text x="436.51" y="512.40" font-size="5.0" text-anchor="middle" fill="#333" font-weight="normal" font-style="normal" >South Shore</text>
<line x1="473.69" y1="504.50" x2="473.69" y2="506.00" stroke="#444" stroke-width="0.5"/>
<text x="473.69" y="512.40" font-size="5.0" text-anchor="middle" fill="#333" font-weight="normal" font-style="normal" >South Shelf</text>
<text x="243.50" y="529.80" font-size="6.6" text-anchor="start" fill="#222" font-weight="normal" font-style="normal" >log<tspan font-size="4.2" dy="1.4">10</tspan><tspan dy="-1.4">(OR)</tspan></text>
<defs><linearGradient id="gor" x1="0" y1="0" x2="1" y2="0"><stop offset="0" stop-color="#3f70b2"/><stop offset="0.55" stop-color="#f4f2f6"/><stop offset="1" stop-color="#d66a5c"/></linearGradient></defs>
<rect x="274.60" y="522.30" width="26.20" height="4.40" fill="url(#gor)" />
<text x="280.00" y="530.60" font-size="2.8" text-anchor="middle" fill="#555" font-weight="normal" font-style="normal" >&#8722;0.50</text>
<text x="289.30" y="530.60" font-size="2.8" text-anchor="middle" fill="#555" font-weight="normal" font-style="normal" >0</text>
<text x="295.80" y="530.60" font-size="2.8" text-anchor="middle" fill="#555" font-weight="normal" font-style="normal" >0.25</text>
</svg>
</body></html>
